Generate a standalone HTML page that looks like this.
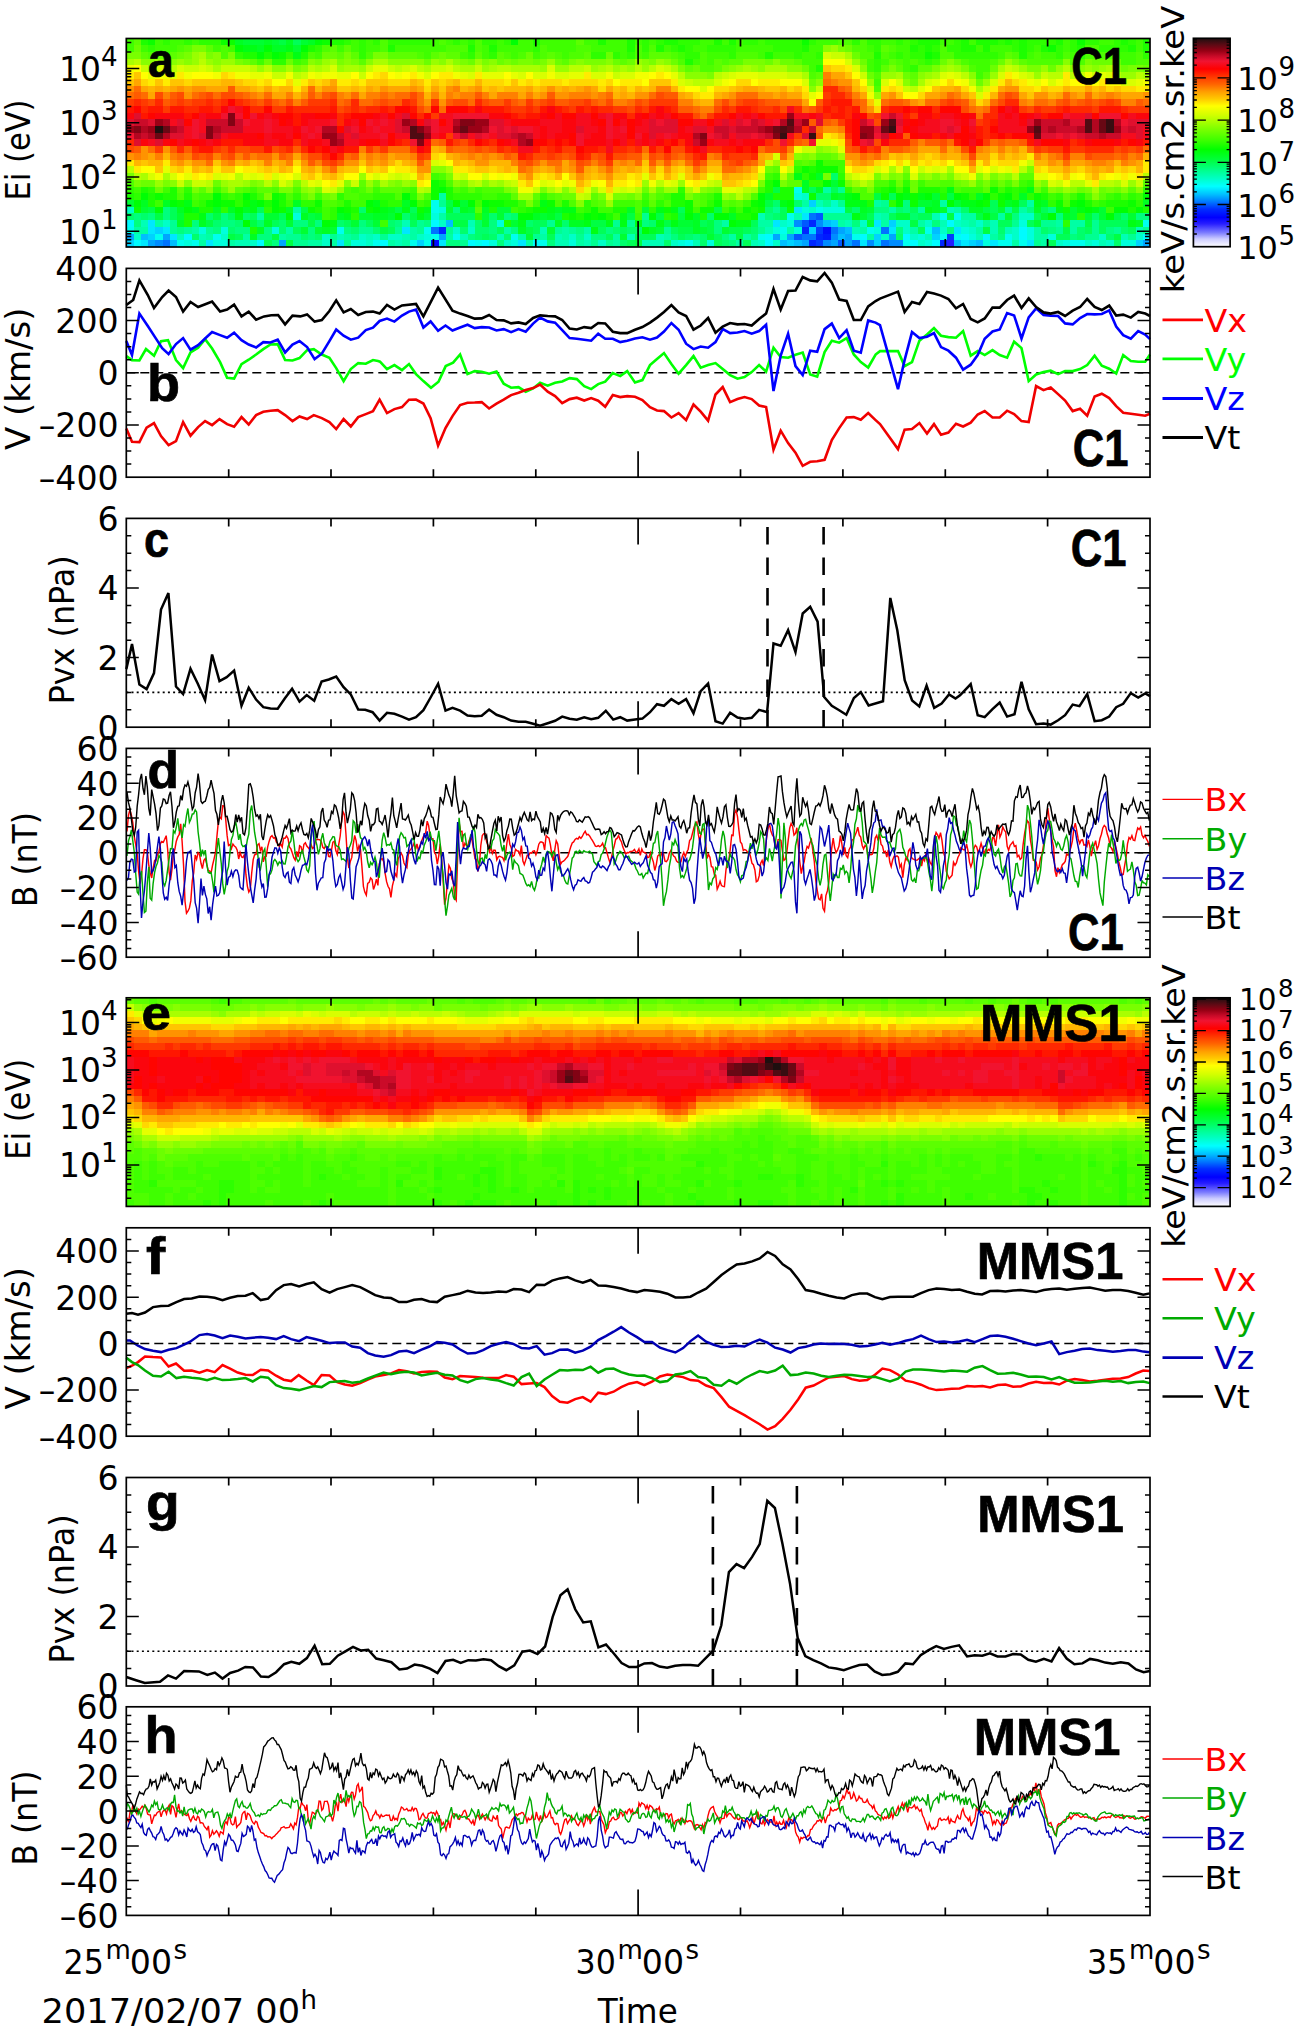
<!DOCTYPE html><html><head><meta charset="utf-8"><title>Figure</title><style>html,body{margin:0;padding:0;background:#fff}svg{display:block}</style></head><body>
<svg width="1299" height="2035" viewBox="0 0 1299 2035">
<rect width="1299" height="2035" fill="#fff"/>
<g shape-rendering="crispEdges">
<path fill="#251cff" d="M946.7 240.3H954.0V247.0H946.7z"/>
<path fill="#000bff" d="M823.3 226.8H830.5V233.5H823.3zM431.2 240.3H438.5V247.0H431.2z"/>
<path fill="#0019ff" d="M823.3 233.5H830.5V240.3H823.3z"/>
<path fill="#0027ff" d="M808.8 220.1H816.0V226.8H808.8zM438.5 226.8H445.8V233.5H438.5zM801.5 226.8H808.8V233.5H801.5zM816.0 233.5H823.3V240.3H816.0zM808.8 240.3H816.0V247.0H808.8zM939.5 240.3H946.7V247.0H939.5z"/>
<path fill="#003dff" d="M816.0 226.8H823.3V233.5H816.0zM946.7 233.5H954.0V240.3H946.7zM816.0 240.3H823.3V247.0H816.0z"/>
<path fill="#0058ff" d="M816.0 213.4H823.3V220.1H816.0zM801.5 220.1H808.8V226.8H801.5zM794.2 233.5H801.5V240.3H794.2zM837.8 240.3H845.1V247.0H837.8z"/>
<path fill="#0073ff" d="M808.8 213.4H816.0V220.1H808.8zM431.2 226.8H438.5V233.5H431.2zM830.5 226.8H837.8V233.5H830.5zM881.4 226.8H888.6V233.5H881.4zM801.5 233.5H816.0V240.3H801.5zM162.6 240.3H169.9V247.0H162.6zM852.3 240.3H859.6V247.0H852.3zM881.4 240.3H888.6V247.0H881.4z"/>
<path fill="#008cff" d="M794.2 220.1H801.5V226.8H794.2zM816.0 220.1H823.3V226.8H816.0zM830.5 233.5H837.8V240.3H830.5zM155.3 240.3H162.6V247.0H155.3zM823.3 240.3H830.5V247.0H823.3zM866.8 240.3H874.1V247.0H866.8zM888.6 240.3H903.2V247.0H888.6z"/>
<path fill="#00a5ff" d="M837.8 226.8H845.1V233.5H837.8zM126.3 233.5H133.6V240.3H126.3zM162.6 233.5H169.9V240.3H162.6zM438.5 233.5H445.8V240.3H438.5zM772.5 233.5H779.7V240.3H772.5zM787.0 233.5H794.2V240.3H787.0zM845.1 233.5H852.3V240.3H845.1zM888.6 233.5H895.9V240.3H888.6zM148.1 240.3H155.3V247.0H148.1zM278.8 240.3H286.0V247.0H278.8zM801.5 240.3H808.8V247.0H801.5zM830.5 240.3H837.8V247.0H830.5zM845.1 240.3H852.3V247.0H845.1zM1142.7 240.3H1150.0V247.0H1142.7z"/>
<path fill="#00beff" d="M445.8 220.1H453.0V226.8H445.8zM823.3 220.1H830.5V226.8H823.3zM845.1 226.8H852.3V233.5H845.1zM932.2 226.8H939.5V233.5H932.2zM140.8 233.5H148.1V240.3H140.8zM837.8 233.5H845.1V240.3H837.8zM169.9 240.3H177.1V247.0H169.9zM779.7 240.3H787.0V247.0H779.7zM794.2 240.3H801.5V247.0H794.2zM954.0 240.3H961.2V247.0H954.0zM975.8 240.3H983.0V247.0H975.8z"/>
<path fill="#00d2ff" d="M808.8 199.9H816.0V206.6H808.8zM830.5 220.1H837.8V226.8H830.5zM888.6 220.1H895.9V226.8H888.6zM155.3 226.8H162.6V233.5H155.3zM808.8 226.8H816.0V233.5H808.8zM148.1 233.5H155.3V240.3H148.1zM874.1 233.5H881.4V240.3H874.1zM932.2 233.5H939.5V240.3H932.2zM126.3 240.3H133.6V247.0H126.3zM416.7 240.3H424.0V247.0H416.7zM787.0 240.3H794.2V247.0H787.0zM874.1 240.3H881.4V247.0H874.1zM968.5 240.3H975.8V247.0H968.5zM1135.5 240.3H1142.7V247.0H1135.5z"/>
<path fill="#00e7ff" d="M794.2 206.6H801.5V213.4H794.2zM801.5 213.4H808.8V220.1H801.5zM148.1 220.1H155.3V226.8H148.1zM772.5 220.1H779.7V226.8H772.5zM874.1 220.1H881.4V226.8H874.1zM148.1 226.8H155.3V233.5H148.1zM162.6 226.8H169.9V233.5H162.6zM402.2 226.8H409.5V233.5H402.2zM888.6 226.8H895.9V233.5H888.6zM954.0 226.8H961.2V233.5H954.0zM169.9 233.5H177.1V240.3H169.9zM140.8 240.3H148.1V247.0H140.8zM206.2 240.3H213.4V247.0H206.2zM336.8 240.3H344.1V247.0H336.8zM438.5 240.3H445.8V247.0H438.5zM518.4 240.3H525.6V247.0H518.4zM859.6 240.3H866.8V247.0H859.6zM961.2 240.3H968.5V247.0H961.2zM990.3 240.3H997.5V247.0H990.3zM1026.6 240.3H1033.8V247.0H1026.6z"/>
<path fill="#00fbff" d="M126.3 220.1H133.6V226.8H126.3zM431.2 220.1H438.5V226.8H431.2zM946.7 220.1H954.0V226.8H946.7zM1019.3 226.8H1026.6V233.5H1019.3zM184.4 233.5H191.6V240.3H184.4zM765.2 233.5H772.5V240.3H765.2zM859.6 233.5H866.8V240.3H859.6zM903.2 233.5H910.4V240.3H903.2zM961.2 233.5H968.5V240.3H961.2zM983.0 233.5H990.3V240.3H983.0zM1019.3 233.5H1026.6V240.3H1019.3zM1142.7 233.5H1150.0V240.3H1142.7zM133.6 240.3H140.8V247.0H133.6zM257.0 240.3H264.2V247.0H257.0zM380.4 240.3H387.7V247.0H380.4zM467.5 240.3H474.8V247.0H467.5zM482.1 240.3H489.3V247.0H482.1zM532.9 240.3H540.1V247.0H532.9zM765.2 240.3H772.5V247.0H765.2zM910.4 240.3H917.7V247.0H910.4zM932.2 240.3H939.5V247.0H932.2z"/>
<path fill="#00ffef" d="M794.2 186.5H801.5V193.2H794.2zM431.2 199.9H438.5V206.6H431.2zM431.2 206.6H438.5V213.4H431.2zM816.0 206.6H823.3V213.4H816.0zM787.0 213.4H794.2V220.1H787.0zM939.5 213.4H946.7V220.1H939.5zM954.0 213.4H961.2V220.1H954.0zM1142.7 220.1H1150.0V226.8H1142.7zM126.3 226.8H133.6V233.5H126.3zM336.8 226.8H344.1V233.5H336.8zM424.0 226.8H431.2V233.5H424.0zM779.7 226.8H787.0V233.5H779.7zM866.8 226.8H874.1V233.5H866.8zM924.9 226.8H932.2V233.5H924.9zM155.3 233.5H162.6V240.3H155.3zM213.4 233.5H220.7V240.3H213.4zM431.2 233.5H438.5V240.3H431.2zM453.0 233.5H460.3V240.3H453.0zM511.1 233.5H518.4V240.3H511.1zM757.9 233.5H765.2V240.3H757.9zM852.3 233.5H859.6V240.3H852.3zM939.5 233.5H946.7V240.3H939.5zM954.0 233.5H961.2V240.3H954.0zM1004.8 233.5H1012.1V240.3H1004.8zM177.1 240.3H184.4V247.0H177.1zM191.6 240.3H198.9V247.0H191.6zM373.1 240.3H380.4V247.0H373.1zM409.5 240.3H416.7V247.0H409.5zM424.0 240.3H431.2V247.0H424.0zM474.8 240.3H482.1V247.0H474.8zM540.1 240.3H547.4V247.0H540.1zM685.3 240.3H692.6V247.0H685.3zM903.2 240.3H910.4V247.0H903.2zM997.5 240.3H1012.1V247.0H997.5zM1019.3 240.3H1026.6V247.0H1019.3zM1070.1 240.3H1084.7V247.0H1070.1z"/>
<path fill="#00ffdc" d="M794.2 193.2H801.5V199.9H794.2zM438.5 206.6H445.8V213.4H438.5zM801.5 206.6H808.8V213.4H801.5zM823.3 206.6H845.1V213.4H823.3zM293.3 213.4H300.5V220.1H293.3zM431.2 213.4H438.5V220.1H431.2zM496.6 220.1H503.8V226.8H496.6zM787.0 220.1H794.2V226.8H787.0zM1019.3 220.1H1026.6V226.8H1019.3zM198.9 226.8H206.2V233.5H198.9zM220.7 226.8H227.9V233.5H220.7zM271.5 226.8H278.8V233.5H271.5zM772.5 226.8H779.7V233.5H772.5zM794.2 226.8H801.5V233.5H794.2zM874.1 226.8H881.4V233.5H874.1zM961.2 226.8H968.5V233.5H961.2zM1026.6 226.8H1033.8V233.5H1026.6zM424.0 233.5H431.2V240.3H424.0zM779.7 233.5H787.0V240.3H779.7zM917.7 233.5H924.9V240.3H917.7zM968.5 233.5H975.8V240.3H968.5zM1026.6 233.5H1033.8V240.3H1026.6zM1048.4 233.5H1055.6V240.3H1048.4zM184.4 240.3H191.6V247.0H184.4zM213.4 240.3H227.9V247.0H213.4zM351.4 240.3H365.9V247.0H351.4zM489.3 240.3H496.6V247.0H489.3zM511.1 240.3H518.4V247.0H511.1zM569.2 240.3H576.4V247.0H569.2zM678.1 240.3H685.3V247.0H678.1zM707.1 240.3H714.4V247.0H707.1zM924.9 240.3H932.2V247.0H924.9zM983.0 240.3H990.3V247.0H983.0zM1062.9 240.3H1070.1V247.0H1062.9zM1091.9 240.3H1099.2V247.0H1091.9zM1121.0 240.3H1135.5V247.0H1121.0z"/>
<path fill="#00ffc8" d="M801.5 193.2H808.8V199.9H801.5zM830.5 199.9H837.8V206.6H830.5zM126.3 206.6H133.6V213.4H126.3zM808.8 206.6H816.0V213.4H808.8zM1019.3 213.4H1033.8V220.1H1019.3zM162.6 220.1H169.9V226.8H162.6zM438.5 220.1H445.8V226.8H438.5zM779.7 220.1H787.0V226.8H779.7zM859.6 220.1H866.8V226.8H859.6zM895.9 220.1H910.4V226.8H895.9zM924.9 220.1H932.2V226.8H924.9zM954.0 220.1H961.2V226.8H954.0zM975.8 220.1H983.0V226.8H975.8zM453.0 226.8H460.3V233.5H453.0zM467.5 226.8H474.8V233.5H467.5zM903.2 226.8H910.4V233.5H903.2zM939.5 226.8H946.7V233.5H939.5zM968.5 226.8H975.8V233.5H968.5zM1012.1 226.8H1019.3V233.5H1012.1zM133.6 233.5H140.8V240.3H133.6zM220.7 233.5H227.9V240.3H220.7zM322.3 233.5H329.6V240.3H322.3zM358.6 233.5H365.9V240.3H358.6zM373.1 233.5H380.4V240.3H373.1zM387.7 233.5H402.2V240.3H387.7zM416.7 233.5H424.0V240.3H416.7zM569.2 233.5H576.4V240.3H569.2zM583.7 233.5H591.0V240.3H583.7zM881.4 233.5H888.6V240.3H881.4zM910.4 233.5H917.7V240.3H910.4zM1012.1 233.5H1019.3V240.3H1012.1zM1099.2 233.5H1106.4V240.3H1099.2zM1135.5 233.5H1142.7V240.3H1135.5zM249.7 240.3H257.0V247.0H249.7zM322.3 240.3H329.6V247.0H322.3zM365.9 240.3H373.1V247.0H365.9zM503.8 240.3H511.1V247.0H503.8zM598.2 240.3H605.5V247.0H598.2zM670.8 240.3H678.1V247.0H670.8zM757.9 240.3H765.2V247.0H757.9zM772.5 240.3H779.7V247.0H772.5zM917.7 240.3H924.9V247.0H917.7zM1055.6 240.3H1062.9V247.0H1055.6zM1084.7 240.3H1091.9V247.0H1084.7zM1106.4 240.3H1113.7V247.0H1106.4z"/>
<path fill="#00ffb6" d="M816.0 199.9H823.3V206.6H816.0zM946.7 206.6H954.0V213.4H946.7zM757.9 213.4H765.2V220.1H757.9zM794.2 213.4H801.5V220.1H794.2zM874.1 213.4H881.4V220.1H874.1zM932.2 213.4H939.5V220.1H932.2zM140.8 220.1H148.1V226.8H140.8zM402.2 220.1H409.5V226.8H402.2zM467.5 220.1H474.8V226.8H467.5zM845.1 220.1H852.3V226.8H845.1zM939.5 220.1H946.7V226.8H939.5zM961.2 220.1H968.5V226.8H961.2zM990.3 220.1H997.5V226.8H990.3zM540.1 226.8H547.4V233.5H540.1zM765.2 226.8H772.5V233.5H765.2zM852.3 226.8H859.6V233.5H852.3zM990.3 226.8H997.5V233.5H990.3zM1004.8 226.8H1012.1V233.5H1004.8zM1135.5 226.8H1142.7V233.5H1135.5zM177.1 233.5H184.4V240.3H177.1zM198.9 233.5H206.2V240.3H198.9zM336.8 233.5H344.1V240.3H336.8zM365.9 233.5H373.1V240.3H365.9zM402.2 233.5H409.5V240.3H402.2zM460.3 233.5H467.5V240.3H460.3zM496.6 233.5H503.8V240.3H496.6zM554.7 233.5H561.9V240.3H554.7zM627.3 233.5H634.5V240.3H627.3zM656.3 233.5H663.6V240.3H656.3zM924.9 233.5H932.2V240.3H924.9zM975.8 233.5H983.0V240.3H975.8zM1121.0 233.5H1128.2V240.3H1121.0zM235.2 240.3H249.7V247.0H235.2zM394.9 240.3H402.2V247.0H394.9zM554.7 240.3H569.2V247.0H554.7zM583.7 240.3H591.0V247.0H583.7zM641.8 240.3H663.6V247.0H641.8zM692.6 240.3H699.9V247.0H692.6zM750.7 240.3H757.9V247.0H750.7zM1099.2 240.3H1106.4V247.0H1099.2z"/>
<path fill="#00ffa4" d="M823.3 186.5H830.5V193.2H823.3zM438.5 193.2H445.8V199.9H438.5zM801.5 199.9H808.8V206.6H801.5zM874.1 199.9H881.4V206.6H874.1zM939.5 199.9H946.7V206.6H939.5zM1026.6 199.9H1033.8V206.6H1026.6zM293.3 206.6H300.5V213.4H293.3zM888.6 206.6H895.9V213.4H888.6zM917.7 206.6H924.9V213.4H917.7zM954.0 206.6H961.2V213.4H954.0zM1019.3 206.6H1026.6V213.4H1019.3zM257.0 213.4H264.2V220.1H257.0zM438.5 213.4H445.8V220.1H438.5zM881.4 213.4H888.6V220.1H881.4zM961.2 213.4H975.8V220.1H961.2zM997.5 213.4H1004.8V220.1H997.5zM155.3 220.1H162.6V226.8H155.3zM721.6 220.1H728.9V226.8H721.6zM757.9 220.1H772.5V226.8H757.9zM837.8 220.1H845.1V226.8H837.8zM881.4 220.1H888.6V226.8H881.4zM917.7 220.1H924.9V226.8H917.7zM968.5 220.1H975.8V226.8H968.5zM1055.6 220.1H1062.9V226.8H1055.6zM1070.1 220.1H1084.7V226.8H1070.1zM133.6 226.8H148.1V233.5H133.6zM191.6 226.8H198.9V233.5H191.6zM286.0 226.8H293.3V233.5H286.0zM409.5 226.8H416.7V233.5H409.5zM503.8 226.8H511.1V233.5H503.8zM561.9 226.8H569.2V233.5H561.9zM583.7 226.8H591.0V233.5H583.7zM787.0 226.8H794.2V233.5H787.0zM859.6 226.8H866.8V233.5H859.6zM910.4 226.8H917.7V233.5H910.4zM975.8 226.8H983.0V233.5H975.8zM1033.8 226.8H1041.1V233.5H1033.8zM1070.1 226.8H1077.4V233.5H1070.1zM206.2 233.5H213.4V240.3H206.2zM242.5 233.5H249.7V240.3H242.5zM278.8 233.5H286.0V240.3H278.8zM344.1 233.5H351.4V240.3H344.1zM409.5 233.5H416.7V240.3H409.5zM445.8 233.5H453.0V240.3H445.8zM518.4 233.5H525.6V240.3H518.4zM540.1 233.5H547.4V240.3H540.1zM561.9 233.5H569.2V240.3H561.9zM612.7 233.5H620.0V240.3H612.7zM663.6 233.5H670.8V240.3H663.6zM728.9 233.5H736.2V240.3H728.9zM743.4 233.5H750.7V240.3H743.4zM866.8 233.5H874.1V240.3H866.8zM990.3 233.5H997.5V240.3H990.3zM1033.8 233.5H1048.4V240.3H1033.8zM198.9 240.3H206.2V247.0H198.9zM227.9 240.3H235.2V247.0H227.9zM307.8 240.3H322.3V247.0H307.8zM329.6 240.3H336.8V247.0H329.6zM387.7 240.3H394.9V247.0H387.7zM402.2 240.3H409.5V247.0H402.2zM525.6 240.3H532.9V247.0H525.6zM576.4 240.3H583.7V247.0H576.4zM612.7 240.3H620.0V247.0H612.7zM736.2 240.3H743.4V247.0H736.2zM1012.1 240.3H1019.3V247.0H1012.1zM1041.1 240.3H1048.4V247.0H1041.1z"/>
<path fill="#00ff92" d="M837.8 186.5H845.1V193.2H837.8zM438.5 199.9H445.8V206.6H438.5zM823.3 199.9H830.5V206.6H823.3zM837.8 199.9H845.1V206.6H837.8zM881.4 199.9H888.6V206.6H881.4zM772.5 206.6H779.7V213.4H772.5zM1004.8 206.6H1012.1V213.4H1004.8zM641.8 213.4H649.0V220.1H641.8zM823.3 213.4H852.3V220.1H823.3zM169.9 220.1H177.1V226.8H169.9zM416.7 220.1H424.0V226.8H416.7zM547.4 220.1H554.7V226.8H547.4zM612.7 220.1H620.0V226.8H612.7zM627.3 220.1H634.5V226.8H627.3zM983.0 220.1H990.3V226.8H983.0zM1012.1 220.1H1019.3V226.8H1012.1zM1041.1 220.1H1055.6V226.8H1041.1zM1091.9 220.1H1099.2V226.8H1091.9zM169.9 226.8H177.1V233.5H169.9zM184.4 226.8H191.6V233.5H184.4zM206.2 226.8H213.4V233.5H206.2zM358.6 226.8H373.1V233.5H358.6zM394.9 226.8H402.2V233.5H394.9zM416.7 226.8H424.0V233.5H416.7zM445.8 226.8H453.0V233.5H445.8zM554.7 226.8H561.9V233.5H554.7zM569.2 226.8H576.4V233.5H569.2zM663.6 226.8H670.8V233.5H663.6zM757.9 226.8H765.2V233.5H757.9zM1055.6 226.8H1062.9V233.5H1055.6zM1091.9 226.8H1099.2V233.5H1091.9zM1113.7 226.8H1121.0V233.5H1113.7zM1142.7 226.8H1150.0V233.5H1142.7zM286.0 233.5H300.5V240.3H286.0zM329.6 233.5H336.8V240.3H329.6zM351.4 233.5H358.6V240.3H351.4zM380.4 233.5H387.7V240.3H380.4zM532.9 233.5H540.1V240.3H532.9zM576.4 233.5H583.7V240.3H576.4zM1084.7 233.5H1099.2V240.3H1084.7zM1128.2 233.5H1135.5V240.3H1128.2zM293.3 240.3H307.8V247.0H293.3zM344.1 240.3H351.4V247.0H344.1zM460.3 240.3H467.5V247.0H460.3zM591.0 240.3H598.2V247.0H591.0zM605.5 240.3H612.7V247.0H605.5zM1033.8 240.3H1041.1V247.0H1033.8z"/>
<path fill="#00ff7e" d="M903.2 199.9H910.4V206.6H903.2zM162.6 206.6H169.9V213.4H162.6zM453.0 206.6H460.3V213.4H453.0zM874.1 206.6H888.6V213.4H874.1zM903.2 206.6H910.4V213.4H903.2zM1026.6 206.6H1033.8V213.4H1026.6zM1048.4 206.6H1055.6V213.4H1048.4zM133.6 213.4H140.8V220.1H133.6zM148.1 213.4H155.3V220.1H148.1zM162.6 213.4H169.9V220.1H162.6zM220.7 213.4H227.9V220.1H220.7zM503.8 213.4H511.1V220.1H503.8zM765.2 213.4H772.5V220.1H765.2zM1012.1 213.4H1019.3V220.1H1012.1zM1055.6 213.4H1062.9V220.1H1055.6zM1135.5 213.4H1150.0V220.1H1135.5zM133.6 220.1H140.8V226.8H133.6zM191.6 220.1H198.9V226.8H191.6zM220.7 220.1H235.2V226.8H220.7zM293.3 220.1H307.8V226.8H293.3zM315.1 220.1H322.3V226.8H315.1zM358.6 220.1H365.9V226.8H358.6zM394.9 220.1H402.2V226.8H394.9zM424.0 220.1H431.2V226.8H424.0zM489.3 220.1H496.6V226.8H489.3zM641.8 220.1H649.0V226.8H641.8zM714.4 220.1H721.6V226.8H714.4zM852.3 220.1H859.6V226.8H852.3zM932.2 220.1H939.5V226.8H932.2zM177.1 226.8H184.4V233.5H177.1zM213.4 226.8H220.7V233.5H213.4zM235.2 226.8H249.7V233.5H235.2zM264.2 226.8H271.5V233.5H264.2zM307.8 226.8H315.1V233.5H307.8zM344.1 226.8H351.4V233.5H344.1zM489.3 226.8H496.6V233.5H489.3zM511.1 226.8H518.4V233.5H511.1zM576.4 226.8H583.7V233.5H576.4zM605.5 226.8H612.7V233.5H605.5zM714.4 226.8H721.6V233.5H714.4zM895.9 226.8H903.2V233.5H895.9zM946.7 226.8H954.0V233.5H946.7zM1048.4 226.8H1055.6V233.5H1048.4zM1106.4 226.8H1113.7V233.5H1106.4zM257.0 233.5H271.5V240.3H257.0zM307.8 233.5H315.1V240.3H307.8zM467.5 233.5H474.8V240.3H467.5zM591.0 233.5H605.5V240.3H591.0zM670.8 233.5H678.1V240.3H670.8zM692.6 233.5H699.9V240.3H692.6zM721.6 233.5H728.9V240.3H721.6zM750.7 233.5H757.9V240.3H750.7zM997.5 233.5H1004.8V240.3H997.5zM1070.1 233.5H1077.4V240.3H1070.1zM271.5 240.3H278.8V247.0H271.5zM445.8 240.3H460.3V247.0H445.8zM496.6 240.3H503.8V247.0H496.6zM547.4 240.3H554.7V247.0H547.4zM728.9 240.3H736.2V247.0H728.9z"/>
<path fill="#00ff6b" d="M830.5 173.0H837.8V179.7H830.5zM816.0 193.2H830.5V199.9H816.0zM772.5 199.9H779.7V206.6H772.5zM794.2 199.9H801.5V206.6H794.2zM358.6 206.6H365.9V213.4H358.6zM765.2 206.6H772.5V213.4H765.2zM852.3 206.6H859.6V213.4H852.3zM895.9 206.6H903.2V213.4H895.9zM961.2 206.6H968.5V213.4H961.2zM126.3 213.4H133.6V220.1H126.3zM140.8 213.4H148.1V220.1H140.8zM206.2 213.4H213.4V220.1H206.2zM242.5 213.4H249.7V220.1H242.5zM402.2 213.4H409.5V220.1H402.2zM489.3 213.4H496.6V220.1H489.3zM511.1 213.4H518.4V220.1H511.1zM707.1 213.4H714.4V220.1H707.1zM772.5 213.4H779.7V220.1H772.5zM910.4 213.4H917.7V220.1H910.4zM1091.9 213.4H1099.2V220.1H1091.9zM1121.0 213.4H1128.2V220.1H1121.0zM213.4 220.1H220.7V226.8H213.4zM235.2 220.1H242.5V226.8H235.2zM257.0 220.1H264.2V226.8H257.0zM278.8 220.1H286.0V226.8H278.8zM336.8 220.1H344.1V226.8H336.8zM387.7 220.1H394.9V226.8H387.7zM474.8 220.1H482.1V226.8H474.8zM525.6 220.1H532.9V226.8H525.6zM561.9 220.1H569.2V226.8H561.9zM649.0 220.1H656.3V226.8H649.0zM227.9 226.8H235.2V233.5H227.9zM278.8 226.8H286.0V233.5H278.8zM351.4 226.8H358.6V233.5H351.4zM373.1 226.8H380.4V233.5H373.1zM460.3 226.8H467.5V233.5H460.3zM474.8 226.8H489.3V233.5H474.8zM612.7 226.8H620.0V233.5H612.7zM627.3 226.8H641.8V233.5H627.3zM750.7 226.8H757.9V233.5H750.7zM997.5 226.8H1004.8V233.5H997.5zM1041.1 226.8H1048.4V233.5H1041.1zM1077.4 226.8H1084.7V233.5H1077.4zM1121.0 226.8H1128.2V233.5H1121.0zM191.6 233.5H198.9V240.3H191.6zM300.5 233.5H307.8V240.3H300.5zM315.1 233.5H322.3V240.3H315.1zM474.8 233.5H482.1V240.3H474.8zM489.3 233.5H496.6V240.3H489.3zM503.8 233.5H511.1V240.3H503.8zM685.3 233.5H692.6V240.3H685.3zM699.9 233.5H707.1V240.3H699.9zM895.9 233.5H903.2V240.3H895.9zM1077.4 233.5H1084.7V240.3H1077.4zM1106.4 233.5H1113.7V240.3H1106.4zM620.0 240.3H627.3V247.0H620.0zM663.6 240.3H670.8V247.0H663.6zM699.9 240.3H707.1V247.0H699.9zM721.6 240.3H728.9V247.0H721.6zM1113.7 240.3H1121.0V247.0H1113.7z"/>
<path fill="#00ff57" d="M293.3 38.5H300.5V45.2H293.3zM808.8 186.5H816.0V193.2H808.8zM830.5 186.5H837.8V193.2H830.5zM888.6 193.2H895.9V199.9H888.6zM990.3 199.9H997.5V206.6H990.3zM1019.3 199.9H1026.6V206.6H1019.3zM169.9 206.6H177.1V213.4H169.9zM257.0 206.6H264.2V213.4H257.0zM409.5 206.6H416.7V213.4H409.5zM678.1 206.6H685.3V213.4H678.1zM779.7 206.6H787.0V213.4H779.7zM910.4 206.6H917.7V213.4H910.4zM990.3 206.6H997.5V213.4H990.3zM1041.1 206.6H1048.4V213.4H1041.1zM169.9 213.4H177.1V220.1H169.9zM227.9 213.4H235.2V220.1H227.9zM249.7 213.4H257.0V220.1H249.7zM278.8 213.4H286.0V220.1H278.8zM445.8 213.4H474.8V220.1H445.8zM779.7 213.4H787.0V220.1H779.7zM866.8 213.4H874.1V220.1H866.8zM888.6 213.4H895.9V220.1H888.6zM917.7 213.4H932.2V220.1H917.7zM1033.8 213.4H1041.1V220.1H1033.8zM271.5 220.1H278.8V226.8H271.5zM344.1 220.1H351.4V226.8H344.1zM365.9 220.1H373.1V226.8H365.9zM409.5 220.1H416.7V226.8H409.5zM532.9 220.1H547.4V226.8H532.9zM699.9 220.1H707.1V226.8H699.9zM750.7 220.1H757.9V226.8H750.7zM997.5 220.1H1012.1V226.8H997.5zM1026.6 220.1H1033.8V226.8H1026.6zM1099.2 220.1H1128.2V226.8H1099.2zM293.3 226.8H300.5V233.5H293.3zM387.7 226.8H394.9V233.5H387.7zM496.6 226.8H503.8V233.5H496.6zM532.9 226.8H540.1V233.5H532.9zM598.2 226.8H605.5V233.5H598.2zM620.0 226.8H627.3V233.5H620.0zM670.8 226.8H678.1V233.5H670.8zM743.4 226.8H750.7V233.5H743.4zM917.7 226.8H924.9V233.5H917.7zM1084.7 226.8H1091.9V233.5H1084.7zM1099.2 226.8H1106.4V233.5H1099.2zM1128.2 226.8H1135.5V233.5H1128.2zM235.2 233.5H242.5V240.3H235.2zM482.1 233.5H489.3V240.3H482.1zM547.4 233.5H554.7V240.3H547.4zM605.5 233.5H612.7V240.3H605.5zM634.5 233.5H656.3V240.3H634.5zM678.1 233.5H685.3V240.3H678.1zM714.4 233.5H721.6V240.3H714.4zM1055.6 233.5H1070.1V240.3H1055.6zM264.2 240.3H271.5V247.0H264.2zM627.3 240.3H634.5V247.0H627.3zM714.4 240.3H721.6V247.0H714.4zM743.4 240.3H750.7V247.0H743.4zM1048.4 240.3H1055.6V247.0H1048.4z"/>
<path fill="#00ff43" d="M278.8 38.5H286.0V45.2H278.8zM772.5 186.5H779.7V193.2H772.5zM874.1 193.2H881.4V199.9H874.1zM946.7 193.2H954.0V199.9H946.7zM445.8 199.9H453.0V206.6H445.8zM765.2 199.9H772.5V206.6H765.2zM148.1 206.6H155.3V213.4H148.1zM300.5 206.6H307.8V213.4H300.5zM394.9 206.6H402.2V213.4H394.9zM714.4 206.6H721.6V213.4H714.4zM845.1 206.6H852.3V213.4H845.1zM983.0 206.6H990.3V213.4H983.0zM1012.1 206.6H1019.3V213.4H1012.1zM155.3 213.4H162.6V220.1H155.3zM213.4 213.4H220.7V220.1H213.4zM307.8 213.4H315.1V220.1H307.8zM409.5 213.4H416.7V220.1H409.5zM554.7 213.4H561.9V220.1H554.7zM627.3 213.4H634.5V220.1H627.3zM656.3 213.4H663.6V220.1H656.3zM678.1 213.4H685.3V220.1H678.1zM946.7 213.4H954.0V220.1H946.7zM975.8 213.4H983.0V220.1H975.8zM990.3 213.4H997.5V220.1H990.3zM1113.7 213.4H1121.0V220.1H1113.7zM206.2 220.1H213.4V226.8H206.2zM249.7 220.1H257.0V226.8H249.7zM307.8 220.1H315.1V226.8H307.8zM453.0 220.1H467.5V226.8H453.0zM591.0 220.1H605.5V226.8H591.0zM663.6 220.1H670.8V226.8H663.6zM707.1 220.1H714.4V226.8H707.1zM910.4 220.1H917.7V226.8H910.4zM1084.7 220.1H1091.9V226.8H1084.7zM380.4 226.8H387.7V233.5H380.4zM525.6 226.8H532.9V233.5H525.6zM678.1 226.8H692.6V233.5H678.1zM707.1 226.8H714.4V233.5H707.1zM728.9 226.8H743.4V233.5H728.9zM983.0 226.8H990.3V233.5H983.0zM1062.9 226.8H1070.1V233.5H1062.9zM227.9 233.5H235.2V240.3H227.9zM271.5 233.5H278.8V240.3H271.5zM736.2 233.5H743.4V240.3H736.2zM1113.7 233.5H1121.0V240.3H1113.7zM286.0 240.3H293.3V247.0H286.0zM634.5 240.3H641.8V247.0H634.5z"/>
<path fill="#00ff32" d="M242.5 38.5H264.2V45.2H242.5zM271.5 38.5H278.8V45.2H271.5zM300.5 38.5H307.8V45.2H300.5zM293.3 45.2H300.5V52.0H293.3zM830.5 179.7H837.8V186.5H830.5zM837.8 193.2H845.1V199.9H837.8zM932.2 193.2H939.5V199.9H932.2zM126.3 199.9H133.6V206.6H126.3zM460.3 199.9H467.5V206.6H460.3zM917.7 199.9H932.2V206.6H917.7zM954.0 199.9H961.2V206.6H954.0zM140.8 206.6H148.1V213.4H140.8zM445.8 206.6H453.0V213.4H445.8zM467.5 206.6H474.8V213.4H467.5zM496.6 206.6H511.1V213.4H496.6zM641.8 206.6H649.0V213.4H641.8zM866.8 206.6H874.1V213.4H866.8zM939.5 206.6H946.7V213.4H939.5zM997.5 206.6H1004.8V213.4H997.5zM1070.1 206.6H1077.4V213.4H1070.1zM1099.2 206.6H1106.4V213.4H1099.2zM177.1 213.4H184.4V220.1H177.1zM264.2 213.4H278.8V220.1H264.2zM315.1 213.4H322.3V220.1H315.1zM358.6 213.4H373.1V220.1H358.6zM387.7 213.4H394.9V220.1H387.7zM424.0 213.4H431.2V220.1H424.0zM482.1 213.4H489.3V220.1H482.1zM496.6 213.4H503.8V220.1H496.6zM540.1 213.4H547.4V220.1H540.1zM859.6 213.4H866.8V220.1H859.6zM895.9 213.4H910.4V220.1H895.9zM1004.8 213.4H1012.1V220.1H1004.8zM1041.1 213.4H1048.4V220.1H1041.1zM1070.1 213.4H1077.4V220.1H1070.1zM1084.7 213.4H1091.9V220.1H1084.7zM1099.2 213.4H1106.4V220.1H1099.2zM1128.2 213.4H1135.5V220.1H1128.2zM286.0 220.1H293.3V226.8H286.0zM351.4 220.1H358.6V226.8H351.4zM373.1 220.1H380.4V226.8H373.1zM482.1 220.1H489.3V226.8H482.1zM511.1 220.1H518.4V226.8H511.1zM678.1 220.1H692.6V226.8H678.1zM866.8 220.1H874.1V226.8H866.8zM1033.8 220.1H1041.1V226.8H1033.8zM300.5 226.8H307.8V233.5H300.5zM315.1 226.8H322.3V233.5H315.1zM329.6 226.8H336.8V233.5H329.6zM547.4 226.8H554.7V233.5H547.4zM656.3 226.8H663.6V233.5H656.3zM699.9 226.8H707.1V233.5H699.9zM721.6 226.8H728.9V233.5H721.6zM525.6 233.5H532.9V240.3H525.6zM620.0 233.5H627.3V240.3H620.0zM707.1 233.5H714.4V240.3H707.1z"/>
<path fill="#00ff23" d="M235.2 38.5H242.5V45.2H235.2zM264.2 38.5H271.5V45.2H264.2zM286.0 38.5H293.3V45.2H286.0zM307.8 38.5H315.1V45.2H307.8zM257.0 45.2H264.2V52.0H257.0zM271.5 45.2H286.0V52.0H271.5zM816.0 173.0H823.3V179.7H816.0zM801.5 179.7H808.8V186.5H801.5zM801.5 186.5H808.8V193.2H801.5zM816.0 186.5H823.3V193.2H816.0zM765.2 193.2H772.5V199.9H765.2zM830.5 193.2H837.8V199.9H830.5zM975.8 193.2H983.0V199.9H975.8zM1019.3 193.2H1026.6V199.9H1019.3zM140.8 199.9H148.1V206.6H140.8zM162.6 199.9H169.9V206.6H162.6zM293.3 199.9H300.5V206.6H293.3zM402.2 199.9H409.5V206.6H402.2zM932.2 199.9H939.5V206.6H932.2zM1004.8 199.9H1012.1V206.6H1004.8zM1041.1 199.9H1048.4V206.6H1041.1zM1142.7 199.9H1150.0V206.6H1142.7zM177.1 206.6H184.4V213.4H177.1zM213.4 206.6H220.7V213.4H213.4zM227.9 206.6H235.2V213.4H227.9zM242.5 206.6H249.7V213.4H242.5zM286.0 206.6H293.3V213.4H286.0zM387.7 206.6H394.9V213.4H387.7zM460.3 206.6H467.5V213.4H460.3zM482.1 206.6H489.3V213.4H482.1zM554.7 206.6H561.9V213.4H554.7zM627.3 206.6H634.5V213.4H627.3zM859.6 206.6H866.8V213.4H859.6zM932.2 206.6H939.5V213.4H932.2zM968.5 206.6H983.0V213.4H968.5zM1033.8 206.6H1041.1V213.4H1033.8zM300.5 213.4H307.8V220.1H300.5zM336.8 213.4H344.1V220.1H336.8zM373.1 213.4H387.7V220.1H373.1zM532.9 213.4H540.1V220.1H532.9zM547.4 213.4H554.7V220.1H547.4zM692.6 213.4H699.9V220.1H692.6zM728.9 213.4H736.2V220.1H728.9zM1062.9 213.4H1070.1V220.1H1062.9zM177.1 220.1H184.4V226.8H177.1zM198.9 220.1H206.2V226.8H198.9zM264.2 220.1H271.5V226.8H264.2zM554.7 220.1H561.9V226.8H554.7zM569.2 220.1H583.7V226.8H569.2zM692.6 220.1H699.9V226.8H692.6zM1135.5 220.1H1142.7V226.8H1135.5zM257.0 226.8H264.2V233.5H257.0zM322.3 226.8H329.6V233.5H322.3zM518.4 226.8H525.6V233.5H518.4zM649.0 226.8H656.3V233.5H649.0zM692.6 226.8H699.9V233.5H692.6zM249.7 233.5H257.0V240.3H249.7z"/>
<path fill="#00ff14" d="M242.5 45.2H257.0V52.0H242.5zM286.0 45.2H293.3V52.0H286.0zM293.3 52.0H300.5V58.7H293.3zM794.2 173.0H801.5V179.7H794.2zM946.7 186.5H954.0V193.2H946.7zM1026.6 186.5H1033.8V193.2H1026.6zM845.1 193.2H852.3V199.9H845.1zM903.2 193.2H910.4V199.9H903.2zM917.7 193.2H924.9V199.9H917.7zM184.4 199.9H191.6V206.6H184.4zM249.7 199.9H257.0V206.6H249.7zM373.1 199.9H380.4V206.6H373.1zM540.1 199.9H547.4V206.6H540.1zM779.7 199.9H787.0V206.6H779.7zM845.1 199.9H866.8V206.6H845.1zM961.2 199.9H975.8V206.6H961.2zM1012.1 199.9H1019.3V206.6H1012.1zM1033.8 199.9H1041.1V206.6H1033.8zM191.6 206.6H198.9V213.4H191.6zM249.7 206.6H257.0V213.4H249.7zM380.4 206.6H387.7V213.4H380.4zM402.2 206.6H409.5V213.4H402.2zM424.0 206.6H431.2V213.4H424.0zM547.4 206.6H554.7V213.4H547.4zM561.9 206.6H576.4V213.4H561.9zM656.3 206.6H663.6V213.4H656.3zM670.8 206.6H678.1V213.4H670.8zM924.9 206.6H932.2V213.4H924.9zM1055.6 206.6H1062.9V213.4H1055.6zM1077.4 206.6H1084.7V213.4H1077.4zM1091.9 206.6H1099.2V213.4H1091.9zM198.9 213.4H206.2V220.1H198.9zM235.2 213.4H242.5V220.1H235.2zM344.1 213.4H351.4V220.1H344.1zM416.7 213.4H424.0V220.1H416.7zM620.0 213.4H627.3V220.1H620.0zM852.3 213.4H859.6V220.1H852.3zM983.0 213.4H990.3V220.1H983.0zM329.6 220.1H336.8V226.8H329.6zM518.4 220.1H525.6V226.8H518.4zM583.7 220.1H591.0V226.8H583.7zM605.5 220.1H612.7V226.8H605.5zM620.0 220.1H627.3V226.8H620.0zM634.5 220.1H641.8V226.8H634.5zM656.3 220.1H663.6V226.8H656.3zM670.8 220.1H678.1V226.8H670.8zM736.2 220.1H750.7V226.8H736.2zM1128.2 220.1H1135.5V226.8H1128.2zM591.0 226.8H598.2V233.5H591.0z"/>
<path fill="#00ff04" d="M315.1 38.5H322.3V45.2H315.1zM511.1 38.5H518.4V45.2H511.1zM235.2 45.2H242.5V52.0H235.2zM264.2 45.2H271.5V52.0H264.2zM300.5 45.2H307.8V52.0H300.5zM257.0 52.0H264.2V58.7H257.0zM271.5 52.0H278.8V58.7H271.5zM772.5 179.7H779.7V186.5H772.5zM823.3 179.7H830.5V186.5H823.3zM438.5 186.5H445.8V193.2H438.5zM140.8 193.2H148.1V199.9H140.8zM213.4 193.2H220.7V199.9H213.4zM242.5 193.2H249.7V199.9H242.5zM402.2 193.2H409.5V199.9H402.2zM757.9 193.2H765.2V199.9H757.9zM852.3 193.2H859.6V199.9H852.3zM895.9 193.2H903.2V199.9H895.9zM924.9 193.2H932.2V199.9H924.9zM954.0 193.2H961.2V199.9H954.0zM983.0 193.2H990.3V199.9H983.0zM1004.8 193.2H1012.1V199.9H1004.8zM1142.7 193.2H1150.0V199.9H1142.7zM133.6 199.9H140.8V206.6H133.6zM169.9 199.9H177.1V206.6H169.9zM213.4 199.9H220.7V206.6H213.4zM257.0 199.9H264.2V206.6H257.0zM271.5 199.9H278.8V206.6H271.5zM365.9 199.9H373.1V206.6H365.9zM409.5 199.9H416.7V206.6H409.5zM453.0 199.9H460.3V206.6H453.0zM467.5 199.9H474.8V206.6H467.5zM482.1 199.9H489.3V206.6H482.1zM757.9 199.9H765.2V206.6H757.9zM787.0 199.9H794.2V206.6H787.0zM895.9 199.9H903.2V206.6H895.9zM946.7 199.9H954.0V206.6H946.7zM975.8 199.9H983.0V206.6H975.8zM1077.4 199.9H1084.7V206.6H1077.4zM155.3 206.6H162.6V213.4H155.3zM184.4 206.6H191.6V213.4H184.4zM235.2 206.6H242.5V213.4H235.2zM271.5 206.6H278.8V213.4H271.5zM336.8 206.6H344.1V213.4H336.8zM373.1 206.6H380.4V213.4H373.1zM1084.7 206.6H1091.9V213.4H1084.7zM1113.7 206.6H1128.2V213.4H1113.7zM1135.5 206.6H1142.7V213.4H1135.5zM286.0 213.4H293.3V220.1H286.0zM394.9 213.4H402.2V220.1H394.9zM518.4 213.4H532.9V220.1H518.4zM583.7 213.4H591.0V220.1H583.7zM598.2 213.4H605.5V220.1H598.2zM649.0 213.4H656.3V220.1H649.0zM685.3 213.4H692.6V220.1H685.3zM714.4 213.4H728.9V220.1H714.4zM1048.4 213.4H1055.6V220.1H1048.4zM1106.4 213.4H1113.7V220.1H1106.4zM242.5 220.1H249.7V226.8H242.5zM322.3 220.1H329.6V226.8H322.3zM728.9 220.1H736.2V226.8H728.9zM641.8 226.8H649.0V233.5H641.8z"/>
<path fill="#0cff00" d="M148.1 38.5H155.3V45.2H148.1zM220.7 38.5H235.2V45.2H220.7zM322.3 38.5H329.6V45.2H322.3zM801.5 38.5H808.8V45.2H801.5zM1077.4 38.5H1084.7V45.2H1077.4zM1048.4 45.2H1055.6V52.0H1048.4zM278.8 52.0H286.0V58.7H278.8zM924.9 52.0H932.2V58.7H924.9zM816.0 159.6H823.3V166.3H816.0zM801.5 166.3H808.8V173.0H801.5zM816.0 166.3H837.8V173.0H816.0zM808.8 173.0H816.0V179.7H808.8zM431.2 179.7H438.5V186.5H431.2zM837.8 179.7H845.1V186.5H837.8zM431.2 186.5H438.5V193.2H431.2zM888.6 186.5H895.9V193.2H888.6zM903.2 186.5H910.4V193.2H903.2zM990.3 186.5H997.5V193.2H990.3zM155.3 193.2H162.6V199.9H155.3zM271.5 193.2H278.8V199.9H271.5zM431.2 193.2H438.5V199.9H431.2zM808.8 193.2H816.0V199.9H808.8zM881.4 193.2H888.6V199.9H881.4zM910.4 193.2H917.7V199.9H910.4zM961.2 193.2H968.5V199.9H961.2zM997.5 193.2H1004.8V199.9H997.5zM1033.8 193.2H1041.1V199.9H1033.8zM177.1 199.9H184.4V206.6H177.1zM206.2 199.9H213.4V206.6H206.2zM220.7 199.9H235.2V206.6H220.7zM242.5 199.9H249.7V206.6H242.5zM315.1 199.9H322.3V206.6H315.1zM489.3 199.9H503.8V206.6H489.3zM547.4 199.9H554.7V206.6H547.4zM685.3 199.9H692.6V206.6H685.3zM714.4 199.9H721.6V206.6H714.4zM750.7 199.9H757.9V206.6H750.7zM910.4 199.9H917.7V206.6H910.4zM983.0 199.9H990.3V206.6H983.0zM997.5 199.9H1004.8V206.6H997.5zM1055.6 199.9H1062.9V206.6H1055.6zM1070.1 199.9H1077.4V206.6H1070.1zM1128.2 199.9H1135.5V206.6H1128.2zM133.6 206.6H140.8V213.4H133.6zM278.8 206.6H286.0V213.4H278.8zM307.8 206.6H315.1V213.4H307.8zM344.1 206.6H351.4V213.4H344.1zM365.9 206.6H373.1V213.4H365.9zM416.7 206.6H424.0V213.4H416.7zM532.9 206.6H547.4V213.4H532.9zM591.0 206.6H598.2V213.4H591.0zM663.6 206.6H670.8V213.4H663.6zM685.3 206.6H692.6V213.4H685.3zM699.9 206.6H714.4V213.4H699.9zM743.4 206.6H750.7V213.4H743.4zM757.9 206.6H765.2V213.4H757.9zM787.0 206.6H794.2V213.4H787.0zM1062.9 206.6H1070.1V213.4H1062.9zM569.2 213.4H576.4V220.1H569.2zM591.0 213.4H598.2V220.1H591.0zM750.7 213.4H757.9V220.1H750.7z"/>
<path fill="#1dff00" d="M140.8 38.5H148.1V45.2H140.8zM329.6 38.5H344.1V45.2H329.6zM532.9 38.5H540.1V45.2H532.9zM598.2 38.5H605.5V45.2H598.2zM627.3 38.5H634.5V45.2H627.3zM663.6 38.5H678.1V45.2H663.6zM714.4 38.5H721.6V45.2H714.4zM728.9 38.5H736.2V45.2H728.9zM917.7 38.5H939.5V45.2H917.7zM961.2 38.5H968.5V45.2H961.2zM975.8 38.5H997.5V45.2H975.8zM1004.8 38.5H1012.1V45.2H1004.8zM1019.3 38.5H1026.6V45.2H1019.3zM1055.6 38.5H1062.9V45.2H1055.6zM1121.0 38.5H1128.2V45.2H1121.0zM1142.7 38.5H1150.0V45.2H1142.7zM307.8 45.2H315.1V52.0H307.8zM387.7 45.2H394.9V52.0H387.7zM467.5 45.2H474.8V52.0H467.5zM489.3 45.2H496.6V52.0H489.3zM627.3 45.2H634.5V52.0H627.3zM656.3 45.2H663.6V52.0H656.3zM678.1 45.2H685.3V52.0H678.1zM801.5 45.2H808.8V52.0H801.5zM910.4 45.2H917.7V52.0H910.4zM924.9 45.2H932.2V52.0H924.9zM961.2 45.2H975.8V52.0H961.2zM983.0 45.2H990.3V52.0H983.0zM1019.3 45.2H1026.6V52.0H1019.3zM1041.1 45.2H1048.4V52.0H1041.1zM1077.4 45.2H1084.7V52.0H1077.4zM1128.2 45.2H1135.5V52.0H1128.2zM1142.7 45.2H1150.0V52.0H1142.7zM242.5 52.0H257.0V58.7H242.5zM264.2 52.0H271.5V58.7H264.2zM300.5 52.0H307.8V58.7H300.5zM765.2 52.0H772.5V58.7H765.2zM874.1 52.0H881.4V58.7H874.1zM932.2 52.0H939.5V58.7H932.2zM1019.3 52.0H1026.6V58.7H1019.3zM685.3 58.7H692.6V65.4H685.3zM816.0 65.4H823.3V72.1H816.0zM808.8 166.3H816.0V173.0H808.8zM438.5 179.7H445.8V186.5H438.5zM765.2 179.7H772.5V186.5H765.2zM140.8 186.5H148.1V193.2H140.8zM169.9 186.5H177.1V193.2H169.9zM445.8 186.5H453.0V193.2H445.8zM765.2 186.5H772.5V193.2H765.2zM779.7 186.5H794.2V193.2H779.7zM881.4 186.5H888.6V193.2H881.4zM917.7 186.5H939.5V193.2H917.7zM1004.8 186.5H1012.1V193.2H1004.8zM1019.3 186.5H1026.6V193.2H1019.3zM126.3 193.2H133.6V199.9H126.3zM148.1 193.2H155.3V199.9H148.1zM162.6 193.2H177.1V199.9H162.6zM184.4 193.2H191.6V199.9H184.4zM249.7 193.2H257.0V199.9H249.7zM278.8 193.2H286.0V199.9H278.8zM445.8 193.2H453.0V199.9H445.8zM670.8 193.2H685.3V199.9H670.8zM714.4 193.2H721.6V199.9H714.4zM772.5 193.2H794.2V199.9H772.5zM939.5 193.2H946.7V199.9H939.5zM1041.1 193.2H1048.4V199.9H1041.1zM1077.4 193.2H1084.7V199.9H1077.4zM148.1 199.9H155.3V206.6H148.1zM264.2 199.9H271.5V206.6H264.2zM278.8 199.9H286.0V206.6H278.8zM344.1 199.9H351.4V206.6H344.1zM380.4 199.9H387.7V206.6H380.4zM503.8 199.9H518.4V206.6H503.8zM561.9 199.9H569.2V206.6H561.9zM670.8 199.9H685.3V206.6H670.8zM866.8 199.9H874.1V206.6H866.8zM1084.7 199.9H1091.9V206.6H1084.7zM1106.4 199.9H1128.2V206.6H1106.4zM198.9 206.6H213.4V213.4H198.9zM315.1 206.6H322.3V213.4H315.1zM351.4 206.6H358.6V213.4H351.4zM489.3 206.6H496.6V213.4H489.3zM525.6 206.6H532.9V213.4H525.6zM612.7 206.6H627.3V213.4H612.7zM728.9 206.6H736.2V213.4H728.9zM750.7 206.6H757.9V213.4H750.7zM1128.2 206.6H1135.5V213.4H1128.2zM1142.7 206.6H1150.0V213.4H1142.7zM184.4 213.4H198.9V220.1H184.4zM561.9 213.4H569.2V220.1H561.9zM576.4 213.4H583.7V220.1H576.4zM605.5 213.4H612.7V220.1H605.5zM670.8 213.4H678.1V220.1H670.8zM699.9 213.4H707.1V220.1H699.9zM736.2 213.4H750.7V220.1H736.2zM184.4 220.1H191.6V226.8H184.4zM503.8 220.1H511.1V226.8H503.8zM249.7 226.8H257.0V233.5H249.7z"/>
<path fill="#2eff00" d="M162.6 38.5H169.9V45.2H162.6zM184.4 38.5H191.6V45.2H184.4zM198.9 38.5H220.7V45.2H198.9zM344.1 38.5H351.4V45.2H344.1zM358.6 38.5H365.9V45.2H358.6zM373.1 38.5H380.4V45.2H373.1zM387.7 38.5H431.2V45.2H387.7zM453.0 38.5H460.3V45.2H453.0zM467.5 38.5H474.8V45.2H467.5zM482.1 38.5H496.6V45.2H482.1zM503.8 38.5H511.1V45.2H503.8zM641.8 38.5H649.0V45.2H641.8zM656.3 38.5H663.6V45.2H656.3zM678.1 38.5H699.9V45.2H678.1zM743.4 38.5H757.9V45.2H743.4zM765.2 38.5H801.5V45.2H765.2zM808.8 38.5H816.0V45.2H808.8zM852.3 38.5H859.6V45.2H852.3zM866.8 38.5H881.4V45.2H866.8zM895.9 38.5H903.2V45.2H895.9zM910.4 38.5H917.7V45.2H910.4zM954.0 38.5H961.2V45.2H954.0zM997.5 38.5H1004.8V45.2H997.5zM1012.1 38.5H1019.3V45.2H1012.1zM1026.6 38.5H1055.6V45.2H1026.6zM1070.1 38.5H1077.4V45.2H1070.1zM1084.7 38.5H1099.2V45.2H1084.7zM1113.7 38.5H1121.0V45.2H1113.7zM1128.2 38.5H1135.5V45.2H1128.2zM148.1 45.2H155.3V52.0H148.1zM315.1 45.2H322.3V52.0H315.1zM358.6 45.2H365.9V52.0H358.6zM532.9 45.2H540.1V52.0H532.9zM641.8 45.2H649.0V52.0H641.8zM670.8 45.2H678.1V52.0H670.8zM685.3 45.2H692.6V52.0H685.3zM707.1 45.2H736.2V52.0H707.1zM772.5 45.2H801.5V52.0H772.5zM874.1 45.2H881.4V52.0H874.1zM917.7 45.2H924.9V52.0H917.7zM932.2 45.2H939.5V52.0H932.2zM946.7 45.2H961.2V52.0H946.7zM1012.1 45.2H1019.3V52.0H1012.1zM1026.6 45.2H1033.8V52.0H1026.6zM1055.6 45.2H1062.9V52.0H1055.6zM1070.1 45.2H1077.4V52.0H1070.1zM1099.2 45.2H1128.2V52.0H1099.2zM235.2 52.0H242.5V58.7H235.2zM286.0 52.0H293.3V58.7H286.0zM358.6 52.0H365.9V58.7H358.6zM467.5 52.0H474.8V58.7H467.5zM489.3 52.0H496.6V58.7H489.3zM591.0 52.0H605.5V58.7H591.0zM612.7 52.0H620.0V58.7H612.7zM627.3 52.0H634.5V58.7H627.3zM685.3 52.0H699.9V58.7H685.3zM728.9 52.0H736.2V58.7H728.9zM794.2 52.0H801.5V58.7H794.2zM816.0 52.0H823.3V58.7H816.0zM895.9 52.0H903.2V58.7H895.9zM910.4 52.0H924.9V58.7H910.4zM954.0 52.0H997.5V58.7H954.0zM1055.6 52.0H1062.9V58.7H1055.6zM1077.4 52.0H1084.7V58.7H1077.4zM1142.7 52.0H1150.0V58.7H1142.7zM271.5 58.7H286.0V65.4H271.5zM874.1 58.7H881.4V65.4H874.1zM924.9 58.7H932.2V65.4H924.9zM874.1 65.4H881.4V72.1H874.1zM910.4 65.4H917.7V72.1H910.4zM794.2 166.3H801.5V173.0H794.2zM772.5 173.0H779.7V179.7H772.5zM801.5 173.0H808.8V179.7H801.5zM837.8 173.0H845.1V179.7H837.8zM808.8 179.7H823.3V186.5H808.8zM888.6 179.7H895.9V186.5H888.6zM903.2 179.7H910.4V186.5H903.2zM1026.6 179.7H1033.8V186.5H1026.6zM126.3 186.5H133.6V193.2H126.3zM148.1 186.5H155.3V193.2H148.1zM184.4 186.5H191.6V193.2H184.4zM678.1 186.5H685.3V193.2H678.1zM845.1 186.5H852.3V193.2H845.1zM874.1 186.5H881.4V193.2H874.1zM939.5 186.5H946.7V193.2H939.5zM1012.1 186.5H1019.3V193.2H1012.1zM1142.7 186.5H1150.0V193.2H1142.7zM133.6 193.2H140.8V199.9H133.6zM220.7 193.2H227.9V199.9H220.7zM235.2 193.2H242.5V199.9H235.2zM293.3 193.2H300.5V199.9H293.3zM336.8 193.2H344.1V199.9H336.8zM373.1 193.2H394.9V199.9H373.1zM409.5 193.2H416.7V199.9H409.5zM453.0 193.2H482.1V199.9H453.0zM496.6 193.2H511.1V199.9H496.6zM540.1 193.2H547.4V199.9H540.1zM968.5 193.2H975.8V199.9H968.5zM990.3 193.2H997.5V199.9H990.3zM1012.1 193.2H1019.3V199.9H1012.1zM1026.6 193.2H1033.8V199.9H1026.6zM1055.6 193.2H1062.9V199.9H1055.6zM1113.7 193.2H1121.0V199.9H1113.7zM1128.2 193.2H1135.5V199.9H1128.2zM198.9 199.9H206.2V206.6H198.9zM235.2 199.9H242.5V206.6H235.2zM300.5 199.9H315.1V206.6H300.5zM387.7 199.9H402.2V206.6H387.7zM424.0 199.9H431.2V206.6H424.0zM583.7 199.9H591.0V206.6H583.7zM641.8 199.9H649.0V206.6H641.8zM656.3 199.9H663.6V206.6H656.3zM707.1 199.9H714.4V206.6H707.1zM888.6 199.9H895.9V206.6H888.6zM1048.4 199.9H1055.6V206.6H1048.4zM1099.2 199.9H1106.4V206.6H1099.2zM1135.5 199.9H1142.7V206.6H1135.5zM220.7 206.6H227.9V213.4H220.7zM264.2 206.6H271.5V213.4H264.2zM329.6 206.6H336.8V213.4H329.6zM518.4 206.6H525.6V213.4H518.4zM583.7 206.6H591.0V213.4H583.7zM649.0 206.6H656.3V213.4H649.0zM329.6 213.4H336.8V220.1H329.6zM351.4 213.4H358.6V220.1H351.4zM474.8 213.4H482.1V220.1H474.8zM663.6 213.4H670.8V220.1H663.6zM1077.4 213.4H1084.7V220.1H1077.4zM1062.9 220.1H1070.1V226.8H1062.9z"/>
<path fill="#3fff00" d="M126.3 38.5H133.6V45.2H126.3zM155.3 38.5H162.6V45.2H155.3zM169.9 38.5H184.4V45.2H169.9zM191.6 38.5H198.9V45.2H191.6zM351.4 38.5H358.6V45.2H351.4zM365.9 38.5H373.1V45.2H365.9zM431.2 38.5H438.5V45.2H431.2zM445.8 38.5H453.0V45.2H445.8zM460.3 38.5H467.5V45.2H460.3zM496.6 38.5H503.8V45.2H496.6zM518.4 38.5H532.9V45.2H518.4zM540.1 38.5H576.4V45.2H540.1zM583.7 38.5H598.2V45.2H583.7zM605.5 38.5H627.3V45.2H605.5zM634.5 38.5H641.8V45.2H634.5zM649.0 38.5H656.3V45.2H649.0zM699.9 38.5H714.4V45.2H699.9zM721.6 38.5H728.9V45.2H721.6zM736.2 38.5H743.4V45.2H736.2zM757.9 38.5H765.2V45.2H757.9zM816.0 38.5H837.8V45.2H816.0zM881.4 38.5H895.9V45.2H881.4zM903.2 38.5H910.4V45.2H903.2zM939.5 38.5H954.0V45.2H939.5zM968.5 38.5H975.8V45.2H968.5zM1062.9 38.5H1070.1V45.2H1062.9zM1099.2 38.5H1113.7V45.2H1099.2zM1135.5 38.5H1142.7V45.2H1135.5zM126.3 45.2H133.6V52.0H126.3zM140.8 45.2H148.1V52.0H140.8zM155.3 45.2H177.1V52.0H155.3zM213.4 45.2H220.7V52.0H213.4zM227.9 45.2H235.2V52.0H227.9zM336.8 45.2H344.1V52.0H336.8zM351.4 45.2H358.6V52.0H351.4zM365.9 45.2H380.4V52.0H365.9zM394.9 45.2H445.8V52.0H394.9zM482.1 45.2H489.3V52.0H482.1zM496.6 45.2H532.9V52.0H496.6zM547.4 45.2H576.4V52.0H547.4zM591.0 45.2H627.3V52.0H591.0zM663.6 45.2H670.8V52.0H663.6zM692.6 45.2H707.1V52.0H692.6zM736.2 45.2H772.5V52.0H736.2zM808.8 45.2H823.3V52.0H808.8zM866.8 45.2H874.1V52.0H866.8zM895.9 45.2H910.4V52.0H895.9zM975.8 45.2H983.0V52.0H975.8zM990.3 45.2H1012.1V52.0H990.3zM1033.8 45.2H1041.1V52.0H1033.8zM1062.9 45.2H1070.1V52.0H1062.9zM1135.5 45.2H1142.7V52.0H1135.5zM162.6 52.0H169.9V58.7H162.6zM315.1 52.0H322.3V58.7H315.1zM424.0 52.0H431.2V58.7H424.0zM460.3 52.0H467.5V58.7H460.3zM482.1 52.0H489.3V58.7H482.1zM511.1 52.0H518.4V58.7H511.1zM532.9 52.0H540.1V58.7H532.9zM561.9 52.0H569.2V58.7H561.9zM620.0 52.0H627.3V58.7H620.0zM641.8 52.0H649.0V58.7H641.8zM678.1 52.0H685.3V58.7H678.1zM707.1 52.0H728.9V58.7H707.1zM757.9 52.0H765.2V58.7H757.9zM772.5 52.0H794.2V58.7H772.5zM801.5 52.0H816.0V58.7H801.5zM888.6 52.0H895.9V58.7H888.6zM903.2 52.0H910.4V58.7H903.2zM997.5 52.0H1004.8V58.7H997.5zM1026.6 52.0H1033.8V58.7H1026.6zM1041.1 52.0H1055.6V58.7H1041.1zM1070.1 52.0H1077.4V58.7H1070.1zM1113.7 52.0H1135.5V58.7H1113.7zM257.0 58.7H264.2V65.4H257.0zM293.3 58.7H300.5V65.4H293.3zM692.6 58.7H699.9V65.4H692.6zM707.1 58.7H714.4V65.4H707.1zM801.5 58.7H823.3V65.4H801.5zM866.8 58.7H874.1V65.4H866.8zM881.4 58.7H888.6V65.4H881.4zM903.2 58.7H910.4V65.4H903.2zM917.7 58.7H924.9V65.4H917.7zM932.2 58.7H939.5V65.4H932.2zM968.5 58.7H990.3V65.4H968.5zM1121.0 58.7H1135.5V65.4H1121.0zM808.8 65.4H816.0V72.1H808.8zM866.8 65.4H874.1V72.1H866.8zM903.2 65.4H910.4V72.1H903.2zM975.8 65.4H990.3V72.1H975.8zM975.8 72.1H983.0V78.9H975.8zM874.1 78.9H881.4V85.6H874.1zM823.3 159.6H845.1V166.3H823.3zM837.8 166.3H845.1V173.0H837.8zM431.2 173.0H438.5V179.7H431.2zM765.2 173.0H772.5V179.7H765.2zM917.7 179.7H924.9V186.5H917.7zM1019.3 179.7H1026.6V186.5H1019.3zM133.6 186.5H140.8V193.2H133.6zM162.6 186.5H169.9V193.2H162.6zM213.4 186.5H220.7V193.2H213.4zM249.7 186.5H257.0V193.2H249.7zM351.4 186.5H358.6V193.2H351.4zM373.1 186.5H380.4V193.2H373.1zM409.5 186.5H416.7V193.2H409.5zM460.3 186.5H467.5V193.2H460.3zM474.8 186.5H482.1V193.2H474.8zM757.9 186.5H765.2V193.2H757.9zM895.9 186.5H903.2V193.2H895.9zM961.2 186.5H983.0V193.2H961.2zM997.5 186.5H1004.8V193.2H997.5zM1041.1 186.5H1048.4V193.2H1041.1zM198.9 193.2H213.4V199.9H198.9zM227.9 193.2H235.2V199.9H227.9zM257.0 193.2H264.2V199.9H257.0zM315.1 193.2H322.3V199.9H315.1zM358.6 193.2H373.1V199.9H358.6zM482.1 193.2H496.6V199.9H482.1zM641.8 193.2H649.0V199.9H641.8zM663.6 193.2H670.8V199.9H663.6zM707.1 193.2H714.4V199.9H707.1zM1048.4 193.2H1055.6V199.9H1048.4zM1070.1 193.2H1077.4V199.9H1070.1zM1106.4 193.2H1113.7V199.9H1106.4zM1135.5 193.2H1142.7V199.9H1135.5zM155.3 199.9H162.6V206.6H155.3zM191.6 199.9H198.9V206.6H191.6zM286.0 199.9H293.3V206.6H286.0zM336.8 199.9H344.1V206.6H336.8zM351.4 199.9H365.9V206.6H351.4zM416.7 199.9H424.0V206.6H416.7zM474.8 199.9H482.1V206.6H474.8zM518.4 199.9H525.6V206.6H518.4zM532.9 199.9H540.1V206.6H532.9zM612.7 199.9H634.5V206.6H612.7zM743.4 199.9H750.7V206.6H743.4zM1091.9 199.9H1099.2V206.6H1091.9zM322.3 206.6H329.6V213.4H322.3zM511.1 206.6H518.4V213.4H511.1zM576.4 206.6H583.7V213.4H576.4zM598.2 206.6H612.7V213.4H598.2zM692.6 206.6H699.9V213.4H692.6zM721.6 206.6H728.9V213.4H721.6zM736.2 206.6H743.4V213.4H736.2zM1106.4 206.6H1113.7V213.4H1106.4zM322.3 213.4H329.6V220.1H322.3zM612.7 213.4H620.0V220.1H612.7zM634.5 213.4H641.8V220.1H634.5zM380.4 220.1H387.7V226.8H380.4z"/>
<path fill="#4eff00" d="M380.4 38.5H387.7V45.2H380.4zM438.5 38.5H445.8V45.2H438.5zM474.8 38.5H482.1V45.2H474.8zM837.8 38.5H852.3V45.2H837.8zM859.6 38.5H866.8V45.2H859.6zM177.1 45.2H184.4V52.0H177.1zM220.7 45.2H227.9V52.0H220.7zM322.3 45.2H329.6V52.0H322.3zM380.4 45.2H387.7V52.0H380.4zM445.8 45.2H467.5V52.0H445.8zM474.8 45.2H482.1V52.0H474.8zM540.1 45.2H547.4V52.0H540.1zM576.4 45.2H591.0V52.0H576.4zM634.5 45.2H641.8V52.0H634.5zM649.0 45.2H656.3V52.0H649.0zM852.3 45.2H866.8V52.0H852.3zM888.6 45.2H895.9V52.0H888.6zM939.5 45.2H946.7V52.0H939.5zM1084.7 45.2H1099.2V52.0H1084.7zM148.1 52.0H155.3V58.7H148.1zM220.7 52.0H227.9V58.7H220.7zM307.8 52.0H315.1V58.7H307.8zM365.9 52.0H373.1V58.7H365.9zM416.7 52.0H424.0V58.7H416.7zM503.8 52.0H511.1V58.7H503.8zM518.4 52.0H525.6V58.7H518.4zM540.1 52.0H547.4V58.7H540.1zM554.7 52.0H561.9V58.7H554.7zM569.2 52.0H583.7V58.7H569.2zM634.5 52.0H641.8V58.7H634.5zM670.8 52.0H678.1V58.7H670.8zM699.9 52.0H707.1V58.7H699.9zM736.2 52.0H757.9V58.7H736.2zM859.6 52.0H874.1V58.7H859.6zM881.4 52.0H888.6V58.7H881.4zM939.5 52.0H954.0V58.7H939.5zM1012.1 52.0H1019.3V58.7H1012.1zM1033.8 52.0H1041.1V58.7H1033.8zM1062.9 52.0H1070.1V58.7H1062.9zM1084.7 52.0H1113.7V58.7H1084.7zM1135.5 52.0H1142.7V58.7H1135.5zM300.5 58.7H307.8V65.4H300.5zM678.1 58.7H685.3V65.4H678.1zM699.9 58.7H707.1V65.4H699.9zM721.6 58.7H728.9V65.4H721.6zM895.9 58.7H903.2V65.4H895.9zM910.4 58.7H917.7V65.4H910.4zM961.2 58.7H968.5V65.4H961.2zM990.3 58.7H997.5V65.4H990.3zM1026.6 58.7H1062.9V65.4H1026.6zM1070.1 58.7H1084.7V65.4H1070.1zM1135.5 58.7H1150.0V65.4H1135.5zM699.9 65.4H714.4V72.1H699.9zM968.5 65.4H975.8V72.1H968.5zM808.8 72.1H816.0V78.9H808.8zM874.1 72.1H881.4V78.9H874.1zM874.1 85.6H881.4V92.3H874.1zM794.2 159.6H801.5V166.3H794.2zM808.8 159.6H816.0V166.3H808.8zM438.5 173.0H445.8V179.7H438.5zM126.3 179.7H133.6V186.5H126.3zM445.8 179.7H453.0V186.5H445.8zM874.1 179.7H888.6V186.5H874.1zM939.5 179.7H954.0V186.5H939.5zM990.3 179.7H997.5V186.5H990.3zM1004.8 179.7H1012.1V186.5H1004.8zM242.5 186.5H249.7V193.2H242.5zM271.5 186.5H278.8V193.2H271.5zM293.3 186.5H300.5V193.2H293.3zM344.1 186.5H351.4V193.2H344.1zM358.6 186.5H365.9V193.2H358.6zM402.2 186.5H409.5V193.2H402.2zM453.0 186.5H460.3V193.2H453.0zM482.1 186.5H503.8V193.2H482.1zM859.6 186.5H866.8V193.2H859.6zM954.0 186.5H961.2V193.2H954.0zM177.1 193.2H184.4V199.9H177.1zM191.6 193.2H198.9V199.9H191.6zM286.0 193.2H293.3V199.9H286.0zM344.1 193.2H358.6V199.9H344.1zM394.9 193.2H402.2V199.9H394.9zM424.0 193.2H431.2V199.9H424.0zM547.4 193.2H554.7V199.9H547.4zM656.3 193.2H663.6V199.9H656.3zM699.9 193.2H707.1V199.9H699.9zM750.7 193.2H757.9V199.9H750.7zM859.6 193.2H874.1V199.9H859.6zM1084.7 193.2H1091.9V199.9H1084.7zM1121.0 193.2H1128.2V199.9H1121.0zM322.3 199.9H336.8V206.6H322.3zM554.7 199.9H561.9V206.6H554.7zM569.2 199.9H576.4V206.6H569.2zM591.0 199.9H598.2V206.6H591.0zM634.5 199.9H641.8V206.6H634.5zM663.6 199.9H670.8V206.6H663.6zM699.9 199.9H707.1V206.6H699.9zM728.9 199.9H736.2V206.6H728.9zM1062.9 199.9H1070.1V206.6H1062.9zM634.5 206.6H641.8V213.4H634.5z"/>
<path fill="#5cff00" d="M133.6 38.5H140.8V45.2H133.6zM576.4 38.5H583.7V45.2H576.4zM184.4 45.2H191.6V52.0H184.4zM206.2 45.2H213.4V52.0H206.2zM329.6 45.2H336.8V52.0H329.6zM344.1 45.2H351.4V52.0H344.1zM881.4 45.2H888.6V52.0H881.4zM140.8 52.0H148.1V58.7H140.8zM169.9 52.0H177.1V58.7H169.9zM336.8 52.0H344.1V58.7H336.8zM351.4 52.0H358.6V58.7H351.4zM387.7 52.0H416.7V58.7H387.7zM431.2 52.0H438.5V58.7H431.2zM445.8 52.0H460.3V58.7H445.8zM474.8 52.0H482.1V58.7H474.8zM496.6 52.0H503.8V58.7H496.6zM547.4 52.0H554.7V58.7H547.4zM583.7 52.0H591.0V58.7H583.7zM649.0 52.0H670.8V58.7H649.0zM1004.8 52.0H1012.1V58.7H1004.8zM249.7 58.7H257.0V65.4H249.7zM358.6 58.7H365.9V65.4H358.6zM561.9 58.7H569.2V65.4H561.9zM620.0 58.7H627.3V65.4H620.0zM714.4 58.7H721.6V65.4H714.4zM728.9 58.7H743.4V65.4H728.9zM794.2 58.7H801.5V65.4H794.2zM888.6 58.7H895.9V65.4H888.6zM1019.3 58.7H1026.6V65.4H1019.3zM685.3 65.4H692.6V72.1H685.3zM714.4 65.4H721.6V72.1H714.4zM881.4 65.4H888.6V72.1H881.4zM895.9 65.4H903.2V72.1H895.9zM917.7 65.4H932.2V72.1H917.7zM816.0 72.1H823.3V78.9H816.0zM910.4 72.1H917.7V78.9H910.4zM983.0 72.1H990.3V78.9H983.0zM816.0 152.8H830.5V159.6H816.0zM801.5 159.6H808.8V166.3H801.5zM772.5 166.3H779.7V173.0H772.5zM903.2 173.0H910.4V179.7H903.2zM1019.3 173.0H1033.8V179.7H1019.3zM358.6 179.7H365.9V186.5H358.6zM787.0 179.7H801.5V186.5H787.0zM924.9 179.7H939.5V186.5H924.9zM975.8 179.7H983.0V186.5H975.8zM1142.7 179.7H1150.0V186.5H1142.7zM177.1 186.5H184.4V193.2H177.1zM198.9 186.5H206.2V193.2H198.9zM235.2 186.5H242.5V193.2H235.2zM257.0 186.5H271.5V193.2H257.0zM380.4 186.5H402.2V193.2H380.4zM467.5 186.5H474.8V193.2H467.5zM852.3 186.5H859.6V193.2H852.3zM983.0 186.5H990.3V193.2H983.0zM1128.2 186.5H1135.5V193.2H1128.2zM300.5 193.2H307.8V199.9H300.5zM511.1 193.2H518.4V199.9H511.1zM532.9 193.2H540.1V199.9H532.9zM554.7 193.2H561.9V199.9H554.7zM591.0 193.2H598.2V199.9H591.0zM692.6 193.2H699.9V199.9H692.6zM1062.9 193.2H1070.1V199.9H1062.9zM1099.2 193.2H1106.4V199.9H1099.2zM598.2 199.9H605.5V206.6H598.2zM649.0 199.9H656.3V206.6H649.0zM692.6 199.9H699.9V206.6H692.6zM721.6 199.9H728.9V206.6H721.6zM736.2 199.9H743.4V206.6H736.2zM474.8 206.6H482.1V213.4H474.8z"/>
<path fill="#6bff00" d="M133.6 45.2H140.8V52.0H133.6zM845.1 45.2H852.3V52.0H845.1zM155.3 52.0H162.6V58.7H155.3zM177.1 52.0H184.4V58.7H177.1zM322.3 52.0H336.8V58.7H322.3zM438.5 52.0H445.8V58.7H438.5zM525.6 52.0H532.9V58.7H525.6zM605.5 52.0H612.7V58.7H605.5zM852.3 52.0H859.6V58.7H852.3zM162.6 58.7H169.9V65.4H162.6zM242.5 58.7H249.7V65.4H242.5zM264.2 58.7H271.5V65.4H264.2zM286.0 58.7H293.3V65.4H286.0zM424.0 58.7H431.2V65.4H424.0zM467.5 58.7H474.8V65.4H467.5zM496.6 58.7H503.8V65.4H496.6zM511.1 58.7H518.4V65.4H511.1zM532.9 58.7H540.1V65.4H532.9zM554.7 58.7H561.9V65.4H554.7zM612.7 58.7H620.0V65.4H612.7zM627.3 58.7H634.5V65.4H627.3zM670.8 58.7H678.1V65.4H670.8zM765.2 58.7H772.5V65.4H765.2zM779.7 58.7H794.2V65.4H779.7zM859.6 58.7H866.8V65.4H859.6zM939.5 58.7H946.7V65.4H939.5zM954.0 58.7H961.2V65.4H954.0zM997.5 58.7H1004.8V65.4H997.5zM1091.9 58.7H1121.0V65.4H1091.9zM692.6 65.4H699.9V72.1H692.6zM801.5 65.4H808.8V72.1H801.5zM990.3 65.4H997.5V72.1H990.3zM1048.4 65.4H1055.6V72.1H1048.4zM1121.0 65.4H1128.2V72.1H1121.0zM1142.7 65.4H1150.0V72.1H1142.7zM866.8 72.1H874.1V78.9H866.8zM903.2 72.1H910.4V78.9H903.2zM808.8 78.9H816.0V85.6H808.8zM910.4 78.9H917.7V85.6H910.4zM975.8 78.9H983.0V85.6H975.8zM830.5 152.8H837.8V159.6H830.5zM765.2 166.3H772.5V173.0H765.2zM787.0 173.0H794.2V179.7H787.0zM140.8 179.7H155.3V186.5H140.8zM213.4 179.7H220.7V186.5H213.4zM373.1 179.7H380.4V186.5H373.1zM895.9 179.7H903.2V186.5H895.9zM910.4 179.7H917.7V186.5H910.4zM954.0 179.7H961.2V186.5H954.0zM997.5 179.7H1004.8V186.5H997.5zM155.3 186.5H162.6V193.2H155.3zM220.7 186.5H227.9V193.2H220.7zM365.9 186.5H373.1V193.2H365.9zM641.8 186.5H649.0V193.2H641.8zM656.3 186.5H663.6V193.2H656.3zM714.4 186.5H721.6V193.2H714.4zM910.4 186.5H917.7V193.2H910.4zM1033.8 186.5H1041.1V193.2H1033.8zM1077.4 186.5H1084.7V193.2H1077.4zM1099.2 186.5H1106.4V193.2H1099.2zM1113.7 186.5H1121.0V193.2H1113.7zM322.3 193.2H329.6V199.9H322.3zM561.9 193.2H576.4V199.9H561.9zM627.3 193.2H634.5V199.9H627.3zM649.0 193.2H656.3V199.9H649.0z"/>
<path fill="#79ff00" d="M191.6 45.2H206.2V52.0H191.6zM837.8 45.2H845.1V52.0H837.8zM126.3 52.0H140.8V58.7H126.3zM184.4 52.0H191.6V58.7H184.4zM206.2 52.0H213.4V58.7H206.2zM227.9 52.0H235.2V58.7H227.9zM344.1 52.0H351.4V58.7H344.1zM373.1 52.0H387.7V58.7H373.1zM235.2 58.7H242.5V65.4H235.2zM315.1 58.7H322.3V65.4H315.1zM336.8 58.7H344.1V65.4H336.8zM351.4 58.7H358.6V65.4H351.4zM460.3 58.7H467.5V65.4H460.3zM482.1 58.7H489.3V65.4H482.1zM503.8 58.7H511.1V65.4H503.8zM518.4 58.7H532.9V65.4H518.4zM540.1 58.7H547.4V65.4H540.1zM569.2 58.7H576.4V65.4H569.2zM583.7 58.7H605.5V65.4H583.7zM649.0 58.7H656.3V65.4H649.0zM743.4 58.7H765.2V65.4H743.4zM1012.1 58.7H1019.3V65.4H1012.1zM1084.7 58.7H1091.9V65.4H1084.7zM293.3 65.4H300.5V72.1H293.3zM678.1 65.4H685.3V72.1H678.1zM721.6 65.4H728.9V72.1H721.6zM888.6 65.4H895.9V72.1H888.6zM932.2 65.4H939.5V72.1H932.2zM961.2 65.4H968.5V72.1H961.2zM1026.6 65.4H1041.1V72.1H1026.6zM1128.2 65.4H1142.7V72.1H1128.2zM707.1 72.1H714.4V78.9H707.1zM801.5 152.8H808.8V159.6H801.5zM1026.6 166.3H1033.8V173.0H1026.6zM126.3 173.0H133.6V179.7H126.3zM445.8 173.0H453.0V179.7H445.8zM823.3 173.0H830.5V179.7H823.3zM874.1 173.0H881.4V179.7H874.1zM888.6 173.0H895.9V179.7H888.6zM932.2 173.0H939.5V179.7H932.2zM946.7 173.0H954.0V179.7H946.7zM990.3 173.0H997.5V179.7H990.3zM133.6 179.7H140.8V186.5H133.6zM162.6 179.7H169.9V186.5H162.6zM249.7 179.7H257.0V186.5H249.7zM293.3 179.7H300.5V186.5H293.3zM394.9 179.7H402.2V186.5H394.9zM460.3 179.7H467.5V186.5H460.3zM757.9 179.7H765.2V186.5H757.9zM779.7 179.7H787.0V186.5H779.7zM845.1 179.7H852.3V186.5H845.1zM961.2 179.7H968.5V186.5H961.2zM983.0 179.7H990.3V186.5H983.0zM1012.1 179.7H1019.3V186.5H1012.1zM1041.1 179.7H1048.4V186.5H1041.1zM191.6 186.5H198.9V193.2H191.6zM278.8 186.5H293.3V193.2H278.8zM315.1 186.5H322.3V193.2H315.1zM503.8 186.5H511.1V193.2H503.8zM540.1 186.5H547.4V193.2H540.1zM707.1 186.5H714.4V193.2H707.1zM866.8 186.5H874.1V193.2H866.8zM1055.6 186.5H1062.9V193.2H1055.6zM1084.7 186.5H1091.9V193.2H1084.7zM1106.4 186.5H1113.7V193.2H1106.4zM264.2 193.2H271.5V199.9H264.2zM307.8 193.2H315.1V199.9H307.8zM329.6 193.2H336.8V199.9H329.6zM416.7 193.2H424.0V199.9H416.7zM598.2 193.2H605.5V199.9H598.2zM612.7 193.2H627.3V199.9H612.7zM685.3 193.2H692.6V199.9H685.3zM525.6 199.9H532.9V206.6H525.6z"/>
<path fill="#88ff00" d="M823.3 45.2H830.5V52.0H823.3zM213.4 52.0H220.7V58.7H213.4zM140.8 58.7H155.3V65.4H140.8zM169.9 58.7H177.1V65.4H169.9zM184.4 58.7H191.6V65.4H184.4zM213.4 58.7H220.7V65.4H213.4zM307.8 58.7H315.1V65.4H307.8zM344.1 58.7H351.4V65.4H344.1zM365.9 58.7H373.1V65.4H365.9zM387.7 58.7H424.0V65.4H387.7zM438.5 58.7H445.8V65.4H438.5zM453.0 58.7H460.3V65.4H453.0zM489.3 58.7H496.6V65.4H489.3zM576.4 58.7H583.7V65.4H576.4zM605.5 58.7H612.7V65.4H605.5zM641.8 58.7H649.0V65.4H641.8zM663.6 58.7H670.8V65.4H663.6zM772.5 58.7H779.7V65.4H772.5zM946.7 58.7H954.0V65.4H946.7zM1062.9 58.7H1070.1V65.4H1062.9zM271.5 65.4H286.0V72.1H271.5zM300.5 65.4H307.8V72.1H300.5zM728.9 65.4H736.2V72.1H728.9zM757.9 65.4H765.2V72.1H757.9zM787.0 65.4H801.5V72.1H787.0zM859.6 65.4H866.8V72.1H859.6zM1070.1 65.4H1084.7V72.1H1070.1zM1091.9 65.4H1099.2V72.1H1091.9zM1113.7 65.4H1121.0V72.1H1113.7zM685.3 72.1H707.1V78.9H685.3zM917.7 72.1H924.9V78.9H917.7zM968.5 72.1H975.8V78.9H968.5zM816.0 78.9H823.3V85.6H816.0zM903.2 78.9H910.4V85.6H903.2zM808.8 85.6H816.0V92.3H808.8zM816.0 146.1H823.3V152.8H816.0zM794.2 152.8H801.5V159.6H794.2zM808.8 152.8H816.0V159.6H808.8zM431.2 166.3H445.8V173.0H431.2zM903.2 166.3H910.4V173.0H903.2zM895.9 173.0H903.2V179.7H895.9zM917.7 173.0H924.9V179.7H917.7zM975.8 173.0H983.0V179.7H975.8zM1004.8 173.0H1012.1V179.7H1004.8zM169.9 179.7H177.1V186.5H169.9zM184.4 179.7H191.6V186.5H184.4zM257.0 179.7H264.2V186.5H257.0zM271.5 179.7H278.8V186.5H271.5zM344.1 179.7H351.4V186.5H344.1zM387.7 179.7H394.9V186.5H387.7zM409.5 179.7H416.7V186.5H409.5zM453.0 179.7H460.3V186.5H453.0zM482.1 179.7H489.3V186.5H482.1zM206.2 186.5H213.4V193.2H206.2zM300.5 186.5H307.8V193.2H300.5zM511.1 186.5H518.4V193.2H511.1zM561.9 186.5H569.2V193.2H561.9zM699.9 186.5H707.1V193.2H699.9zM1048.4 186.5H1055.6V193.2H1048.4zM1070.1 186.5H1077.4V193.2H1070.1zM1121.0 186.5H1128.2V193.2H1121.0zM1135.5 186.5H1142.7V193.2H1135.5zM634.5 193.2H641.8V199.9H634.5zM728.9 193.2H736.2V199.9H728.9zM743.4 193.2H750.7V199.9H743.4zM1091.9 193.2H1099.2V199.9H1091.9zM576.4 199.9H583.7V206.6H576.4z"/>
<path fill="#99ff00" d="M830.5 45.2H837.8V52.0H830.5zM191.6 52.0H198.9V58.7H191.6zM155.3 58.7H162.6V65.4H155.3zM177.1 58.7H184.4V65.4H177.1zM191.6 58.7H198.9V65.4H191.6zM206.2 58.7H213.4V65.4H206.2zM220.7 58.7H235.2V65.4H220.7zM322.3 58.7H329.6V65.4H322.3zM431.2 58.7H438.5V65.4H431.2zM474.8 58.7H482.1V65.4H474.8zM547.4 58.7H554.7V65.4H547.4zM634.5 58.7H641.8V65.4H634.5zM656.3 58.7H663.6V65.4H656.3zM852.3 58.7H859.6V65.4H852.3zM1004.8 58.7H1012.1V65.4H1004.8zM148.1 65.4H155.3V72.1H148.1zM257.0 65.4H264.2V72.1H257.0zM336.8 65.4H344.1V72.1H336.8zM358.6 65.4H365.9V72.1H358.6zM482.1 65.4H489.3V72.1H482.1zM540.1 65.4H547.4V72.1H540.1zM554.7 65.4H569.2V72.1H554.7zM591.0 65.4H598.2V72.1H591.0zM612.7 65.4H620.0V72.1H612.7zM627.3 65.4H634.5V72.1H627.3zM641.8 65.4H649.0V72.1H641.8zM736.2 65.4H743.4V72.1H736.2zM750.7 65.4H757.9V72.1H750.7zM939.5 65.4H946.7V72.1H939.5zM954.0 65.4H961.2V72.1H954.0zM1019.3 65.4H1026.6V72.1H1019.3zM1041.1 65.4H1048.4V72.1H1041.1zM1055.6 65.4H1062.9V72.1H1055.6zM1084.7 65.4H1091.9V72.1H1084.7zM1099.2 65.4H1106.4V72.1H1099.2zM881.4 72.1H895.9V78.9H881.4zM924.9 72.1H932.2V78.9H924.9zM990.3 72.1H997.5V78.9H990.3zM1033.8 72.1H1041.1V78.9H1033.8zM1121.0 72.1H1135.5V78.9H1121.0zM866.8 78.9H874.1V85.6H866.8zM983.0 78.9H990.3V85.6H983.0zM874.1 92.3H881.4V99.0H874.1zM823.3 146.1H830.5V152.8H823.3zM837.8 152.8H845.1V159.6H837.8zM772.5 159.6H779.7V166.3H772.5zM358.6 173.0H365.9V179.7H358.6zM924.9 173.0H932.2V179.7H924.9zM939.5 173.0H946.7V179.7H939.5zM997.5 173.0H1004.8V179.7H997.5zM155.3 179.7H162.6V186.5H155.3zM220.7 179.7H227.9V186.5H220.7zM242.5 179.7H249.7V186.5H242.5zM365.9 179.7H373.1V186.5H365.9zM402.2 179.7H409.5V186.5H402.2zM496.6 179.7H503.8V186.5H496.6zM641.8 179.7H649.0V186.5H641.8zM678.1 179.7H685.3V186.5H678.1zM852.3 179.7H859.6V186.5H852.3zM866.8 179.7H874.1V186.5H866.8zM968.5 179.7H975.8V186.5H968.5zM1033.8 179.7H1041.1V186.5H1033.8zM1128.2 179.7H1135.5V186.5H1128.2zM227.9 186.5H235.2V193.2H227.9zM307.8 186.5H315.1V193.2H307.8zM336.8 186.5H344.1V193.2H336.8zM591.0 186.5H598.2V193.2H591.0zM663.6 186.5H678.1V193.2H663.6zM1062.9 186.5H1070.1V193.2H1062.9zM721.6 193.2H728.9V199.9H721.6zM605.5 199.9H612.7V206.6H605.5z"/>
<path fill="#a9ff00" d="M198.9 52.0H206.2V58.7H198.9zM845.1 52.0H852.3V58.7H845.1zM126.3 58.7H133.6V65.4H126.3zM329.6 58.7H336.8V65.4H329.6zM373.1 58.7H387.7V65.4H373.1zM445.8 58.7H453.0V65.4H445.8zM213.4 65.4H220.7V72.1H213.4zM286.0 65.4H293.3V72.1H286.0zM315.1 65.4H322.3V72.1H315.1zM344.1 65.4H358.6V72.1H344.1zM424.0 65.4H431.2V72.1H424.0zM460.3 65.4H474.8V72.1H460.3zM489.3 65.4H496.6V72.1H489.3zM511.1 65.4H540.1V72.1H511.1zM598.2 65.4H605.5V72.1H598.2zM620.0 65.4H627.3V72.1H620.0zM670.8 65.4H678.1V72.1H670.8zM743.4 65.4H750.7V72.1H743.4zM765.2 65.4H787.0V72.1H765.2zM946.7 65.4H954.0V72.1H946.7zM997.5 65.4H1004.8V72.1H997.5zM1106.4 65.4H1113.7V72.1H1106.4zM801.5 72.1H808.8V78.9H801.5zM895.9 72.1H903.2V78.9H895.9zM932.2 72.1H939.5V78.9H932.2zM1142.7 72.1H1150.0V78.9H1142.7zM917.7 78.9H924.9V85.6H917.7zM975.8 85.6H983.0V92.3H975.8zM830.5 146.1H837.8V152.8H830.5zM445.8 166.3H453.0V173.0H445.8zM888.6 166.3H895.9V173.0H888.6zM946.7 166.3H954.0V173.0H946.7zM140.8 173.0H148.1V179.7H140.8zM162.6 173.0H169.9V179.7H162.6zM881.4 173.0H888.6V179.7H881.4zM227.9 179.7H242.5V186.5H227.9zM380.4 179.7H387.7V186.5H380.4zM467.5 179.7H474.8V186.5H467.5zM489.3 179.7H496.6V186.5H489.3zM1113.7 179.7H1121.0V186.5H1113.7zM424.0 186.5H431.2V193.2H424.0zM547.4 186.5H554.7V193.2H547.4zM649.0 186.5H656.3V193.2H649.0zM685.3 186.5H692.6V193.2H685.3zM750.7 186.5H757.9V193.2H750.7zM1091.9 186.5H1099.2V193.2H1091.9zM518.4 193.2H532.9V199.9H518.4z"/>
<path fill="#b9ff00" d="M133.6 58.7H140.8V65.4H133.6zM198.9 58.7H206.2V65.4H198.9zM162.6 65.4H177.1V72.1H162.6zM249.7 65.4H257.0V72.1H249.7zM264.2 65.4H271.5V72.1H264.2zM307.8 65.4H315.1V72.1H307.8zM322.3 65.4H329.6V72.1H322.3zM394.9 65.4H402.2V72.1H394.9zM416.7 65.4H424.0V72.1H416.7zM453.0 65.4H460.3V72.1H453.0zM496.6 65.4H511.1V72.1H496.6zM569.2 65.4H583.7V72.1H569.2zM605.5 65.4H612.7V72.1H605.5zM634.5 65.4H641.8V72.1H634.5zM649.0 65.4H656.3V72.1H649.0zM1012.1 65.4H1019.3V72.1H1012.1zM1062.9 65.4H1070.1V72.1H1062.9zM293.3 72.1H300.5V78.9H293.3zM678.1 72.1H685.3V78.9H678.1zM714.4 72.1H721.6V78.9H714.4zM961.2 72.1H968.5V78.9H961.2zM1048.4 72.1H1062.9V78.9H1048.4zM1070.1 72.1H1077.4V78.9H1070.1zM1113.7 72.1H1121.0V78.9H1113.7zM1135.5 72.1H1142.7V78.9H1135.5zM692.6 78.9H714.4V85.6H692.6zM968.5 78.9H975.8V85.6H968.5zM910.4 85.6H917.7V92.3H910.4zM126.3 166.3H133.6V173.0H126.3zM1019.3 166.3H1026.6V173.0H1019.3zM133.6 173.0H140.8V179.7H133.6zM235.2 173.0H242.5V179.7H235.2zM779.7 173.0H787.0V179.7H779.7zM845.1 173.0H852.3V179.7H845.1zM954.0 173.0H961.2V179.7H954.0zM983.0 173.0H990.3V179.7H983.0zM1012.1 173.0H1019.3V179.7H1012.1zM1142.7 173.0H1150.0V179.7H1142.7zM206.2 179.7H213.4V186.5H206.2zM264.2 179.7H271.5V186.5H264.2zM286.0 179.7H293.3V186.5H286.0zM300.5 179.7H307.8V186.5H300.5zM474.8 179.7H482.1V186.5H474.8zM503.8 179.7H511.1V186.5H503.8zM656.3 179.7H663.6V186.5H656.3zM714.4 179.7H721.6V186.5H714.4zM859.6 179.7H866.8V186.5H859.6zM1070.1 179.7H1084.7V186.5H1070.1zM1099.2 179.7H1113.7V186.5H1099.2zM416.7 186.5H424.0V193.2H416.7zM569.2 186.5H576.4V193.2H569.2zM634.5 186.5H641.8V193.2H634.5zM743.4 186.5H750.7V193.2H743.4zM583.7 193.2H591.0V199.9H583.7zM736.2 193.2H743.4V199.9H736.2z"/>
<path fill="#c9ff00" d="M830.5 52.0H845.1V58.7H830.5zM140.8 65.4H148.1V72.1H140.8zM184.4 65.4H198.9V72.1H184.4zM206.2 65.4H213.4V72.1H206.2zM220.7 65.4H249.7V72.1H220.7zM365.9 65.4H373.1V72.1H365.9zM387.7 65.4H394.9V72.1H387.7zM402.2 65.4H409.5V72.1H402.2zM431.2 65.4H445.8V72.1H431.2zM474.8 65.4H482.1V72.1H474.8zM583.7 65.4H591.0V72.1H583.7zM663.6 65.4H670.8V72.1H663.6zM1004.8 65.4H1012.1V72.1H1004.8zM271.5 72.1H286.0V78.9H271.5zM300.5 72.1H307.8V78.9H300.5zM358.6 72.1H365.9V78.9H358.6zM612.7 72.1H620.0V78.9H612.7zM721.6 72.1H728.9V78.9H721.6zM787.0 72.1H801.5V78.9H787.0zM859.6 72.1H866.8V78.9H859.6zM1026.6 72.1H1033.8V78.9H1026.6zM1041.1 72.1H1048.4V78.9H1041.1zM1077.4 72.1H1084.7V78.9H1077.4zM1091.9 72.1H1099.2V78.9H1091.9zM685.3 78.9H692.6V85.6H685.3zM816.0 85.6H823.3V92.3H816.0zM903.2 85.6H910.4V92.3H903.2zM801.5 146.1H816.0V152.8H801.5zM765.2 159.6H772.5V166.3H765.2zM1026.6 159.6H1033.8V166.3H1026.6zM787.0 166.3H794.2V173.0H787.0zM917.7 166.3H924.9V173.0H917.7zM394.9 173.0H402.2V179.7H394.9zM460.3 173.0H467.5V179.7H460.3zM757.9 173.0H765.2V179.7H757.9zM961.2 173.0H968.5V179.7H961.2zM177.1 179.7H184.4V186.5H177.1zM191.6 179.7H206.2V186.5H191.6zM351.4 179.7H358.6V186.5H351.4zM511.1 179.7H518.4V186.5H511.1zM707.1 179.7H714.4V186.5H707.1zM1055.6 179.7H1062.9V186.5H1055.6zM1135.5 179.7H1142.7V186.5H1135.5zM329.6 186.5H336.8V193.2H329.6zM532.9 186.5H540.1V193.2H532.9zM554.7 186.5H561.9V193.2H554.7zM620.0 186.5H627.3V193.2H620.0zM576.4 193.2H583.7V199.9H576.4z"/>
<path fill="#d8ff00" d="M823.3 52.0H830.5V58.7H823.3zM845.1 58.7H852.3V65.4H845.1zM155.3 65.4H162.6V72.1H155.3zM177.1 65.4H184.4V72.1H177.1zM198.9 65.4H206.2V72.1H198.9zM329.6 65.4H336.8V72.1H329.6zM409.5 65.4H416.7V72.1H409.5zM445.8 65.4H453.0V72.1H445.8zM547.4 65.4H554.7V72.1H547.4zM656.3 65.4H663.6V72.1H656.3zM852.3 65.4H859.6V72.1H852.3zM424.0 72.1H431.2V78.9H424.0zM467.5 72.1H474.8V78.9H467.5zM518.4 72.1H525.6V78.9H518.4zM532.9 72.1H547.4V78.9H532.9zM554.7 72.1H569.2V78.9H554.7zM591.0 72.1H605.5V78.9H591.0zM620.0 72.1H634.5V78.9H620.0zM728.9 72.1H736.2V78.9H728.9zM757.9 72.1H787.0V78.9H757.9zM939.5 72.1H946.7V78.9H939.5zM954.0 72.1H961.2V78.9H954.0zM997.5 72.1H1004.8V78.9H997.5zM1019.3 72.1H1026.6V78.9H1019.3zM1106.4 72.1H1113.7V78.9H1106.4zM678.1 78.9H685.3V85.6H678.1zM714.4 78.9H721.6V85.6H714.4zM801.5 78.9H808.8V85.6H801.5zM881.4 78.9H888.6V85.6H881.4zM895.9 78.9H903.2V85.6H895.9zM924.9 78.9H932.2V85.6H924.9zM990.3 78.9H997.5V85.6H990.3zM1048.4 78.9H1055.6V85.6H1048.4zM1121.0 78.9H1135.5V85.6H1121.0zM699.9 85.6H707.1V92.3H699.9zM866.8 85.6H874.1V92.3H866.8zM983.0 85.6H990.3V92.3H983.0zM975.8 92.3H983.0V99.0H975.8zM772.5 152.8H779.7V159.6H772.5zM431.2 159.6H438.5V166.3H431.2zM874.1 166.3H881.4V173.0H874.1zM932.2 166.3H939.5V173.0H932.2zM990.3 166.3H997.5V173.0H990.3zM148.1 173.0H155.3V179.7H148.1zM169.9 173.0H177.1V179.7H169.9zM213.4 173.0H220.7V179.7H213.4zM249.7 173.0H257.0V179.7H249.7zM271.5 173.0H278.8V179.7H271.5zM293.3 173.0H300.5V179.7H293.3zM373.1 173.0H380.4V179.7H373.1zM387.7 173.0H394.9V179.7H387.7zM402.2 173.0H409.5V179.7H402.2zM453.0 173.0H460.3V179.7H453.0zM482.1 173.0H489.3V179.7H482.1zM852.3 173.0H859.6V179.7H852.3zM910.4 173.0H917.7V179.7H910.4zM278.8 179.7H286.0V186.5H278.8zM315.1 179.7H322.3V186.5H315.1zM540.1 179.7H547.4V186.5H540.1zM670.8 179.7H678.1V186.5H670.8zM1048.4 179.7H1055.6V186.5H1048.4zM1121.0 179.7H1128.2V186.5H1121.0zM322.3 186.5H329.6V193.2H322.3zM598.2 186.5H605.5V193.2H598.2zM612.7 186.5H620.0V193.2H612.7zM627.3 186.5H634.5V193.2H627.3zM692.6 186.5H699.9V193.2H692.6zM736.2 186.5H743.4V193.2H736.2zM605.5 193.2H612.7V199.9H605.5z"/>
<path fill="#e5ff00" d="M373.1 65.4H387.7V72.1H373.1zM148.1 72.1H155.3V78.9H148.1zM169.9 72.1H177.1V78.9H169.9zM249.7 72.1H264.2V78.9H249.7zM315.1 72.1H322.3V78.9H315.1zM336.8 72.1H351.4V78.9H336.8zM460.3 72.1H467.5V78.9H460.3zM482.1 72.1H503.8V78.9H482.1zM511.1 72.1H518.4V78.9H511.1zM569.2 72.1H583.7V78.9H569.2zM670.8 72.1H678.1V78.9H670.8zM736.2 72.1H757.9V78.9H736.2zM946.7 72.1H954.0V78.9H946.7zM1099.2 72.1H1106.4V78.9H1099.2zM293.3 78.9H300.5V85.6H293.3zM932.2 78.9H939.5V85.6H932.2zM1033.8 78.9H1041.1V85.6H1033.8zM1135.5 78.9H1142.7V85.6H1135.5zM917.7 85.6H924.9V92.3H917.7zM808.8 92.3H816.0V99.0H808.8zM874.1 99.0H881.4V105.8H874.1zM816.0 139.4H830.5V146.1H816.0zM837.8 146.1H845.1V152.8H837.8zM438.5 159.6H445.8V166.3H438.5zM162.6 166.3H169.9V173.0H162.6zM895.9 166.3H903.2V173.0H895.9zM924.9 166.3H932.2V173.0H924.9zM939.5 166.3H946.7V173.0H939.5zM975.8 166.3H983.0V173.0H975.8zM1004.8 166.3H1012.1V173.0H1004.8zM184.4 173.0H191.6V179.7H184.4zM220.7 173.0H227.9V179.7H220.7zM242.5 173.0H249.7V179.7H242.5zM257.0 173.0H264.2V179.7H257.0zM641.8 173.0H649.0V179.7H641.8zM678.1 173.0H685.3V179.7H678.1zM866.8 173.0H874.1V179.7H866.8zM1033.8 173.0H1048.4V179.7H1033.8zM307.8 179.7H315.1V186.5H307.8zM336.8 179.7H344.1V186.5H336.8zM547.4 179.7H554.7V186.5H547.4zM561.9 179.7H569.2V186.5H561.9zM663.6 179.7H670.8V186.5H663.6zM699.9 179.7H707.1V186.5H699.9zM1084.7 179.7H1091.9V186.5H1084.7zM583.7 186.5H591.0V193.2H583.7zM721.6 186.5H736.2V193.2H721.6z"/>
<path fill="#f2ff00" d="M126.3 65.4H133.6V72.1H126.3zM162.6 72.1H169.9V78.9H162.6zM184.4 72.1H191.6V78.9H184.4zM213.4 72.1H220.7V78.9H213.4zM235.2 72.1H249.7V78.9H235.2zM264.2 72.1H271.5V78.9H264.2zM286.0 72.1H293.3V78.9H286.0zM307.8 72.1H315.1V78.9H307.8zM322.3 72.1H336.8V78.9H322.3zM394.9 72.1H402.2V78.9H394.9zM416.7 72.1H424.0V78.9H416.7zM453.0 72.1H460.3V78.9H453.0zM547.4 72.1H554.7V78.9H547.4zM605.5 72.1H612.7V78.9H605.5zM634.5 72.1H649.0V78.9H634.5zM1012.1 72.1H1019.3V78.9H1012.1zM1084.7 72.1H1091.9V78.9H1084.7zM721.6 78.9H728.9V85.6H721.6zM961.2 78.9H968.5V85.6H961.2zM1026.6 78.9H1033.8V85.6H1026.6zM1055.6 78.9H1062.9V85.6H1055.6zM1142.7 78.9H1150.0V85.6H1142.7zM968.5 85.6H975.8V92.3H968.5zM866.8 92.3H874.1V99.0H866.8zM830.5 139.4H837.8V146.1H830.5zM794.2 146.1H801.5V152.8H794.2zM903.2 159.6H910.4V166.3H903.2zM1019.3 159.6H1026.6V166.3H1019.3zM881.4 166.3H888.6V173.0H881.4zM997.5 166.3H1004.8V173.0H997.5zM155.3 173.0H162.6V179.7H155.3zM227.9 173.0H235.2V179.7H227.9zM278.8 173.0H286.0V179.7H278.8zM365.9 173.0H373.1V179.7H365.9zM380.4 173.0H387.7V179.7H380.4zM409.5 173.0H416.7V179.7H409.5zM496.6 173.0H503.8V179.7H496.6zM511.1 173.0H518.4V179.7H511.1zM707.1 173.0H714.4V179.7H707.1zM859.6 173.0H866.8V179.7H859.6zM968.5 173.0H975.8V179.7H968.5zM1070.1 173.0H1077.4V179.7H1070.1zM1113.7 173.0H1121.0V179.7H1113.7zM1128.2 173.0H1135.5V179.7H1128.2zM569.2 179.7H576.4V186.5H569.2zM591.0 179.7H598.2V186.5H591.0zM649.0 179.7H656.3V186.5H649.0zM1062.9 179.7H1070.1V186.5H1062.9zM518.4 186.5H532.9V193.2H518.4z"/>
<path fill="#ffff00" d="M823.3 58.7H845.1V65.4H823.3zM133.6 65.4H140.8V72.1H133.6zM140.8 72.1H148.1V78.9H140.8zM155.3 72.1H162.6V78.9H155.3zM191.6 72.1H213.4V78.9H191.6zM351.4 72.1H358.6V78.9H351.4zM365.9 72.1H373.1V78.9H365.9zM387.7 72.1H394.9V78.9H387.7zM402.2 72.1H409.5V78.9H402.2zM431.2 72.1H438.5V78.9H431.2zM503.8 72.1H511.1V78.9H503.8zM525.6 72.1H532.9V78.9H525.6zM649.0 72.1H656.3V78.9H649.0zM663.6 72.1H670.8V78.9H663.6zM852.3 72.1H859.6V78.9H852.3zM271.5 78.9H286.0V85.6H271.5zM612.7 78.9H620.0V85.6H612.7zM641.8 78.9H649.0V85.6H641.8zM728.9 78.9H736.2V85.6H728.9zM750.7 78.9H757.9V85.6H750.7zM779.7 78.9H801.5V85.6H779.7zM859.6 78.9H866.8V85.6H859.6zM888.6 78.9H895.9V85.6H888.6zM939.5 78.9H946.7V85.6H939.5zM954.0 78.9H961.2V85.6H954.0zM1041.1 78.9H1048.4V85.6H1041.1zM1070.1 78.9H1084.7V85.6H1070.1zM1091.9 78.9H1099.2V85.6H1091.9zM1106.4 78.9H1121.0V85.6H1106.4zM685.3 85.6H699.9V92.3H685.3zM707.1 85.6H714.4V92.3H707.1zM924.9 85.6H932.2V92.3H924.9zM816.0 92.3H823.3V99.0H816.0zM903.2 92.3H917.7V99.0H903.2zM808.8 99.0H816.0V105.8H808.8zM445.8 159.6H453.0V166.3H445.8zM888.6 159.6H895.9V166.3H888.6zM946.7 159.6H954.0V166.3H946.7zM140.8 166.3H155.3V173.0H140.8zM235.2 166.3H242.5V173.0H235.2zM293.3 166.3H300.5V173.0H293.3zM358.6 166.3H365.9V173.0H358.6zM387.7 166.3H394.9V173.0H387.7zM757.9 166.3H765.2V173.0H757.9zM779.7 166.3H787.0V173.0H779.7zM845.1 166.3H852.3V173.0H845.1zM910.4 166.3H917.7V173.0H910.4zM954.0 166.3H968.5V173.0H954.0zM983.0 166.3H990.3V173.0H983.0zM177.1 173.0H184.4V179.7H177.1zM198.9 173.0H206.2V179.7H198.9zM286.0 173.0H293.3V179.7H286.0zM344.1 173.0H358.6V179.7H344.1zM467.5 173.0H482.1V179.7H467.5zM489.3 173.0H496.6V179.7H489.3zM503.8 173.0H511.1V179.7H503.8zM561.9 173.0H569.2V179.7H561.9zM1048.4 173.0H1055.6V179.7H1048.4zM1077.4 173.0H1084.7V179.7H1077.4zM1106.4 173.0H1113.7V179.7H1106.4zM322.3 179.7H329.6V186.5H322.3zM424.0 179.7H431.2V186.5H424.0zM532.9 179.7H540.1V186.5H532.9zM554.7 179.7H561.9V186.5H554.7zM598.2 179.7H605.5V186.5H598.2zM627.3 179.7H634.5V186.5H627.3zM685.3 179.7H692.6V186.5H685.3zM750.7 179.7H757.9V186.5H750.7z"/>
<path fill="#ffeb00" d="M845.1 65.4H852.3V72.1H845.1zM126.3 72.1H133.6V78.9H126.3zM177.1 72.1H184.4V78.9H177.1zM227.9 72.1H235.2V78.9H227.9zM373.1 72.1H380.4V78.9H373.1zM409.5 72.1H416.7V78.9H409.5zM438.5 72.1H453.0V78.9H438.5zM474.8 72.1H482.1V78.9H474.8zM583.7 72.1H591.0V78.9H583.7zM656.3 72.1H663.6V78.9H656.3zM1004.8 72.1H1012.1V78.9H1004.8zM1062.9 72.1H1070.1V78.9H1062.9zM148.1 78.9H155.3V85.6H148.1zM162.6 78.9H169.9V85.6H162.6zM257.0 78.9H264.2V85.6H257.0zM300.5 78.9H307.8V85.6H300.5zM336.8 78.9H351.4V85.6H336.8zM358.6 78.9H365.9V85.6H358.6zM424.0 78.9H431.2V85.6H424.0zM503.8 78.9H511.1V85.6H503.8zM518.4 78.9H525.6V85.6H518.4zM532.9 78.9H540.1V85.6H532.9zM561.9 78.9H569.2V85.6H561.9zM598.2 78.9H605.5V85.6H598.2zM620.0 78.9H641.8V85.6H620.0zM670.8 78.9H678.1V85.6H670.8zM757.9 78.9H779.7V85.6H757.9zM997.5 78.9H1004.8V85.6H997.5zM1019.3 78.9H1026.6V85.6H1019.3zM1062.9 78.9H1070.1V85.6H1062.9zM1099.2 78.9H1106.4V85.6H1099.2zM293.3 85.6H300.5V92.3H293.3zM678.1 85.6H685.3V92.3H678.1zM801.5 85.6H808.8V92.3H801.5zM881.4 85.6H888.6V92.3H881.4zM895.9 85.6H903.2V92.3H895.9zM990.3 85.6H997.5V92.3H990.3zM1033.8 85.6H1041.1V92.3H1033.8zM1135.5 85.6H1150.0V92.3H1135.5zM699.9 92.3H714.4V99.0H699.9zM983.0 92.3H990.3V99.0H983.0zM823.3 132.7H830.5V139.4H823.3zM837.8 139.4H845.1V146.1H837.8zM438.5 152.8H445.8V159.6H438.5zM1026.6 152.8H1033.8V159.6H1026.6zM126.3 159.6H133.6V166.3H126.3zM162.6 159.6H169.9V166.3H162.6zM881.4 159.6H888.6V166.3H881.4zM917.7 159.6H924.9V166.3H917.7zM932.2 159.6H939.5V166.3H932.2zM975.8 159.6H983.0V166.3H975.8zM990.3 159.6H997.5V166.3H990.3zM1142.7 159.6H1150.0V166.3H1142.7zM133.6 166.3H140.8V173.0H133.6zM184.4 166.3H191.6V173.0H184.4zM213.4 166.3H220.7V173.0H213.4zM242.5 166.3H257.0V173.0H242.5zM394.9 166.3H409.5V173.0H394.9zM453.0 166.3H467.5V173.0H453.0zM866.8 166.3H874.1V173.0H866.8zM1012.1 166.3H1019.3V173.0H1012.1zM1041.1 166.3H1048.4V173.0H1041.1zM1142.7 166.3H1150.0V173.0H1142.7zM191.6 173.0H198.9V179.7H191.6zM206.2 173.0H213.4V179.7H206.2zM264.2 173.0H271.5V179.7H264.2zM315.1 173.0H322.3V179.7H315.1zM540.1 173.0H547.4V179.7H540.1zM627.3 173.0H634.5V179.7H627.3zM656.3 173.0H663.6V179.7H656.3zM714.4 173.0H721.6V179.7H714.4zM1055.6 173.0H1062.9V179.7H1055.6zM1099.2 173.0H1106.4V179.7H1099.2zM1121.0 173.0H1128.2V179.7H1121.0zM1135.5 173.0H1142.7V179.7H1135.5zM329.6 179.7H336.8V186.5H329.6zM416.7 179.7H424.0V186.5H416.7zM518.4 179.7H525.6V186.5H518.4zM612.7 179.7H627.3V186.5H612.7zM634.5 179.7H641.8V186.5H634.5zM692.6 179.7H699.9V186.5H692.6zM743.4 179.7H750.7V186.5H743.4zM1091.9 179.7H1099.2V186.5H1091.9z"/>
<path fill="#ffd800" d="M830.5 65.4H845.1V72.1H830.5zM220.7 72.1H227.9V78.9H220.7zM380.4 72.1H387.7V78.9H380.4zM140.8 78.9H148.1V85.6H140.8zM184.4 78.9H191.6V85.6H184.4zM242.5 78.9H257.0V85.6H242.5zM264.2 78.9H271.5V85.6H264.2zM286.0 78.9H293.3V85.6H286.0zM315.1 78.9H322.3V85.6H315.1zM351.4 78.9H358.6V85.6H351.4zM387.7 78.9H409.5V85.6H387.7zM438.5 78.9H445.8V85.6H438.5zM460.3 78.9H474.8V85.6H460.3zM482.1 78.9H503.8V85.6H482.1zM525.6 78.9H532.9V85.6H525.6zM540.1 78.9H561.9V85.6H540.1zM569.2 78.9H598.2V85.6H569.2zM605.5 78.9H612.7V85.6H605.5zM736.2 78.9H750.7V85.6H736.2zM946.7 78.9H954.0V85.6H946.7zM1012.1 78.9H1019.3V85.6H1012.1zM1084.7 78.9H1091.9V85.6H1084.7zM424.0 85.6H431.2V92.3H424.0zM598.2 85.6H605.5V92.3H598.2zM627.3 85.6H634.5V92.3H627.3zM714.4 85.6H728.9V92.3H714.4zM787.0 85.6H794.2V92.3H787.0zM859.6 85.6H866.8V92.3H859.6zM888.6 85.6H895.9V92.3H888.6zM961.2 85.6H968.5V92.3H961.2zM1019.3 85.6H1033.8V92.3H1019.3zM1048.4 85.6H1062.9V92.3H1048.4zM1106.4 85.6H1113.7V92.3H1106.4zM1121.0 85.6H1135.5V92.3H1121.0zM692.6 92.3H699.9V99.0H692.6zM801.5 92.3H808.8V99.0H801.5zM917.7 92.3H924.9V99.0H917.7zM975.8 99.0H983.0V105.8H975.8zM874.1 105.8H881.4V112.5H874.1zM830.5 132.7H837.8V139.4H830.5zM431.2 152.8H438.5V159.6H431.2zM924.9 152.8H932.2V159.6H924.9zM990.3 152.8H997.5V159.6H990.3zM293.3 159.6H300.5V166.3H293.3zM394.9 159.6H402.2V166.3H394.9zM787.0 159.6H794.2V166.3H787.0zM874.1 159.6H881.4V166.3H874.1zM895.9 159.6H903.2V166.3H895.9zM924.9 159.6H932.2V166.3H924.9zM939.5 159.6H946.7V166.3H939.5zM954.0 159.6H961.2V166.3H954.0zM997.5 159.6H1019.3V166.3H997.5zM169.9 166.3H177.1V173.0H169.9zM257.0 166.3H264.2V173.0H257.0zM271.5 166.3H278.8V173.0H271.5zM373.1 166.3H380.4V173.0H373.1zM409.5 166.3H416.7V173.0H409.5zM467.5 166.3H474.8V173.0H467.5zM489.3 166.3H496.6V173.0H489.3zM641.8 166.3H649.0V173.0H641.8zM656.3 166.3H663.6V173.0H656.3zM678.1 166.3H685.3V173.0H678.1zM852.3 166.3H866.8V173.0H852.3zM1033.8 166.3H1041.1V173.0H1033.8zM1077.4 166.3H1084.7V173.0H1077.4zM1113.7 166.3H1121.0V173.0H1113.7zM1128.2 166.3H1135.5V173.0H1128.2zM300.5 173.0H307.8V179.7H300.5zM336.8 173.0H344.1V179.7H336.8zM424.0 173.0H431.2V179.7H424.0zM532.9 173.0H540.1V179.7H532.9zM547.4 173.0H554.7V179.7H547.4zM634.5 173.0H641.8V179.7H634.5zM670.8 173.0H678.1V179.7H670.8zM750.7 173.0H757.9V179.7H750.7zM1084.7 173.0H1091.9V179.7H1084.7zM583.7 179.7H591.0V186.5H583.7zM736.2 179.7H743.4V186.5H736.2zM576.4 186.5H583.7V193.2H576.4zM605.5 186.5H612.7V193.2H605.5z"/>
<path fill="#ffc500" d="M823.3 65.4H830.5V72.1H823.3zM133.6 72.1H140.8V78.9H133.6zM845.1 72.1H852.3V78.9H845.1zM126.3 78.9H133.6V85.6H126.3zM155.3 78.9H162.6V85.6H155.3zM169.9 78.9H184.4V85.6H169.9zM191.6 78.9H220.7V85.6H191.6zM235.2 78.9H242.5V85.6H235.2zM307.8 78.9H315.1V85.6H307.8zM322.3 78.9H329.6V85.6H322.3zM365.9 78.9H387.7V85.6H365.9zM416.7 78.9H424.0V85.6H416.7zM431.2 78.9H438.5V85.6H431.2zM445.8 78.9H453.0V85.6H445.8zM511.1 78.9H518.4V85.6H511.1zM649.0 78.9H670.8V85.6H649.0zM852.3 78.9H859.6V85.6H852.3zM257.0 85.6H264.2V92.3H257.0zM271.5 85.6H278.8V92.3H271.5zM336.8 85.6H351.4V92.3H336.8zM358.6 85.6H365.9V92.3H358.6zM438.5 85.6H445.8V92.3H438.5zM482.1 85.6H489.3V92.3H482.1zM496.6 85.6H503.8V92.3H496.6zM532.9 85.6H540.1V92.3H532.9zM612.7 85.6H620.0V92.3H612.7zM641.8 85.6H649.0V92.3H641.8zM728.9 85.6H736.2V92.3H728.9zM765.2 85.6H779.7V92.3H765.2zM794.2 85.6H801.5V92.3H794.2zM932.2 85.6H939.5V92.3H932.2zM1041.1 85.6H1048.4V92.3H1041.1zM1070.1 85.6H1084.7V92.3H1070.1zM1091.9 85.6H1099.2V92.3H1091.9zM1113.7 85.6H1121.0V92.3H1113.7zM895.9 92.3H903.2V99.0H895.9zM968.5 92.3H975.8V99.0H968.5zM1026.6 92.3H1033.8V99.0H1026.6zM866.8 99.0H874.1V105.8H866.8zM888.6 152.8H895.9V159.6H888.6zM903.2 152.8H910.4V159.6H903.2zM917.7 152.8H924.9V159.6H917.7zM932.2 152.8H939.5V159.6H932.2zM1004.8 152.8H1012.1V159.6H1004.8zM1019.3 152.8H1026.6V159.6H1019.3zM140.8 159.6H148.1V166.3H140.8zM213.4 159.6H220.7V166.3H213.4zM249.7 159.6H257.0V166.3H249.7zM358.6 159.6H365.9V166.3H358.6zM460.3 159.6H467.5V166.3H460.3zM641.8 159.6H649.0V166.3H641.8zM779.7 159.6H787.0V166.3H779.7zM845.1 159.6H852.3V166.3H845.1zM910.4 159.6H917.7V166.3H910.4zM961.2 159.6H968.5V166.3H961.2zM155.3 166.3H162.6V173.0H155.3zM177.1 166.3H184.4V173.0H177.1zM198.9 166.3H206.2V173.0H198.9zM220.7 166.3H235.2V173.0H220.7zM264.2 166.3H271.5V173.0H264.2zM286.0 166.3H293.3V173.0H286.0zM315.1 166.3H322.3V173.0H315.1zM344.1 166.3H358.6V173.0H344.1zM365.9 166.3H373.1V173.0H365.9zM380.4 166.3H387.7V173.0H380.4zM474.8 166.3H489.3V173.0H474.8zM496.6 166.3H503.8V173.0H496.6zM511.1 166.3H518.4V173.0H511.1zM670.8 166.3H678.1V173.0H670.8zM707.1 166.3H721.6V173.0H707.1zM1048.4 166.3H1062.9V173.0H1048.4zM1070.1 166.3H1077.4V173.0H1070.1zM1121.0 166.3H1128.2V173.0H1121.0zM307.8 173.0H315.1V179.7H307.8zM322.3 173.0H329.6V179.7H322.3zM569.2 173.0H576.4V179.7H569.2zM591.0 173.0H598.2V179.7H591.0zM612.7 173.0H627.3V179.7H612.7zM649.0 173.0H656.3V179.7H649.0zM685.3 173.0H692.6V179.7H685.3zM699.9 173.0H707.1V179.7H699.9zM743.4 173.0H750.7V179.7H743.4zM1062.9 173.0H1070.1V179.7H1062.9zM525.6 179.7H532.9V186.5H525.6zM721.6 179.7H736.2V186.5H721.6z"/>
<path fill="#ffb500" d="M220.7 78.9H235.2V85.6H220.7zM409.5 78.9H416.7V85.6H409.5zM453.0 78.9H460.3V85.6H453.0zM474.8 78.9H482.1V85.6H474.8zM1004.8 78.9H1012.1V85.6H1004.8zM148.1 85.6H155.3V92.3H148.1zM162.6 85.6H169.9V92.3H162.6zM249.7 85.6H257.0V92.3H249.7zM278.8 85.6H293.3V92.3H278.8zM300.5 85.6H307.8V92.3H300.5zM315.1 85.6H322.3V92.3H315.1zM351.4 85.6H358.6V92.3H351.4zM373.1 85.6H380.4V92.3H373.1zM460.3 85.6H467.5V92.3H460.3zM489.3 85.6H496.6V92.3H489.3zM503.8 85.6H525.6V92.3H503.8zM540.1 85.6H547.4V92.3H540.1zM554.7 85.6H561.9V92.3H554.7zM569.2 85.6H576.4V92.3H569.2zM620.0 85.6H627.3V92.3H620.0zM634.5 85.6H641.8V92.3H634.5zM649.0 85.6H656.3V92.3H649.0zM670.8 85.6H678.1V92.3H670.8zM736.2 85.6H743.4V92.3H736.2zM757.9 85.6H765.2V92.3H757.9zM779.7 85.6H787.0V92.3H779.7zM852.3 85.6H859.6V92.3H852.3zM939.5 85.6H954.0V92.3H939.5zM1062.9 85.6H1070.1V92.3H1062.9zM1099.2 85.6H1106.4V92.3H1099.2zM293.3 92.3H300.5V99.0H293.3zM424.0 92.3H431.2V99.0H424.0zM438.5 92.3H445.8V99.0H438.5zM612.7 92.3H620.0V99.0H612.7zM627.3 92.3H634.5V99.0H627.3zM685.3 92.3H692.6V99.0H685.3zM714.4 92.3H721.6V99.0H714.4zM990.3 92.3H997.5V99.0H990.3zM1048.4 92.3H1055.6V99.0H1048.4zM699.9 99.0H714.4V105.8H699.9zM983.0 99.0H990.3V105.8H983.0zM837.8 132.7H845.1V139.4H837.8zM431.2 146.1H438.5V152.8H431.2zM1019.3 146.1H1026.6V152.8H1019.3zM162.6 152.8H169.9V159.6H162.6zM445.8 152.8H453.0V159.6H445.8zM765.2 152.8H772.5V159.6H765.2zM787.0 152.8H794.2V159.6H787.0zM895.9 152.8H903.2V159.6H895.9zM946.7 152.8H961.2V159.6H946.7zM1012.1 152.8H1019.3V159.6H1012.1zM1142.7 152.8H1150.0V159.6H1142.7zM133.6 159.6H140.8V166.3H133.6zM148.1 159.6H162.6V166.3H148.1zM184.4 159.6H191.6V166.3H184.4zM235.2 159.6H242.5V166.3H235.2zM257.0 159.6H264.2V166.3H257.0zM271.5 159.6H278.8V166.3H271.5zM387.7 159.6H394.9V166.3H387.7zM402.2 159.6H409.5V166.3H402.2zM453.0 159.6H460.3V166.3H453.0zM467.5 159.6H474.8V166.3H467.5zM489.3 159.6H511.1V166.3H489.3zM983.0 159.6H990.3V166.3H983.0zM1033.8 159.6H1048.4V166.3H1033.8zM1113.7 159.6H1121.0V166.3H1113.7zM191.6 166.3H198.9V173.0H191.6zM206.2 166.3H213.4V173.0H206.2zM278.8 166.3H286.0V173.0H278.8zM300.5 166.3H307.8V173.0H300.5zM336.8 166.3H344.1V173.0H336.8zM503.8 166.3H511.1V173.0H503.8zM540.1 166.3H547.4V173.0H540.1zM591.0 166.3H598.2V173.0H591.0zM620.0 166.3H627.3V173.0H620.0zM634.5 166.3H641.8V173.0H634.5zM685.3 166.3H692.6V173.0H685.3zM750.7 166.3H757.9V173.0H750.7zM968.5 166.3H975.8V173.0H968.5zM1084.7 166.3H1091.9V173.0H1084.7zM1099.2 166.3H1106.4V173.0H1099.2zM1135.5 166.3H1142.7V173.0H1135.5zM329.6 173.0H336.8V179.7H329.6zM416.7 173.0H424.0V179.7H416.7zM518.4 173.0H525.6V179.7H518.4zM554.7 173.0H561.9V179.7H554.7zM583.7 173.0H591.0V179.7H583.7zM598.2 173.0H605.5V179.7H598.2zM663.6 173.0H670.8V179.7H663.6zM728.9 173.0H743.4V179.7H728.9zM1091.9 173.0H1099.2V179.7H1091.9zM576.4 179.7H583.7V186.5H576.4zM605.5 179.7H612.7V186.5H605.5z"/>
<path fill="#ffa600" d="M830.5 72.1H845.1V78.9H830.5zM133.6 78.9H140.8V85.6H133.6zM329.6 78.9H336.8V85.6H329.6zM140.8 85.6H148.1V92.3H140.8zM155.3 85.6H162.6V92.3H155.3zM169.9 85.6H177.1V92.3H169.9zM184.4 85.6H191.6V92.3H184.4zM206.2 85.6H227.9V92.3H206.2zM235.2 85.6H249.7V92.3H235.2zM264.2 85.6H271.5V92.3H264.2zM365.9 85.6H373.1V92.3H365.9zM387.7 85.6H409.5V92.3H387.7zM416.7 85.6H424.0V92.3H416.7zM431.2 85.6H438.5V92.3H431.2zM467.5 85.6H474.8V92.3H467.5zM525.6 85.6H532.9V92.3H525.6zM561.9 85.6H569.2V92.3H561.9zM576.4 85.6H583.7V92.3H576.4zM591.0 85.6H598.2V92.3H591.0zM605.5 85.6H612.7V92.3H605.5zM743.4 85.6H757.9V92.3H743.4zM954.0 85.6H961.2V92.3H954.0zM997.5 85.6H1004.8V92.3H997.5zM1084.7 85.6H1091.9V92.3H1084.7zM148.1 92.3H155.3V99.0H148.1zM271.5 92.3H286.0V99.0H271.5zM358.6 92.3H365.9V99.0H358.6zM489.3 92.3H496.6V99.0H489.3zM518.4 92.3H525.6V99.0H518.4zM532.9 92.3H540.1V99.0H532.9zM620.0 92.3H627.3V99.0H620.0zM678.1 92.3H685.3V99.0H678.1zM721.6 92.3H728.9V99.0H721.6zM772.5 92.3H779.7V99.0H772.5zM787.0 92.3H801.5V99.0H787.0zM859.6 92.3H866.8V99.0H859.6zM881.4 92.3H888.6V99.0H881.4zM924.9 92.3H939.5V99.0H924.9zM961.2 92.3H968.5V99.0H961.2zM1019.3 92.3H1026.6V99.0H1019.3zM1055.6 92.3H1062.9V99.0H1055.6zM1077.4 92.3H1084.7V99.0H1077.4zM1091.9 92.3H1099.2V99.0H1091.9zM1121.0 92.3H1142.7V99.0H1121.0zM692.6 99.0H699.9V105.8H692.6zM801.5 99.0H808.8V105.8H801.5zM917.7 99.0H924.9V105.8H917.7zM438.5 146.1H445.8V152.8H438.5zM917.7 146.1H939.5V152.8H917.7zM946.7 146.1H954.0V152.8H946.7zM990.3 146.1H997.5V152.8H990.3zM1004.8 146.1H1012.1V152.8H1004.8zM148.1 152.8H155.3V159.6H148.1zM293.3 152.8H300.5V159.6H293.3zM358.6 152.8H365.9V159.6H358.6zM387.7 152.8H394.9V159.6H387.7zM453.0 152.8H460.3V159.6H453.0zM757.9 152.8H765.2V159.6H757.9zM910.4 152.8H917.7V159.6H910.4zM939.5 152.8H946.7V159.6H939.5zM975.8 152.8H990.3V159.6H975.8zM997.5 152.8H1004.8V159.6H997.5zM1041.1 152.8H1048.4V159.6H1041.1zM169.9 159.6H177.1V166.3H169.9zM242.5 159.6H249.7V166.3H242.5zM278.8 159.6H286.0V166.3H278.8zM373.1 159.6H380.4V166.3H373.1zM409.5 159.6H416.7V166.3H409.5zM561.9 159.6H569.2V166.3H561.9zM678.1 159.6H685.3V166.3H678.1zM707.1 159.6H721.6V166.3H707.1zM757.9 159.6H765.2V166.3H757.9zM852.3 159.6H859.6V166.3H852.3zM866.8 159.6H874.1V166.3H866.8zM1055.6 159.6H1062.9V166.3H1055.6zM1070.1 159.6H1084.7V166.3H1070.1zM1135.5 159.6H1142.7V166.3H1135.5zM307.8 166.3H315.1V173.0H307.8zM532.9 166.3H540.1V173.0H532.9zM547.4 166.3H554.7V173.0H547.4zM561.9 166.3H569.2V173.0H561.9zM583.7 166.3H591.0V173.0H583.7zM612.7 166.3H620.0V173.0H612.7zM627.3 166.3H634.5V173.0H627.3zM1062.9 166.3H1070.1V173.0H1062.9zM1091.9 166.3H1099.2V173.0H1091.9zM1106.4 166.3H1113.7V173.0H1106.4zM692.6 173.0H699.9V179.7H692.6zM721.6 173.0H728.9V179.7H721.6z"/>
<path fill="#ff9300" d="M837.8 78.9H852.3V85.6H837.8zM126.3 85.6H133.6V92.3H126.3zM177.1 85.6H184.4V92.3H177.1zM191.6 85.6H206.2V92.3H191.6zM322.3 85.6H336.8V92.3H322.3zM380.4 85.6H387.7V92.3H380.4zM409.5 85.6H416.7V92.3H409.5zM445.8 85.6H453.0V92.3H445.8zM474.8 85.6H482.1V92.3H474.8zM547.4 85.6H554.7V92.3H547.4zM583.7 85.6H591.0V92.3H583.7zM1004.8 85.6H1019.3V92.3H1004.8zM184.4 92.3H191.6V99.0H184.4zM257.0 92.3H264.2V99.0H257.0zM300.5 92.3H307.8V99.0H300.5zM344.1 92.3H351.4V99.0H344.1zM453.0 92.3H460.3V99.0H453.0zM540.1 92.3H547.4V99.0H540.1zM554.7 92.3H569.2V99.0H554.7zM591.0 92.3H598.2V99.0H591.0zM634.5 92.3H649.0V99.0H634.5zM728.9 92.3H736.2V99.0H728.9zM757.9 92.3H772.5V99.0H757.9zM779.7 92.3H787.0V99.0H779.7zM888.6 92.3H895.9V99.0H888.6zM939.5 92.3H946.7V99.0H939.5zM1033.8 92.3H1048.4V99.0H1033.8zM1070.1 92.3H1077.4V99.0H1070.1zM1099.2 92.3H1106.4V99.0H1099.2zM1113.7 92.3H1121.0V99.0H1113.7zM1142.7 92.3H1150.0V99.0H1142.7zM424.0 99.0H431.2V105.8H424.0zM438.5 99.0H445.8V105.8H438.5zM910.4 99.0H917.7V105.8H910.4zM968.5 99.0H975.8V105.8H968.5zM1026.6 99.0H1033.8V105.8H1026.6zM866.8 105.8H874.1V112.5H866.8zM823.3 125.9H837.8V132.7H823.3zM140.8 146.1H148.1V152.8H140.8zM162.6 146.1H169.9V152.8H162.6zM954.0 146.1H961.2V152.8H954.0zM983.0 146.1H990.3V152.8H983.0zM1012.1 146.1H1019.3V152.8H1012.1zM126.3 152.8H133.6V159.6H126.3zM140.8 152.8H148.1V159.6H140.8zM271.5 152.8H278.8V159.6H271.5zM373.1 152.8H380.4V159.6H373.1zM394.9 152.8H409.5V159.6H394.9zM460.3 152.8H467.5V159.6H460.3zM474.8 152.8H482.1V159.6H474.8zM489.3 152.8H496.6V159.6H489.3zM641.8 152.8H649.0V159.6H641.8zM845.1 152.8H859.6V159.6H845.1zM881.4 152.8H888.6V159.6H881.4zM961.2 152.8H968.5V159.6H961.2zM177.1 159.6H184.4V166.3H177.1zM191.6 159.6H206.2V166.3H191.6zM220.7 159.6H227.9V166.3H220.7zM300.5 159.6H307.8V166.3H300.5zM344.1 159.6H358.6V166.3H344.1zM365.9 159.6H373.1V166.3H365.9zM380.4 159.6H387.7V166.3H380.4zM424.0 159.6H431.2V166.3H424.0zM474.8 159.6H489.3V166.3H474.8zM540.1 159.6H547.4V166.3H540.1zM612.7 159.6H620.0V166.3H612.7zM627.3 159.6H634.5V166.3H627.3zM656.3 159.6H663.6V166.3H656.3zM670.8 159.6H678.1V166.3H670.8zM859.6 159.6H866.8V166.3H859.6zM1048.4 159.6H1055.6V166.3H1048.4zM1084.7 159.6H1091.9V166.3H1084.7zM1106.4 159.6H1113.7V166.3H1106.4zM1128.2 159.6H1135.5V166.3H1128.2zM322.3 166.3H329.6V173.0H322.3zM416.7 166.3H431.2V173.0H416.7zM569.2 166.3H576.4V173.0H569.2zM598.2 166.3H605.5V173.0H598.2zM649.0 166.3H656.3V173.0H649.0zM663.6 166.3H670.8V173.0H663.6zM699.9 166.3H707.1V173.0H699.9zM743.4 166.3H750.7V173.0H743.4zM525.6 173.0H532.9V179.7H525.6zM576.4 173.0H583.7V179.7H576.4zM605.5 173.0H612.7V179.7H605.5z"/>
<path fill="#ff8000" d="M823.3 72.1H830.5V78.9H823.3zM830.5 78.9H837.8V85.6H830.5zM453.0 85.6H460.3V92.3H453.0zM656.3 85.6H670.8V92.3H656.3zM162.6 92.3H169.9V99.0H162.6zM249.7 92.3H257.0V99.0H249.7zM286.0 92.3H293.3V99.0H286.0zM315.1 92.3H322.3V99.0H315.1zM336.8 92.3H344.1V99.0H336.8zM365.9 92.3H380.4V99.0H365.9zM387.7 92.3H394.9V99.0H387.7zM431.2 92.3H438.5V99.0H431.2zM445.8 92.3H453.0V99.0H445.8zM460.3 92.3H474.8V99.0H460.3zM482.1 92.3H489.3V99.0H482.1zM496.6 92.3H518.4V99.0H496.6zM525.6 92.3H532.9V99.0H525.6zM569.2 92.3H591.0V99.0H569.2zM598.2 92.3H605.5V99.0H598.2zM852.3 92.3H859.6V99.0H852.3zM954.0 92.3H961.2V99.0H954.0zM1106.4 92.3H1113.7V99.0H1106.4zM293.3 99.0H300.5V105.8H293.3zM612.7 99.0H627.3V105.8H612.7zM678.1 99.0H692.6V105.8H678.1zM1019.3 99.0H1026.6V105.8H1019.3zM1048.4 99.0H1055.6V105.8H1048.4zM1121.0 99.0H1135.5V105.8H1121.0zM699.9 105.8H714.4V112.5H699.9zM975.8 105.8H983.0V112.5H975.8zM837.8 125.9H845.1V132.7H837.8zM917.7 139.4H924.9V146.1H917.7zM358.6 146.1H365.9V152.8H358.6zM787.0 146.1H794.2V152.8H787.0zM881.4 146.1H888.6V152.8H881.4zM910.4 146.1H917.7V152.8H910.4zM975.8 146.1H983.0V152.8H975.8zM997.5 146.1H1004.8V152.8H997.5zM133.6 152.8H140.8V159.6H133.6zM155.3 152.8H162.6V159.6H155.3zM169.9 152.8H177.1V159.6H169.9zM184.4 152.8H191.6V159.6H184.4zM213.4 152.8H220.7V159.6H213.4zM235.2 152.8H242.5V159.6H235.2zM249.7 152.8H257.0V159.6H249.7zM365.9 152.8H373.1V159.6H365.9zM380.4 152.8H387.7V159.6H380.4zM409.5 152.8H416.7V159.6H409.5zM467.5 152.8H474.8V159.6H467.5zM482.1 152.8H489.3V159.6H482.1zM496.6 152.8H503.8V159.6H496.6zM707.1 152.8H714.4V159.6H707.1zM866.8 152.8H874.1V159.6H866.8zM1033.8 152.8H1041.1V159.6H1033.8zM1048.4 152.8H1055.6V159.6H1048.4zM1070.1 152.8H1084.7V159.6H1070.1zM1128.2 152.8H1135.5V159.6H1128.2zM227.9 159.6H235.2V166.3H227.9zM264.2 159.6H271.5V166.3H264.2zM286.0 159.6H293.3V166.3H286.0zM315.1 159.6H322.3V166.3H315.1zM511.1 159.6H518.4V166.3H511.1zM569.2 159.6H576.4V166.3H569.2zM591.0 159.6H598.2V166.3H591.0zM620.0 159.6H627.3V166.3H620.0zM968.5 159.6H975.8V166.3H968.5zM1091.9 159.6H1106.4V166.3H1091.9zM1121.0 159.6H1128.2V166.3H1121.0zM525.6 166.3H532.9V173.0H525.6zM554.7 166.3H561.9V173.0H554.7zM736.2 166.3H743.4V173.0H736.2z"/>
<path fill="#ff6c00" d="M823.3 78.9H830.5V85.6H823.3zM133.6 85.6H140.8V92.3H133.6zM307.8 85.6H315.1V92.3H307.8zM845.1 85.6H852.3V92.3H845.1zM126.3 92.3H133.6V99.0H126.3zM140.8 92.3H148.1V99.0H140.8zM191.6 92.3H198.9V99.0H191.6zM213.4 92.3H220.7V99.0H213.4zM242.5 92.3H249.7V99.0H242.5zM264.2 92.3H271.5V99.0H264.2zM351.4 92.3H358.6V99.0H351.4zM380.4 92.3H387.7V99.0H380.4zM394.9 92.3H409.5V99.0H394.9zM416.7 92.3H424.0V99.0H416.7zM605.5 92.3H612.7V99.0H605.5zM649.0 92.3H656.3V99.0H649.0zM736.2 92.3H757.9V99.0H736.2zM946.7 92.3H954.0V99.0H946.7zM997.5 92.3H1004.8V99.0H997.5zM1062.9 92.3H1070.1V99.0H1062.9zM1084.7 92.3H1091.9V99.0H1084.7zM278.8 99.0H286.0V105.8H278.8zM336.8 99.0H344.1V105.8H336.8zM358.6 99.0H373.1V105.8H358.6zM416.7 99.0H424.0V105.8H416.7zM467.5 99.0H474.8V105.8H467.5zM518.4 99.0H525.6V105.8H518.4zM598.2 99.0H605.5V105.8H598.2zM627.3 99.0H634.5V105.8H627.3zM714.4 99.0H721.6V105.8H714.4zM728.9 99.0H736.2V105.8H728.9zM779.7 99.0H801.5V105.8H779.7zM859.6 99.0H866.8V105.8H859.6zM881.4 99.0H888.6V105.8H881.4zM903.2 99.0H910.4V105.8H903.2zM924.9 99.0H939.5V105.8H924.9zM990.3 99.0H997.5V105.8H990.3zM1033.8 99.0H1048.4V105.8H1033.8zM1070.1 99.0H1077.4V105.8H1070.1zM1142.7 99.0H1150.0V105.8H1142.7zM424.0 105.8H431.2V112.5H424.0zM438.5 105.8H445.8V112.5H438.5zM692.6 105.8H699.9V112.5H692.6zM801.5 105.8H808.8V112.5H801.5zM859.6 105.8H866.8V112.5H859.6zM968.5 105.8H975.8V112.5H968.5zM983.0 105.8H990.3V112.5H983.0zM699.9 112.5H707.1V119.2H699.9zM975.8 112.5H983.0V119.2H975.8zM830.5 119.2H837.8V125.9H830.5zM816.0 125.9H823.3V132.7H816.0zM431.2 139.4H438.5V146.1H431.2zM801.5 139.4H808.8V146.1H801.5zM946.7 139.4H954.0V146.1H946.7zM990.3 139.4H997.5V146.1H990.3zM1004.8 139.4H1019.3V146.1H1004.8zM148.1 146.1H155.3V152.8H148.1zM387.7 146.1H409.5V152.8H387.7zM453.0 146.1H467.5V152.8H453.0zM641.8 146.1H649.0V152.8H641.8zM757.9 146.1H765.2V152.8H757.9zM903.2 146.1H910.4V152.8H903.2zM939.5 146.1H946.7V152.8H939.5zM1026.6 146.1H1033.8V152.8H1026.6zM1142.7 146.1H1150.0V152.8H1142.7zM177.1 152.8H184.4V159.6H177.1zM257.0 152.8H271.5V159.6H257.0zM286.0 152.8H293.3V159.6H286.0zM300.5 152.8H307.8V159.6H300.5zM344.1 152.8H351.4V159.6H344.1zM511.1 152.8H518.4V159.6H511.1zM678.1 152.8H685.3V159.6H678.1zM714.4 152.8H721.6V159.6H714.4zM779.7 152.8H787.0V159.6H779.7zM859.6 152.8H866.8V159.6H859.6zM874.1 152.8H881.4V159.6H874.1zM1055.6 152.8H1062.9V159.6H1055.6zM1113.7 152.8H1121.0V159.6H1113.7zM1135.5 152.8H1142.7V159.6H1135.5zM206.2 159.6H213.4V166.3H206.2zM532.9 159.6H540.1V166.3H532.9zM547.4 159.6H561.9V166.3H547.4zM634.5 159.6H641.8V166.3H634.5zM685.3 159.6H692.6V166.3H685.3zM750.7 159.6H757.9V166.3H750.7zM1062.9 159.6H1070.1V166.3H1062.9zM329.6 166.3H336.8V173.0H329.6zM518.4 166.3H525.6V173.0H518.4zM605.5 166.3H612.7V173.0H605.5zM692.6 166.3H699.9V173.0H692.6zM721.6 166.3H736.2V173.0H721.6z"/>
<path fill="#ff5b00" d="M227.9 85.6H235.2V92.3H227.9zM837.8 85.6H845.1V92.3H837.8zM133.6 92.3H140.8V99.0H133.6zM169.9 92.3H177.1V99.0H169.9zM198.9 92.3H206.2V99.0H198.9zM235.2 92.3H242.5V99.0H235.2zM307.8 92.3H315.1V99.0H307.8zM322.3 92.3H329.6V99.0H322.3zM474.8 92.3H482.1V99.0H474.8zM547.4 92.3H554.7V99.0H547.4zM663.6 92.3H678.1V99.0H663.6zM1012.1 92.3H1019.3V99.0H1012.1zM162.6 99.0H169.9V105.8H162.6zM257.0 99.0H264.2V105.8H257.0zM271.5 99.0H278.8V105.8H271.5zM300.5 99.0H307.8V105.8H300.5zM344.1 99.0H351.4V105.8H344.1zM373.1 99.0H380.4V105.8H373.1zM387.7 99.0H402.2V105.8H387.7zM445.8 99.0H453.0V105.8H445.8zM489.3 99.0H503.8V105.8H489.3zM511.1 99.0H518.4V105.8H511.1zM532.9 99.0H540.1V105.8H532.9zM554.7 99.0H569.2V105.8H554.7zM591.0 99.0H598.2V105.8H591.0zM641.8 99.0H649.0V105.8H641.8zM765.2 99.0H779.7V105.8H765.2zM816.0 99.0H823.3V105.8H816.0zM852.3 99.0H859.6V105.8H852.3zM888.6 99.0H903.2V105.8H888.6zM961.2 99.0H968.5V105.8H961.2zM1055.6 99.0H1062.9V105.8H1055.6zM1077.4 99.0H1084.7V105.8H1077.4zM1091.9 99.0H1099.2V105.8H1091.9zM1135.5 99.0H1142.7V105.8H1135.5zM678.1 105.8H692.6V112.5H678.1zM808.8 105.8H816.0V112.5H808.8zM808.8 119.2H816.0V125.9H808.8zM823.3 119.2H830.5V125.9H823.3zM816.0 132.7H823.3V139.4H816.0zM903.2 132.7H910.4V139.4H903.2zM438.5 139.4H445.8V146.1H438.5zM794.2 139.4H801.5V146.1H794.2zM910.4 139.4H917.7V146.1H910.4zM924.9 139.4H939.5V146.1H924.9zM997.5 139.4H1004.8V146.1H997.5zM1019.3 139.4H1026.6V146.1H1019.3zM133.6 146.1H140.8V152.8H133.6zM169.9 146.1H177.1V152.8H169.9zM184.4 146.1H191.6V152.8H184.4zM293.3 146.1H300.5V152.8H293.3zM373.1 146.1H380.4V152.8H373.1zM445.8 146.1H453.0V152.8H445.8zM467.5 146.1H474.8V152.8H467.5zM482.1 146.1H489.3V152.8H482.1zM845.1 146.1H852.3V152.8H845.1zM888.6 146.1H903.2V152.8H888.6zM198.9 152.8H206.2V159.6H198.9zM220.7 152.8H227.9V159.6H220.7zM242.5 152.8H249.7V159.6H242.5zM278.8 152.8H286.0V159.6H278.8zM351.4 152.8H358.6V159.6H351.4zM503.8 152.8H511.1V159.6H503.8zM561.9 152.8H569.2V159.6H561.9zM591.0 152.8H598.2V159.6H591.0zM627.3 152.8H641.8V159.6H627.3zM656.3 152.8H663.6V159.6H656.3zM670.8 152.8H678.1V159.6H670.8zM1091.9 152.8H1113.7V159.6H1091.9zM1121.0 152.8H1128.2V159.6H1121.0zM307.8 159.6H315.1V166.3H307.8zM336.8 159.6H344.1V166.3H336.8zM416.7 159.6H424.0V166.3H416.7zM518.4 159.6H525.6V166.3H518.4zM583.7 159.6H591.0V166.3H583.7zM598.2 159.6H605.5V166.3H598.2zM649.0 159.6H656.3V166.3H649.0zM663.6 159.6H670.8V166.3H663.6zM699.9 159.6H707.1V166.3H699.9zM721.6 159.6H728.9V166.3H721.6zM743.4 159.6H750.7V166.3H743.4zM576.4 166.3H583.7V173.0H576.4z"/>
<path fill="#ff4b00" d="M155.3 92.3H162.6V99.0H155.3zM177.1 92.3H184.4V99.0H177.1zM206.2 92.3H213.4V99.0H206.2zM220.7 92.3H235.2V99.0H220.7zM329.6 92.3H336.8V99.0H329.6zM409.5 92.3H416.7V99.0H409.5zM656.3 92.3H663.6V99.0H656.3zM845.1 92.3H852.3V99.0H845.1zM1004.8 92.3H1012.1V99.0H1004.8zM148.1 99.0H155.3V105.8H148.1zM169.9 99.0H177.1V105.8H169.9zM184.4 99.0H191.6V105.8H184.4zM249.7 99.0H257.0V105.8H249.7zM286.0 99.0H293.3V105.8H286.0zM380.4 99.0H387.7V105.8H380.4zM453.0 99.0H467.5V105.8H453.0zM482.1 99.0H489.3V105.8H482.1zM540.1 99.0H547.4V105.8H540.1zM569.2 99.0H583.7V105.8H569.2zM605.5 99.0H612.7V105.8H605.5zM634.5 99.0H641.8V105.8H634.5zM721.6 99.0H728.9V105.8H721.6zM736.2 99.0H743.4V105.8H736.2zM757.9 99.0H765.2V105.8H757.9zM939.5 99.0H946.7V105.8H939.5zM954.0 99.0H961.2V105.8H954.0zM997.5 99.0H1004.8V105.8H997.5zM1062.9 99.0H1070.1V105.8H1062.9zM1084.7 99.0H1091.9V105.8H1084.7zM1099.2 99.0H1106.4V105.8H1099.2zM1113.7 99.0H1121.0V105.8H1113.7zM336.8 105.8H344.1V112.5H336.8zM416.7 105.8H424.0V112.5H416.7zM627.3 105.8H634.5V112.5H627.3zM714.4 105.8H721.6V112.5H714.4zM779.7 105.8H787.0V112.5H779.7zM961.2 105.8H968.5V112.5H961.2zM1026.6 105.8H1033.8V112.5H1026.6zM692.6 112.5H699.9V119.2H692.6zM866.8 112.5H874.1V119.2H866.8zM874.1 119.2H881.4V125.9H874.1zM460.3 139.4H467.5V146.1H460.3zM772.5 139.4H779.7V146.1H772.5zM845.1 139.4H852.3V146.1H845.1zM874.1 139.4H881.4V146.1H874.1zM939.5 139.4H946.7V146.1H939.5zM126.3 146.1H133.6V152.8H126.3zM220.7 146.1H227.9V152.8H220.7zM235.2 146.1H249.7V152.8H235.2zM271.5 146.1H278.8V152.8H271.5zM474.8 146.1H482.1V152.8H474.8zM489.3 146.1H496.6V152.8H489.3zM670.8 146.1H685.3V152.8H670.8zM765.2 146.1H779.7V152.8H765.2zM852.3 146.1H859.6V152.8H852.3zM961.2 146.1H968.5V152.8H961.2zM1041.1 146.1H1048.4V152.8H1041.1zM1113.7 146.1H1121.0V152.8H1113.7zM1128.2 146.1H1135.5V152.8H1128.2zM191.6 152.8H198.9V159.6H191.6zM206.2 152.8H213.4V159.6H206.2zM227.9 152.8H235.2V159.6H227.9zM307.8 152.8H322.3V159.6H307.8zM424.0 152.8H431.2V159.6H424.0zM532.9 152.8H547.4V159.6H532.9zM554.7 152.8H561.9V159.6H554.7zM569.2 152.8H576.4V159.6H569.2zM598.2 152.8H605.5V159.6H598.2zM612.7 152.8H627.3V159.6H612.7zM649.0 152.8H656.3V159.6H649.0zM685.3 152.8H692.6V159.6H685.3zM968.5 152.8H975.8V159.6H968.5zM1084.7 152.8H1091.9V159.6H1084.7zM322.3 159.6H329.6V166.3H322.3zM525.6 159.6H532.9V166.3H525.6zM576.4 159.6H583.7V166.3H576.4zM728.9 159.6H736.2V166.3H728.9z"/>
<path fill="#ff3a00" d="M823.3 92.3H830.5V99.0H823.3zM126.3 99.0H133.6V105.8H126.3zM140.8 99.0H148.1V105.8H140.8zM177.1 99.0H184.4V105.8H177.1zM191.6 99.0H206.2V105.8H191.6zM213.4 99.0H220.7V105.8H213.4zM242.5 99.0H249.7V105.8H242.5zM264.2 99.0H271.5V105.8H264.2zM307.8 99.0H329.6V105.8H307.8zM409.5 99.0H416.7V105.8H409.5zM431.2 99.0H438.5V105.8H431.2zM503.8 99.0H511.1V105.8H503.8zM525.6 99.0H532.9V105.8H525.6zM547.4 99.0H554.7V105.8H547.4zM583.7 99.0H591.0V105.8H583.7zM649.0 99.0H678.1V105.8H649.0zM743.4 99.0H757.9V105.8H743.4zM946.7 99.0H954.0V105.8H946.7zM1106.4 99.0H1113.7V105.8H1106.4zM162.6 105.8H169.9V112.5H162.6zM271.5 105.8H286.0V112.5H271.5zM344.1 105.8H351.4V112.5H344.1zM358.6 105.8H365.9V112.5H358.6zM511.1 105.8H525.6V112.5H511.1zM532.9 105.8H540.1V112.5H532.9zM569.2 105.8H576.4V112.5H569.2zM612.7 105.8H627.3V112.5H612.7zM641.8 105.8H649.0V112.5H641.8zM728.9 105.8H736.2V112.5H728.9zM757.9 105.8H772.5V112.5H757.9zM816.0 105.8H823.3V112.5H816.0zM1019.3 105.8H1026.6V112.5H1019.3zM1041.1 105.8H1055.6V112.5H1041.1zM1091.9 105.8H1099.2V112.5H1091.9zM1128.2 105.8H1150.0V112.5H1128.2zM431.2 112.5H438.5V119.2H431.2zM707.1 112.5H714.4V119.2H707.1zM874.1 112.5H881.4V119.2H874.1zM910.4 112.5H917.7V119.2H910.4zM837.8 119.2H845.1V125.9H837.8zM975.8 119.2H983.0V125.9H975.8zM445.8 132.7H453.0V139.4H445.8zM794.2 132.7H801.5V139.4H794.2zM453.0 139.4H460.3V146.1H453.0zM983.0 139.4H990.3V146.1H983.0zM155.3 146.1H162.6V152.8H155.3zM213.4 146.1H220.7V152.8H213.4zM249.7 146.1H264.2V152.8H249.7zM278.8 146.1H286.0V152.8H278.8zM365.9 146.1H373.1V152.8H365.9zM380.4 146.1H387.7V152.8H380.4zM409.5 146.1H416.7V152.8H409.5zM503.8 146.1H511.1V152.8H503.8zM540.1 146.1H547.4V152.8H540.1zM561.9 146.1H576.4V152.8H561.9zM627.3 146.1H634.5V152.8H627.3zM656.3 146.1H663.6V152.8H656.3zM779.7 146.1H787.0V152.8H779.7zM866.8 146.1H874.1V152.8H866.8zM1033.8 146.1H1041.1V152.8H1033.8zM1048.4 146.1H1062.9V152.8H1048.4zM1070.1 146.1H1084.7V152.8H1070.1zM1121.0 146.1H1128.2V152.8H1121.0zM1135.5 146.1H1142.7V152.8H1135.5zM416.7 152.8H424.0V159.6H416.7zM547.4 152.8H554.7V159.6H547.4zM663.6 152.8H670.8V159.6H663.6zM728.9 152.8H750.7V159.6H728.9zM1062.9 152.8H1070.1V159.6H1062.9zM329.6 159.6H336.8V166.3H329.6zM605.5 159.6H612.7V166.3H605.5zM692.6 159.6H699.9V166.3H692.6zM736.2 159.6H743.4V166.3H736.2z"/>
<path fill="#ff2800" d="M823.3 85.6H837.8V92.3H823.3zM830.5 92.3H845.1V99.0H830.5zM133.6 99.0H140.8V105.8H133.6zM155.3 99.0H162.6V105.8H155.3zM206.2 99.0H213.4V105.8H206.2zM220.7 99.0H227.9V105.8H220.7zM235.2 99.0H242.5V105.8H235.2zM329.6 99.0H336.8V105.8H329.6zM351.4 99.0H358.6V105.8H351.4zM402.2 99.0H409.5V105.8H402.2zM474.8 99.0H482.1V105.8H474.8zM823.3 99.0H830.5V105.8H823.3zM1004.8 99.0H1019.3V105.8H1004.8zM140.8 105.8H148.1V112.5H140.8zM184.4 105.8H198.9V112.5H184.4zM213.4 105.8H220.7V112.5H213.4zM249.7 105.8H264.2V112.5H249.7zM293.3 105.8H329.6V112.5H293.3zM351.4 105.8H358.6V112.5H351.4zM365.9 105.8H380.4V112.5H365.9zM387.7 105.8H394.9V112.5H387.7zM503.8 105.8H511.1V112.5H503.8zM525.6 105.8H532.9V112.5H525.6zM561.9 105.8H569.2V112.5H561.9zM583.7 105.8H591.0V112.5H583.7zM598.2 105.8H612.7V112.5H598.2zM634.5 105.8H641.8V112.5H634.5zM670.8 105.8H678.1V112.5H670.8zM721.6 105.8H728.9V112.5H721.6zM750.7 105.8H757.9V112.5H750.7zM772.5 105.8H779.7V112.5H772.5zM794.2 105.8H801.5V112.5H794.2zM830.5 105.8H837.8V112.5H830.5zM845.1 105.8H852.3V112.5H845.1zM881.4 105.8H888.6V112.5H881.4zM932.2 105.8H939.5V112.5H932.2zM990.3 105.8H997.5V112.5H990.3zM1033.8 105.8H1041.1V112.5H1033.8zM1055.6 105.8H1062.9V112.5H1055.6zM1070.1 105.8H1091.9V112.5H1070.1zM1121.0 105.8H1128.2V112.5H1121.0zM336.8 112.5H344.1V119.2H336.8zM416.7 112.5H424.0V119.2H416.7zM518.4 112.5H525.6V119.2H518.4zM627.3 112.5H634.5V119.2H627.3zM823.3 112.5H830.5V119.2H823.3zM845.1 112.5H852.3V119.2H845.1zM983.0 112.5H997.5V119.2H983.0zM336.8 119.2H344.1V125.9H336.8zM983.0 119.2H990.3V125.9H983.0zM801.5 125.9H808.8V132.7H801.5zM983.0 125.9H990.3V132.7H983.0zM845.1 132.7H852.3V139.4H845.1zM983.0 132.7H990.3V139.4H983.0zM126.3 139.4H133.6V146.1H126.3zM293.3 139.4H300.5V146.1H293.3zM402.2 139.4H409.5V146.1H402.2zM467.5 139.4H474.8V146.1H467.5zM489.3 139.4H496.6V146.1H489.3zM678.1 139.4H685.3V146.1H678.1zM765.2 139.4H772.5V146.1H765.2zM787.0 139.4H794.2V146.1H787.0zM888.6 139.4H910.4V146.1H888.6zM1070.1 139.4H1077.4V146.1H1070.1zM177.1 146.1H184.4V152.8H177.1zM191.6 146.1H198.9V152.8H191.6zM227.9 146.1H235.2V152.8H227.9zM286.0 146.1H293.3V152.8H286.0zM300.5 146.1H307.8V152.8H300.5zM496.6 146.1H503.8V152.8H496.6zM511.1 146.1H518.4V152.8H511.1zM547.4 146.1H554.7V152.8H547.4zM598.2 146.1H605.5V152.8H598.2zM612.7 146.1H627.3V152.8H612.7zM634.5 146.1H641.8V152.8H634.5zM707.1 146.1H721.6V152.8H707.1zM874.1 146.1H881.4V152.8H874.1zM1084.7 146.1H1113.7V152.8H1084.7zM322.3 152.8H329.6V159.6H322.3zM336.8 152.8H344.1V159.6H336.8zM525.6 152.8H532.9V159.6H525.6zM583.7 152.8H591.0V159.6H583.7zM692.6 152.8H699.9V159.6H692.6zM721.6 152.8H728.9V159.6H721.6zM750.7 152.8H757.9V159.6H750.7z"/>
<path fill="#ff1600" d="M830.5 99.0H852.3V105.8H830.5zM126.3 105.8H133.6V112.5H126.3zM148.1 105.8H162.6V112.5H148.1zM169.9 105.8H184.4V112.5H169.9zM198.9 105.8H213.4V112.5H198.9zM286.0 105.8H293.3V112.5H286.0zM329.6 105.8H336.8V112.5H329.6zM380.4 105.8H387.7V112.5H380.4zM409.5 105.8H416.7V112.5H409.5zM467.5 105.8H474.8V112.5H467.5zM482.1 105.8H503.8V112.5H482.1zM540.1 105.8H547.4V112.5H540.1zM554.7 105.8H561.9V112.5H554.7zM576.4 105.8H583.7V112.5H576.4zM591.0 105.8H598.2V112.5H591.0zM649.0 105.8H656.3V112.5H649.0zM663.6 105.8H670.8V112.5H663.6zM736.2 105.8H750.7V112.5H736.2zM823.3 105.8H830.5V112.5H823.3zM837.8 105.8H845.1V112.5H837.8zM852.3 105.8H859.6V112.5H852.3zM888.6 105.8H903.2V112.5H888.6zM910.4 105.8H917.7V112.5H910.4zM1062.9 105.8H1070.1V112.5H1062.9zM1099.2 105.8H1121.0V112.5H1099.2zM140.8 112.5H148.1V119.2H140.8zM184.4 112.5H191.6V119.2H184.4zM293.3 112.5H300.5V119.2H293.3zM344.1 112.5H351.4V119.2H344.1zM511.1 112.5H518.4V119.2H511.1zM525.6 112.5H540.1V119.2H525.6zM678.1 112.5H692.6V119.2H678.1zM714.4 112.5H728.9V119.2H714.4zM765.2 112.5H787.0V119.2H765.2zM830.5 112.5H845.1V119.2H830.5zM903.2 112.5H910.4V119.2H903.2zM932.2 112.5H939.5V119.2H932.2zM1041.1 112.5H1048.4V119.2H1041.1zM293.3 119.2H300.5V125.9H293.3zM845.1 119.2H852.3V125.9H845.1zM990.3 119.2H997.5V125.9H990.3zM845.1 125.9H852.3V132.7H845.1zM975.8 125.9H983.0V132.7H975.8zM932.2 132.7H939.5V139.4H932.2zM975.8 132.7H983.0V139.4H975.8zM990.3 132.7H997.5V139.4H990.3zM1004.8 132.7H1012.1V139.4H1004.8zM220.7 139.4H242.5V146.1H220.7zM394.9 139.4H402.2V146.1H394.9zM445.8 139.4H453.0V146.1H445.8zM482.1 139.4H489.3V146.1H482.1zM547.4 139.4H554.7V146.1H547.4zM561.9 139.4H569.2V146.1H561.9zM627.3 139.4H634.5V146.1H627.3zM663.6 139.4H670.8V146.1H663.6zM954.0 139.4H961.2V146.1H954.0zM1026.6 139.4H1033.8V146.1H1026.6zM1077.4 139.4H1084.7V146.1H1077.4zM1121.0 139.4H1128.2V146.1H1121.0zM1142.7 139.4H1150.0V146.1H1142.7zM198.9 146.1H213.4V152.8H198.9zM264.2 146.1H271.5V152.8H264.2zM315.1 146.1H322.3V152.8H315.1zM344.1 146.1H358.6V152.8H344.1zM424.0 146.1H431.2V152.8H424.0zM532.9 146.1H540.1V152.8H532.9zM554.7 146.1H561.9V152.8H554.7zM583.7 146.1H598.2V152.8H583.7zM649.0 146.1H656.3V152.8H649.0zM685.3 146.1H692.6V152.8H685.3zM721.6 146.1H736.2V152.8H721.6zM743.4 146.1H750.7V152.8H743.4zM859.6 146.1H866.8V152.8H859.6zM968.5 146.1H975.8V152.8H968.5zM1062.9 146.1H1070.1V152.8H1062.9zM518.4 152.8H525.6V159.6H518.4zM576.4 152.8H583.7V159.6H576.4zM605.5 152.8H612.7V159.6H605.5zM699.9 152.8H707.1V159.6H699.9z"/>
<path fill="#ff0400" d="M227.9 99.0H235.2V105.8H227.9zM133.6 105.8H140.8V112.5H133.6zM242.5 105.8H249.7V112.5H242.5zM264.2 105.8H271.5V112.5H264.2zM394.9 105.8H409.5V112.5H394.9zM431.2 105.8H438.5V112.5H431.2zM445.8 105.8H467.5V112.5H445.8zM903.2 105.8H910.4V112.5H903.2zM917.7 105.8H932.2V112.5H917.7zM939.5 105.8H961.2V112.5H939.5zM997.5 105.8H1004.8V112.5H997.5zM148.1 112.5H155.3V119.2H148.1zM191.6 112.5H198.9V119.2H191.6zM242.5 112.5H249.7V119.2H242.5zM278.8 112.5H293.3V119.2H278.8zM315.1 112.5H329.6V119.2H315.1zM351.4 112.5H373.1V119.2H351.4zM387.7 112.5H394.9V119.2H387.7zM409.5 112.5H416.7V119.2H409.5zM424.0 112.5H431.2V119.2H424.0zM503.8 112.5H511.1V119.2H503.8zM547.4 112.5H554.7V119.2H547.4zM561.9 112.5H576.4V119.2H561.9zM591.0 112.5H598.2V119.2H591.0zM641.8 112.5H649.0V119.2H641.8zM670.8 112.5H678.1V119.2H670.8zM728.9 112.5H736.2V119.2H728.9zM757.9 112.5H765.2V119.2H757.9zM859.6 112.5H866.8V119.2H859.6zM961.2 112.5H968.5V119.2H961.2zM1019.3 112.5H1026.6V119.2H1019.3zM1048.4 112.5H1062.9V119.2H1048.4zM1091.9 112.5H1099.2V119.2H1091.9zM1121.0 112.5H1128.2V119.2H1121.0zM184.4 119.2H191.6V125.9H184.4zM278.8 119.2H286.0V125.9H278.8zM358.6 119.2H365.9V125.9H358.6zM438.5 119.2H445.8V125.9H438.5zM598.2 119.2H605.5V125.9H598.2zM612.7 119.2H620.0V125.9H612.7zM627.3 119.2H634.5V125.9H627.3zM678.1 119.2H692.6V125.9H678.1zM707.1 119.2H714.4V125.9H707.1zM852.3 119.2H859.6V125.9H852.3zM910.4 119.2H917.7V125.9H910.4zM336.8 125.9H344.1V132.7H336.8zM627.3 125.9H634.5V132.7H627.3zM852.3 125.9H859.6V132.7H852.3zM903.2 125.9H910.4V132.7H903.2zM961.2 125.9H968.5V132.7H961.2zM990.3 125.9H997.5V132.7H990.3zM257.0 132.7H264.2V139.4H257.0zM293.3 132.7H300.5V139.4H293.3zM387.7 132.7H394.9V139.4H387.7zM569.2 132.7H576.4V139.4H569.2zM627.3 132.7H634.5V139.4H627.3zM852.3 132.7H859.6V139.4H852.3zM888.6 132.7H895.9V139.4H888.6zM910.4 132.7H917.7V139.4H910.4zM954.0 132.7H968.5V139.4H954.0zM997.5 132.7H1004.8V139.4H997.5zM1012.1 132.7H1026.6V139.4H1012.1zM169.9 139.4H177.1V146.1H169.9zM191.6 139.4H198.9V146.1H191.6zM365.9 139.4H380.4V146.1H365.9zM387.7 139.4H394.9V146.1H387.7zM474.8 139.4H482.1V146.1H474.8zM496.6 139.4H503.8V146.1H496.6zM532.9 139.4H547.4V146.1H532.9zM554.7 139.4H561.9V146.1H554.7zM569.2 139.4H576.4V146.1H569.2zM612.7 139.4H620.0V146.1H612.7zM670.8 139.4H678.1V146.1H670.8zM852.3 139.4H859.6V146.1H852.3zM961.2 139.4H968.5V146.1H961.2zM975.8 139.4H983.0V146.1H975.8zM1041.1 139.4H1062.9V146.1H1041.1zM1091.9 139.4H1113.7V146.1H1091.9zM1128.2 139.4H1135.5V146.1H1128.2zM307.8 146.1H315.1V152.8H307.8zM322.3 146.1H329.6V152.8H322.3zM576.4 146.1H583.7V152.8H576.4zM663.6 146.1H670.8V152.8H663.6zM692.6 146.1H699.9V152.8H692.6zM736.2 146.1H743.4V152.8H736.2zM750.7 146.1H757.9V152.8H750.7zM329.6 152.8H336.8V159.6H329.6z"/>
<path fill="#fb050d" d="M220.7 105.8H227.9V112.5H220.7zM474.8 105.8H482.1V112.5H474.8zM547.4 105.8H554.7V112.5H547.4zM656.3 105.8H663.6V112.5H656.3zM1012.1 105.8H1019.3V112.5H1012.1zM126.3 112.5H133.6V119.2H126.3zM155.3 112.5H184.4V119.2H155.3zM206.2 112.5H220.7V119.2H206.2zM257.0 112.5H264.2V119.2H257.0zM271.5 112.5H278.8V119.2H271.5zM300.5 112.5H315.1V119.2H300.5zM329.6 112.5H336.8V119.2H329.6zM373.1 112.5H380.4V119.2H373.1zM489.3 112.5H503.8V119.2H489.3zM540.1 112.5H547.4V119.2H540.1zM612.7 112.5H627.3V119.2H612.7zM634.5 112.5H641.8V119.2H634.5zM656.3 112.5H663.6V119.2H656.3zM743.4 112.5H750.7V119.2H743.4zM808.8 112.5H816.0V119.2H808.8zM852.3 112.5H859.6V119.2H852.3zM917.7 112.5H932.2V119.2H917.7zM954.0 112.5H961.2V119.2H954.0zM968.5 112.5H975.8V119.2H968.5zM1004.8 112.5H1012.1V119.2H1004.8zM1026.6 112.5H1033.8V119.2H1026.6zM1135.5 112.5H1150.0V119.2H1135.5zM286.0 119.2H293.3V125.9H286.0zM300.5 119.2H307.8V125.9H300.5zM344.1 119.2H351.4V125.9H344.1zM416.7 119.2H424.0V125.9H416.7zM511.1 119.2H540.1V125.9H511.1zM561.9 119.2H576.4V125.9H561.9zM591.0 119.2H598.2V125.9H591.0zM634.5 119.2H641.8V125.9H634.5zM903.2 119.2H910.4V125.9H903.2zM917.7 119.2H924.9V125.9H917.7zM961.2 119.2H968.5V125.9H961.2zM1019.3 119.2H1026.6V125.9H1019.3zM293.3 125.9H300.5V132.7H293.3zM358.6 125.9H365.9V132.7H358.6zM540.1 125.9H547.4V132.7H540.1zM561.9 125.9H576.4V132.7H561.9zM598.2 125.9H605.5V132.7H598.2zM678.1 125.9H685.3V132.7H678.1zM910.4 125.9H917.7V132.7H910.4zM227.9 132.7H257.0V139.4H227.9zM271.5 132.7H286.0V139.4H271.5zM438.5 132.7H445.8V139.4H438.5zM540.1 132.7H547.4V139.4H540.1zM554.7 132.7H569.2V139.4H554.7zM591.0 132.7H605.5V139.4H591.0zM641.8 132.7H649.0V139.4H641.8zM678.1 132.7H692.6V139.4H678.1zM895.9 132.7H903.2V139.4H895.9zM917.7 132.7H932.2V139.4H917.7zM939.5 132.7H946.7V139.4H939.5zM968.5 132.7H975.8V139.4H968.5zM1026.6 132.7H1033.8V139.4H1026.6zM140.8 139.4H148.1V146.1H140.8zM162.6 139.4H169.9V146.1H162.6zM184.4 139.4H191.6V146.1H184.4zM198.9 139.4H206.2V146.1H198.9zM213.4 139.4H220.7V146.1H213.4zM242.5 139.4H264.2V146.1H242.5zM278.8 139.4H293.3V146.1H278.8zM307.8 139.4H322.3V146.1H307.8zM358.6 139.4H365.9V146.1H358.6zM424.0 139.4H431.2V146.1H424.0zM503.8 139.4H511.1V146.1H503.8zM583.7 139.4H605.5V146.1H583.7zM641.8 139.4H649.0V146.1H641.8zM656.3 139.4H663.6V146.1H656.3zM685.3 139.4H692.6V146.1H685.3zM707.1 139.4H714.4V146.1H707.1zM728.9 139.4H736.2V146.1H728.9zM743.4 139.4H765.2V146.1H743.4zM881.4 139.4H888.6V146.1H881.4zM1062.9 139.4H1070.1V146.1H1062.9zM1084.7 139.4H1091.9V146.1H1084.7zM1113.7 139.4H1121.0V146.1H1113.7zM1135.5 139.4H1142.7V146.1H1135.5zM336.8 146.1H344.1V152.8H336.8zM416.7 146.1H424.0V152.8H416.7z"/>
<path fill="#f60c1e" d="M235.2 105.8H242.5V112.5H235.2zM787.0 105.8H794.2V112.5H787.0zM1004.8 105.8H1012.1V112.5H1004.8zM198.9 112.5H206.2V119.2H198.9zM264.2 112.5H271.5V119.2H264.2zM380.4 112.5H387.7V119.2H380.4zM394.9 112.5H402.2V119.2H394.9zM438.5 112.5H453.0V119.2H438.5zM554.7 112.5H561.9V119.2H554.7zM576.4 112.5H591.0V119.2H576.4zM598.2 112.5H605.5V119.2H598.2zM649.0 112.5H656.3V119.2H649.0zM663.6 112.5H670.8V119.2H663.6zM736.2 112.5H743.4V119.2H736.2zM750.7 112.5H757.9V119.2H750.7zM794.2 112.5H808.8V119.2H794.2zM816.0 112.5H823.3V119.2H816.0zM939.5 112.5H954.0V119.2H939.5zM997.5 112.5H1004.8V119.2H997.5zM1012.1 112.5H1019.3V119.2H1012.1zM1033.8 112.5H1041.1V119.2H1033.8zM1070.1 112.5H1084.7V119.2H1070.1zM1128.2 112.5H1135.5V119.2H1128.2zM169.9 119.2H177.1V125.9H169.9zM198.9 119.2H206.2V125.9H198.9zM249.7 119.2H264.2V125.9H249.7zM271.5 119.2H278.8V125.9H271.5zM307.8 119.2H329.6V125.9H307.8zM351.4 119.2H358.6V125.9H351.4zM373.1 119.2H380.4V125.9H373.1zM387.7 119.2H394.9V125.9H387.7zM445.8 119.2H453.0V125.9H445.8zM503.8 119.2H511.1V125.9H503.8zM540.1 119.2H561.9V125.9H540.1zM576.4 119.2H591.0V125.9H576.4zM620.0 119.2H627.3V125.9H620.0zM641.8 119.2H649.0V125.9H641.8zM692.6 119.2H707.1V125.9H692.6zM714.4 119.2H721.6V125.9H714.4zM728.9 119.2H736.2V125.9H728.9zM765.2 119.2H772.5V125.9H765.2zM924.9 119.2H939.5V125.9H924.9zM954.0 119.2H961.2V125.9H954.0zM997.5 119.2H1019.3V125.9H997.5zM184.4 125.9H191.6V132.7H184.4zM198.9 125.9H206.2V132.7H198.9zM242.5 125.9H264.2V132.7H242.5zM271.5 125.9H293.3V132.7H271.5zM307.8 125.9H315.1V132.7H307.8zM365.9 125.9H373.1V132.7H365.9zM380.4 125.9H394.9V132.7H380.4zM438.5 125.9H453.0V132.7H438.5zM532.9 125.9H540.1V132.7H532.9zM547.4 125.9H561.9V132.7H547.4zM583.7 125.9H598.2V132.7H583.7zM612.7 125.9H620.0V132.7H612.7zM634.5 125.9H649.0V132.7H634.5zM685.3 125.9H692.6V132.7H685.3zM707.1 125.9H714.4V132.7H707.1zM917.7 125.9H939.5V132.7H917.7zM968.5 125.9H975.8V132.7H968.5zM997.5 125.9H1026.6V132.7H997.5zM1142.7 125.9H1150.0V132.7H1142.7zM184.4 132.7H191.6V139.4H184.4zM220.7 132.7H227.9V139.4H220.7zM264.2 132.7H271.5V139.4H264.2zM286.0 132.7H293.3V139.4H286.0zM300.5 132.7H307.8V139.4H300.5zM315.1 132.7H322.3V139.4H315.1zM344.1 132.7H351.4V139.4H344.1zM358.6 132.7H380.4V139.4H358.6zM394.9 132.7H409.5V139.4H394.9zM431.2 132.7H438.5V139.4H431.2zM467.5 132.7H474.8V139.4H467.5zM489.3 132.7H496.6V139.4H489.3zM532.9 132.7H540.1V139.4H532.9zM547.4 132.7H554.7V139.4H547.4zM583.7 132.7H591.0V139.4H583.7zM612.7 132.7H627.3V139.4H612.7zM656.3 132.7H663.6V139.4H656.3zM670.8 132.7H678.1V139.4H670.8zM728.9 132.7H736.2V139.4H728.9zM787.0 132.7H794.2V139.4H787.0zM946.7 132.7H954.0V139.4H946.7zM1121.0 132.7H1135.5V139.4H1121.0zM1142.7 132.7H1150.0V139.4H1142.7zM148.1 139.4H155.3V146.1H148.1zM177.1 139.4H184.4V146.1H177.1zM206.2 139.4H213.4V146.1H206.2zM264.2 139.4H278.8V146.1H264.2zM300.5 139.4H307.8V146.1H300.5zM322.3 139.4H329.6V146.1H322.3zM344.1 139.4H358.6V146.1H344.1zM380.4 139.4H387.7V146.1H380.4zM511.1 139.4H518.4V146.1H511.1zM605.5 139.4H612.7V146.1H605.5zM620.0 139.4H627.3V146.1H620.0zM634.5 139.4H641.8V146.1H634.5zM649.0 139.4H656.3V146.1H649.0zM714.4 139.4H728.9V146.1H714.4zM736.2 139.4H743.4V146.1H736.2zM968.5 139.4H975.8V146.1H968.5zM1033.8 139.4H1041.1V146.1H1033.8zM329.6 146.1H336.8V152.8H329.6zM518.4 146.1H532.9V152.8H518.4zM605.5 146.1H612.7V152.8H605.5zM699.9 146.1H707.1V152.8H699.9z"/>
<path fill="#f1132f" d="M227.9 105.8H235.2V112.5H227.9zM220.7 112.5H227.9V119.2H220.7zM235.2 112.5H242.5V119.2H235.2zM249.7 112.5H257.0V119.2H249.7zM453.0 112.5H489.3V119.2H453.0zM605.5 112.5H612.7V119.2H605.5zM881.4 112.5H888.6V119.2H881.4zM895.9 112.5H903.2V119.2H895.9zM1062.9 112.5H1070.1V119.2H1062.9zM1099.2 112.5H1121.0V119.2H1099.2zM191.6 119.2H198.9V125.9H191.6zM242.5 119.2H249.7V125.9H242.5zM264.2 119.2H271.5V125.9H264.2zM329.6 119.2H336.8V125.9H329.6zM365.9 119.2H373.1V125.9H365.9zM380.4 119.2H387.7V125.9H380.4zM431.2 119.2H438.5V125.9H431.2zM605.5 119.2H612.7V125.9H605.5zM656.3 119.2H663.6V125.9H656.3zM743.4 119.2H750.7V125.9H743.4zM772.5 119.2H779.7V125.9H772.5zM866.8 119.2H874.1V125.9H866.8zM939.5 119.2H954.0V125.9H939.5zM968.5 119.2H975.8V125.9H968.5zM1121.0 119.2H1128.2V125.9H1121.0zM191.6 125.9H198.9V132.7H191.6zM264.2 125.9H271.5V132.7H264.2zM300.5 125.9H307.8V132.7H300.5zM315.1 125.9H322.3V132.7H315.1zM351.4 125.9H358.6V132.7H351.4zM373.1 125.9H380.4V132.7H373.1zM431.2 125.9H438.5V132.7H431.2zM489.3 125.9H496.6V132.7H489.3zM503.8 125.9H511.1V132.7H503.8zM518.4 125.9H532.9V132.7H518.4zM605.5 125.9H612.7V132.7H605.5zM620.0 125.9H627.3V132.7H620.0zM895.9 125.9H903.2V132.7H895.9zM939.5 125.9H946.7V132.7H939.5zM954.0 125.9H961.2V132.7H954.0zM126.3 132.7H133.6V139.4H126.3zM191.6 132.7H198.9V139.4H191.6zM307.8 132.7H315.1V139.4H307.8zM380.4 132.7H387.7V139.4H380.4zM453.0 132.7H460.3V139.4H453.0zM482.1 132.7H489.3V139.4H482.1zM576.4 132.7H583.7V139.4H576.4zM605.5 132.7H612.7V139.4H605.5zM634.5 132.7H641.8V139.4H634.5zM663.6 132.7H670.8V139.4H663.6zM707.1 132.7H714.4V139.4H707.1zM750.7 132.7H757.9V139.4H750.7zM874.1 132.7H881.4V139.4H874.1zM1055.6 132.7H1062.9V139.4H1055.6zM1070.1 132.7H1077.4V139.4H1070.1zM409.5 139.4H416.7V146.1H409.5zM576.4 139.4H583.7V146.1H576.4zM779.7 139.4H787.0V146.1H779.7zM808.8 139.4H816.0V146.1H808.8zM859.6 139.4H866.8V146.1H859.6z"/>
<path fill="#df102e" d="M133.6 112.5H140.8V119.2H133.6zM402.2 112.5H409.5V119.2H402.2zM1084.7 112.5H1091.9V119.2H1084.7zM126.3 119.2H133.6V125.9H126.3zM148.1 119.2H155.3V125.9H148.1zM177.1 119.2H184.4V125.9H177.1zM394.9 119.2H402.2V125.9H394.9zM424.0 119.2H431.2V125.9H424.0zM489.3 119.2H503.8V125.9H489.3zM649.0 119.2H656.3V125.9H649.0zM663.6 119.2H678.1V125.9H663.6zM721.6 119.2H728.9V125.9H721.6zM736.2 119.2H743.4V125.9H736.2zM757.9 119.2H765.2V125.9H757.9zM816.0 119.2H823.3V125.9H816.0zM895.9 119.2H903.2V125.9H895.9zM1026.6 119.2H1033.8V125.9H1026.6zM1070.1 119.2H1084.7V125.9H1070.1zM1128.2 119.2H1150.0V125.9H1128.2zM344.1 125.9H351.4V132.7H344.1zM394.9 125.9H402.2V132.7H394.9zM496.6 125.9H503.8V132.7H496.6zM511.1 125.9H518.4V132.7H511.1zM576.4 125.9H583.7V132.7H576.4zM649.0 125.9H678.1V132.7H649.0zM692.6 125.9H707.1V132.7H692.6zM728.9 125.9H736.2V132.7H728.9zM874.1 125.9H881.4V132.7H874.1zM946.7 125.9H954.0V132.7H946.7zM1121.0 125.9H1128.2V132.7H1121.0zM1135.5 125.9H1142.7V132.7H1135.5zM169.9 132.7H184.4V139.4H169.9zM198.9 132.7H206.2V139.4H198.9zM351.4 132.7H358.6V139.4H351.4zM474.8 132.7H482.1V139.4H474.8zM496.6 132.7H511.1V139.4H496.6zM649.0 132.7H656.3V139.4H649.0zM714.4 132.7H721.6V139.4H714.4zM736.2 132.7H750.7V139.4H736.2zM757.9 132.7H765.2V139.4H757.9zM801.5 132.7H808.8V139.4H801.5zM1041.1 132.7H1055.6V139.4H1041.1zM1062.9 132.7H1070.1V139.4H1062.9zM1077.4 132.7H1084.7V139.4H1077.4zM1135.5 132.7H1142.7V139.4H1135.5zM133.6 139.4H140.8V146.1H133.6zM155.3 139.4H162.6V146.1H155.3zM866.8 139.4H874.1V146.1H866.8z"/>
<path fill="#cb0b29" d="M888.6 112.5H895.9V119.2H888.6zM133.6 119.2H148.1V125.9H133.6zM206.2 119.2H227.9V125.9H206.2zM235.2 119.2H242.5V125.9H235.2zM750.7 119.2H757.9V125.9H750.7zM794.2 119.2H801.5V125.9H794.2zM859.6 119.2H866.8V125.9H859.6zM1041.1 119.2H1062.9V125.9H1041.1zM177.1 125.9H184.4V132.7H177.1zM220.7 125.9H242.5V132.7H220.7zM402.2 125.9H409.5V132.7H402.2zM714.4 125.9H728.9V132.7H714.4zM736.2 125.9H757.9V132.7H736.2zM808.8 125.9H816.0V132.7H808.8zM1041.1 125.9H1048.4V132.7H1041.1zM1055.6 125.9H1077.4V132.7H1055.6zM1128.2 125.9H1135.5V132.7H1128.2zM140.8 132.7H148.1V139.4H140.8zM213.4 132.7H220.7V139.4H213.4zM336.8 132.7H344.1V139.4H336.8zM460.3 132.7H467.5V139.4H460.3zM511.1 132.7H518.4V139.4H511.1zM525.6 132.7H532.9V139.4H525.6zM721.6 132.7H728.9V139.4H721.6zM765.2 132.7H772.5V139.4H765.2zM881.4 132.7H888.6V139.4H881.4zM1084.7 132.7H1099.2V139.4H1084.7zM1106.4 132.7H1121.0V139.4H1106.4zM692.6 139.4H699.9V146.1H692.6z"/>
<path fill="#b30620" d="M162.6 119.2H169.9V125.9H162.6zM409.5 119.2H416.7V125.9H409.5zM453.0 119.2H460.3V125.9H453.0zM779.7 119.2H787.0V125.9H779.7zM1062.9 119.2H1070.1V125.9H1062.9zM1091.9 119.2H1099.2V125.9H1091.9zM1113.7 119.2H1121.0V125.9H1113.7zM140.8 125.9H148.1V132.7H140.8zM169.9 125.9H177.1V132.7H169.9zM213.4 125.9H220.7V132.7H213.4zM322.3 125.9H336.8V132.7H322.3zM424.0 125.9H431.2V132.7H424.0zM482.1 125.9H489.3V132.7H482.1zM757.9 125.9H765.2V132.7H757.9zM794.2 125.9H801.5V132.7H794.2zM1048.4 125.9H1055.6V132.7H1048.4zM1077.4 125.9H1084.7V132.7H1077.4zM1091.9 125.9H1099.2V132.7H1091.9zM133.6 132.7H140.8V139.4H133.6zM148.1 132.7H155.3V139.4H148.1zM162.6 132.7H169.9V139.4H162.6zM518.4 132.7H525.6V139.4H518.4zM692.6 132.7H699.9V139.4H692.6zM1099.2 132.7H1106.4V139.4H1099.2zM336.8 139.4H344.1V146.1H336.8zM518.4 139.4H525.6V146.1H518.4z"/>
<path fill="#9b0116" d="M787.0 112.5H794.2V119.2H787.0zM155.3 119.2H162.6V125.9H155.3zM402.2 119.2H409.5V125.9H402.2zM474.8 119.2H489.3V125.9H474.8zM801.5 119.2H808.8V125.9H801.5zM881.4 119.2H888.6V125.9H881.4zM1033.8 119.2H1041.1V125.9H1033.8zM126.3 125.9H133.6V132.7H126.3zM148.1 125.9H155.3V132.7H148.1zM453.0 125.9H460.3V132.7H453.0zM467.5 125.9H482.1V132.7H467.5zM765.2 125.9H772.5V132.7H765.2zM859.6 125.9H874.1V132.7H859.6zM1026.6 125.9H1033.8V132.7H1026.6zM1113.7 125.9H1121.0V132.7H1113.7zM322.3 132.7H336.8V139.4H322.3zM424.0 132.7H431.2V139.4H424.0zM866.8 132.7H874.1V139.4H866.8zM329.6 139.4H336.8V146.1H329.6zM525.6 139.4H532.9V146.1H525.6zM699.9 139.4H707.1V146.1H699.9z"/>
<path fill="#820314" d="M227.9 112.5H235.2V119.2H227.9zM227.9 119.2H235.2V125.9H227.9zM460.3 119.2H474.8V125.9H460.3zM133.6 125.9H140.8V132.7H133.6zM206.2 125.9H213.4V132.7H206.2zM416.7 125.9H424.0V132.7H416.7zM206.2 132.7H213.4V139.4H206.2zM699.9 132.7H707.1V139.4H699.9zM772.5 132.7H779.7V139.4H772.5zM859.6 132.7H866.8V139.4H859.6zM416.7 139.4H424.0V146.1H416.7z"/>
<path fill="#690814" d="M1099.2 119.2H1106.4V125.9H1099.2zM162.6 125.9H169.9V132.7H162.6zM460.3 125.9H467.5V132.7H460.3zM772.5 125.9H779.7V132.7H772.5zM787.0 125.9H794.2V132.7H787.0zM881.4 125.9H888.6V132.7H881.4zM1099.2 125.9H1106.4V132.7H1099.2zM155.3 132.7H162.6V139.4H155.3zM1033.8 132.7H1041.1V139.4H1033.8z"/>
<path fill="#500b13" d="M787.0 119.2H794.2V125.9H787.0zM888.6 119.2H895.9V125.9H888.6zM1084.7 119.2H1091.9V125.9H1084.7zM409.5 125.9H416.7V132.7H409.5zM779.7 125.9H787.0V132.7H779.7zM1033.8 125.9H1041.1V132.7H1033.8zM1084.7 125.9H1091.9V132.7H1084.7zM409.5 132.7H424.0V139.4H409.5z"/>
<path fill="#370d11" d="M1106.4 119.2H1113.7V125.9H1106.4zM888.6 125.9H895.9V132.7H888.6zM1106.4 125.9H1113.7V132.7H1106.4zM779.7 132.7H787.0V139.4H779.7zM808.8 132.7H816.0V139.4H808.8z"/>
<path fill="#1e0f0f" d="M155.3 125.9H162.6V132.7H155.3z"/>
</g>
<path d="M126.3 231.3h13.0M1150.0 231.3h-13.0M126.3 177.0h13.0M1150.0 177.0h-13.0M126.3 122.7h13.0M1150.0 122.7h-13.0M126.3 68.4h13.0M1150.0 68.4h-13.0M126.3 243.3h5.0M1150.0 243.3h-5.0M126.3 239.7h5.0M1150.0 239.7h-5.0M126.3 236.6h5.0M1150.0 236.6h-5.0M126.3 233.8h5.0M1150.0 233.8h-5.0M126.3 215.0h5.0M1150.0 215.0h-5.0M126.3 205.4h5.0M1150.0 205.4h-5.0M126.3 198.6h5.0M1150.0 198.6h-5.0M126.3 193.3h5.0M1150.0 193.3h-5.0M126.3 189.0h5.0M1150.0 189.0h-5.0M126.3 185.4h5.0M1150.0 185.4h-5.0M126.3 182.3h5.0M1150.0 182.3h-5.0M126.3 179.5h5.0M1150.0 179.5h-5.0M126.3 160.7h5.0M1150.0 160.7h-5.0M126.3 151.1h5.0M1150.0 151.1h-5.0M126.3 144.3h5.0M1150.0 144.3h-5.0M126.3 139.0h5.0M1150.0 139.0h-5.0M126.3 134.7h5.0M1150.0 134.7h-5.0M126.3 131.1h5.0M1150.0 131.1h-5.0M126.3 128.0h5.0M1150.0 128.0h-5.0M126.3 125.2h5.0M1150.0 125.2h-5.0M126.3 106.4h5.0M1150.0 106.4h-5.0M126.3 96.8h5.0M1150.0 96.8h-5.0M126.3 90.0h5.0M1150.0 90.0h-5.0M126.3 84.7h5.0M1150.0 84.7h-5.0M126.3 80.4h5.0M1150.0 80.4h-5.0M126.3 76.8h5.0M1150.0 76.8h-5.0M126.3 73.7h5.0M1150.0 73.7h-5.0M126.3 70.9h5.0M1150.0 70.9h-5.0M126.3 52.1h5.0M1150.0 52.1h-5.0M126.3 42.5h5.0M1150.0 42.5h-5.0" stroke="#000" stroke-width="1.5" fill="none"/>
<path d="M228.7 38.5v8.0M228.7 247.0v-8.0M331.0 38.5v8.0M331.0 247.0v-8.0M433.4 38.5v8.0M433.4 247.0v-8.0M535.8 38.5v8.0M535.8 247.0v-8.0M638.1 38.5v26.0M638.1 247.0v-26.0M740.5 38.5v8.0M740.5 247.0v-8.0M842.9 38.5v8.0M842.9 247.0v-8.0M945.3 38.5v8.0M945.3 247.0v-8.0M1047.6 38.5v8.0M1047.6 247.0v-8.0" stroke="#000" stroke-width="1.7" fill="none"/>
<rect x="126.3" y="38.5" width="1023.7" height="208.5" fill="none" stroke="#000" stroke-width="1.7"/>
<text transform="translate(117.6,80.7) scale(0.97,1)" font-family='"DejaVu Sans","Liberation Sans",sans-serif' font-size="34" text-anchor="end">10<tspan dy="-14.9" font-size="27">4</tspan></text>
<text transform="translate(117.6,134.9) scale(0.97,1)" font-family='"DejaVu Sans","Liberation Sans",sans-serif' font-size="34" text-anchor="end">10<tspan dy="-14.9" font-size="27">3</tspan></text>
<text transform="translate(117.6,189.3) scale(0.97,1)" font-family='"DejaVu Sans","Liberation Sans",sans-serif' font-size="34" text-anchor="end">10<tspan dy="-14.9" font-size="27">2</tspan></text>
<text transform="translate(117.6,243.6) scale(0.97,1)" font-family='"DejaVu Sans","Liberation Sans",sans-serif' font-size="34" text-anchor="end">10<tspan dy="-14.9" font-size="27">1</tspan></text>
<g shape-rendering="crispEdges">
<path fill="#2eff00" d="M1034.5 1154.2H1042.2V1160.8H1034.5zM695.9 1160.8H703.6V1167.3H695.9zM880.6 1160.8H888.3V1167.3H880.6zM1088.4 1160.8H1096.1V1167.3H1088.4zM1119.2 1160.8H1126.9V1167.3H1119.2zM434.2 1167.3H441.9V1173.8H434.2zM480.4 1167.3H495.8V1173.8H480.4zM1111.5 1167.3H1126.9V1173.8H1111.5zM318.7 1173.8H326.4V1180.3H318.7zM434.2 1173.8H441.9V1180.3H434.2zM472.7 1173.8H480.4V1180.3H472.7zM488.1 1173.8H495.8V1180.3H488.1zM757.5 1173.8H772.8V1180.3H757.5zM795.9 1173.8H803.6V1180.3H795.9zM1119.2 1173.8H1126.9V1180.3H1119.2zM149.4 1180.3H157.1V1186.8H149.4zM218.7 1180.3H234.1V1186.8H218.7zM395.7 1180.3H403.4V1186.8H395.7zM472.7 1180.3H480.4V1186.8H472.7zM488.1 1180.3H495.8V1186.8H488.1zM557.3 1180.3H565.0V1186.8H557.3zM572.7 1180.3H580.4V1186.8H572.7zM695.9 1180.3H703.6V1186.8H695.9zM734.4 1180.3H742.1V1186.8H734.4zM795.9 1180.3H803.6V1186.8H795.9zM880.6 1180.3H888.3V1186.8H880.6zM896.0 1180.3H903.7V1186.8H896.0zM1042.2 1180.3H1049.9V1186.8H1042.2zM1119.2 1180.3H1126.9V1186.8H1119.2zM218.7 1186.8H234.1V1193.4H218.7zM434.2 1186.8H441.9V1193.4H434.2zM488.1 1186.8H495.8V1193.4H488.1zM511.1 1186.8H518.8V1193.4H511.1zM572.7 1186.8H580.4V1193.4H572.7zM588.1 1186.8H595.8V1193.4H588.1zM603.5 1186.8H611.2V1193.4H603.5zM849.8 1186.8H857.5V1193.4H849.8zM1019.2 1186.8H1034.5V1193.4H1019.2zM1049.9 1186.8H1057.6V1193.4H1049.9zM1119.2 1186.8H1126.9V1193.4H1119.2zM218.7 1193.4H226.4V1199.9H218.7zM472.7 1193.4H480.4V1199.9H472.7zM572.7 1193.4H580.4V1199.9H572.7zM603.5 1193.4H611.2V1199.9H603.5zM688.2 1193.4H695.9V1199.9H688.2zM896.0 1193.4H903.7V1199.9H896.0zM965.3 1193.4H973.0V1199.9H965.3zM1026.8 1193.4H1042.2V1199.9H1026.8zM1119.2 1193.4H1126.9V1199.9H1119.2zM203.3 1199.9H211.0V1206.4H203.3zM218.7 1199.9H226.4V1206.4H218.7zM318.7 1199.9H326.4V1206.4H318.7zM434.2 1199.9H441.9V1206.4H434.2zM465.0 1199.9H472.7V1206.4H465.0zM480.4 1199.9H495.8V1206.4H480.4zM549.6 1199.9H557.3V1206.4H549.6zM572.7 1199.9H580.4V1206.4H572.7zM588.1 1199.9H595.8V1206.4H588.1zM695.9 1199.9H703.6V1206.4H695.9zM734.4 1199.9H742.1V1206.4H734.4zM757.5 1199.9H772.8V1206.4H757.5zM880.6 1199.9H888.3V1206.4H880.6zM896.0 1199.9H903.7V1206.4H896.0zM1026.8 1199.9H1034.5V1206.4H1026.8zM1049.9 1199.9H1057.6V1206.4H1049.9zM1119.2 1199.9H1126.9V1206.4H1119.2z"/>
<path fill="#3fff00" d="M218.7 997.8H226.4V1004.3H218.7zM757.5 1134.7H765.2V1141.2H757.5zM742.1 1141.2H749.8V1147.7H742.1zM757.5 1141.2H772.8V1147.7H757.5zM603.5 1147.7H611.2V1154.2H603.5zM634.3 1147.7H642.0V1154.2H634.3zM711.3 1147.7H719.0V1154.2H711.3zM734.4 1147.7H772.8V1154.2H734.4zM788.2 1147.7H803.6V1154.2H788.2zM1019.2 1147.7H1034.5V1154.2H1019.2zM1111.5 1147.7H1126.9V1154.2H1111.5zM280.2 1154.2H287.9V1160.8H280.2zM295.6 1154.2H303.3V1160.8H295.6zM349.5 1154.2H357.2V1160.8H349.5zM434.2 1154.2H441.9V1160.8H434.2zM457.3 1154.2H465.0V1160.8H457.3zM472.7 1154.2H495.8V1160.8H472.7zM511.1 1154.2H526.5V1160.8H511.1zM541.9 1154.2H565.0V1160.8H541.9zM572.7 1154.2H588.1V1160.8H572.7zM603.5 1154.2H611.2V1160.8H603.5zM618.9 1154.2H626.6V1160.8H618.9zM634.3 1154.2H649.7V1160.8H634.3zM657.4 1154.2H665.1V1160.8H657.4zM680.5 1154.2H726.7V1160.8H680.5zM742.1 1154.2H749.8V1160.8H742.1zM757.5 1154.2H772.8V1160.8H757.5zM795.9 1154.2H819.0V1160.8H795.9zM849.8 1154.2H857.5V1160.8H849.8zM880.6 1154.2H888.3V1160.8H880.6zM919.1 1154.2H926.8V1160.8H919.1zM934.5 1154.2H942.2V1160.8H934.5zM949.9 1154.2H973.0V1160.8H949.9zM996.1 1154.2H1011.5V1160.8H996.1zM1019.2 1154.2H1034.5V1160.8H1019.2zM1042.2 1154.2H1065.3V1160.8H1042.2zM1073.0 1154.2H1080.7V1160.8H1073.0zM1088.4 1154.2H1096.1V1160.8H1088.4zM1119.2 1154.2H1126.9V1160.8H1119.2zM1134.6 1154.2H1142.3V1160.8H1134.6zM134.0 1160.8H141.7V1167.3H134.0zM149.4 1160.8H157.1V1167.3H149.4zM195.6 1160.8H203.3V1167.3H195.6zM218.7 1160.8H249.5V1167.3H218.7zM257.1 1160.8H264.8V1167.3H257.1zM272.5 1160.8H303.3V1167.3H272.5zM311.0 1160.8H326.4V1167.3H311.0zM341.8 1160.8H349.5V1167.3H341.8zM395.7 1160.8H411.1V1167.3H395.7zM418.8 1160.8H426.5V1167.3H418.8zM434.2 1160.8H480.4V1167.3H434.2zM488.1 1160.8H503.5V1167.3H488.1zM511.1 1160.8H518.8V1167.3H511.1zM541.9 1160.8H565.0V1167.3H541.9zM572.7 1160.8H595.8V1167.3H572.7zM603.5 1160.8H626.6V1167.3H603.5zM703.6 1160.8H726.7V1167.3H703.6zM734.4 1160.8H757.5V1167.3H734.4zM765.2 1160.8H772.8V1167.3H765.2zM795.9 1160.8H811.3V1167.3H795.9zM826.7 1160.8H834.4V1167.3H826.7zM849.8 1160.8H865.2V1167.3H849.8zM896.0 1160.8H911.4V1167.3H896.0zM919.1 1160.8H926.8V1167.3H919.1zM934.5 1160.8H942.2V1167.3H934.5zM949.9 1160.8H957.6V1167.3H949.9zM965.3 1160.8H980.7V1167.3H965.3zM996.1 1160.8H1003.8V1167.3H996.1zM1019.2 1160.8H1080.7V1167.3H1019.2zM1096.1 1160.8H1103.8V1167.3H1096.1zM1111.5 1160.8H1119.2V1167.3H1111.5zM134.0 1167.3H141.7V1173.8H134.0zM149.4 1167.3H157.1V1173.8H149.4zM172.5 1167.3H187.9V1173.8H172.5zM195.6 1167.3H249.5V1173.8H195.6zM264.8 1167.3H272.5V1173.8H264.8zM280.2 1167.3H303.3V1173.8H280.2zM311.0 1167.3H334.1V1173.8H311.0zM341.8 1167.3H357.2V1173.8H341.8zM380.3 1167.3H388.0V1173.8H380.3zM411.1 1167.3H426.5V1173.8H411.1zM441.9 1167.3H480.4V1173.8H441.9zM495.8 1167.3H503.5V1173.8H495.8zM511.1 1167.3H518.8V1173.8H511.1zM557.3 1167.3H565.0V1173.8H557.3zM572.7 1167.3H618.9V1173.8H572.7zM634.3 1167.3H649.7V1173.8H634.3zM680.5 1167.3H703.6V1173.8H680.5zM711.3 1167.3H719.0V1173.8H711.3zM734.4 1167.3H780.5V1173.8H734.4zM795.9 1167.3H811.3V1173.8H795.9zM826.7 1167.3H834.4V1173.8H826.7zM849.8 1167.3H857.5V1173.8H849.8zM865.2 1167.3H888.3V1173.8H865.2zM896.0 1167.3H926.8V1173.8H896.0zM942.2 1167.3H980.7V1173.8H942.2zM996.1 1167.3H1011.5V1173.8H996.1zM1019.2 1167.3H1080.7V1173.8H1019.2zM1088.4 1167.3H1103.8V1173.8H1088.4zM1126.9 1167.3H1142.3V1173.8H1126.9zM134.0 1173.8H141.7V1180.3H134.0zM149.4 1173.8H164.8V1180.3H149.4zM172.5 1173.8H203.3V1180.3H172.5zM211.0 1173.8H249.5V1180.3H211.0zM257.1 1173.8H303.3V1180.3H257.1zM311.0 1173.8H318.7V1180.3H311.0zM326.4 1173.8H341.8V1180.3H326.4zM349.5 1173.8H364.9V1180.3H349.5zM380.3 1173.8H388.0V1180.3H380.3zM395.7 1173.8H411.1V1180.3H395.7zM441.9 1173.8H457.3V1180.3H441.9zM465.0 1173.8H472.7V1180.3H465.0zM480.4 1173.8H488.1V1180.3H480.4zM495.8 1173.8H503.5V1180.3H495.8zM511.1 1173.8H526.5V1180.3H511.1zM549.6 1173.8H557.3V1180.3H549.6zM572.7 1173.8H595.8V1180.3H572.7zM603.5 1173.8H626.6V1180.3H603.5zM634.3 1173.8H642.0V1180.3H634.3zM657.4 1173.8H665.1V1180.3H657.4zM672.8 1173.8H726.7V1180.3H672.8zM734.4 1173.8H757.5V1180.3H734.4zM772.8 1173.8H795.9V1180.3H772.8zM803.6 1173.8H811.3V1180.3H803.6zM826.7 1173.8H842.1V1180.3H826.7zM849.8 1173.8H857.5V1180.3H849.8zM865.2 1173.8H872.9V1180.3H865.2zM880.6 1173.8H888.3V1180.3H880.6zM896.0 1173.8H911.4V1180.3H896.0zM949.9 1173.8H973.0V1180.3H949.9zM980.7 1173.8H1011.5V1180.3H980.7zM1019.2 1173.8H1057.6V1180.3H1019.2zM1065.3 1173.8H1080.7V1180.3H1065.3zM1088.4 1173.8H1119.2V1180.3H1088.4zM1134.6 1173.8H1150.0V1180.3H1134.6zM134.0 1180.3H149.4V1186.8H134.0zM195.6 1180.3H218.7V1186.8H195.6zM234.1 1180.3H249.5V1186.8H234.1zM264.8 1180.3H272.5V1186.8H264.8zM280.2 1180.3H303.3V1186.8H280.2zM311.0 1180.3H357.2V1186.8H311.0zM380.3 1180.3H388.0V1186.8H380.3zM418.8 1180.3H426.5V1186.8H418.8zM434.2 1180.3H472.7V1186.8H434.2zM480.4 1180.3H488.1V1186.8H480.4zM495.8 1180.3H503.5V1186.8H495.8zM511.1 1180.3H526.5V1186.8H511.1zM541.9 1180.3H549.6V1186.8H541.9zM580.4 1180.3H611.2V1186.8H580.4zM618.9 1180.3H626.6V1186.8H618.9zM634.3 1180.3H642.0V1186.8H634.3zM657.4 1180.3H665.1V1186.8H657.4zM680.5 1180.3H695.9V1186.8H680.5zM711.3 1180.3H734.4V1186.8H711.3zM742.1 1180.3H788.2V1186.8H742.1zM803.6 1180.3H819.0V1186.8H803.6zM826.7 1180.3H857.5V1186.8H826.7zM865.2 1180.3H880.6V1186.8H865.2zM888.3 1180.3H896.0V1186.8H888.3zM903.7 1180.3H926.8V1186.8H903.7zM934.5 1180.3H1011.5V1186.8H934.5zM1019.2 1180.3H1042.2V1186.8H1019.2zM1049.9 1180.3H1080.7V1186.8H1049.9zM1088.4 1180.3H1096.1V1186.8H1088.4zM1103.8 1180.3H1119.2V1186.8H1103.8zM1134.6 1180.3H1142.3V1186.8H1134.6zM134.0 1186.8H172.5V1193.4H134.0zM180.2 1186.8H195.6V1193.4H180.2zM203.3 1186.8H218.7V1193.4H203.3zM234.1 1186.8H249.5V1193.4H234.1zM257.1 1186.8H264.8V1193.4H257.1zM280.2 1186.8H388.0V1193.4H280.2zM395.7 1186.8H418.8V1193.4H395.7zM426.5 1186.8H434.2V1193.4H426.5zM441.9 1186.8H488.1V1193.4H441.9zM495.8 1186.8H511.1V1193.4H495.8zM518.8 1186.8H526.5V1193.4H518.8zM534.2 1186.8H565.0V1193.4H534.2zM580.4 1186.8H588.1V1193.4H580.4zM595.8 1186.8H603.5V1193.4H595.8zM611.2 1186.8H657.4V1193.4H611.2zM665.1 1186.8H688.2V1193.4H665.1zM695.9 1186.8H726.7V1193.4H695.9zM734.4 1186.8H780.5V1193.4H734.4zM795.9 1186.8H811.3V1193.4H795.9zM826.7 1186.8H834.4V1193.4H826.7zM842.1 1186.8H849.8V1193.4H842.1zM865.2 1186.8H888.3V1193.4H865.2zM896.0 1186.8H911.4V1193.4H896.0zM919.1 1186.8H926.8V1193.4H919.1zM934.5 1186.8H942.2V1193.4H934.5zM949.9 1186.8H1011.5V1193.4H949.9zM1034.5 1186.8H1049.9V1193.4H1034.5zM1057.6 1186.8H1080.7V1193.4H1057.6zM1088.4 1186.8H1103.8V1193.4H1088.4zM1111.5 1186.8H1119.2V1193.4H1111.5zM1126.9 1186.8H1150.0V1193.4H1126.9zM149.4 1193.4H164.8V1199.9H149.4zM172.5 1193.4H187.9V1199.9H172.5zM195.6 1193.4H218.7V1199.9H195.6zM226.4 1193.4H326.4V1199.9H226.4zM334.1 1193.4H388.0V1199.9H334.1zM395.7 1193.4H426.5V1199.9H395.7zM434.2 1193.4H472.7V1199.9H434.2zM480.4 1193.4H572.7V1199.9H480.4zM580.4 1193.4H603.5V1199.9H580.4zM611.2 1193.4H665.1V1199.9H611.2zM672.8 1193.4H688.2V1199.9H672.8zM695.9 1193.4H726.7V1199.9H695.9zM734.4 1193.4H788.2V1199.9H734.4zM795.9 1193.4H819.0V1199.9H795.9zM826.7 1193.4H834.4V1199.9H826.7zM842.1 1193.4H857.5V1199.9H842.1zM865.2 1193.4H888.3V1199.9H865.2zM903.7 1193.4H942.2V1199.9H903.7zM949.9 1193.4H965.3V1199.9H949.9zM973.0 1193.4H988.4V1199.9H973.0zM996.1 1193.4H1026.8V1199.9H996.1zM1042.2 1193.4H1080.7V1199.9H1042.2zM1088.4 1193.4H1119.2V1199.9H1088.4zM1134.6 1193.4H1142.3V1199.9H1134.6zM126.3 1199.9H134.0V1206.4H126.3zM149.4 1199.9H164.8V1206.4H149.4zM172.5 1199.9H203.3V1206.4H172.5zM211.0 1199.9H218.7V1206.4H211.0zM226.4 1199.9H264.8V1206.4H226.4zM272.5 1199.9H303.3V1206.4H272.5zM311.0 1199.9H318.7V1206.4H311.0zM326.4 1199.9H334.1V1206.4H326.4zM349.5 1199.9H388.0V1206.4H349.5zM395.7 1199.9H434.2V1206.4H395.7zM441.9 1199.9H449.6V1206.4H441.9zM457.3 1199.9H465.0V1206.4H457.3zM472.7 1199.9H480.4V1206.4H472.7zM495.8 1199.9H503.5V1206.4H495.8zM511.1 1199.9H534.2V1206.4H511.1zM557.3 1199.9H572.7V1206.4H557.3zM580.4 1199.9H588.1V1206.4H580.4zM595.8 1199.9H626.6V1206.4H595.8zM634.3 1199.9H642.0V1206.4H634.3zM649.7 1199.9H665.1V1206.4H649.7zM672.8 1199.9H695.9V1206.4H672.8zM703.6 1199.9H734.4V1206.4H703.6zM742.1 1199.9H757.5V1206.4H742.1zM772.8 1199.9H788.2V1206.4H772.8zM795.9 1199.9H811.3V1206.4H795.9zM819.0 1199.9H834.4V1206.4H819.0zM842.1 1199.9H857.5V1206.4H842.1zM865.2 1199.9H880.6V1206.4H865.2zM888.3 1199.9H896.0V1206.4H888.3zM903.7 1199.9H942.2V1206.4H903.7zM949.9 1199.9H1011.5V1206.4H949.9zM1019.2 1199.9H1026.8V1206.4H1019.2zM1034.5 1199.9H1049.9V1206.4H1034.5zM1057.6 1199.9H1080.7V1206.4H1057.6zM1088.4 1199.9H1119.2V1206.4H1088.4zM1126.9 1199.9H1142.3V1206.4H1126.9z"/>
<path fill="#4eff00" d="M149.4 997.8H157.1V1004.3H149.4zM211.0 997.8H218.7V1004.3H211.0zM226.4 997.8H241.8V1004.3H226.4zM457.3 997.8H465.0V1004.3H457.3zM472.7 997.8H495.8V1004.3H472.7zM588.1 997.8H595.8V1004.3H588.1zM603.5 997.8H611.2V1004.3H603.5zM695.9 997.8H703.6V1004.3H695.9zM734.4 997.8H757.5V1004.3H734.4zM780.5 997.8H788.2V1004.3H780.5zM803.6 997.8H811.3V1004.3H803.6zM880.6 997.8H888.3V1004.3H880.6zM919.1 997.8H926.8V1004.3H919.1zM965.3 997.8H973.0V1004.3H965.3zM988.4 997.8H996.1V1004.3H988.4zM1026.8 997.8H1042.2V1004.3H1026.8zM1049.9 997.8H1057.6V1004.3H1049.9zM1119.2 997.8H1126.9V1004.3H1119.2zM1134.6 997.8H1142.3V1004.3H1134.6zM734.4 1128.2H742.1V1134.7H734.4zM749.8 1128.2H772.8V1134.7H749.8zM734.4 1134.7H757.5V1141.2H734.4zM765.2 1134.7H780.5V1141.2H765.2zM795.9 1134.7H811.3V1141.2H795.9zM295.6 1141.2H303.3V1147.7H295.6zM472.7 1141.2H480.4V1147.7H472.7zM572.7 1141.2H588.1V1147.7H572.7zM603.5 1141.2H626.6V1147.7H603.5zM695.9 1141.2H742.1V1147.7H695.9zM749.8 1141.2H757.5V1147.7H749.8zM772.8 1141.2H788.2V1147.7H772.8zM795.9 1141.2H819.0V1147.7H795.9zM880.6 1141.2H888.3V1147.7H880.6zM996.1 1141.2H1011.5V1147.7H996.1zM1019.2 1141.2H1026.8V1147.7H1019.2zM1049.9 1141.2H1057.6V1147.7H1049.9zM1111.5 1141.2H1126.9V1147.7H1111.5zM134.0 1147.7H141.7V1154.2H134.0zM280.2 1147.7H287.9V1154.2H280.2zM295.6 1147.7H311.0V1154.2H295.6zM318.7 1147.7H326.4V1154.2H318.7zM349.5 1147.7H357.2V1154.2H349.5zM457.3 1147.7H503.5V1154.2H457.3zM511.1 1147.7H518.8V1154.2H511.1zM541.9 1147.7H603.5V1154.2H541.9zM611.2 1147.7H634.3V1154.2H611.2zM642.0 1147.7H665.1V1154.2H642.0zM688.2 1147.7H711.3V1154.2H688.2zM719.0 1147.7H734.4V1154.2H719.0zM772.8 1147.7H788.2V1154.2H772.8zM803.6 1147.7H811.3V1154.2H803.6zM826.7 1147.7H834.4V1154.2H826.7zM849.8 1147.7H857.5V1154.2H849.8zM865.2 1147.7H872.9V1154.2H865.2zM880.6 1147.7H888.3V1154.2H880.6zM896.0 1147.7H903.7V1154.2H896.0zM911.4 1147.7H926.8V1154.2H911.4zM934.5 1147.7H942.2V1154.2H934.5zM949.9 1147.7H1011.5V1154.2H949.9zM1034.5 1147.7H1080.7V1154.2H1034.5zM1088.4 1147.7H1103.8V1154.2H1088.4zM1134.6 1147.7H1142.3V1154.2H1134.6zM126.3 1154.2H141.7V1160.8H126.3zM149.4 1154.2H157.1V1160.8H149.4zM187.9 1154.2H241.8V1160.8H187.9zM249.5 1154.2H272.5V1160.8H249.5zM287.9 1154.2H295.6V1160.8H287.9zM303.3 1154.2H326.4V1160.8H303.3zM334.1 1154.2H349.5V1160.8H334.1zM357.2 1154.2H364.9V1160.8H357.2zM380.3 1154.2H388.0V1160.8H380.3zM395.7 1154.2H434.2V1160.8H395.7zM441.9 1154.2H457.3V1160.8H441.9zM465.0 1154.2H472.7V1160.8H465.0zM495.8 1154.2H511.1V1160.8H495.8zM534.2 1154.2H541.9V1160.8H534.2zM565.0 1154.2H572.7V1160.8H565.0zM588.1 1154.2H603.5V1160.8H588.1zM611.2 1154.2H618.9V1160.8H611.2zM626.6 1154.2H634.3V1160.8H626.6zM649.7 1154.2H657.4V1160.8H649.7zM672.8 1154.2H680.5V1160.8H672.8zM726.7 1154.2H742.1V1160.8H726.7zM749.8 1154.2H757.5V1160.8H749.8zM780.5 1154.2H795.9V1160.8H780.5zM819.0 1154.2H849.8V1160.8H819.0zM857.5 1154.2H880.6V1160.8H857.5zM888.3 1154.2H919.1V1160.8H888.3zM926.8 1154.2H934.5V1160.8H926.8zM942.2 1154.2H949.9V1160.8H942.2zM973.0 1154.2H996.1V1160.8H973.0zM1011.5 1154.2H1019.2V1160.8H1011.5zM1065.3 1154.2H1073.0V1160.8H1065.3zM1080.7 1154.2H1088.4V1160.8H1080.7zM1096.1 1154.2H1119.2V1160.8H1096.1zM1126.9 1154.2H1134.6V1160.8H1126.9zM1142.3 1154.2H1150.0V1160.8H1142.3zM126.3 1160.8H134.0V1167.3H126.3zM141.7 1160.8H149.4V1167.3H141.7zM157.1 1160.8H164.8V1167.3H157.1zM172.5 1160.8H195.6V1167.3H172.5zM203.3 1160.8H218.7V1167.3H203.3zM249.5 1160.8H257.1V1167.3H249.5zM264.8 1160.8H272.5V1167.3H264.8zM303.3 1160.8H311.0V1167.3H303.3zM326.4 1160.8H341.8V1167.3H326.4zM349.5 1160.8H395.7V1167.3H349.5zM411.1 1160.8H418.8V1167.3H411.1zM426.5 1160.8H434.2V1167.3H426.5zM480.4 1160.8H488.1V1167.3H480.4zM503.5 1160.8H511.1V1167.3H503.5zM518.8 1160.8H541.9V1167.3H518.8zM565.0 1160.8H572.7V1167.3H565.0zM595.8 1160.8H603.5V1167.3H595.8zM626.6 1160.8H695.9V1167.3H626.6zM726.7 1160.8H734.4V1167.3H726.7zM757.5 1160.8H765.2V1167.3H757.5zM772.8 1160.8H795.9V1167.3H772.8zM811.3 1160.8H826.7V1167.3H811.3zM834.4 1160.8H849.8V1167.3H834.4zM865.2 1160.8H880.6V1167.3H865.2zM888.3 1160.8H896.0V1167.3H888.3zM911.4 1160.8H919.1V1167.3H911.4zM926.8 1160.8H934.5V1167.3H926.8zM942.2 1160.8H949.9V1167.3H942.2zM957.6 1160.8H965.3V1167.3H957.6zM980.7 1160.8H996.1V1167.3H980.7zM1003.8 1160.8H1019.2V1167.3H1003.8zM1080.7 1160.8H1088.4V1167.3H1080.7zM1103.8 1160.8H1111.5V1167.3H1103.8zM1126.9 1160.8H1150.0V1167.3H1126.9zM126.3 1167.3H134.0V1173.8H126.3zM141.7 1167.3H149.4V1173.8H141.7zM157.1 1167.3H172.5V1173.8H157.1zM187.9 1167.3H195.6V1173.8H187.9zM249.5 1167.3H264.8V1173.8H249.5zM272.5 1167.3H280.2V1173.8H272.5zM303.3 1167.3H311.0V1173.8H303.3zM334.1 1167.3H341.8V1173.8H334.1zM357.2 1167.3H380.3V1173.8H357.2zM388.0 1167.3H411.1V1173.8H388.0zM426.5 1167.3H434.2V1173.8H426.5zM503.5 1167.3H511.1V1173.8H503.5zM518.8 1167.3H557.3V1173.8H518.8zM565.0 1167.3H572.7V1173.8H565.0zM618.9 1167.3H626.6V1173.8H618.9zM649.7 1167.3H680.5V1173.8H649.7zM703.6 1167.3H711.3V1173.8H703.6zM719.0 1167.3H734.4V1173.8H719.0zM780.5 1167.3H795.9V1173.8H780.5zM811.3 1167.3H826.7V1173.8H811.3zM834.4 1167.3H849.8V1173.8H834.4zM857.5 1167.3H865.2V1173.8H857.5zM888.3 1167.3H896.0V1173.8H888.3zM926.8 1167.3H942.2V1173.8H926.8zM980.7 1167.3H996.1V1173.8H980.7zM1011.5 1167.3H1019.2V1173.8H1011.5zM1080.7 1167.3H1088.4V1173.8H1080.7zM1103.8 1167.3H1111.5V1173.8H1103.8zM1142.3 1167.3H1150.0V1173.8H1142.3zM126.3 1173.8H134.0V1180.3H126.3zM141.7 1173.8H149.4V1180.3H141.7zM164.8 1173.8H172.5V1180.3H164.8zM203.3 1173.8H211.0V1180.3H203.3zM249.5 1173.8H257.1V1180.3H249.5zM303.3 1173.8H311.0V1180.3H303.3zM341.8 1173.8H349.5V1180.3H341.8zM364.9 1173.8H380.3V1180.3H364.9zM388.0 1173.8H395.7V1180.3H388.0zM411.1 1173.8H434.2V1180.3H411.1zM457.3 1173.8H465.0V1180.3H457.3zM503.5 1173.8H511.1V1180.3H503.5zM526.5 1173.8H549.6V1180.3H526.5zM557.3 1173.8H572.7V1180.3H557.3zM595.8 1173.8H603.5V1180.3H595.8zM626.6 1173.8H634.3V1180.3H626.6zM642.0 1173.8H657.4V1180.3H642.0zM665.1 1173.8H672.8V1180.3H665.1zM726.7 1173.8H734.4V1180.3H726.7zM811.3 1173.8H826.7V1180.3H811.3zM842.1 1173.8H849.8V1180.3H842.1zM857.5 1173.8H865.2V1180.3H857.5zM872.9 1173.8H880.6V1180.3H872.9zM888.3 1173.8H896.0V1180.3H888.3zM911.4 1173.8H949.9V1180.3H911.4zM973.0 1173.8H980.7V1180.3H973.0zM1011.5 1173.8H1019.2V1180.3H1011.5zM1057.6 1173.8H1065.3V1180.3H1057.6zM1080.7 1173.8H1088.4V1180.3H1080.7zM1126.9 1173.8H1134.6V1180.3H1126.9zM126.3 1180.3H134.0V1186.8H126.3zM157.1 1180.3H195.6V1186.8H157.1zM249.5 1180.3H264.8V1186.8H249.5zM272.5 1180.3H280.2V1186.8H272.5zM303.3 1180.3H311.0V1186.8H303.3zM357.2 1180.3H380.3V1186.8H357.2zM388.0 1180.3H395.7V1186.8H388.0zM403.4 1180.3H418.8V1186.8H403.4zM426.5 1180.3H434.2V1186.8H426.5zM503.5 1180.3H511.1V1186.8H503.5zM526.5 1180.3H541.9V1186.8H526.5zM549.6 1180.3H557.3V1186.8H549.6zM565.0 1180.3H572.7V1186.8H565.0zM611.2 1180.3H618.9V1186.8H611.2zM626.6 1180.3H634.3V1186.8H626.6zM642.0 1180.3H657.4V1186.8H642.0zM665.1 1180.3H680.5V1186.8H665.1zM703.6 1180.3H711.3V1186.8H703.6zM788.2 1180.3H795.9V1186.8H788.2zM819.0 1180.3H826.7V1186.8H819.0zM926.8 1180.3H934.5V1186.8H926.8zM1011.5 1180.3H1019.2V1186.8H1011.5zM1080.7 1180.3H1088.4V1186.8H1080.7zM1096.1 1180.3H1103.8V1186.8H1096.1zM1126.9 1180.3H1134.6V1186.8H1126.9zM1142.3 1180.3H1150.0V1186.8H1142.3zM126.3 1186.8H134.0V1193.4H126.3zM172.5 1186.8H180.2V1193.4H172.5zM195.6 1186.8H203.3V1193.4H195.6zM249.5 1186.8H257.1V1193.4H249.5zM264.8 1186.8H280.2V1193.4H264.8zM388.0 1186.8H395.7V1193.4H388.0zM418.8 1186.8H426.5V1193.4H418.8zM526.5 1186.8H534.2V1193.4H526.5zM565.0 1186.8H572.7V1193.4H565.0zM657.4 1186.8H665.1V1193.4H657.4zM688.2 1186.8H695.9V1193.4H688.2zM726.7 1186.8H734.4V1193.4H726.7zM780.5 1186.8H795.9V1193.4H780.5zM811.3 1186.8H826.7V1193.4H811.3zM834.4 1186.8H842.1V1193.4H834.4zM857.5 1186.8H865.2V1193.4H857.5zM888.3 1186.8H896.0V1193.4H888.3zM911.4 1186.8H919.1V1193.4H911.4zM926.8 1186.8H934.5V1193.4H926.8zM942.2 1186.8H949.9V1193.4H942.2zM1011.5 1186.8H1019.2V1193.4H1011.5zM1080.7 1186.8H1088.4V1193.4H1080.7zM1103.8 1186.8H1111.5V1193.4H1103.8zM126.3 1193.4H149.4V1199.9H126.3zM164.8 1193.4H172.5V1199.9H164.8zM187.9 1193.4H195.6V1199.9H187.9zM326.4 1193.4H334.1V1199.9H326.4zM388.0 1193.4H395.7V1199.9H388.0zM426.5 1193.4H434.2V1199.9H426.5zM665.1 1193.4H672.8V1199.9H665.1zM726.7 1193.4H734.4V1199.9H726.7zM788.2 1193.4H795.9V1199.9H788.2zM819.0 1193.4H826.7V1199.9H819.0zM834.4 1193.4H842.1V1199.9H834.4zM857.5 1193.4H865.2V1199.9H857.5zM888.3 1193.4H896.0V1199.9H888.3zM942.2 1193.4H949.9V1199.9H942.2zM988.4 1193.4H996.1V1199.9H988.4zM1080.7 1193.4H1088.4V1199.9H1080.7zM1126.9 1193.4H1134.6V1199.9H1126.9zM1142.3 1193.4H1150.0V1199.9H1142.3zM134.0 1199.9H149.4V1206.4H134.0zM164.8 1199.9H172.5V1206.4H164.8zM264.8 1199.9H272.5V1206.4H264.8zM303.3 1199.9H311.0V1206.4H303.3zM334.1 1199.9H349.5V1206.4H334.1zM388.0 1199.9H395.7V1206.4H388.0zM449.6 1199.9H457.3V1206.4H449.6zM503.5 1199.9H511.1V1206.4H503.5zM534.2 1199.9H549.6V1206.4H534.2zM626.6 1199.9H634.3V1206.4H626.6zM642.0 1199.9H649.7V1206.4H642.0zM665.1 1199.9H672.8V1206.4H665.1zM788.2 1199.9H795.9V1206.4H788.2zM811.3 1199.9H819.0V1206.4H811.3zM834.4 1199.9H842.1V1206.4H834.4zM857.5 1199.9H865.2V1206.4H857.5zM942.2 1199.9H949.9V1206.4H942.2zM1011.5 1199.9H1019.2V1206.4H1011.5zM1080.7 1199.9H1088.4V1206.4H1080.7zM1142.3 1199.9H1150.0V1206.4H1142.3z"/>
<path fill="#5cff00" d="M134.0 997.8H149.4V1004.3H134.0zM157.1 997.8H211.0V1004.3H157.1zM241.8 997.8H287.9V1004.3H241.8zM295.6 997.8H372.6V1004.3H295.6zM380.3 997.8H388.0V1004.3H380.3zM395.7 997.8H426.5V1004.3H395.7zM434.2 997.8H457.3V1004.3H434.2zM465.0 997.8H472.7V1004.3H465.0zM495.8 997.8H503.5V1004.3H495.8zM511.1 997.8H526.5V1004.3H511.1zM534.2 997.8H588.1V1004.3H534.2zM611.2 997.8H626.6V1004.3H611.2zM634.3 997.8H657.4V1004.3H634.3zM665.1 997.8H680.5V1004.3H665.1zM688.2 997.8H695.9V1004.3H688.2zM703.6 997.8H734.4V1004.3H703.6zM757.5 997.8H780.5V1004.3H757.5zM788.2 997.8H803.6V1004.3H788.2zM811.3 997.8H819.0V1004.3H811.3zM826.7 997.8H880.6V1004.3H826.7zM896.0 997.8H919.1V1004.3H896.0zM926.8 997.8H965.3V1004.3H926.8zM973.0 997.8H988.4V1004.3H973.0zM996.1 997.8H1011.5V1004.3H996.1zM1019.2 997.8H1026.8V1004.3H1019.2zM1042.2 997.8H1049.9V1004.3H1042.2zM1057.6 997.8H1119.2V1004.3H1057.6zM1126.9 997.8H1134.6V1004.3H1126.9zM1142.3 997.8H1150.0V1004.3H1142.3zM757.5 1121.7H772.8V1128.2H757.5zM742.1 1128.2H749.8V1134.7H742.1zM772.8 1128.2H788.2V1134.7H772.8zM618.9 1134.7H626.6V1141.2H618.9zM634.3 1134.7H642.0V1141.2H634.3zM695.9 1134.7H703.6V1141.2H695.9zM711.3 1134.7H719.0V1141.2H711.3zM726.7 1134.7H734.4V1141.2H726.7zM780.5 1134.7H795.9V1141.2H780.5zM811.3 1134.7H819.0V1141.2H811.3zM1019.2 1134.7H1026.8V1141.2H1019.2zM126.3 1141.2H134.0V1147.7H126.3zM280.2 1141.2H287.9V1147.7H280.2zM357.2 1141.2H364.9V1147.7H357.2zM441.9 1141.2H472.7V1147.7H441.9zM480.4 1141.2H526.5V1147.7H480.4zM541.9 1141.2H565.0V1147.7H541.9zM588.1 1141.2H603.5V1147.7H588.1zM626.6 1141.2H665.1V1147.7H626.6zM672.8 1141.2H695.9V1147.7H672.8zM788.2 1141.2H795.9V1147.7H788.2zM826.7 1141.2H834.4V1147.7H826.7zM842.1 1141.2H857.5V1147.7H842.1zM865.2 1141.2H880.6V1147.7H865.2zM896.0 1141.2H996.1V1147.7H896.0zM1011.5 1141.2H1019.2V1147.7H1011.5zM1026.8 1141.2H1049.9V1147.7H1026.8zM1057.6 1141.2H1080.7V1147.7H1057.6zM1088.4 1141.2H1111.5V1147.7H1088.4zM1126.9 1141.2H1150.0V1147.7H1126.9zM126.3 1147.7H134.0V1154.2H126.3zM141.7 1147.7H157.1V1154.2H141.7zM203.3 1147.7H280.2V1154.2H203.3zM287.9 1147.7H295.6V1154.2H287.9zM311.0 1147.7H318.7V1154.2H311.0zM334.1 1147.7H349.5V1154.2H334.1zM357.2 1147.7H457.3V1154.2H357.2zM503.5 1147.7H511.1V1154.2H503.5zM518.8 1147.7H526.5V1154.2H518.8zM665.1 1147.7H688.2V1154.2H665.1zM811.3 1147.7H826.7V1154.2H811.3zM834.4 1147.7H849.8V1154.2H834.4zM857.5 1147.7H865.2V1154.2H857.5zM872.9 1147.7H880.6V1154.2H872.9zM888.3 1147.7H896.0V1154.2H888.3zM903.7 1147.7H911.4V1154.2H903.7zM926.8 1147.7H934.5V1154.2H926.8zM942.2 1147.7H949.9V1154.2H942.2zM1011.5 1147.7H1019.2V1154.2H1011.5zM1080.7 1147.7H1088.4V1154.2H1080.7zM1103.8 1147.7H1111.5V1154.2H1103.8zM1126.9 1147.7H1134.6V1154.2H1126.9zM1142.3 1147.7H1150.0V1154.2H1142.3zM141.7 1154.2H149.4V1160.8H141.7zM164.8 1154.2H187.9V1160.8H164.8zM241.8 1154.2H249.5V1160.8H241.8zM272.5 1154.2H280.2V1160.8H272.5zM326.4 1154.2H334.1V1160.8H326.4zM364.9 1154.2H380.3V1160.8H364.9zM388.0 1154.2H395.7V1160.8H388.0zM526.5 1154.2H534.2V1160.8H526.5zM665.1 1154.2H672.8V1160.8H665.1zM772.8 1154.2H780.5V1160.8H772.8zM164.8 1160.8H172.5V1167.3H164.8zM626.6 1167.3H634.3V1173.8H626.6zM857.5 1180.3H865.2V1186.8H857.5z"/>
<path fill="#6bff00" d="M126.3 997.8H134.0V1004.3H126.3zM287.9 997.8H295.6V1004.3H287.9zM372.6 997.8H380.3V1004.3H372.6zM388.0 997.8H395.7V1004.3H388.0zM426.5 997.8H434.2V1004.3H426.5zM503.5 997.8H511.1V1004.3H503.5zM526.5 997.8H534.2V1004.3H526.5zM595.8 997.8H603.5V1004.3H595.8zM626.6 997.8H634.3V1004.3H626.6zM657.4 997.8H665.1V1004.3H657.4zM680.5 997.8H688.2V1004.3H680.5zM819.0 997.8H826.7V1004.3H819.0zM888.3 997.8H896.0V1004.3H888.3zM1011.5 997.8H1019.2V1004.3H1011.5zM149.4 1004.3H157.1V1010.8H149.4zM211.0 1004.3H234.1V1010.8H211.0zM434.2 1004.3H441.9V1010.8H434.2zM480.4 1004.3H488.1V1010.8H480.4zM734.4 1004.3H742.1V1010.8H734.4zM757.5 1004.3H765.2V1010.8H757.5zM880.6 1004.3H888.3V1010.8H880.6zM772.8 1121.7H780.5V1128.2H772.8zM711.3 1128.2H734.4V1134.7H711.3zM788.2 1128.2H811.3V1134.7H788.2zM472.7 1134.7H480.4V1141.2H472.7zM549.6 1134.7H557.3V1141.2H549.6zM580.4 1134.7H618.9V1141.2H580.4zM626.6 1134.7H634.3V1141.2H626.6zM642.0 1134.7H657.4V1141.2H642.0zM688.2 1134.7H695.9V1141.2H688.2zM703.6 1134.7H711.3V1141.2H703.6zM719.0 1134.7H726.7V1141.2H719.0zM826.7 1134.7H834.4V1141.2H826.7zM949.9 1134.7H957.6V1141.2H949.9zM973.0 1134.7H980.7V1141.2H973.0zM988.4 1134.7H1011.5V1141.2H988.4zM1026.8 1134.7H1057.6V1141.2H1026.8zM1065.3 1134.7H1073.0V1141.2H1065.3zM1111.5 1134.7H1126.9V1141.2H1111.5zM1134.6 1134.7H1142.3V1141.2H1134.6zM134.0 1141.2H141.7V1147.7H134.0zM241.8 1141.2H249.5V1147.7H241.8zM257.1 1141.2H264.8V1147.7H257.1zM272.5 1141.2H280.2V1147.7H272.5zM287.9 1141.2H295.6V1147.7H287.9zM318.7 1141.2H326.4V1147.7H318.7zM341.8 1141.2H357.2V1147.7H341.8zM395.7 1141.2H403.4V1147.7H395.7zM426.5 1141.2H441.9V1147.7H426.5zM534.2 1141.2H541.9V1147.7H534.2zM565.0 1141.2H572.7V1147.7H565.0zM665.1 1141.2H672.8V1147.7H665.1zM819.0 1141.2H826.7V1147.7H819.0zM834.4 1141.2H842.1V1147.7H834.4zM857.5 1141.2H865.2V1147.7H857.5zM888.3 1141.2H896.0V1147.7H888.3zM1080.7 1141.2H1088.4V1147.7H1080.7zM157.1 1147.7H164.8V1154.2H157.1zM172.5 1147.7H203.3V1154.2H172.5zM326.4 1147.7H334.1V1154.2H326.4zM526.5 1147.7H541.9V1154.2H526.5zM157.1 1154.2H164.8V1160.8H157.1z"/>
<path fill="#79ff00" d="M157.1 1004.3H172.5V1010.8H157.1zM180.2 1004.3H211.0V1010.8H180.2zM234.1 1004.3H249.5V1010.8H234.1zM257.1 1004.3H264.8V1010.8H257.1zM295.6 1004.3H303.3V1010.8H295.6zM357.2 1004.3H364.9V1010.8H357.2zM411.1 1004.3H418.8V1010.8H411.1zM441.9 1004.3H480.4V1010.8H441.9zM488.1 1004.3H503.5V1010.8H488.1zM511.1 1004.3H518.8V1010.8H511.1zM603.5 1004.3H618.9V1010.8H603.5zM642.0 1004.3H657.4V1010.8H642.0zM672.8 1004.3H734.4V1010.8H672.8zM742.1 1004.3H757.5V1010.8H742.1zM765.2 1004.3H772.8V1010.8H765.2zM795.9 1004.3H803.6V1010.8H795.9zM842.1 1004.3H857.5V1010.8H842.1zM865.2 1004.3H880.6V1010.8H865.2zM896.0 1004.3H926.8V1010.8H896.0zM934.5 1004.3H980.7V1010.8H934.5zM1003.8 1004.3H1011.5V1010.8H1003.8zM1019.2 1004.3H1057.6V1010.8H1019.2zM1073.0 1004.3H1080.7V1010.8H1073.0zM1088.4 1004.3H1103.8V1010.8H1088.4zM1111.5 1004.3H1142.3V1010.8H1111.5zM765.2 1115.1H772.8V1121.7H765.2zM734.4 1121.7H742.1V1128.2H734.4zM749.8 1121.7H757.5V1128.2H749.8zM780.5 1121.7H788.2V1128.2H780.5zM642.0 1128.2H649.7V1134.7H642.0zM695.9 1128.2H711.3V1134.7H695.9zM126.3 1134.7H134.0V1141.2H126.3zM295.6 1134.7H303.3V1141.2H295.6zM434.2 1134.7H441.9V1141.2H434.2zM457.3 1134.7H472.7V1141.2H457.3zM480.4 1134.7H526.5V1141.2H480.4zM557.3 1134.7H580.4V1141.2H557.3zM657.4 1134.7H672.8V1141.2H657.4zM819.0 1134.7H826.7V1141.2H819.0zM842.1 1134.7H849.8V1141.2H842.1zM880.6 1134.7H888.3V1141.2H880.6zM896.0 1134.7H911.4V1141.2H896.0zM919.1 1134.7H942.2V1141.2H919.1zM957.6 1134.7H973.0V1141.2H957.6zM980.7 1134.7H988.4V1141.2H980.7zM1011.5 1134.7H1019.2V1141.2H1011.5zM1057.6 1134.7H1065.3V1141.2H1057.6zM1073.0 1134.7H1111.5V1141.2H1073.0zM1126.9 1134.7H1134.6V1141.2H1126.9zM1142.3 1134.7H1150.0V1141.2H1142.3zM149.4 1141.2H157.1V1147.7H149.4zM211.0 1141.2H241.8V1147.7H211.0zM249.5 1141.2H257.1V1147.7H249.5zM264.8 1141.2H272.5V1147.7H264.8zM303.3 1141.2H318.7V1147.7H303.3zM326.4 1141.2H341.8V1147.7H326.4zM364.9 1141.2H395.7V1147.7H364.9zM403.4 1141.2H426.5V1147.7H403.4zM526.5 1141.2H534.2V1147.7H526.5zM164.8 1147.7H172.5V1154.2H164.8z"/>
<path fill="#88ff00" d="M141.7 1004.3H149.4V1010.8H141.7zM172.5 1004.3H180.2V1010.8H172.5zM249.5 1004.3H257.1V1010.8H249.5zM264.8 1004.3H295.6V1010.8H264.8zM303.3 1004.3H326.4V1010.8H303.3zM334.1 1004.3H357.2V1010.8H334.1zM364.9 1004.3H388.0V1010.8H364.9zM395.7 1004.3H411.1V1010.8H395.7zM418.8 1004.3H434.2V1010.8H418.8zM503.5 1004.3H511.1V1010.8H503.5zM518.8 1004.3H526.5V1010.8H518.8zM541.9 1004.3H565.0V1010.8H541.9zM572.7 1004.3H603.5V1010.8H572.7zM618.9 1004.3H642.0V1010.8H618.9zM657.4 1004.3H672.8V1010.8H657.4zM772.8 1004.3H795.9V1010.8H772.8zM803.6 1004.3H819.0V1010.8H803.6zM826.7 1004.3H842.1V1010.8H826.7zM857.5 1004.3H865.2V1010.8H857.5zM888.3 1004.3H896.0V1010.8H888.3zM926.8 1004.3H934.5V1010.8H926.8zM980.7 1004.3H1003.8V1010.8H980.7zM1011.5 1004.3H1019.2V1010.8H1011.5zM1057.6 1004.3H1073.0V1010.8H1057.6zM1080.7 1004.3H1088.4V1010.8H1080.7zM1103.8 1004.3H1111.5V1010.8H1103.8zM1142.3 1004.3H1150.0V1010.8H1142.3zM218.7 1010.8H226.4V1017.4H218.7zM757.5 1115.1H765.2V1121.7H757.5zM772.8 1115.1H780.5V1121.7H772.8zM726.7 1121.7H734.4V1128.2H726.7zM742.1 1121.7H749.8V1128.2H742.1zM788.2 1121.7H803.6V1128.2H788.2zM572.7 1128.2H580.4V1134.7H572.7zM588.1 1128.2H595.8V1134.7H588.1zM603.5 1128.2H626.6V1134.7H603.5zM634.3 1128.2H642.0V1134.7H634.3zM649.7 1128.2H657.4V1134.7H649.7zM688.2 1128.2H695.9V1134.7H688.2zM996.1 1128.2H1003.8V1134.7H996.1zM1019.2 1128.2H1026.8V1134.7H1019.2zM1119.2 1128.2H1126.9V1134.7H1119.2zM134.0 1134.7H141.7V1141.2H134.0zM287.9 1134.7H295.6V1141.2H287.9zM349.5 1134.7H364.9V1141.2H349.5zM418.8 1134.7H426.5V1141.2H418.8zM441.9 1134.7H457.3V1141.2H441.9zM541.9 1134.7H549.6V1141.2H541.9zM672.8 1134.7H688.2V1141.2H672.8zM834.4 1134.7H842.1V1141.2H834.4zM849.8 1134.7H880.6V1141.2H849.8zM888.3 1134.7H896.0V1141.2H888.3zM911.4 1134.7H919.1V1141.2H911.4zM942.2 1134.7H949.9V1141.2H942.2zM141.7 1141.2H149.4V1147.7H141.7zM172.5 1141.2H180.2V1147.7H172.5zM195.6 1141.2H211.0V1147.7H195.6z"/>
<path fill="#99ff00" d="M134.0 1004.3H141.7V1010.8H134.0zM326.4 1004.3H334.1V1010.8H326.4zM388.0 1004.3H395.7V1010.8H388.0zM526.5 1004.3H541.9V1010.8H526.5zM565.0 1004.3H572.7V1010.8H565.0zM819.0 1004.3H826.7V1010.8H819.0zM211.0 1010.8H218.7V1017.4H211.0zM465.0 1010.8H488.1V1017.4H465.0zM749.8 1010.8H757.5V1017.4H749.8zM765.2 1010.8H780.5V1017.4H765.2zM896.0 1010.8H903.7V1017.4H896.0zM911.4 1010.8H926.8V1017.4H911.4zM1134.6 1010.8H1142.3V1017.4H1134.6zM695.9 1121.7H703.6V1128.2H695.9zM711.3 1121.7H726.7V1128.2H711.3zM803.6 1121.7H811.3V1128.2H803.6zM126.3 1128.2H134.0V1134.7H126.3zM472.7 1128.2H480.4V1134.7H472.7zM488.1 1128.2H495.8V1134.7H488.1zM511.1 1128.2H518.8V1134.7H511.1zM549.6 1128.2H572.7V1134.7H549.6zM580.4 1128.2H588.1V1134.7H580.4zM595.8 1128.2H603.5V1134.7H595.8zM626.6 1128.2H634.3V1134.7H626.6zM657.4 1128.2H665.1V1134.7H657.4zM680.5 1128.2H688.2V1134.7H680.5zM811.3 1128.2H819.0V1134.7H811.3zM826.7 1128.2H834.4V1134.7H826.7zM849.8 1128.2H857.5V1134.7H849.8zM919.1 1128.2H926.8V1134.7H919.1zM942.2 1128.2H996.1V1134.7H942.2zM1003.8 1128.2H1019.2V1134.7H1003.8zM1026.8 1128.2H1080.7V1134.7H1026.8zM1088.4 1128.2H1096.1V1134.7H1088.4zM1103.8 1128.2H1119.2V1134.7H1103.8zM1126.9 1128.2H1150.0V1134.7H1126.9zM218.7 1134.7H287.9V1141.2H218.7zM303.3 1134.7H334.1V1141.2H303.3zM341.8 1134.7H349.5V1141.2H341.8zM364.9 1134.7H388.0V1141.2H364.9zM395.7 1134.7H418.8V1141.2H395.7zM426.5 1134.7H434.2V1141.2H426.5zM534.2 1134.7H541.9V1141.2H534.2zM157.1 1141.2H172.5V1147.7H157.1zM180.2 1141.2H195.6V1147.7H180.2z"/>
<path fill="#a9ff00" d="M149.4 1010.8H211.0V1017.4H149.4zM226.4 1010.8H249.5V1017.4H226.4zM457.3 1010.8H465.0V1017.4H457.3zM488.1 1010.8H495.8V1017.4H488.1zM680.5 1010.8H688.2V1017.4H680.5zM695.9 1010.8H749.8V1017.4H695.9zM757.5 1010.8H765.2V1017.4H757.5zM780.5 1010.8H788.2V1017.4H780.5zM880.6 1010.8H896.0V1017.4H880.6zM903.7 1010.8H911.4V1017.4H903.7zM926.8 1010.8H965.3V1017.4H926.8zM1019.2 1010.8H1026.8V1017.4H1019.2zM1111.5 1010.8H1134.6V1017.4H1111.5zM765.2 1108.6H772.8V1115.1H765.2zM734.4 1115.1H757.5V1121.7H734.4zM780.5 1115.1H788.2V1121.7H780.5zM634.3 1121.7H649.7V1128.2H634.3zM703.6 1121.7H711.3V1128.2H703.6zM134.0 1128.2H141.7V1134.7H134.0zM434.2 1128.2H449.6V1134.7H434.2zM457.3 1128.2H472.7V1134.7H457.3zM480.4 1128.2H488.1V1134.7H480.4zM495.8 1128.2H511.1V1134.7H495.8zM541.9 1128.2H549.6V1134.7H541.9zM665.1 1128.2H672.8V1134.7H665.1zM819.0 1128.2H826.7V1134.7H819.0zM834.4 1128.2H849.8V1134.7H834.4zM857.5 1128.2H888.3V1134.7H857.5zM896.0 1128.2H919.1V1134.7H896.0zM926.8 1128.2H942.2V1134.7H926.8zM1080.7 1128.2H1088.4V1134.7H1080.7zM1096.1 1128.2H1103.8V1134.7H1096.1zM141.7 1134.7H157.1V1141.2H141.7zM211.0 1134.7H218.7V1141.2H211.0zM334.1 1134.7H341.8V1141.2H334.1zM388.0 1134.7H395.7V1141.2H388.0zM526.5 1134.7H534.2V1141.2H526.5z"/>
<path fill="#b9ff00" d="M257.1 1010.8H264.8V1017.4H257.1zM349.5 1010.8H357.2V1017.4H349.5zM380.3 1010.8H388.0V1017.4H380.3zM395.7 1010.8H411.1V1017.4H395.7zM418.8 1010.8H441.9V1017.4H418.8zM449.6 1010.8H457.3V1017.4H449.6zM495.8 1010.8H503.5V1017.4H495.8zM511.1 1010.8H518.8V1017.4H511.1zM634.3 1010.8H657.4V1017.4H634.3zM672.8 1010.8H680.5V1017.4H672.8zM688.2 1010.8H695.9V1017.4H688.2zM788.2 1010.8H811.3V1017.4H788.2zM849.8 1010.8H857.5V1017.4H849.8zM865.2 1010.8H880.6V1017.4H865.2zM965.3 1010.8H1011.5V1017.4H965.3zM1026.8 1010.8H1073.0V1017.4H1026.8zM1088.4 1010.8H1111.5V1017.4H1088.4zM1142.3 1010.8H1150.0V1017.4H1142.3zM772.8 1108.6H780.5V1115.1H772.8zM726.7 1115.1H734.4V1121.7H726.7zM788.2 1115.1H803.6V1121.7H788.2zM588.1 1121.7H595.8V1128.2H588.1zM603.5 1121.7H634.3V1128.2H603.5zM649.7 1121.7H657.4V1128.2H649.7zM1003.8 1121.7H1011.5V1128.2H1003.8zM287.9 1128.2H311.0V1134.7H287.9zM349.5 1128.2H357.2V1134.7H349.5zM449.6 1128.2H457.3V1134.7H449.6zM518.8 1128.2H526.5V1134.7H518.8zM672.8 1128.2H680.5V1134.7H672.8zM888.3 1128.2H896.0V1134.7H888.3zM180.2 1134.7H211.0V1141.2H180.2z"/>
<path fill="#c9ff00" d="M126.3 1004.3H134.0V1010.8H126.3zM141.7 1010.8H149.4V1017.4H141.7zM249.5 1010.8H257.1V1017.4H249.5zM264.8 1010.8H280.2V1017.4H264.8zM295.6 1010.8H303.3V1017.4H295.6zM318.7 1010.8H326.4V1017.4H318.7zM357.2 1010.8H380.3V1017.4H357.2zM388.0 1010.8H395.7V1017.4H388.0zM411.1 1010.8H418.8V1017.4H411.1zM441.9 1010.8H449.6V1017.4H441.9zM503.5 1010.8H511.1V1017.4H503.5zM572.7 1010.8H580.4V1017.4H572.7zM603.5 1010.8H634.3V1017.4H603.5zM657.4 1010.8H672.8V1017.4H657.4zM826.7 1010.8H834.4V1017.4H826.7zM842.1 1010.8H849.8V1017.4H842.1zM1011.5 1010.8H1019.2V1017.4H1011.5zM1073.0 1010.8H1088.4V1017.4H1073.0zM757.5 1108.6H765.2V1115.1H757.5zM711.3 1115.1H726.7V1121.7H711.3zM803.6 1115.1H811.3V1121.7H803.6zM549.6 1121.7H557.3V1128.2H549.6zM572.7 1121.7H580.4V1128.2H572.7zM595.8 1121.7H603.5V1128.2H595.8zM688.2 1121.7H695.9V1128.2H688.2zM811.3 1121.7H819.0V1128.2H811.3zM949.9 1121.7H957.6V1128.2H949.9zM965.3 1121.7H1003.8V1128.2H965.3zM1019.2 1121.7H1057.6V1128.2H1019.2zM1111.5 1121.7H1126.9V1128.2H1111.5zM1134.6 1121.7H1142.3V1128.2H1134.6zM272.5 1128.2H287.9V1134.7H272.5zM318.7 1128.2H326.4V1134.7H318.7zM341.8 1128.2H349.5V1134.7H341.8zM357.2 1128.2H372.6V1134.7H357.2zM380.3 1128.2H388.0V1134.7H380.3zM403.4 1128.2H418.8V1134.7H403.4zM426.5 1128.2H434.2V1134.7H426.5zM157.1 1134.7H180.2V1141.2H157.1z"/>
<path fill="#d8ff00" d="M280.2 1010.8H295.6V1017.4H280.2zM311.0 1010.8H318.7V1017.4H311.0zM326.4 1010.8H349.5V1017.4H326.4zM518.8 1010.8H572.7V1017.4H518.8zM580.4 1010.8H603.5V1017.4H580.4zM811.3 1010.8H826.7V1017.4H811.3zM834.4 1010.8H842.1V1017.4H834.4zM857.5 1010.8H865.2V1017.4H857.5zM742.1 1108.6H757.5V1115.1H742.1zM780.5 1108.6H788.2V1115.1H780.5zM703.6 1115.1H711.3V1121.7H703.6zM126.3 1121.7H134.0V1128.2H126.3zM472.7 1121.7H518.8V1128.2H472.7zM557.3 1121.7H572.7V1128.2H557.3zM580.4 1121.7H588.1V1128.2H580.4zM657.4 1121.7H665.1V1128.2H657.4zM826.7 1121.7H834.4V1128.2H826.7zM880.6 1121.7H888.3V1128.2H880.6zM896.0 1121.7H903.7V1128.2H896.0zM919.1 1121.7H942.2V1128.2H919.1zM957.6 1121.7H965.3V1128.2H957.6zM1011.5 1121.7H1019.2V1128.2H1011.5zM1057.6 1121.7H1111.5V1128.2H1057.6zM1126.9 1121.7H1134.6V1128.2H1126.9zM1142.3 1121.7H1150.0V1128.2H1142.3zM211.0 1128.2H218.7V1134.7H211.0zM234.1 1128.2H249.5V1134.7H234.1zM257.1 1128.2H272.5V1134.7H257.1zM311.0 1128.2H318.7V1134.7H311.0zM334.1 1128.2H341.8V1134.7H334.1zM372.6 1128.2H380.3V1134.7H372.6zM388.0 1128.2H403.4V1134.7H388.0zM418.8 1128.2H426.5V1134.7H418.8zM526.5 1128.2H541.9V1134.7H526.5z"/>
<path fill="#e5ff00" d="M134.0 1010.8H141.7V1017.4H134.0zM303.3 1010.8H311.0V1017.4H303.3zM149.4 1017.4H157.1V1023.9H149.4zM211.0 1017.4H234.1V1023.9H211.0zM465.0 1017.4H488.1V1023.9H465.0zM734.4 1017.4H742.1V1023.9H734.4zM765.2 1017.4H772.8V1023.9H765.2zM896.0 1017.4H903.7V1023.9H896.0zM695.9 1115.1H703.6V1121.7H695.9zM134.0 1121.7H141.7V1128.2H134.0zM295.6 1121.7H303.3V1128.2H295.6zM434.2 1121.7H449.6V1128.2H434.2zM457.3 1121.7H472.7V1128.2H457.3zM541.9 1121.7H549.6V1128.2H541.9zM680.5 1121.7H688.2V1128.2H680.5zM819.0 1121.7H826.7V1128.2H819.0zM834.4 1121.7H857.5V1128.2H834.4zM865.2 1121.7H880.6V1128.2H865.2zM903.7 1121.7H919.1V1128.2H903.7zM942.2 1121.7H949.9V1128.2H942.2zM141.7 1128.2H157.1V1134.7H141.7zM218.7 1128.2H234.1V1134.7H218.7zM249.5 1128.2H257.1V1134.7H249.5zM326.4 1128.2H334.1V1134.7H326.4z"/>
<path fill="#f2ff00" d="M157.1 1017.4H164.8V1023.9H157.1zM172.5 1017.4H211.0V1023.9H172.5zM234.1 1017.4H241.8V1023.9H234.1zM457.3 1017.4H465.0V1023.9H457.3zM488.1 1017.4H503.5V1023.9H488.1zM695.9 1017.4H703.6V1023.9H695.9zM711.3 1017.4H734.4V1023.9H711.3zM742.1 1017.4H765.2V1023.9H742.1zM880.6 1017.4H888.3V1023.9H880.6zM903.7 1017.4H911.4V1023.9H903.7zM926.8 1017.4H934.5V1023.9H926.8zM949.9 1017.4H957.6V1023.9H949.9zM1111.5 1017.4H1126.9V1023.9H1111.5zM1134.6 1017.4H1150.0V1023.9H1134.6zM765.2 1102.1H780.5V1108.6H765.2zM726.7 1108.6H742.1V1115.1H726.7zM788.2 1108.6H803.6V1115.1H788.2zM611.2 1115.1H626.6V1121.7H611.2zM634.3 1115.1H649.7V1121.7H634.3zM280.2 1121.7H287.9V1128.2H280.2zM357.2 1121.7H364.9V1128.2H357.2zM449.6 1121.7H457.3V1128.2H449.6zM518.8 1121.7H526.5V1128.2H518.8zM665.1 1121.7H680.5V1128.2H665.1zM857.5 1121.7H865.2V1128.2H857.5zM888.3 1121.7H896.0V1128.2H888.3zM203.3 1128.2H211.0V1134.7H203.3z"/>
<path fill="#ffff00" d="M141.7 1017.4H149.4V1023.9H141.7zM164.8 1017.4H172.5V1023.9H164.8zM241.8 1017.4H257.1V1023.9H241.8zM280.2 1017.4H287.9V1023.9H280.2zM349.5 1017.4H364.9V1023.9H349.5zM380.3 1017.4H388.0V1023.9H380.3zM395.7 1017.4H426.5V1023.9H395.7zM434.2 1017.4H457.3V1023.9H434.2zM503.5 1017.4H518.8V1023.9H503.5zM572.7 1017.4H588.1V1023.9H572.7zM603.5 1017.4H634.3V1023.9H603.5zM672.8 1017.4H695.9V1023.9H672.8zM703.6 1017.4H711.3V1023.9H703.6zM772.8 1017.4H788.2V1023.9H772.8zM795.9 1017.4H811.3V1023.9H795.9zM826.7 1017.4H834.4V1023.9H826.7zM849.8 1017.4H857.5V1023.9H849.8zM865.2 1017.4H880.6V1023.9H865.2zM888.3 1017.4H896.0V1023.9H888.3zM911.4 1017.4H926.8V1023.9H911.4zM934.5 1017.4H949.9V1023.9H934.5zM957.6 1017.4H973.0V1023.9H957.6zM980.7 1017.4H988.4V1023.9H980.7zM996.1 1017.4H1011.5V1023.9H996.1zM1019.2 1017.4H1065.3V1023.9H1019.2zM1073.0 1017.4H1080.7V1023.9H1073.0zM1088.4 1017.4H1111.5V1023.9H1088.4zM1126.9 1017.4H1134.6V1023.9H1126.9zM757.5 1102.1H765.2V1108.6H757.5zM719.0 1108.6H726.7V1115.1H719.0zM588.1 1115.1H611.2V1121.7H588.1zM626.6 1115.1H634.3V1121.7H626.6zM649.7 1115.1H657.4V1121.7H649.7zM688.2 1115.1H695.9V1121.7H688.2zM811.3 1115.1H819.0V1121.7H811.3zM988.4 1115.1H1026.8V1121.7H988.4zM1034.5 1115.1H1042.2V1121.7H1034.5zM1049.9 1115.1H1057.6V1121.7H1049.9zM1088.4 1115.1H1096.1V1121.7H1088.4zM1119.2 1115.1H1126.9V1121.7H1119.2zM218.7 1121.7H226.4V1128.2H218.7zM241.8 1121.7H249.5V1128.2H241.8zM257.1 1121.7H280.2V1128.2H257.1zM287.9 1121.7H295.6V1128.2H287.9zM349.5 1121.7H357.2V1128.2H349.5zM395.7 1121.7H403.4V1128.2H395.7zM418.8 1121.7H434.2V1128.2H418.8zM534.2 1121.7H541.9V1128.2H534.2zM157.1 1128.2H164.8V1134.7H157.1zM172.5 1128.2H203.3V1134.7H172.5z"/>
<path fill="#ffeb00" d="M126.3 1010.8H134.0V1017.4H126.3zM257.1 1017.4H280.2V1023.9H257.1zM287.9 1017.4H334.1V1023.9H287.9zM341.8 1017.4H349.5V1023.9H341.8zM364.9 1017.4H380.3V1023.9H364.9zM388.0 1017.4H395.7V1023.9H388.0zM426.5 1017.4H434.2V1023.9H426.5zM518.8 1017.4H526.5V1023.9H518.8zM534.2 1017.4H572.7V1023.9H534.2zM588.1 1017.4H603.5V1023.9H588.1zM634.3 1017.4H672.8V1023.9H634.3zM788.2 1017.4H795.9V1023.9H788.2zM811.3 1017.4H819.0V1023.9H811.3zM834.4 1017.4H849.8V1023.9H834.4zM857.5 1017.4H865.2V1023.9H857.5zM973.0 1017.4H980.7V1023.9H973.0zM988.4 1017.4H996.1V1023.9H988.4zM1011.5 1017.4H1019.2V1023.9H1011.5zM1065.3 1017.4H1073.0V1023.9H1065.3zM1080.7 1017.4H1088.4V1023.9H1080.7zM880.6 1023.9H888.3V1030.4H880.6zM749.8 1102.1H757.5V1108.6H749.8zM780.5 1102.1H788.2V1108.6H780.5zM703.6 1108.6H719.0V1115.1H703.6zM803.6 1108.6H811.3V1115.1H803.6zM126.3 1115.1H134.0V1121.7H126.3zM472.7 1115.1H480.4V1121.7H472.7zM488.1 1115.1H518.8V1121.7H488.1zM549.6 1115.1H588.1V1121.7H549.6zM657.4 1115.1H665.1V1121.7H657.4zM819.0 1115.1H826.7V1121.7H819.0zM880.6 1115.1H888.3V1121.7H880.6zM896.0 1115.1H903.7V1121.7H896.0zM919.1 1115.1H934.5V1121.7H919.1zM942.2 1115.1H988.4V1121.7H942.2zM1026.8 1115.1H1034.5V1121.7H1026.8zM1042.2 1115.1H1049.9V1121.7H1042.2zM1096.1 1115.1H1119.2V1121.7H1096.1zM1126.9 1115.1H1150.0V1121.7H1126.9zM149.4 1121.7H157.1V1128.2H149.4zM195.6 1121.7H218.7V1128.2H195.6zM226.4 1121.7H241.8V1128.2H226.4zM249.5 1121.7H257.1V1128.2H249.5zM303.3 1121.7H318.7V1128.2H303.3zM341.8 1121.7H349.5V1128.2H341.8zM364.9 1121.7H388.0V1128.2H364.9zM411.1 1121.7H418.8V1128.2H411.1zM526.5 1121.7H534.2V1128.2H526.5zM164.8 1128.2H172.5V1134.7H164.8z"/>
<path fill="#ffd800" d="M134.0 1017.4H141.7V1023.9H134.0zM334.1 1017.4H341.8V1023.9H334.1zM526.5 1017.4H534.2V1023.9H526.5zM819.0 1017.4H826.7V1023.9H819.0zM149.4 1023.9H157.1V1030.4H149.4zM211.0 1023.9H234.1V1030.4H211.0zM457.3 1023.9H495.8V1030.4H457.3zM688.2 1023.9H703.6V1030.4H688.2zM734.4 1023.9H749.8V1030.4H734.4zM757.5 1023.9H765.2V1030.4H757.5zM896.0 1023.9H911.4V1030.4H896.0zM1119.2 1023.9H1126.9V1030.4H1119.2zM1134.6 1023.9H1142.3V1030.4H1134.6zM742.1 1102.1H749.8V1108.6H742.1zM634.3 1108.6H649.7V1115.1H634.3zM695.9 1108.6H703.6V1115.1H695.9zM134.0 1115.1H141.7V1121.7H134.0zM434.2 1115.1H441.9V1121.7H434.2zM457.3 1115.1H472.7V1121.7H457.3zM480.4 1115.1H488.1V1121.7H480.4zM541.9 1115.1H549.6V1121.7H541.9zM826.7 1115.1H857.5V1121.7H826.7zM865.2 1115.1H880.6V1121.7H865.2zM903.7 1115.1H919.1V1121.7H903.7zM934.5 1115.1H942.2V1121.7H934.5zM1065.3 1115.1H1088.4V1121.7H1065.3zM141.7 1121.7H149.4V1128.2H141.7zM172.5 1121.7H195.6V1128.2H172.5zM318.7 1121.7H326.4V1128.2H318.7zM334.1 1121.7H341.8V1128.2H334.1zM388.0 1121.7H395.7V1128.2H388.0zM403.4 1121.7H411.1V1128.2H403.4z"/>
<path fill="#ffc500" d="M126.3 1017.4H134.0V1023.9H126.3zM141.7 1023.9H149.4V1030.4H141.7zM157.1 1023.9H211.0V1030.4H157.1zM234.1 1023.9H257.1V1030.4H234.1zM349.5 1023.9H364.9V1030.4H349.5zM380.3 1023.9H388.0V1030.4H380.3zM395.7 1023.9H403.4V1030.4H395.7zM411.1 1023.9H457.3V1030.4H411.1zM495.8 1023.9H526.5V1030.4H495.8zM541.9 1023.9H549.6V1030.4H541.9zM572.7 1023.9H595.8V1030.4H572.7zM603.5 1023.9H611.2V1030.4H603.5zM634.3 1023.9H665.1V1030.4H634.3zM672.8 1023.9H688.2V1030.4H672.8zM703.6 1023.9H734.4V1030.4H703.6zM749.8 1023.9H757.5V1030.4H749.8zM765.2 1023.9H788.2V1030.4H765.2zM849.8 1023.9H857.5V1030.4H849.8zM865.2 1023.9H872.9V1030.4H865.2zM911.4 1023.9H965.3V1030.4H911.4zM973.0 1023.9H1065.3V1030.4H973.0zM1088.4 1023.9H1103.8V1030.4H1088.4zM1111.5 1023.9H1119.2V1030.4H1111.5zM1126.9 1023.9H1134.6V1030.4H1126.9zM1142.3 1023.9H1150.0V1030.4H1142.3zM757.5 1095.6H780.5V1102.1H757.5zM734.4 1102.1H742.1V1108.6H734.4zM788.2 1102.1H803.6V1108.6H788.2zM126.3 1108.6H134.0V1115.1H126.3zM611.2 1108.6H634.3V1115.1H611.2zM649.7 1108.6H657.4V1115.1H649.7zM949.9 1108.6H957.6V1115.1H949.9zM996.1 1108.6H1011.5V1115.1H996.1zM1019.2 1108.6H1026.8V1115.1H1019.2zM1119.2 1108.6H1126.9V1115.1H1119.2zM249.5 1115.1H303.3V1121.7H249.5zM441.9 1115.1H457.3V1121.7H441.9zM518.8 1115.1H526.5V1121.7H518.8zM665.1 1115.1H672.8V1121.7H665.1zM680.5 1115.1H688.2V1121.7H680.5zM857.5 1115.1H865.2V1121.7H857.5zM888.3 1115.1H896.0V1121.7H888.3zM1057.6 1115.1H1065.3V1121.7H1057.6zM157.1 1121.7H172.5V1128.2H157.1zM326.4 1121.7H334.1V1128.2H326.4z"/>
<path fill="#ffb500" d="M134.0 1023.9H141.7V1030.4H134.0zM257.1 1023.9H287.9V1030.4H257.1zM295.6 1023.9H303.3V1030.4H295.6zM311.0 1023.9H318.7V1030.4H311.0zM341.8 1023.9H349.5V1030.4H341.8zM364.9 1023.9H380.3V1030.4H364.9zM388.0 1023.9H395.7V1030.4H388.0zM403.4 1023.9H411.1V1030.4H403.4zM526.5 1023.9H534.2V1030.4H526.5zM549.6 1023.9H572.7V1030.4H549.6zM595.8 1023.9H603.5V1030.4H595.8zM611.2 1023.9H634.3V1030.4H611.2zM665.1 1023.9H672.8V1030.4H665.1zM788.2 1023.9H849.8V1030.4H788.2zM857.5 1023.9H865.2V1030.4H857.5zM872.9 1023.9H880.6V1030.4H872.9zM888.3 1023.9H896.0V1030.4H888.3zM965.3 1023.9H973.0V1030.4H965.3zM1065.3 1023.9H1088.4V1030.4H1065.3zM1103.8 1023.9H1111.5V1030.4H1103.8zM695.9 1030.4H703.6V1036.9H695.9zM719.0 1102.1H734.4V1108.6H719.0zM803.6 1102.1H811.3V1108.6H803.6zM134.0 1108.6H141.7V1115.1H134.0zM588.1 1108.6H595.8V1115.1H588.1zM603.5 1108.6H611.2V1115.1H603.5zM811.3 1108.6H819.0V1115.1H811.3zM896.0 1108.6H903.7V1115.1H896.0zM919.1 1108.6H942.2V1115.1H919.1zM957.6 1108.6H996.1V1115.1H957.6zM1011.5 1108.6H1019.2V1115.1H1011.5zM1026.8 1108.6H1057.6V1115.1H1026.8zM1088.4 1108.6H1119.2V1115.1H1088.4zM1134.6 1108.6H1142.3V1115.1H1134.6zM141.7 1115.1H157.1V1121.7H141.7zM180.2 1115.1H249.5V1121.7H180.2zM357.2 1115.1H364.9V1121.7H357.2zM426.5 1115.1H434.2V1121.7H426.5zM672.8 1115.1H680.5V1121.7H672.8z"/>
<path fill="#ffa600" d="M126.3 1023.9H134.0V1030.4H126.3zM287.9 1023.9H295.6V1030.4H287.9zM303.3 1023.9H311.0V1030.4H303.3zM318.7 1023.9H341.8V1030.4H318.7zM534.2 1023.9H541.9V1030.4H534.2zM149.4 1030.4H157.1V1036.9H149.4zM218.7 1030.4H234.1V1036.9H218.7zM395.7 1030.4H403.4V1036.9H395.7zM434.2 1030.4H503.5V1036.9H434.2zM511.1 1030.4H518.8V1036.9H511.1zM711.3 1030.4H719.0V1036.9H711.3zM757.5 1030.4H765.2V1036.9H757.5zM880.6 1030.4H888.3V1036.9H880.6zM896.0 1030.4H911.4V1036.9H896.0zM919.1 1030.4H926.8V1036.9H919.1zM934.5 1030.4H942.2V1036.9H934.5zM1134.6 1030.4H1142.3V1036.9H1134.6zM749.8 1095.6H757.5V1102.1H749.8zM126.3 1102.1H134.0V1108.6H126.3zM695.9 1102.1H719.0V1108.6H695.9zM257.1 1108.6H264.8V1115.1H257.1zM480.4 1108.6H488.1V1115.1H480.4zM495.8 1108.6H511.1V1115.1H495.8zM549.6 1108.6H557.3V1115.1H549.6zM572.7 1108.6H588.1V1115.1H572.7zM595.8 1108.6H603.5V1115.1H595.8zM688.2 1108.6H695.9V1115.1H688.2zM826.7 1108.6H834.4V1115.1H826.7zM880.6 1108.6H888.3V1115.1H880.6zM903.7 1108.6H919.1V1115.1H903.7zM942.2 1108.6H949.9V1115.1H942.2zM1073.0 1108.6H1088.4V1115.1H1073.0zM1126.9 1108.6H1134.6V1115.1H1126.9zM1142.3 1108.6H1150.0V1115.1H1142.3zM157.1 1115.1H180.2V1121.7H157.1zM303.3 1115.1H311.0V1121.7H303.3zM349.5 1115.1H357.2V1121.7H349.5zM364.9 1115.1H388.0V1121.7H364.9zM534.2 1115.1H541.9V1121.7H534.2z"/>
<path fill="#ff9300" d="M157.1 1030.4H187.9V1036.9H157.1zM195.6 1030.4H218.7V1036.9H195.6zM234.1 1030.4H249.5V1036.9H234.1zM357.2 1030.4H364.9V1036.9H357.2zM380.3 1030.4H388.0V1036.9H380.3zM411.1 1030.4H434.2V1036.9H411.1zM503.5 1030.4H511.1V1036.9H503.5zM518.8 1030.4H541.9V1036.9H518.8zM549.6 1030.4H565.0V1036.9H549.6zM572.7 1030.4H595.8V1036.9H572.7zM603.5 1030.4H611.2V1036.9H603.5zM618.9 1030.4H626.6V1036.9H618.9zM634.3 1030.4H665.1V1036.9H634.3zM672.8 1030.4H695.9V1036.9H672.8zM703.6 1030.4H711.3V1036.9H703.6zM719.0 1030.4H726.7V1036.9H719.0zM734.4 1030.4H757.5V1036.9H734.4zM765.2 1030.4H772.8V1036.9H765.2zM795.9 1030.4H803.6V1036.9H795.9zM849.8 1030.4H857.5V1036.9H849.8zM865.2 1030.4H880.6V1036.9H865.2zM888.3 1030.4H896.0V1036.9H888.3zM911.4 1030.4H919.1V1036.9H911.4zM926.8 1030.4H934.5V1036.9H926.8zM949.9 1030.4H957.6V1036.9H949.9zM965.3 1030.4H980.7V1036.9H965.3zM988.4 1030.4H1011.5V1036.9H988.4zM1019.2 1030.4H1026.8V1036.9H1019.2zM1042.2 1030.4H1065.3V1036.9H1042.2zM1088.4 1030.4H1096.1V1036.9H1088.4zM1103.8 1030.4H1126.9V1036.9H1103.8zM734.4 1095.6H749.8V1102.1H734.4zM780.5 1095.6H788.2V1102.1H780.5zM795.9 1095.6H803.6V1102.1H795.9zM134.0 1102.1H141.7V1108.6H134.0zM634.3 1102.1H642.0V1108.6H634.3zM996.1 1102.1H1003.8V1108.6H996.1zM1119.2 1102.1H1126.9V1108.6H1119.2zM195.6 1108.6H211.0V1115.1H195.6zM218.7 1108.6H226.4V1115.1H218.7zM241.8 1108.6H249.5V1115.1H241.8zM272.5 1108.6H280.2V1115.1H272.5zM434.2 1108.6H480.4V1115.1H434.2zM488.1 1108.6H495.8V1115.1H488.1zM511.1 1108.6H518.8V1115.1H511.1zM557.3 1108.6H572.7V1115.1H557.3zM657.4 1108.6H665.1V1115.1H657.4zM819.0 1108.6H826.7V1115.1H819.0zM834.4 1108.6H849.8V1115.1H834.4zM857.5 1108.6H880.6V1115.1H857.5zM888.3 1108.6H896.0V1115.1H888.3zM1065.3 1108.6H1073.0V1115.1H1065.3zM311.0 1115.1H318.7V1121.7H311.0zM341.8 1115.1H349.5V1121.7H341.8zM418.8 1115.1H426.5V1121.7H418.8z"/>
<path fill="#ff8000" d="M126.3 1030.4H149.4V1036.9H126.3zM187.9 1030.4H195.6V1036.9H187.9zM249.5 1030.4H264.8V1036.9H249.5zM280.2 1030.4H287.9V1036.9H280.2zM303.3 1030.4H318.7V1036.9H303.3zM334.1 1030.4H357.2V1036.9H334.1zM364.9 1030.4H380.3V1036.9H364.9zM388.0 1030.4H395.7V1036.9H388.0zM403.4 1030.4H411.1V1036.9H403.4zM541.9 1030.4H549.6V1036.9H541.9zM565.0 1030.4H572.7V1036.9H565.0zM595.8 1030.4H603.5V1036.9H595.8zM611.2 1030.4H618.9V1036.9H611.2zM626.6 1030.4H634.3V1036.9H626.6zM665.1 1030.4H672.8V1036.9H665.1zM726.7 1030.4H734.4V1036.9H726.7zM772.8 1030.4H788.2V1036.9H772.8zM803.6 1030.4H849.8V1036.9H803.6zM857.5 1030.4H865.2V1036.9H857.5zM942.2 1030.4H949.9V1036.9H942.2zM957.6 1030.4H965.3V1036.9H957.6zM980.7 1030.4H988.4V1036.9H980.7zM1026.8 1030.4H1042.2V1036.9H1026.8zM1065.3 1030.4H1088.4V1036.9H1065.3zM1096.1 1030.4H1103.8V1036.9H1096.1zM1126.9 1030.4H1134.6V1036.9H1126.9zM1142.3 1030.4H1150.0V1036.9H1142.3zM480.4 1036.9H495.8V1043.4H480.4zM765.2 1089.1H772.8V1095.6H765.2zM126.3 1095.6H134.0V1102.1H126.3zM788.2 1095.6H795.9V1102.1H788.2zM603.5 1102.1H634.3V1108.6H603.5zM642.0 1102.1H649.7V1108.6H642.0zM896.0 1102.1H926.8V1108.6H896.0zM942.2 1102.1H996.1V1108.6H942.2zM1003.8 1102.1H1034.5V1108.6H1003.8zM1111.5 1102.1H1119.2V1108.6H1111.5zM141.7 1108.6H157.1V1115.1H141.7zM172.5 1108.6H195.6V1115.1H172.5zM211.0 1108.6H218.7V1115.1H211.0zM226.4 1108.6H241.8V1115.1H226.4zM249.5 1108.6H257.1V1115.1H249.5zM264.8 1108.6H272.5V1115.1H264.8zM280.2 1108.6H287.9V1115.1H280.2zM518.8 1108.6H526.5V1115.1H518.8zM541.9 1108.6H549.6V1115.1H541.9zM849.8 1108.6H857.5V1115.1H849.8zM388.0 1115.1H403.4V1121.7H388.0zM411.1 1115.1H418.8V1121.7H411.1zM526.5 1115.1H534.2V1121.7H526.5z"/>
<path fill="#ff6c00" d="M264.8 1030.4H280.2V1036.9H264.8zM287.9 1030.4H303.3V1036.9H287.9zM318.7 1030.4H334.1V1036.9H318.7zM788.2 1030.4H795.9V1036.9H788.2zM1011.5 1030.4H1019.2V1036.9H1011.5zM149.4 1036.9H157.1V1043.4H149.4zM211.0 1036.9H234.1V1043.4H211.0zM434.2 1036.9H480.4V1043.4H434.2zM495.8 1036.9H503.5V1043.4H495.8zM511.1 1036.9H518.8V1043.4H511.1zM572.7 1036.9H580.4V1043.4H572.7zM672.8 1036.9H680.5V1043.4H672.8zM695.9 1036.9H703.6V1043.4H695.9zM711.3 1036.9H719.0V1043.4H711.3zM734.4 1036.9H742.1V1043.4H734.4zM757.5 1036.9H765.2V1043.4H757.5zM849.8 1036.9H857.5V1043.4H849.8zM872.9 1036.9H888.3V1043.4H872.9zM896.0 1036.9H903.7V1043.4H896.0zM911.4 1036.9H926.8V1043.4H911.4zM1119.2 1036.9H1126.9V1043.4H1119.2zM757.5 1089.1H765.2V1095.6H757.5zM772.8 1089.1H780.5V1095.6H772.8zM711.3 1095.6H734.4V1102.1H711.3zM195.6 1102.1H203.3V1108.6H195.6zM257.1 1102.1H264.8V1108.6H257.1zM488.1 1102.1H495.8V1108.6H488.1zM649.7 1102.1H657.4V1108.6H649.7zM811.3 1102.1H819.0V1108.6H811.3zM880.6 1102.1H888.3V1108.6H880.6zM926.8 1102.1H942.2V1108.6H926.8zM1034.5 1102.1H1057.6V1108.6H1034.5zM1088.4 1102.1H1111.5V1108.6H1088.4zM1134.6 1102.1H1150.0V1108.6H1134.6zM164.8 1108.6H172.5V1115.1H164.8zM287.9 1108.6H303.3V1115.1H287.9zM665.1 1108.6H672.8V1115.1H665.1zM680.5 1108.6H688.2V1115.1H680.5zM1057.6 1108.6H1065.3V1115.1H1057.6zM318.7 1115.1H326.4V1121.7H318.7zM334.1 1115.1H341.8V1121.7H334.1zM403.4 1115.1H411.1V1121.7H403.4z"/>
<path fill="#ff5b00" d="M134.0 1036.9H149.4V1043.4H134.0zM157.1 1036.9H211.0V1043.4H157.1zM234.1 1036.9H249.5V1043.4H234.1zM357.2 1036.9H364.9V1043.4H357.2zM372.6 1036.9H388.0V1043.4H372.6zM395.7 1036.9H434.2V1043.4H395.7zM518.8 1036.9H534.2V1043.4H518.8zM541.9 1036.9H572.7V1043.4H541.9zM580.4 1036.9H595.8V1043.4H580.4zM603.5 1036.9H611.2V1043.4H603.5zM626.6 1036.9H672.8V1043.4H626.6zM680.5 1036.9H695.9V1043.4H680.5zM703.6 1036.9H711.3V1043.4H703.6zM726.7 1036.9H734.4V1043.4H726.7zM742.1 1036.9H757.5V1043.4H742.1zM765.2 1036.9H780.5V1043.4H765.2zM803.6 1036.9H811.3V1043.4H803.6zM842.1 1036.9H849.8V1043.4H842.1zM865.2 1036.9H872.9V1043.4H865.2zM888.3 1036.9H896.0V1043.4H888.3zM903.7 1036.9H911.4V1043.4H903.7zM926.8 1036.9H934.5V1043.4H926.8zM949.9 1036.9H965.3V1043.4H949.9zM973.0 1036.9H988.4V1043.4H973.0zM996.1 1036.9H1011.5V1043.4H996.1zM1019.2 1036.9H1026.8V1043.4H1019.2zM1034.5 1036.9H1080.7V1043.4H1034.5zM1088.4 1036.9H1119.2V1043.4H1088.4zM1134.6 1036.9H1150.0V1043.4H1134.6zM742.1 1089.1H757.5V1095.6H742.1zM780.5 1089.1H788.2V1095.6H780.5zM134.0 1095.6H141.7V1102.1H134.0zM695.9 1095.6H711.3V1102.1H695.9zM803.6 1095.6H811.3V1102.1H803.6zM949.9 1095.6H957.6V1102.1H949.9zM141.7 1102.1H149.4V1108.6H141.7zM180.2 1102.1H195.6V1108.6H180.2zM203.3 1102.1H211.0V1108.6H203.3zM249.5 1102.1H257.1V1108.6H249.5zM264.8 1102.1H272.5V1108.6H264.8zM457.3 1102.1H488.1V1108.6H457.3zM495.8 1102.1H503.5V1108.6H495.8zM572.7 1102.1H603.5V1108.6H572.7zM688.2 1102.1H695.9V1108.6H688.2zM865.2 1102.1H872.9V1108.6H865.2zM888.3 1102.1H896.0V1108.6H888.3zM1080.7 1102.1H1088.4V1108.6H1080.7zM1126.9 1102.1H1134.6V1108.6H1126.9zM157.1 1108.6H164.8V1115.1H157.1zM303.3 1108.6H311.0V1115.1H303.3zM349.5 1108.6H364.9V1115.1H349.5zM426.5 1108.6H434.2V1115.1H426.5zM672.8 1108.6H680.5V1115.1H672.8zM326.4 1115.1H334.1V1121.7H326.4z"/>
<path fill="#ff4b00" d="M126.3 1036.9H134.0V1043.4H126.3zM249.5 1036.9H287.9V1043.4H249.5zM295.6 1036.9H303.3V1043.4H295.6zM318.7 1036.9H326.4V1043.4H318.7zM341.8 1036.9H357.2V1043.4H341.8zM364.9 1036.9H372.6V1043.4H364.9zM388.0 1036.9H395.7V1043.4H388.0zM503.5 1036.9H511.1V1043.4H503.5zM534.2 1036.9H541.9V1043.4H534.2zM595.8 1036.9H603.5V1043.4H595.8zM611.2 1036.9H626.6V1043.4H611.2zM719.0 1036.9H726.7V1043.4H719.0zM780.5 1036.9H803.6V1043.4H780.5zM811.3 1036.9H842.1V1043.4H811.3zM857.5 1036.9H865.2V1043.4H857.5zM934.5 1036.9H949.9V1043.4H934.5zM965.3 1036.9H973.0V1043.4H965.3zM988.4 1036.9H996.1V1043.4H988.4zM1011.5 1036.9H1019.2V1043.4H1011.5zM1026.8 1036.9H1034.5V1043.4H1026.8zM1080.7 1036.9H1088.4V1043.4H1080.7zM1126.9 1036.9H1134.6V1043.4H1126.9zM465.0 1043.4H480.4V1050.0H465.0zM572.7 1043.4H580.4V1050.0H572.7zM680.5 1043.4H688.2V1050.0H680.5zM711.3 1043.4H719.0V1050.0H711.3zM880.6 1043.4H888.3V1050.0H880.6zM126.3 1089.1H134.0V1095.6H126.3zM734.4 1089.1H742.1V1095.6H734.4zM795.9 1089.1H803.6V1095.6H795.9zM642.0 1095.6H649.7V1102.1H642.0zM957.6 1095.6H980.7V1102.1H957.6zM988.4 1095.6H1011.5V1102.1H988.4zM1019.2 1095.6H1026.8V1102.1H1019.2zM149.4 1102.1H157.1V1108.6H149.4zM172.5 1102.1H180.2V1108.6H172.5zM211.0 1102.1H226.4V1108.6H211.0zM241.8 1102.1H249.5V1108.6H241.8zM272.5 1102.1H287.9V1108.6H272.5zM434.2 1102.1H457.3V1108.6H434.2zM503.5 1102.1H518.8V1108.6H503.5zM541.9 1102.1H565.0V1108.6H541.9zM657.4 1102.1H665.1V1108.6H657.4zM819.0 1102.1H865.2V1108.6H819.0zM872.9 1102.1H880.6V1108.6H872.9zM1073.0 1102.1H1080.7V1108.6H1073.0zM311.0 1108.6H318.7V1115.1H311.0zM364.9 1108.6H388.0V1115.1H364.9zM418.8 1108.6H426.5V1115.1H418.8zM534.2 1108.6H541.9V1115.1H534.2z"/>
<path fill="#ff3a00" d="M287.9 1036.9H295.6V1043.4H287.9zM303.3 1036.9H318.7V1043.4H303.3zM326.4 1036.9H341.8V1043.4H326.4zM134.0 1043.4H164.8V1050.0H134.0zM172.5 1043.4H180.2V1050.0H172.5zM195.6 1043.4H203.3V1050.0H195.6zM211.0 1043.4H249.5V1050.0H211.0zM380.3 1043.4H388.0V1050.0H380.3zM395.7 1043.4H403.4V1050.0H395.7zM418.8 1043.4H426.5V1050.0H418.8zM434.2 1043.4H465.0V1050.0H434.2zM480.4 1043.4H534.2V1050.0H480.4zM549.6 1043.4H565.0V1050.0H549.6zM580.4 1043.4H595.8V1050.0H580.4zM642.0 1043.4H649.7V1050.0H642.0zM657.4 1043.4H680.5V1050.0H657.4zM688.2 1043.4H711.3V1050.0H688.2zM719.0 1043.4H726.7V1050.0H719.0zM742.1 1043.4H749.8V1050.0H742.1zM842.1 1043.4H857.5V1050.0H842.1zM865.2 1043.4H872.9V1050.0H865.2zM896.0 1043.4H942.2V1050.0H896.0zM949.9 1043.4H957.6V1050.0H949.9zM965.3 1043.4H973.0V1050.0H965.3zM988.4 1043.4H996.1V1050.0H988.4zM1019.2 1043.4H1026.8V1050.0H1019.2zM1111.5 1043.4H1126.9V1050.0H1111.5zM1134.6 1043.4H1142.3V1050.0H1134.6zM757.5 1082.5H772.8V1089.1H757.5zM719.0 1089.1H734.4V1095.6H719.0zM788.2 1089.1H795.9V1095.6H788.2zM603.5 1095.6H642.0V1102.1H603.5zM649.7 1095.6H657.4V1102.1H649.7zM903.7 1095.6H919.1V1102.1H903.7zM926.8 1095.6H949.9V1102.1H926.8zM980.7 1095.6H988.4V1102.1H980.7zM1011.5 1095.6H1019.2V1102.1H1011.5zM1026.8 1095.6H1049.9V1102.1H1026.8zM1096.1 1095.6H1103.8V1102.1H1096.1zM1111.5 1095.6H1126.9V1102.1H1111.5zM1134.6 1095.6H1142.3V1102.1H1134.6zM226.4 1102.1H241.8V1108.6H226.4zM287.9 1102.1H303.3V1108.6H287.9zM518.8 1102.1H526.5V1108.6H518.8zM565.0 1102.1H572.7V1108.6H565.0zM680.5 1102.1H688.2V1108.6H680.5zM1057.6 1102.1H1073.0V1108.6H1057.6zM334.1 1108.6H349.5V1115.1H334.1zM388.0 1108.6H403.4V1115.1H388.0zM411.1 1108.6H418.8V1115.1H411.1zM526.5 1108.6H534.2V1115.1H526.5z"/>
<path fill="#ff2800" d="M126.3 1043.4H134.0V1050.0H126.3zM164.8 1043.4H172.5V1050.0H164.8zM180.2 1043.4H195.6V1050.0H180.2zM203.3 1043.4H211.0V1050.0H203.3zM249.5 1043.4H272.5V1050.0H249.5zM280.2 1043.4H287.9V1050.0H280.2zM295.6 1043.4H303.3V1050.0H295.6zM318.7 1043.4H326.4V1050.0H318.7zM341.8 1043.4H380.3V1050.0H341.8zM388.0 1043.4H395.7V1050.0H388.0zM403.4 1043.4H418.8V1050.0H403.4zM426.5 1043.4H434.2V1050.0H426.5zM534.2 1043.4H549.6V1050.0H534.2zM565.0 1043.4H572.7V1050.0H565.0zM595.8 1043.4H642.0V1050.0H595.8zM649.7 1043.4H657.4V1050.0H649.7zM726.7 1043.4H742.1V1050.0H726.7zM749.8 1043.4H788.2V1050.0H749.8zM795.9 1043.4H819.0V1050.0H795.9zM826.7 1043.4H842.1V1050.0H826.7zM857.5 1043.4H865.2V1050.0H857.5zM872.9 1043.4H880.6V1050.0H872.9zM888.3 1043.4H896.0V1050.0H888.3zM942.2 1043.4H949.9V1050.0H942.2zM957.6 1043.4H965.3V1050.0H957.6zM973.0 1043.4H988.4V1050.0H973.0zM996.1 1043.4H1019.2V1050.0H996.1zM1026.8 1043.4H1065.3V1050.0H1026.8zM1073.0 1043.4H1103.8V1050.0H1073.0zM1126.9 1043.4H1134.6V1050.0H1126.9zM1142.3 1043.4H1150.0V1050.0H1142.3zM226.4 1050.0H234.1V1056.5H226.4zM434.2 1050.0H488.1V1056.5H434.2zM511.1 1050.0H518.8V1056.5H511.1zM695.9 1050.0H703.6V1056.5H695.9zM880.6 1050.0H888.3V1056.5H880.6zM896.0 1050.0H911.4V1056.5H896.0zM749.8 1082.5H757.5V1089.1H749.8zM772.8 1082.5H780.5V1089.1H772.8zM134.0 1089.1H141.7V1095.6H134.0zM711.3 1089.1H719.0V1095.6H711.3zM803.6 1089.1H811.3V1095.6H803.6zM187.9 1095.6H226.4V1102.1H187.9zM241.8 1095.6H249.5V1102.1H241.8zM257.1 1095.6H264.8V1102.1H257.1zM280.2 1095.6H287.9V1102.1H280.2zM488.1 1095.6H495.8V1102.1H488.1zM511.1 1095.6H518.8V1102.1H511.1zM557.3 1095.6H565.0V1102.1H557.3zM588.1 1095.6H603.5V1102.1H588.1zM811.3 1095.6H819.0V1102.1H811.3zM880.6 1095.6H888.3V1102.1H880.6zM896.0 1095.6H903.7V1102.1H896.0zM919.1 1095.6H926.8V1102.1H919.1zM1049.9 1095.6H1057.6V1102.1H1049.9zM1088.4 1095.6H1096.1V1102.1H1088.4zM1103.8 1095.6H1111.5V1102.1H1103.8zM1126.9 1095.6H1134.6V1102.1H1126.9zM1142.3 1095.6H1150.0V1102.1H1142.3zM157.1 1102.1H172.5V1108.6H157.1zM311.0 1102.1H326.4V1108.6H311.0zM341.8 1102.1H349.5V1108.6H341.8zM357.2 1102.1H364.9V1108.6H357.2zM426.5 1102.1H434.2V1108.6H426.5zM665.1 1102.1H680.5V1108.6H665.1zM318.7 1108.6H326.4V1115.1H318.7zM403.4 1108.6H411.1V1115.1H403.4z"/>
<path fill="#ff1600" d="M272.5 1043.4H280.2V1050.0H272.5zM287.9 1043.4H295.6V1050.0H287.9zM303.3 1043.4H318.7V1050.0H303.3zM326.4 1043.4H341.8V1050.0H326.4zM788.2 1043.4H795.9V1050.0H788.2zM819.0 1043.4H826.7V1050.0H819.0zM1065.3 1043.4H1073.0V1050.0H1065.3zM1103.8 1043.4H1111.5V1050.0H1103.8zM149.4 1050.0H180.2V1056.5H149.4zM187.9 1050.0H226.4V1056.5H187.9zM234.1 1050.0H241.8V1056.5H234.1zM349.5 1050.0H357.2V1056.5H349.5zM380.3 1050.0H388.0V1056.5H380.3zM395.7 1050.0H403.4V1056.5H395.7zM418.8 1050.0H426.5V1056.5H418.8zM488.1 1050.0H511.1V1056.5H488.1zM518.8 1050.0H526.5V1056.5H518.8zM549.6 1050.0H557.3V1056.5H549.6zM572.7 1050.0H595.8V1056.5H572.7zM611.2 1050.0H618.9V1056.5H611.2zM634.3 1050.0H642.0V1056.5H634.3zM672.8 1050.0H695.9V1056.5H672.8zM703.6 1050.0H719.0V1056.5H703.6zM734.4 1050.0H749.8V1056.5H734.4zM842.1 1050.0H857.5V1056.5H842.1zM865.2 1050.0H872.9V1056.5H865.2zM911.4 1050.0H926.8V1056.5H911.4zM934.5 1050.0H942.2V1056.5H934.5zM965.3 1050.0H973.0V1056.5H965.3zM1019.2 1050.0H1034.5V1056.5H1019.2zM1042.2 1050.0H1057.6V1056.5H1042.2zM1073.0 1050.0H1080.7V1056.5H1073.0zM1111.5 1050.0H1126.9V1056.5H1111.5zM1134.6 1050.0H1142.3V1056.5H1134.6zM472.7 1056.5H480.4V1063.0H472.7zM742.1 1082.5H749.8V1089.1H742.1zM149.4 1089.1H157.1V1095.6H149.4zM187.9 1089.1H195.6V1095.6H187.9zM218.7 1089.1H234.1V1095.6H218.7zM295.6 1089.1H303.3V1095.6H295.6zM611.2 1089.1H626.6V1095.6H611.2zM695.9 1089.1H711.3V1095.6H695.9zM849.8 1089.1H857.5V1095.6H849.8zM880.6 1089.1H888.3V1095.6H880.6zM911.4 1089.1H926.8V1095.6H911.4zM934.5 1089.1H942.2V1095.6H934.5zM949.9 1089.1H973.0V1095.6H949.9zM1019.2 1089.1H1042.2V1095.6H1019.2zM1103.8 1089.1H1126.9V1095.6H1103.8zM1134.6 1089.1H1142.3V1095.6H1134.6zM141.7 1095.6H157.1V1102.1H141.7zM164.8 1095.6H187.9V1102.1H164.8zM226.4 1095.6H241.8V1102.1H226.4zM249.5 1095.6H257.1V1102.1H249.5zM264.8 1095.6H280.2V1102.1H264.8zM287.9 1095.6H311.0V1102.1H287.9zM434.2 1095.6H441.9V1102.1H434.2zM449.6 1095.6H457.3V1102.1H449.6zM465.0 1095.6H488.1V1102.1H465.0zM495.8 1095.6H511.1V1102.1H495.8zM518.8 1095.6H526.5V1102.1H518.8zM541.9 1095.6H557.3V1102.1H541.9zM572.7 1095.6H588.1V1102.1H572.7zM657.4 1095.6H665.1V1102.1H657.4zM680.5 1095.6H695.9V1102.1H680.5zM819.0 1095.6H880.6V1102.1H819.0zM888.3 1095.6H896.0V1102.1H888.3zM1057.6 1095.6H1088.4V1102.1H1057.6zM303.3 1102.1H311.0V1108.6H303.3zM326.4 1102.1H341.8V1108.6H326.4zM349.5 1102.1H357.2V1108.6H349.5zM364.9 1102.1H372.6V1108.6H364.9zM380.3 1102.1H388.0V1108.6H380.3zM395.7 1102.1H411.1V1108.6H395.7zM418.8 1102.1H426.5V1108.6H418.8zM534.2 1102.1H541.9V1108.6H534.2zM326.4 1108.6H334.1V1115.1H326.4z"/>
<path fill="#ff0400" d="M126.3 1050.0H149.4V1056.5H126.3zM180.2 1050.0H187.9V1056.5H180.2zM241.8 1050.0H272.5V1056.5H241.8zM280.2 1050.0H287.9V1056.5H280.2zM295.6 1050.0H303.3V1056.5H295.6zM311.0 1050.0H326.4V1056.5H311.0zM341.8 1050.0H349.5V1056.5H341.8zM357.2 1050.0H380.3V1056.5H357.2zM388.0 1050.0H395.7V1056.5H388.0zM403.4 1050.0H418.8V1056.5H403.4zM426.5 1050.0H434.2V1056.5H426.5zM526.5 1050.0H549.6V1056.5H526.5zM557.3 1050.0H572.7V1056.5H557.3zM595.8 1050.0H611.2V1056.5H595.8zM618.9 1050.0H634.3V1056.5H618.9zM642.0 1050.0H672.8V1056.5H642.0zM719.0 1050.0H734.4V1056.5H719.0zM780.5 1050.0H819.0V1056.5H780.5zM826.7 1050.0H842.1V1056.5H826.7zM857.5 1050.0H865.2V1056.5H857.5zM872.9 1050.0H880.6V1056.5H872.9zM888.3 1050.0H896.0V1056.5H888.3zM926.8 1050.0H934.5V1056.5H926.8zM942.2 1050.0H965.3V1056.5H942.2zM973.0 1050.0H1011.5V1056.5H973.0zM1034.5 1050.0H1042.2V1056.5H1034.5zM1057.6 1050.0H1073.0V1056.5H1057.6zM1080.7 1050.0H1111.5V1056.5H1080.7zM1126.9 1050.0H1134.6V1056.5H1126.9zM1142.3 1050.0H1150.0V1056.5H1142.3zM149.4 1056.5H157.1V1063.0H149.4zM195.6 1056.5H203.3V1063.0H195.6zM211.0 1056.5H234.1V1063.0H211.0zM434.2 1056.5H441.9V1063.0H434.2zM465.0 1056.5H472.7V1063.0H465.0zM480.4 1056.5H495.8V1063.0H480.4zM511.1 1056.5H518.8V1063.0H511.1zM1119.2 1056.5H1126.9V1063.0H1119.2zM149.4 1063.0H157.1V1069.5H149.4zM211.0 1063.0H241.8V1069.5H211.0zM1119.2 1063.0H1126.9V1069.5H1119.2zM149.4 1069.5H157.1V1076.0H149.4zM218.7 1069.5H241.8V1076.0H218.7zM1119.2 1069.5H1126.9V1076.0H1119.2zM134.0 1076.0H141.7V1082.5H134.0zM203.3 1076.0H211.0V1082.5H203.3zM218.7 1076.0H241.8V1082.5H218.7zM765.2 1076.0H772.8V1082.5H765.2zM1134.6 1076.0H1142.3V1082.5H1134.6zM134.0 1082.5H141.7V1089.1H134.0zM149.4 1082.5H157.1V1089.1H149.4zM195.6 1082.5H203.3V1089.1H195.6zM211.0 1082.5H234.1V1089.1H211.0zM734.4 1082.5H742.1V1089.1H734.4zM780.5 1082.5H788.2V1089.1H780.5zM803.6 1082.5H811.3V1089.1H803.6zM1049.9 1082.5H1057.6V1089.1H1049.9zM1119.2 1082.5H1126.9V1089.1H1119.2zM1134.6 1082.5H1142.3V1089.1H1134.6zM141.7 1089.1H149.4V1095.6H141.7zM157.1 1089.1H164.8V1095.6H157.1zM172.5 1089.1H187.9V1095.6H172.5zM195.6 1089.1H218.7V1095.6H195.6zM234.1 1089.1H287.9V1095.6H234.1zM318.7 1089.1H326.4V1095.6H318.7zM434.2 1089.1H449.6V1095.6H434.2zM511.1 1089.1H518.8V1095.6H511.1zM572.7 1089.1H595.8V1095.6H572.7zM603.5 1089.1H611.2V1095.6H603.5zM626.6 1089.1H657.4V1095.6H626.6zM680.5 1089.1H695.9V1095.6H680.5zM819.0 1089.1H849.8V1095.6H819.0zM865.2 1089.1H880.6V1095.6H865.2zM896.0 1089.1H911.4V1095.6H896.0zM926.8 1089.1H934.5V1095.6H926.8zM942.2 1089.1H949.9V1095.6H942.2zM973.0 1089.1H1019.2V1095.6H973.0zM1042.2 1089.1H1057.6V1095.6H1042.2zM1073.0 1089.1H1080.7V1095.6H1073.0zM1088.4 1089.1H1103.8V1095.6H1088.4zM1126.9 1089.1H1134.6V1095.6H1126.9zM1142.3 1089.1H1150.0V1095.6H1142.3zM157.1 1095.6H164.8V1102.1H157.1zM311.0 1095.6H372.6V1102.1H311.0zM411.1 1095.6H418.8V1102.1H411.1zM426.5 1095.6H434.2V1102.1H426.5zM441.9 1095.6H449.6V1102.1H441.9zM457.3 1095.6H465.0V1102.1H457.3zM534.2 1095.6H541.9V1102.1H534.2zM565.0 1095.6H572.7V1102.1H565.0zM665.1 1095.6H680.5V1102.1H665.1zM372.6 1102.1H380.3V1108.6H372.6zM411.1 1102.1H418.8V1108.6H411.1zM526.5 1102.1H534.2V1108.6H526.5z"/>
<path fill="#fb050d" d="M272.5 1050.0H280.2V1056.5H272.5zM287.9 1050.0H295.6V1056.5H287.9zM303.3 1050.0H311.0V1056.5H303.3zM326.4 1050.0H341.8V1056.5H326.4zM749.8 1050.0H757.5V1056.5H749.8zM765.2 1050.0H772.8V1056.5H765.2zM819.0 1050.0H826.7V1056.5H819.0zM1011.5 1050.0H1019.2V1056.5H1011.5zM134.0 1056.5H149.4V1063.0H134.0zM157.1 1056.5H195.6V1063.0H157.1zM203.3 1056.5H211.0V1063.0H203.3zM241.8 1056.5H264.8V1063.0H241.8zM357.2 1056.5H388.0V1063.0H357.2zM395.7 1056.5H434.2V1063.0H395.7zM441.9 1056.5H465.0V1063.0H441.9zM495.8 1056.5H511.1V1063.0H495.8zM518.8 1056.5H534.2V1063.0H518.8zM541.9 1056.5H565.0V1063.0H541.9zM572.7 1056.5H580.4V1063.0H572.7zM588.1 1056.5H595.8V1063.0H588.1zM603.5 1056.5H611.2V1063.0H603.5zM634.3 1056.5H642.0V1063.0H634.3zM826.7 1056.5H834.4V1063.0H826.7zM865.2 1056.5H872.9V1063.0H865.2zM880.6 1056.5H888.3V1063.0H880.6zM896.0 1056.5H911.4V1063.0H896.0zM1057.6 1056.5H1065.3V1063.0H1057.6zM1088.4 1056.5H1096.1V1063.0H1088.4zM1111.5 1056.5H1119.2V1063.0H1111.5zM1134.6 1056.5H1150.0V1063.0H1134.6zM134.0 1063.0H149.4V1069.5H134.0zM157.1 1063.0H211.0V1069.5H157.1zM241.8 1063.0H257.1V1069.5H241.8zM280.2 1063.0H287.9V1069.5H280.2zM380.3 1063.0H388.0V1069.5H380.3zM395.7 1063.0H403.4V1069.5H395.7zM434.2 1063.0H449.6V1069.5H434.2zM457.3 1063.0H465.0V1069.5H457.3zM488.1 1063.0H495.8V1069.5H488.1zM603.5 1063.0H611.2V1069.5H603.5zM872.9 1063.0H888.3V1069.5H872.9zM896.0 1063.0H911.4V1069.5H896.0zM1019.2 1063.0H1026.8V1069.5H1019.2zM1088.4 1063.0H1096.1V1069.5H1088.4zM1103.8 1063.0H1119.2V1069.5H1103.8zM1126.9 1063.0H1150.0V1069.5H1126.9zM134.0 1069.5H149.4V1076.0H134.0zM157.1 1069.5H218.7V1076.0H157.1zM241.8 1069.5H249.5V1076.0H241.8zM257.1 1069.5H264.8V1076.0H257.1zM434.2 1069.5H441.9V1076.0H434.2zM449.6 1069.5H457.3V1076.0H449.6zM603.5 1069.5H611.2V1076.0H603.5zM618.9 1069.5H626.6V1076.0H618.9zM849.8 1069.5H857.5V1076.0H849.8zM880.6 1069.5H888.3V1076.0H880.6zM896.0 1069.5H911.4V1076.0H896.0zM1088.4 1069.5H1119.2V1076.0H1088.4zM1134.6 1069.5H1142.3V1076.0H1134.6zM141.7 1076.0H157.1V1082.5H141.7zM164.8 1076.0H195.6V1082.5H164.8zM211.0 1076.0H218.7V1082.5H211.0zM241.8 1076.0H249.5V1082.5H241.8zM434.2 1076.0H441.9V1082.5H434.2zM603.5 1076.0H611.2V1082.5H603.5zM880.6 1076.0H888.3V1082.5H880.6zM903.7 1076.0H911.4V1082.5H903.7zM1034.5 1076.0H1042.2V1082.5H1034.5zM1096.1 1076.0H1126.9V1082.5H1096.1zM1142.3 1076.0H1150.0V1082.5H1142.3zM126.3 1082.5H134.0V1089.1H126.3zM141.7 1082.5H149.4V1089.1H141.7zM157.1 1082.5H195.6V1089.1H157.1zM203.3 1082.5H211.0V1089.1H203.3zM234.1 1082.5H249.5V1089.1H234.1zM257.1 1082.5H264.8V1089.1H257.1zM280.2 1082.5H287.9V1089.1H280.2zM295.6 1082.5H303.3V1089.1H295.6zM349.5 1082.5H357.2V1089.1H349.5zM449.6 1082.5H457.3V1089.1H449.6zM603.5 1082.5H626.6V1089.1H603.5zM634.3 1082.5H642.0V1089.1H634.3zM657.4 1082.5H665.1V1089.1H657.4zM688.2 1082.5H703.6V1089.1H688.2zM711.3 1082.5H726.7V1089.1H711.3zM795.9 1082.5H803.6V1089.1H795.9zM849.8 1082.5H857.5V1089.1H849.8zM865.2 1082.5H872.9V1089.1H865.2zM880.6 1082.5H888.3V1089.1H880.6zM896.0 1082.5H919.1V1089.1H896.0zM965.3 1082.5H973.0V1089.1H965.3zM1034.5 1082.5H1042.2V1089.1H1034.5zM1096.1 1082.5H1103.8V1089.1H1096.1zM1111.5 1082.5H1119.2V1089.1H1111.5zM1142.3 1082.5H1150.0V1089.1H1142.3zM164.8 1089.1H172.5V1095.6H164.8zM287.9 1089.1H295.6V1095.6H287.9zM303.3 1089.1H318.7V1095.6H303.3zM326.4 1089.1H357.2V1095.6H326.4zM411.1 1089.1H418.8V1095.6H411.1zM426.5 1089.1H434.2V1095.6H426.5zM449.6 1089.1H511.1V1095.6H449.6zM518.8 1089.1H526.5V1095.6H518.8zM541.9 1089.1H572.7V1095.6H541.9zM595.8 1089.1H603.5V1095.6H595.8zM657.4 1089.1H680.5V1095.6H657.4zM811.3 1089.1H819.0V1095.6H811.3zM857.5 1089.1H865.2V1095.6H857.5zM888.3 1089.1H896.0V1095.6H888.3zM1057.6 1089.1H1073.0V1095.6H1057.6zM1080.7 1089.1H1088.4V1095.6H1080.7zM380.3 1095.6H388.0V1102.1H380.3zM395.7 1095.6H411.1V1102.1H395.7zM418.8 1095.6H426.5V1102.1H418.8zM526.5 1095.6H534.2V1102.1H526.5zM388.0 1102.1H395.7V1108.6H388.0z"/>
<path fill="#f60c1e" d="M757.5 1050.0H765.2V1056.5H757.5zM772.8 1050.0H780.5V1056.5H772.8zM126.3 1056.5H134.0V1063.0H126.3zM234.1 1056.5H241.8V1063.0H234.1zM264.8 1056.5H272.5V1063.0H264.8zM280.2 1056.5H287.9V1063.0H280.2zM295.6 1056.5H303.3V1063.0H295.6zM311.0 1056.5H318.7V1063.0H311.0zM349.5 1056.5H357.2V1063.0H349.5zM388.0 1056.5H395.7V1063.0H388.0zM534.2 1056.5H541.9V1063.0H534.2zM565.0 1056.5H572.7V1063.0H565.0zM580.4 1056.5H588.1V1063.0H580.4zM595.8 1056.5H603.5V1063.0H595.8zM611.2 1056.5H634.3V1063.0H611.2zM642.0 1056.5H657.4V1063.0H642.0zM672.8 1056.5H726.7V1063.0H672.8zM803.6 1056.5H826.7V1063.0H803.6zM834.4 1056.5H865.2V1063.0H834.4zM872.9 1056.5H880.6V1063.0H872.9zM911.4 1056.5H934.5V1063.0H911.4zM942.2 1056.5H957.6V1063.0H942.2zM965.3 1056.5H1011.5V1063.0H965.3zM1019.2 1056.5H1057.6V1063.0H1019.2zM1065.3 1056.5H1088.4V1063.0H1065.3zM1096.1 1056.5H1111.5V1063.0H1096.1zM1126.9 1056.5H1134.6V1063.0H1126.9zM126.3 1063.0H134.0V1069.5H126.3zM257.1 1063.0H280.2V1069.5H257.1zM372.6 1063.0H380.3V1069.5H372.6zM388.0 1063.0H395.7V1069.5H388.0zM411.1 1063.0H426.5V1069.5H411.1zM449.6 1063.0H457.3V1069.5H449.6zM465.0 1063.0H488.1V1069.5H465.0zM495.8 1063.0H526.5V1069.5H495.8zM534.2 1063.0H541.9V1069.5H534.2zM611.2 1063.0H626.6V1069.5H611.2zM634.3 1063.0H688.2V1069.5H634.3zM695.9 1063.0H703.6V1069.5H695.9zM803.6 1063.0H857.5V1069.5H803.6zM865.2 1063.0H872.9V1069.5H865.2zM911.4 1063.0H980.7V1069.5H911.4zM1003.8 1063.0H1011.5V1069.5H1003.8zM1026.8 1063.0H1042.2V1069.5H1026.8zM1049.9 1063.0H1057.6V1069.5H1049.9zM1073.0 1063.0H1080.7V1069.5H1073.0zM1096.1 1063.0H1103.8V1069.5H1096.1zM126.3 1069.5H134.0V1076.0H126.3zM249.5 1069.5H257.1V1076.0H249.5zM264.8 1069.5H287.9V1076.0H264.8zM295.6 1069.5H303.3V1076.0H295.6zM380.3 1069.5H388.0V1076.0H380.3zM411.1 1069.5H434.2V1076.0H411.1zM441.9 1069.5H449.6V1076.0H441.9zM457.3 1069.5H465.0V1076.0H457.3zM480.4 1069.5H534.2V1076.0H480.4zM611.2 1069.5H618.9V1076.0H611.2zM626.6 1069.5H657.4V1076.0H626.6zM695.9 1069.5H703.6V1076.0H695.9zM819.0 1069.5H849.8V1076.0H819.0zM857.5 1069.5H880.6V1076.0H857.5zM888.3 1069.5H896.0V1076.0H888.3zM911.4 1069.5H942.2V1076.0H911.4zM949.9 1069.5H957.6V1076.0H949.9zM965.3 1069.5H973.0V1076.0H965.3zM988.4 1069.5H1003.8V1076.0H988.4zM1019.2 1069.5H1057.6V1076.0H1019.2zM1065.3 1069.5H1073.0V1076.0H1065.3zM1126.9 1069.5H1134.6V1076.0H1126.9zM1142.3 1069.5H1150.0V1076.0H1142.3zM126.3 1076.0H134.0V1082.5H126.3zM157.1 1076.0H164.8V1082.5H157.1zM195.6 1076.0H203.3V1082.5H195.6zM249.5 1076.0H295.6V1082.5H249.5zM411.1 1076.0H426.5V1082.5H411.1zM441.9 1076.0H465.0V1082.5H441.9zM472.7 1076.0H503.5V1082.5H472.7zM511.1 1076.0H518.8V1082.5H511.1zM526.5 1076.0H534.2V1082.5H526.5zM611.2 1076.0H703.6V1082.5H611.2zM711.3 1076.0H719.0V1082.5H711.3zM757.5 1076.0H765.2V1082.5H757.5zM803.6 1076.0H880.6V1082.5H803.6zM896.0 1076.0H903.7V1082.5H896.0zM911.4 1076.0H973.0V1082.5H911.4zM988.4 1076.0H1011.5V1082.5H988.4zM1019.2 1076.0H1034.5V1082.5H1019.2zM1042.2 1076.0H1057.6V1082.5H1042.2zM1073.0 1076.0H1096.1V1082.5H1073.0zM1126.9 1076.0H1134.6V1082.5H1126.9zM249.5 1082.5H257.1V1089.1H249.5zM264.8 1082.5H280.2V1089.1H264.8zM287.9 1082.5H295.6V1089.1H287.9zM303.3 1082.5H349.5V1089.1H303.3zM411.1 1082.5H449.6V1089.1H411.1zM457.3 1082.5H503.5V1089.1H457.3zM511.1 1082.5H518.8V1089.1H511.1zM526.5 1082.5H534.2V1089.1H526.5zM541.9 1082.5H549.6V1089.1H541.9zM588.1 1082.5H603.5V1089.1H588.1zM626.6 1082.5H634.3V1089.1H626.6zM642.0 1082.5H657.4V1089.1H642.0zM665.1 1082.5H688.2V1089.1H665.1zM703.6 1082.5H711.3V1089.1H703.6zM726.7 1082.5H734.4V1089.1H726.7zM788.2 1082.5H795.9V1089.1H788.2zM811.3 1082.5H849.8V1089.1H811.3zM857.5 1082.5H865.2V1089.1H857.5zM872.9 1082.5H880.6V1089.1H872.9zM888.3 1082.5H896.0V1089.1H888.3zM919.1 1082.5H965.3V1089.1H919.1zM973.0 1082.5H1011.5V1089.1H973.0zM1019.2 1082.5H1034.5V1089.1H1019.2zM1042.2 1082.5H1049.9V1089.1H1042.2zM1065.3 1082.5H1096.1V1089.1H1065.3zM1103.8 1082.5H1111.5V1089.1H1103.8zM1126.9 1082.5H1134.6V1089.1H1126.9zM357.2 1089.1H372.6V1095.6H357.2zM395.7 1089.1H411.1V1095.6H395.7zM418.8 1089.1H426.5V1095.6H418.8zM534.2 1089.1H541.9V1095.6H534.2zM372.6 1095.6H380.3V1102.1H372.6zM388.0 1095.6H395.7V1102.1H388.0z"/>
<path fill="#f1132f" d="M272.5 1056.5H280.2V1063.0H272.5zM287.9 1056.5H295.6V1063.0H287.9zM303.3 1056.5H311.0V1063.0H303.3zM318.7 1056.5H349.5V1063.0H318.7zM657.4 1056.5H672.8V1063.0H657.4zM788.2 1056.5H803.6V1063.0H788.2zM888.3 1056.5H896.0V1063.0H888.3zM934.5 1056.5H942.2V1063.0H934.5zM957.6 1056.5H965.3V1063.0H957.6zM1011.5 1056.5H1019.2V1063.0H1011.5zM287.9 1063.0H303.3V1069.5H287.9zM311.0 1063.0H326.4V1069.5H311.0zM364.9 1063.0H372.6V1069.5H364.9zM403.4 1063.0H411.1V1069.5H403.4zM426.5 1063.0H434.2V1069.5H426.5zM526.5 1063.0H534.2V1069.5H526.5zM541.9 1063.0H557.3V1069.5H541.9zM588.1 1063.0H603.5V1069.5H588.1zM626.6 1063.0H634.3V1069.5H626.6zM688.2 1063.0H695.9V1069.5H688.2zM703.6 1063.0H719.0V1069.5H703.6zM857.5 1063.0H865.2V1069.5H857.5zM888.3 1063.0H896.0V1069.5H888.3zM980.7 1063.0H1003.8V1069.5H980.7zM1011.5 1063.0H1019.2V1069.5H1011.5zM1042.2 1063.0H1049.9V1069.5H1042.2zM1057.6 1063.0H1073.0V1069.5H1057.6zM1080.7 1063.0H1088.4V1069.5H1080.7zM287.9 1069.5H295.6V1076.0H287.9zM311.0 1069.5H326.4V1076.0H311.0zM395.7 1069.5H411.1V1076.0H395.7zM465.0 1069.5H480.4V1076.0H465.0zM534.2 1069.5H541.9V1076.0H534.2zM657.4 1069.5H695.9V1076.0H657.4zM711.3 1069.5H719.0V1076.0H711.3zM803.6 1069.5H819.0V1076.0H803.6zM942.2 1069.5H949.9V1076.0H942.2zM957.6 1069.5H965.3V1076.0H957.6zM973.0 1069.5H988.4V1076.0H973.0zM1003.8 1069.5H1019.2V1076.0H1003.8zM1073.0 1069.5H1088.4V1076.0H1073.0zM295.6 1076.0H341.8V1082.5H295.6zM395.7 1076.0H411.1V1082.5H395.7zM426.5 1076.0H434.2V1082.5H426.5zM465.0 1076.0H472.7V1082.5H465.0zM503.5 1076.0H511.1V1082.5H503.5zM518.8 1076.0H526.5V1082.5H518.8zM534.2 1076.0H541.9V1082.5H534.2zM595.8 1076.0H603.5V1082.5H595.8zM703.6 1076.0H711.3V1082.5H703.6zM719.0 1076.0H726.7V1082.5H719.0zM749.8 1076.0H757.5V1082.5H749.8zM772.8 1076.0H780.5V1082.5H772.8zM888.3 1076.0H896.0V1082.5H888.3zM973.0 1076.0H988.4V1082.5H973.0zM1011.5 1076.0H1019.2V1082.5H1011.5zM1065.3 1076.0H1073.0V1082.5H1065.3zM357.2 1082.5H364.9V1089.1H357.2zM395.7 1082.5H411.1V1089.1H395.7zM503.5 1082.5H511.1V1089.1H503.5zM518.8 1082.5H526.5V1089.1H518.8zM534.2 1082.5H541.9V1089.1H534.2zM549.6 1082.5H557.3V1089.1H549.6zM572.7 1082.5H588.1V1089.1H572.7zM1011.5 1082.5H1019.2V1089.1H1011.5zM1057.6 1082.5H1065.3V1089.1H1057.6zM372.6 1089.1H380.3V1095.6H372.6zM526.5 1089.1H534.2V1095.6H526.5z"/>
<path fill="#df102e" d="M734.4 1056.5H742.1V1063.0H734.4zM303.3 1063.0H311.0V1069.5H303.3zM326.4 1063.0H364.9V1069.5H326.4zM572.7 1063.0H588.1V1069.5H572.7zM303.3 1069.5H311.0V1076.0H303.3zM326.4 1069.5H341.8V1076.0H326.4zM349.5 1069.5H357.2V1076.0H349.5zM372.6 1069.5H380.3V1076.0H372.6zM388.0 1069.5H395.7V1076.0H388.0zM541.9 1069.5H549.6V1076.0H541.9zM588.1 1069.5H603.5V1076.0H588.1zM703.6 1069.5H711.3V1076.0H703.6zM719.0 1069.5H726.7V1076.0H719.0zM341.8 1076.0H357.2V1082.5H341.8zM541.9 1076.0H549.6V1082.5H541.9zM588.1 1076.0H595.8V1082.5H588.1zM742.1 1076.0H749.8V1082.5H742.1zM364.9 1082.5H372.6V1089.1H364.9zM557.3 1082.5H572.7V1089.1H557.3zM380.3 1089.1H388.0V1095.6H380.3z"/>
<path fill="#cb0b29" d="M726.7 1056.5H734.4V1063.0H726.7zM557.3 1063.0H565.0V1069.5H557.3zM719.0 1063.0H726.7V1069.5H719.0zM795.9 1063.0H803.6V1069.5H795.9zM341.8 1069.5H349.5V1076.0H341.8zM549.6 1069.5H557.3V1076.0H549.6zM1057.6 1069.5H1065.3V1076.0H1057.6zM357.2 1076.0H364.9V1082.5H357.2zM380.3 1076.0H395.7V1082.5H380.3zM549.6 1076.0H557.3V1082.5H549.6zM726.7 1076.0H734.4V1082.5H726.7zM795.9 1076.0H803.6V1082.5H795.9zM1057.6 1076.0H1065.3V1082.5H1057.6zM380.3 1082.5H388.0V1089.1H380.3zM388.0 1089.1H395.7V1095.6H388.0z"/>
<path fill="#b30620" d="M742.1 1056.5H757.5V1063.0H742.1zM780.5 1056.5H788.2V1063.0H780.5zM565.0 1063.0H572.7V1069.5H565.0zM357.2 1069.5H372.6V1076.0H357.2zM580.4 1069.5H588.1V1076.0H580.4zM795.9 1069.5H803.6V1076.0H795.9zM364.9 1076.0H380.3V1082.5H364.9zM734.4 1076.0H742.1V1082.5H734.4zM780.5 1076.0H788.2V1082.5H780.5zM372.6 1082.5H380.3V1089.1H372.6zM388.0 1082.5H395.7V1089.1H388.0z"/>
<path fill="#9b0116" d="M757.5 1056.5H765.2V1063.0H757.5zM557.3 1069.5H565.0V1076.0H557.3zM765.2 1069.5H772.8V1076.0H765.2zM557.3 1076.0H565.0V1082.5H557.3zM580.4 1076.0H588.1V1082.5H580.4z"/>
<path fill="#820314" d="M726.7 1063.0H734.4V1069.5H726.7zM572.7 1069.5H580.4V1076.0H572.7zM757.5 1069.5H765.2V1076.0H757.5zM572.7 1076.0H580.4V1082.5H572.7zM788.2 1076.0H795.9V1082.5H788.2z"/>
<path fill="#690814" d="M772.8 1056.5H780.5V1063.0H772.8zM734.4 1063.0H742.1V1069.5H734.4zM757.5 1063.0H765.2V1069.5H757.5zM788.2 1063.0H795.9V1069.5H788.2zM565.0 1069.5H572.7V1076.0H565.0zM726.7 1069.5H742.1V1076.0H726.7zM788.2 1069.5H795.9V1076.0H788.2z"/>
<path fill="#500b13" d="M742.1 1063.0H757.5V1069.5H742.1zM742.1 1069.5H757.5V1076.0H742.1zM772.8 1069.5H780.5V1076.0H772.8zM565.0 1076.0H572.7V1082.5H565.0z"/>
<path fill="#370d11" d="M765.2 1063.0H772.8V1069.5H765.2zM780.5 1063.0H788.2V1069.5H780.5zM780.5 1069.5H788.2V1076.0H780.5z"/>
<path fill="#1e0f0f" d="M765.2 1056.5H772.8V1063.0H765.2zM772.8 1063.0H780.5V1069.5H772.8z"/>
</g>
<path d="M126.3 1165.0h13.0M1150.0 1165.0h-13.0M126.3 1117.5h13.0M1150.0 1117.5h-13.0M126.3 1070.0h13.0M1150.0 1070.0h-13.0M126.3 1022.5h13.0M1150.0 1022.5h-13.0M126.3 1198.2h5.0M1150.0 1198.2h-5.0M126.3 1189.8h5.0M1150.0 1189.8h-5.0M126.3 1183.9h5.0M1150.0 1183.9h-5.0M126.3 1179.3h5.0M1150.0 1179.3h-5.0M126.3 1175.5h5.0M1150.0 1175.5h-5.0M126.3 1172.4h5.0M1150.0 1172.4h-5.0M126.3 1169.6h5.0M1150.0 1169.6h-5.0M126.3 1167.2h5.0M1150.0 1167.2h-5.0M126.3 1150.7h5.0M1150.0 1150.7h-5.0M126.3 1142.3h5.0M1150.0 1142.3h-5.0M126.3 1136.4h5.0M1150.0 1136.4h-5.0M126.3 1131.8h5.0M1150.0 1131.8h-5.0M126.3 1128.0h5.0M1150.0 1128.0h-5.0M126.3 1124.9h5.0M1150.0 1124.9h-5.0M126.3 1122.1h5.0M1150.0 1122.1h-5.0M126.3 1119.7h5.0M1150.0 1119.7h-5.0M126.3 1103.2h5.0M1150.0 1103.2h-5.0M126.3 1094.8h5.0M1150.0 1094.8h-5.0M126.3 1088.9h5.0M1150.0 1088.9h-5.0M126.3 1084.3h5.0M1150.0 1084.3h-5.0M126.3 1080.5h5.0M1150.0 1080.5h-5.0M126.3 1077.4h5.0M1150.0 1077.4h-5.0M126.3 1074.6h5.0M1150.0 1074.6h-5.0M126.3 1072.2h5.0M1150.0 1072.2h-5.0M126.3 1055.7h5.0M1150.0 1055.7h-5.0M126.3 1047.3h5.0M1150.0 1047.3h-5.0M126.3 1041.4h5.0M1150.0 1041.4h-5.0M126.3 1036.8h5.0M1150.0 1036.8h-5.0M126.3 1033.0h5.0M1150.0 1033.0h-5.0M126.3 1029.9h5.0M1150.0 1029.9h-5.0M126.3 1027.1h5.0M1150.0 1027.1h-5.0M126.3 1024.7h5.0M1150.0 1024.7h-5.0M126.3 1008.2h5.0M1150.0 1008.2h-5.0M126.3 999.8h5.0M1150.0 999.8h-5.0" stroke="#000" stroke-width="1.5" fill="none"/>
<path d="M228.7 997.8v8.0M228.7 1206.4v-8.0M331.0 997.8v8.0M331.0 1206.4v-8.0M433.4 997.8v8.0M433.4 1206.4v-8.0M535.8 997.8v8.0M535.8 1206.4v-8.0M638.1 997.8v26.0M638.1 1206.4v-26.0M740.5 997.8v8.0M740.5 1206.4v-8.0M842.9 997.8v8.0M842.9 1206.4v-8.0M945.3 997.8v8.0M945.3 1206.4v-8.0M1047.6 997.8v8.0M1047.6 1206.4v-8.0" stroke="#000" stroke-width="1.7" fill="none"/>
<rect x="126.3" y="997.8" width="1023.7" height="208.6" fill="none" stroke="#000" stroke-width="1.7"/>
<text transform="translate(117.6,1034.8) scale(0.97,1)" font-family='"DejaVu Sans","Liberation Sans",sans-serif' font-size="34" text-anchor="end">10<tspan dy="-14.9" font-size="27">4</tspan></text>
<text transform="translate(117.6,1082.3) scale(0.97,1)" font-family='"DejaVu Sans","Liberation Sans",sans-serif' font-size="34" text-anchor="end">10<tspan dy="-14.9" font-size="27">3</tspan></text>
<text transform="translate(117.6,1129.3) scale(0.97,1)" font-family='"DejaVu Sans","Liberation Sans",sans-serif' font-size="34" text-anchor="end">10<tspan dy="-14.9" font-size="27">2</tspan></text>
<text transform="translate(117.6,1177.3) scale(0.97,1)" font-family='"DejaVu Sans","Liberation Sans",sans-serif' font-size="34" text-anchor="end">10<tspan dy="-14.9" font-size="27">1</tspan></text>
<line x1="126.3" y1="372.8" x2="1150.0" y2="372.8" stroke="#000" stroke-width="1.5" stroke-dasharray="9 5"/>
<polyline fill="none" stroke="#00ff00" stroke-width="2.6" stroke-linejoin="miter" stroke-miterlimit="4" points="126.3,356.1 132.0,360.1 139.4,360.5 146.0,349.1 154.0,355.7 161.0,341.1 168.0,340.1 176.0,360.1 183.1,368.1 190.5,352.5 198.1,347.7 205.1,339.1 212.1,348.5 220.1,362.1 227.1,377.7 234.1,378.5 241.5,364.1 248.7,359.7 256.1,354.5 263.3,349.1 270.5,344.5 277.7,344.1 285.1,360.1 292.5,360.5 299.5,358.1 307.1,350.1 313.8,349.1 321.8,354.5 329.4,357.7 336.2,368.1 343.6,381.1 350.8,369.1 358.2,363.1 365.8,363.7 373.0,360.1 378.0,361.1 380.0,361.7 387.0,369.1 394.4,365.1 402.0,370.1 409.0,364.1 416.0,374.1 423.4,381.1 431.0,387.7 438.5,381.7 445.7,366.1 453.1,362.7 460.1,354.5 467.5,374.1 474.7,371.1 481.7,371.7 489.1,373.7 496.5,371.5 503.7,383.7 511.1,387.7 518.5,387.1 525.7,391.7 533.1,388.5 540.1,382.7 547.7,385.7 555.1,382.7 562.2,381.5 569.6,378.1 576.8,379.1 584.2,386.1 591.2,389.1 598.2,384.1 605.2,381.7 612.8,373.1 620.2,376.1 627.2,371.1 635.0,382.5 642.4,380.1 650.0,365.1 657.0,359.1 664.0,353.1 671.4,364.1 678.6,373.7 686.1,365.1 693.5,356.1 700.7,367.7 708.1,365.1 715.5,363.1 722.7,369.1 730.1,375.1 737.5,378.7 744.5,377.1 751.7,372.1 759.1,365.1 766.1,371.7 773.5,347.7 780.7,357.1 788.1,357.7 795.5,354.7 802.7,352.5 810.2,374.5 817.2,376.7 824.6,352.1 831.8,340.7 839.2,342.7 846.6,338.1 853.8,354.5 860.8,362.1 868.2,367.5 875.6,354.5 880.0,351.1 898.0,351.1 904.6,366.1 912.0,362.1 919.4,340.7 927.0,334.5 934.0,328.1 941.0,335.7 948.4,337.1 956.0,337.7 963.1,331.1 970.7,355.7 977.7,351.1 984.7,355.1 992.5,350.1 999.7,355.1 1007.1,357.7 1014.1,341.7 1021.5,348.1 1028.7,381.1 1036.1,374.5 1043.5,372.1 1050.7,370.7 1058.1,374.1 1065.1,371.1 1072.7,371.1 1080.1,369.1 1087.2,365.1 1094.6,355.7 1101.8,365.7 1109.2,368.7 1116.2,373.5 1123.2,355.1 1130.8,361.1 1138.2,361.7 1145.2,361.7 1150.0,354.5"/>
<polyline fill="none" stroke="#0000ff" stroke-width="2.6" stroke-linejoin="miter" stroke-miterlimit="4" points="126.3,341.1 132.0,355.1 139.4,313.6 147.8,326.1 155.0,337.1 162.2,348.1 168.6,354.1 176.0,344.1 183.1,338.1 190.5,349.7 198.1,345.1 205.9,337.7 212.1,332.1 220.1,335.1 227.1,337.7 234.1,332.7 241.5,340.1 248.7,344.5 256.1,347.5 263.3,342.1 270.5,342.5 277.7,339.7 285.1,352.5 292.5,344.5 299.5,341.1 307.1,347.1 314.6,359.1 321.8,353.7 329.4,341.1 336.2,329.5 343.6,335.7 350.8,339.7 358.2,337.7 365.8,330.1 373.0,327.7 379.6,321.0 387.0,318.6 394.4,321.6 402.0,315.6 409.0,311.6 416.0,309.6 423.4,327.5 430.6,321.4 438.1,330.7 445.5,325.5 452.5,330.5 460.1,327.5 467.5,324.7 474.7,328.1 481.7,327.1 489.1,327.5 496.5,330.5 503.7,329.1 511.1,332.1 518.5,329.1 525.7,331.7 533.1,323.6 540.1,317.6 547.7,321.4 555.1,322.6 562.2,330.1 569.6,338.1 576.8,338.7 584.2,339.7 591.2,340.7 598.2,333.7 605.2,338.7 612.8,338.7 620.2,342.1 627.2,340.7 635.0,338.5 642.4,337.3 650.0,339.7 657.0,337.5 664.0,331.5 671.4,323.0 678.6,329.7 686.1,343.7 693.5,349.1 700.7,346.5 708.1,347.7 715.5,342.1 722.7,329.1 730.1,333.1 737.5,332.5 744.5,331.1 751.7,333.7 759.1,331.1 766.1,324.7 773.5,391.1 780.7,355.7 788.1,333.7 795.5,366.1 802.7,375.1 810.2,350.7 817.2,351.7 824.6,329.1 831.8,323.6 839.2,338.1 846.6,330.1 853.8,350.7 860.8,352.7 868.2,320.4 875.6,322.6 880.0,325.1 898.0,389.1 904.6,360.1 912.0,332.1 919.4,338.1 927.0,336.7 934.0,333.1 941.0,347.1 948.4,350.7 956.0,357.7 963.1,369.7 970.7,364.7 977.7,355.1 984.7,338.7 992.5,331.5 999.7,329.5 1007.1,313.0 1014.1,315.4 1021.5,338.5 1028.7,317.4 1036.1,308.4 1043.5,315.0 1050.7,315.6 1058.1,316.0 1065.1,323.4 1072.7,324.4 1080.1,318.0 1087.2,314.0 1094.6,314.4 1101.8,314.0 1109.2,310.4 1116.2,326.5 1123.2,335.1 1130.8,338.7 1138.2,331.1 1145.2,334.5 1150.0,339.1"/>
<polyline fill="none" stroke="#f00000" stroke-width="2.6" stroke-linejoin="miter" stroke-miterlimit="4" points="126.3,428.5 132.0,441.7 139.4,442.1 146.6,427.7 154.0,423.1 161.0,436.1 168.6,445.1 176.0,441.1 183.1,422.1 190.5,435.7 198.1,427.1 205.1,421.1 212.1,425.1 219.5,419.1 227.1,424.1 234.1,426.7 241.5,417.1 248.7,424.5 256.1,415.1 263.3,411.7 270.5,410.7 277.7,410.1 285.1,415.1 292.5,421.1 299.5,416.5 307.1,419.1 313.8,415.1 321.8,418.1 329.4,422.1 336.2,429.1 343.6,419.1 350.8,426.5 358.2,417.1 365.8,414.1 373.0,411.1 379.6,399.7 387.0,413.1 394.4,409.1 402.0,407.1 409.0,399.7 416.0,399.5 423.4,403.5 430.6,418.1 438.1,445.5 445.5,428.1 452.5,416.1 460.1,405.1 467.5,402.7 474.7,402.5 481.7,402.1 489.1,408.5 496.5,403.7 503.7,399.7 511.1,395.1 518.5,392.7 525.7,390.1 533.1,388.1 540.1,384.5 547.7,391.7 555.1,396.1 562.2,403.1 569.6,399.1 576.8,397.7 584.2,400.5 591.2,398.1 598.2,400.7 605.2,406.7 612.8,395.1 620.2,397.1 627.2,396.1 635.0,396.7 642.4,400.1 650.0,407.1 657.0,410.5 664.0,411.1 671.4,417.5 678.6,413.1 686.1,420.1 693.5,404.5 700.7,411.7 708.1,420.7 715.5,394.5 722.7,387.1 730.1,402.1 737.5,399.1 744.5,397.1 751.7,399.1 759.1,405.5 766.1,407.1 773.5,449.6 780.7,430.7 788.1,443.1 795.5,452.6 802.7,465.8 810.2,461.8 817.2,461.2 824.6,459.8 831.8,440.1 839.2,428.1 846.6,417.5 853.8,417.1 860.8,419.7 868.2,413.1 875.6,420.1 880.0,424.1 898.0,449.1 904.6,429.7 912.0,429.1 919.4,423.1 927.0,433.5 934.0,424.1 941.0,434.7 948.4,432.5 956.0,423.7 963.1,426.5 970.7,422.7 977.7,414.5 984.7,411.1 992.5,417.5 999.7,417.5 1007.1,410.7 1014.1,414.1 1021.5,421.1 1028.7,422.1 1036.1,386.1 1043.5,390.1 1050.7,387.5 1058.1,394.1 1065.1,400.5 1072.7,411.1 1080.1,408.7 1087.2,415.7 1094.6,396.5 1101.8,393.7 1109.2,398.1 1116.2,406.1 1123.2,412.7 1130.8,413.7 1138.2,414.7 1145.2,415.7 1150.0,413.7"/>
<polyline fill="none" stroke="#000" stroke-width="2.6" stroke-linejoin="miter" stroke-miterlimit="4" points="126.3,305.0 133.2,300.0 139.4,280.4 147.8,295.0 154.0,308.0 162.2,297.0 168.6,290.6 176.0,297.0 183.1,311.6 190.5,302.0 198.1,307.0 205.9,304.0 212.1,301.6 220.1,311.6 227.1,309.6 234.1,304.6 241.5,316.4 248.7,311.6 256.1,319.6 264.1,316.4 271.3,315.2 278.1,315.0 285.1,324.4 292.5,315.6 300.3,316.4 307.1,314.4 314.6,321.6 321.8,320.0 329.4,311.0 336.2,300.4 343.6,312.4 350.8,309.0 358.2,315.0 365.8,312.0 373.0,311.6 379.6,313.6 387.0,305.0 394.4,309.6 402.0,305.4 416.0,304.0 423.4,316.4 438.1,287.6 452.5,310.6 460.1,313.6 467.5,316.0 474.7,318.6 481.7,318.4 489.1,315.0 496.5,320.0 503.7,320.4 511.1,323.4 518.5,322.4 525.7,324.0 533.1,318.0 540.1,315.4 547.7,316.0 555.1,316.4 562.2,320.0 569.6,328.5 576.8,329.5 584.2,327.1 591.2,328.1 598.2,323.0 605.2,323.4 612.8,331.7 620.2,333.1 627.2,333.1 635.0,329.7 642.4,327.1 650.0,322.6 657.0,317.6 664.0,312.0 671.4,305.0 678.6,312.4 686.1,316.0 693.5,329.7 700.7,325.5 708.1,318.0 715.5,332.7 722.7,326.5 730.1,323.0 737.5,324.4 744.5,324.0 751.7,325.5 759.1,319.0 766.1,313.6 773.5,289.0 780.7,309.6 788.1,291.0 795.5,290.6 802.7,277.0 810.2,280.4 817.2,281.4 824.6,273.0 831.8,282.6 839.2,299.6 846.6,301.0 853.8,320.0 860.8,320.0 868.2,306.4 875.6,301.0 880.0,298.6 898.0,291.6 904.6,312.0 912.0,302.0 919.4,304.0 927.0,292.0 934.0,293.6 941.0,295.6 948.4,299.0 956.0,308.4 963.1,304.0 970.7,319.0 977.7,322.4 984.7,318.4 992.5,307.6 999.7,307.6 1007.1,300.0 1014.1,295.6 1021.5,308.0 1028.7,298.4 1036.1,307.0 1043.5,312.4 1050.7,313.6 1058.1,312.0 1065.1,316.0 1072.7,310.6 1080.1,307.0 1087.2,299.0 1094.6,307.0 1101.8,310.0 1109.2,305.6 1116.2,315.6 1123.2,314.6 1130.8,317.6 1138.2,312.0 1145.2,313.6 1150.0,316.0"/>
<path d="M126.3 425.0h12.5M1150.0 425.0h-12.5M126.3 372.8h12.5M1150.0 372.8h-12.5M126.3 320.6h12.5M1150.0 320.6h-12.5M126.3 464.1h5.0M1150.0 464.1h-5.0M126.3 451.1h5.0M1150.0 451.1h-5.0M126.3 438.1h5.0M1150.0 438.1h-5.0M126.3 411.9h5.0M1150.0 411.9h-5.0M126.3 398.9h5.0M1150.0 398.9h-5.0M126.3 385.8h5.0M1150.0 385.8h-5.0M126.3 359.8h5.0M1150.0 359.8h-5.0M126.3 346.7h5.0M1150.0 346.7h-5.0M126.3 333.6h5.0M1150.0 333.6h-5.0M126.3 307.5h5.0M1150.0 307.5h-5.0M126.3 294.5h5.0M1150.0 294.5h-5.0M126.3 281.4h5.0M1150.0 281.4h-5.0" stroke="#000" stroke-width="1.5" fill="none"/>
<path d="M228.7 268.4v8.0M228.7 477.2v-8.0M331.0 268.4v8.0M331.0 477.2v-8.0M433.4 268.4v8.0M433.4 477.2v-8.0M535.8 268.4v8.0M535.8 477.2v-8.0M638.1 268.4v26.0M638.1 477.2v-26.0M740.5 268.4v8.0M740.5 477.2v-8.0M842.9 268.4v8.0M842.9 477.2v-8.0M945.3 268.4v8.0M945.3 477.2v-8.0M1047.6 268.4v8.0M1047.6 477.2v-8.0" stroke="#000" stroke-width="1.7" fill="none"/>
<rect x="126.3" y="268.4" width="1023.7" height="208.8" fill="none" stroke="#000" stroke-width="1.7"/>
<text transform="translate(118.6,280.8) scale(0.975,1)" font-family='"DejaVu Sans","Liberation Sans",sans-serif' font-size="34" text-anchor="end" fill="#000" font-weight="normal">400</text>
<text transform="translate(118.6,333.0) scale(0.975,1)" font-family='"DejaVu Sans","Liberation Sans",sans-serif' font-size="34" text-anchor="end" fill="#000" font-weight="normal">200</text>
<text transform="translate(118.6,385.2) scale(0.975,1)" font-family='"DejaVu Sans","Liberation Sans",sans-serif' font-size="34" text-anchor="end" fill="#000" font-weight="normal">0</text>
<text transform="translate(118.6,437.4) scale(0.975,1)" font-family='"DejaVu Sans","Liberation Sans",sans-serif' font-size="34" text-anchor="end" fill="#000" font-weight="normal">–200</text>
<text transform="translate(118.6,489.6) scale(0.975,1)" font-family='"DejaVu Sans","Liberation Sans",sans-serif' font-size="34" text-anchor="end" fill="#000" font-weight="normal">–400</text>
<line x1="126.3" y1="692.4" x2="1150.0" y2="692.4" stroke="#000" stroke-width="1.6" stroke-dasharray="2 3.2"/>
<polyline fill="none" stroke="#000" stroke-width="2.5" stroke-linejoin="miter" stroke-miterlimit="4" points="126.3,669.1 132.0,644.1 139.4,684.5 146.6,689.1 154.0,673.1 161.0,609.5 168.4,593.1 176.0,686.5 183.1,694.1 190.5,668.7 197.7,683.5 205.1,700.2 212.1,654.5 219.5,681.1 226.7,677.1 234.1,670.5 241.5,705.6 248.7,687.7 256.1,699.6 263.3,707.2 270.5,708.6 277.7,708.8 285.1,698.1 292.1,688.7 299.5,701.6 306.7,695.1 314.2,700.8 321.6,681.5 328.8,679.5 336.2,676.5 343.6,687.1 350.8,694.5 358.2,709.6 365.2,709.8 372.6,712.2 379.6,720.6 387.0,712.8 394.4,713.8 402.0,716.6 409.0,719.6 416.0,717.2 423.4,710.2 430.6,697.5 438.1,683.7 445.5,710.6 452.5,707.8 460.1,710.6 467.5,715.6 474.7,716.2 481.7,715.8 489.1,709.6 496.5,714.8 503.7,717.2 511.1,720.6 518.5,721.8 525.7,721.8 533.1,723.8 540.1,725.8 547.7,723.2 555.1,720.8 562.2,716.6 569.6,718.8 576.8,719.8 584.2,717.2 591.2,719.2 598.2,717.8 605.8,710.8 613.2,719.6 620.2,717.2 627.2,720.6 635.0,719.6 642.4,718.6 650.0,712.2 657.0,704.2 664.0,705.8 671.4,699.1 678.6,703.8 686.1,699.1 693.5,713.2 700.7,691.1 708.1,683.5 715.5,721.2 722.7,723.6 730.1,712.8 737.5,717.6 744.5,718.8 751.7,717.8 759.1,709.8 767.1,712.2 773.5,643.5 780.7,645.7 788.1,630.1 795.5,652.1 802.7,613.5 810.2,606.7 817.6,621.7 824.2,697.1 831.8,705.8 839.2,710.2 846.3,714.7 853.9,698.1 860.8,692.1 868.6,705.5 883.0,701.3 890.3,597.9 897.3,630.2 904.7,680.1 912.1,700.4 919.3,706.4 926.6,685.6 934.2,707.8 941.6,703.6 949.0,694.4 955.5,698.6 960.0,695.3 963.1,692.1 970.7,684.1 977.7,715.2 984.7,717.2 992.5,709.2 999.7,702.6 1007.1,716.6 1014.5,714.2 1021.5,681.7 1028.7,709.2 1036.1,724.2 1043.5,723.6 1050.7,724.6 1058.1,720.2 1065.1,715.2 1072.7,704.6 1079.5,706.2 1087.2,694.1 1094.6,721.2 1101.8,720.2 1109.2,716.6 1116.2,707.2 1123.2,703.8 1130.8,693.1 1138.2,697.5 1145.2,693.5 1150.0,696.1"/>
<line x1="767.5" y1="527.0" x2="767.5" y2="727.2" stroke="#000" stroke-width="2.6" stroke-dasharray="17.5 13"/>
<line x1="823.6" y1="527.0" x2="823.6" y2="727.2" stroke="#000" stroke-width="2.6" stroke-dasharray="17.5 13"/>
<path d="M126.3 657.6h12.5M1150.0 657.6h-12.5M126.3 588.0h12.5M1150.0 588.0h-12.5M126.3 709.8h5.0M1150.0 709.8h-5.0M126.3 692.4h5.0M1150.0 692.4h-5.0M126.3 675.0h5.0M1150.0 675.0h-5.0M126.3 640.2h5.0M1150.0 640.2h-5.0M126.3 622.8h5.0M1150.0 622.8h-5.0M126.3 605.4h5.0M1150.0 605.4h-5.0M126.3 570.6h5.0M1150.0 570.6h-5.0M126.3 553.2h5.0M1150.0 553.2h-5.0M126.3 535.8h5.0M1150.0 535.8h-5.0" stroke="#000" stroke-width="1.5" fill="none"/>
<path d="M228.7 518.4v8.0M228.7 727.2v-8.0M331.0 518.4v8.0M331.0 727.2v-8.0M433.4 518.4v8.0M433.4 727.2v-8.0M535.8 518.4v8.0M535.8 727.2v-8.0M638.1 518.4v26.0M638.1 727.2v-26.0M740.5 518.4v8.0M740.5 727.2v-8.0M842.9 518.4v8.0M842.9 727.2v-8.0M945.3 518.4v8.0M945.3 727.2v-8.0M1047.6 518.4v8.0M1047.6 727.2v-8.0" stroke="#000" stroke-width="1.7" fill="none"/>
<rect x="126.3" y="518.4" width="1023.7" height="208.8" fill="none" stroke="#000" stroke-width="1.7"/>
<text transform="translate(118.6,530.8) scale(0.975,1)" font-family='"DejaVu Sans","Liberation Sans",sans-serif' font-size="34" text-anchor="end" fill="#000" font-weight="normal">6</text>
<text transform="translate(118.6,600.4) scale(0.975,1)" font-family='"DejaVu Sans","Liberation Sans",sans-serif' font-size="34" text-anchor="end" fill="#000" font-weight="normal">4</text>
<text transform="translate(118.6,670.0) scale(0.975,1)" font-family='"DejaVu Sans","Liberation Sans",sans-serif' font-size="34" text-anchor="end" fill="#000" font-weight="normal">2</text>
<text transform="translate(118.6,739.6) scale(0.975,1)" font-family='"DejaVu Sans","Liberation Sans",sans-serif' font-size="34" text-anchor="end" fill="#000" font-weight="normal">0</text>
<line x1="126.3" y1="852.8" x2="1150.0" y2="852.8" stroke="#000" stroke-width="1.4" stroke-dasharray="9 5"/>
<polyline fill="none" stroke="#ff0000" stroke-width="1.45" stroke-linejoin="miter" stroke-miterlimit="4" points="127.0,831.5 128.5,815.2 129.9,809.7 131.4,815.1 132.8,822.6 134.3,836.8 135.7,844.7 137.2,853.5 138.6,870.9 140.1,883.7 141.5,875.0 143.0,858.7 144.4,849.7 145.9,849.8 147.3,851.4 148.8,865.5 150.2,872.9 151.7,878.0 153.1,868.0 154.6,860.4 156.0,860.9 157.5,854.0 158.9,852.0 160.4,843.6 161.8,841.5 163.3,842.3 164.7,839.3 166.2,835.7 167.6,848.7 169.1,871.8 170.5,880.2 172.0,869.1 173.4,854.2 174.9,849.0 176.3,841.2 177.8,836.9 179.2,834.6 180.7,823.8 182.1,841.3 183.6,866.1 185.0,901.3 186.5,913.3 187.9,911.2 189.4,908.0 190.8,900.9 192.3,880.5 193.7,872.8 195.2,855.0 196.6,859.3 198.1,852.7 199.5,854.4 201.0,863.3 202.4,868.6 203.9,860.3 205.3,858.5 206.8,864.3 208.2,870.4 209.7,871.1 211.1,872.9 212.6,865.0 214.0,859.2 215.5,852.4 216.9,836.6 218.4,821.1 219.8,817.0 221.3,818.8 222.7,805.8 224.2,806.0 225.6,818.1 227.1,835.4 228.5,845.5 230.0,844.4 231.4,848.6 232.9,844.0 234.3,846.0 235.8,847.1 237.2,850.2 238.7,859.0 240.1,852.5 241.6,857.0 243.0,857.5 244.5,854.2 245.9,874.2 247.4,886.3 248.8,892.0 250.3,889.2 251.7,873.0 253.2,859.6 254.6,854.8 256.1,854.4 257.5,845.0 259.0,843.7 260.4,850.3 261.9,846.8 263.3,861.9 264.8,856.6 266.2,856.4 267.7,846.9 269.1,841.4 270.6,836.9 272.0,835.7 273.5,838.2 274.9,837.6 276.4,842.1 277.8,843.6 279.3,846.6 280.7,843.7 282.2,847.0 283.6,838.2 285.1,838.2 286.5,836.0 288.0,838.5 289.4,846.9 290.9,848.9 292.3,853.1 293.8,857.7 295.2,860.1 296.7,851.3 298.1,857.1 299.6,845.8 301.0,846.7 302.5,853.1 303.9,844.3 305.4,842.7 306.8,846.0 308.3,847.8 309.7,849.7 311.2,844.9 312.6,848.6 314.1,847.2 315.5,840.5 317.0,839.5 318.4,839.5 319.9,839.9 321.3,841.6 322.8,847.3 324.2,848.5 325.7,845.5 327.1,848.0 328.6,856.4 330.0,856.9 331.5,850.1 332.9,842.1 334.4,841.2 335.8,850.6 337.3,854.5 338.7,844.9 340.2,836.0 341.6,821.3 343.1,811.9 344.5,814.6 346.0,834.7 347.4,857.9 348.9,868.1 350.3,861.4 351.8,857.4 353.2,844.3 354.7,835.4 356.1,840.6 357.6,851.5 359.0,845.6 360.5,849.4 361.9,866.3 363.4,886.3 364.8,892.1 366.3,895.2 367.7,883.4 369.2,882.3 370.6,878.0 372.1,879.6 373.5,889.5 375.0,885.1 376.4,879.2 377.9,885.4 379.3,863.9 380.8,859.4 382.2,858.6 383.7,861.7 385.1,873.1 386.6,881.7 388.0,886.3 389.5,888.8 390.9,897.5 392.4,885.9 393.8,880.2 395.3,873.8 396.7,876.3 398.2,858.6 399.6,856.0 401.1,853.1 402.5,855.7 404.0,863.0 405.4,865.5 406.9,867.5 408.3,854.8 409.8,850.3 411.2,848.7 412.7,846.5 414.1,843.1 415.6,849.2 417.0,843.9 418.5,851.2 419.9,845.7 421.4,841.5 422.8,838.0 424.3,834.4 425.7,832.7 427.2,821.1 428.6,825.5 430.1,835.9 431.5,838.4 433.0,838.8 434.4,852.3 435.9,854.9 437.3,864.1 438.8,855.6 440.2,843.8 441.7,859.8 443.1,880.1 444.6,904.6 446.0,898.2 447.5,880.6 448.9,865.3 450.4,868.4 451.8,878.6 453.3,882.2 454.7,897.5 456.2,900.3 457.6,859.0 459.1,822.4 460.5,831.4 462.0,831.2 463.4,848.3 464.9,843.4 466.3,845.4 467.8,845.6 469.2,840.6 470.7,836.6 472.1,840.4 473.6,849.9 475.0,858.7 476.5,859.4 477.9,871.4 479.4,865.0 480.8,845.5 482.3,835.5 483.7,833.6 485.2,833.6 486.6,841.7 488.1,845.5 489.5,851.7 491.0,847.0 492.4,853.4 493.9,850.0 495.3,850.4 496.8,859.8 498.2,856.9 499.7,856.3 501.1,856.9 502.6,857.5 504.0,860.6 505.5,853.8 506.9,843.0 508.4,834.1 509.8,844.2 511.3,848.0 512.7,856.4 514.2,855.3 515.6,849.4 517.1,850.8 518.5,851.2 520.0,854.9 521.4,845.5 522.9,861.0 524.3,864.6 525.8,859.9 527.2,855.3 528.7,855.5 530.1,852.7 531.6,853.2 533.0,851.1 534.5,850.8 535.9,854.8 537.4,850.5 538.8,844.2 540.3,842.0 541.7,842.0 543.2,842.8 544.6,849.8 546.1,835.6 547.5,837.1 549.0,838.2 550.4,844.9 551.9,855.3 553.3,860.8 554.8,849.6 556.2,840.7 557.7,844.0 559.1,855.8 560.6,864.3 562.0,861.9 563.5,861.2 564.9,859.8 566.4,857.9 567.8,856.3 569.3,851.7 570.7,847.1 572.2,842.9 573.6,841.9 575.1,839.4 576.5,838.4 578.0,839.0 579.4,836.8 580.9,838.4 582.3,836.5 583.8,833.3 585.2,831.3 586.7,834.8 588.1,834.3 589.6,835.9 591.0,838.3 592.5,840.7 593.9,843.1 595.4,846.1 596.8,846.4 598.3,845.6 599.7,846.6 601.2,845.6 602.6,843.3 604.1,847.6 605.5,847.6 607.0,852.8 608.4,857.9 609.9,862.6 611.3,858.1 612.8,851.1 614.2,846.0 615.7,839.3 617.1,838.4 618.6,835.5 620.0,839.4 621.5,842.0 622.9,847.1 624.4,850.7 625.8,854.0 627.3,852.6 628.7,852.7 630.2,851.4 631.6,851.4 633.1,850.8 634.5,849.5 636.0,852.5 637.4,851.8 638.9,848.9 640.3,855.4 641.8,849.0 643.2,852.2 644.7,852.5 646.1,853.4 647.6,857.6 649.0,857.1 650.5,852.7 651.9,857.7 653.4,862.1 654.8,870.5 656.3,864.6 657.7,856.1 659.2,854.6 660.6,856.5 662.1,852.6 663.5,853.9 665.0,861.2 666.4,861.6 667.9,859.5 669.3,853.3 670.8,850.5 672.2,853.4 673.7,856.0 675.1,857.2 676.6,861.1 678.0,862.3 679.5,862.5 680.9,862.0 682.4,855.9 683.8,852.5 685.3,856.7 686.7,852.4 688.2,849.2 689.6,840.5 691.1,838.6 692.5,833.2 694.0,827.5 695.4,823.7 696.9,822.0 698.3,834.2 699.8,842.1 701.2,832.1 702.7,829.1 704.1,829.2 705.6,843.2 707.0,858.4 708.5,854.4 709.9,857.3 711.4,866.7 712.8,867.1 714.3,874.3 715.7,875.2 717.2,889.2 718.6,886.1 720.1,881.2 721.5,885.6 723.0,886.4 724.4,886.7 725.9,870.6 727.3,861.3 728.8,860.5 730.2,849.6 731.7,835.1 733.1,835.5 734.6,813.6 736.0,810.1 737.5,816.7 738.9,829.9 740.4,841.9 741.8,843.7 743.3,850.5 744.7,849.5 746.2,850.4 747.6,852.1 749.1,852.0 750.5,856.5 752.0,863.4 753.4,864.7 754.9,870.0 756.3,881.8 757.8,880.8 759.2,875.9 760.7,863.1 762.1,860.5 763.6,865.5 765.0,852.4 766.5,838.6 767.9,829.2 769.4,823.6 770.8,830.7 772.3,835.0 773.7,836.8 775.2,846.3 776.6,846.9 778.1,839.6 779.5,839.4 781.0,840.5 782.4,851.1 783.9,860.3 785.3,859.1 786.8,852.4 788.2,840.3 789.7,828.1 791.1,823.5 792.6,826.5 794.0,835.1 795.5,833.4 796.9,827.8 798.4,847.4 799.8,862.0 801.3,873.6 802.7,866.3 804.2,861.5 805.6,852.1 807.1,846.5 808.5,848.1 810.0,842.6 811.4,839.8 812.9,851.2 814.3,861.5 815.8,880.4 817.2,890.2 818.7,898.9 820.1,899.9 821.6,893.8 823.0,908.4 824.5,911.2 825.9,895.6 827.4,890.9 828.8,882.5 830.3,862.9 831.7,848.3 833.2,838.0 834.6,847.6 836.1,852.7 837.5,850.1 839.0,846.0 840.4,835.6 841.9,844.1 843.3,855.0 844.8,847.4 846.2,855.8 847.7,857.7 849.1,849.8 850.6,846.7 852.0,840.1 853.5,839.0 854.9,835.8 856.4,832.1 857.8,827.1 859.3,835.1 860.7,837.1 862.2,845.5 863.6,848.8 865.1,845.3 866.5,847.1 868.0,856.9 869.4,854.4 870.9,854.8 872.3,854.2 873.8,848.5 875.2,838.1 876.7,835.4 878.1,840.5 879.6,834.2 881.0,844.2 882.5,846.1 883.9,852.2 885.4,851.3 886.8,857.1 888.3,849.9 889.7,861.8 891.2,866.6 892.6,860.0 894.1,856.3 895.5,856.7 897.0,855.8 898.4,857.2 899.9,867.2 901.3,864.1 902.8,877.7 904.2,865.3 905.7,858.2 907.1,860.2 908.6,850.5 910.0,848.8 911.5,857.6 912.9,858.8 914.4,859.6 915.8,860.3 917.3,860.1 918.7,858.7 920.2,857.5 921.6,866.1 923.1,858.0 924.5,860.6 926.0,853.3 927.4,861.5 928.9,858.7 930.3,862.9 931.8,865.1 933.2,853.3 934.7,837.5 936.1,832.6 937.6,834.9 939.0,838.4 940.5,832.6 941.9,839.9 943.4,852.4 944.8,856.5 946.3,871.4 947.7,875.1 949.2,878.7 950.6,876.9 952.1,875.2 953.5,862.3 955.0,865.2 956.4,862.9 957.9,857.5 959.3,854.7 960.8,847.8 962.2,848.9 963.7,849.8 965.1,849.7 966.6,844.2 968.0,850.8 969.5,862.1 970.9,866.8 972.4,862.1 973.8,848.6 975.3,845.3 976.7,846.8 978.2,852.9 979.6,849.1 981.1,843.3 982.5,848.2 984.0,854.1 985.4,849.8 986.9,851.8 988.3,849.4 989.8,850.5 991.2,845.7 992.7,837.5 994.1,838.1 995.6,845.9 997.0,835.0 998.5,824.8 999.9,837.1 1001.4,833.5 1002.8,827.0 1004.3,830.2 1005.7,832.0 1007.2,846.3 1008.6,850.2 1010.1,845.4 1011.5,843.6 1013.0,841.8 1014.4,846.4 1015.9,845.6 1017.3,856.8 1018.8,855.3 1020.2,859.4 1021.7,858.0 1023.1,844.7 1024.6,833.5 1026.0,825.7 1027.5,820.9 1028.9,822.7 1030.4,840.0 1031.8,847.9 1033.3,860.2 1034.7,860.8 1036.2,862.2 1037.6,869.9 1039.1,866.7 1040.5,858.2 1042.0,854.4 1043.4,845.8 1044.9,836.9 1046.3,818.8 1047.8,808.2 1049.2,818.5 1050.7,831.6 1052.1,839.8 1053.6,846.8 1055.0,870.7 1056.5,876.7 1057.9,867.7 1059.4,872.5 1060.8,869.1 1062.3,864.7 1063.7,863.4 1065.2,861.5 1066.6,854.1 1068.1,855.3 1069.5,851.5 1071.0,847.1 1072.4,840.9 1073.9,828.4 1075.3,823.2 1076.8,831.1 1078.2,839.0 1079.7,843.4 1081.1,840.1 1082.6,839.7 1084.0,845.2 1085.5,844.9 1086.9,846.5 1088.4,839.8 1089.8,846.2 1091.3,856.2 1092.7,847.7 1094.2,845.5 1095.6,840.7 1097.1,849.4 1098.5,845.9 1100.0,838.5 1101.4,834.2 1102.9,827.7 1104.3,825.5 1105.8,827.0 1107.2,833.8 1108.7,838.3 1110.1,846.2 1111.6,848.4 1113.0,851.5 1114.5,841.0 1115.9,847.4 1117.4,854.1 1118.8,861.9 1120.3,867.7 1121.7,875.1 1123.2,874.5 1124.6,865.9 1126.1,857.2 1127.5,843.8 1129.0,837.6 1130.4,839.2 1131.9,835.7 1133.3,840.1 1134.8,840.5 1136.2,833.9 1137.7,827.9 1139.1,829.5 1140.6,827.0 1142.0,835.1 1143.5,837.7 1144.9,835.3 1146.4,839.0 1147.8,841.3 1149.3,846.4"/>
<polyline fill="none" stroke="#00aa00" stroke-width="1.45" stroke-linejoin="miter" stroke-miterlimit="4" points="127.0,855.9 128.5,840.9 129.9,836.4 131.4,829.9 132.8,840.9 134.3,852.2 135.7,873.2 137.2,892.1 138.6,894.2 140.1,875.2 141.5,871.0 143.0,893.5 144.4,912.5 145.9,911.2 147.3,882.7 148.8,866.7 150.2,898.3 151.7,900.2 153.1,883.6 154.6,872.6 156.0,866.6 157.5,862.8 158.9,855.4 160.4,858.0 161.8,862.3 163.3,883.0 164.7,885.7 166.2,880.4 167.6,869.8 169.1,859.0 170.5,848.6 172.0,848.9 173.4,830.4 174.9,833.1 176.3,827.1 177.8,818.3 179.2,830.5 180.7,830.1 182.1,837.9 183.6,824.8 185.0,826.4 186.5,815.5 187.9,808.5 189.4,822.3 190.8,819.2 192.3,814.0 193.7,813.8 195.2,809.8 196.6,811.9 198.1,832.0 199.5,842.6 201.0,856.6 202.4,849.6 203.9,854.4 205.3,850.2 206.8,864.2 208.2,872.2 209.7,873.2 211.1,872.4 212.6,881.5 214.0,892.5 215.5,868.1 216.9,849.4 218.4,838.2 219.8,850.8 221.3,863.7 222.7,883.4 224.2,894.4 225.6,886.6 227.1,871.4 228.5,866.7 230.0,852.1 231.4,839.5 232.9,835.4 234.3,826.1 235.8,822.4 237.2,830.1 238.7,839.8 240.1,834.0 241.6,844.3 243.0,846.6 244.5,845.7 245.9,848.4 247.4,839.5 248.8,834.2 250.3,811.1 251.7,805.5 253.2,818.9 254.6,832.5 256.1,841.0 257.5,851.6 259.0,867.0 260.4,869.6 261.9,861.0 263.3,852.0 264.8,849.0 266.2,865.7 267.7,886.7 269.1,875.1 270.6,873.7 272.0,869.9 273.5,861.4 274.9,859.4 276.4,861.5 277.8,865.1 279.3,861.9 280.7,863.2 282.2,860.7 283.6,863.8 285.1,864.0 286.5,857.1 288.0,846.7 289.4,843.3 290.9,840.9 292.3,830.7 293.8,841.5 295.2,853.9 296.7,858.8 298.1,861.6 299.6,859.5 301.0,852.5 302.5,850.4 303.9,856.9 305.4,862.7 306.8,870.0 308.3,872.0 309.7,866.0 311.2,837.8 312.6,827.3 314.1,821.1 315.5,840.0 317.0,845.6 318.4,854.3 319.9,848.9 321.3,838.9 322.8,833.3 324.2,842.4 325.7,846.6 327.1,848.7 328.6,846.8 330.0,841.2 331.5,839.1 332.9,836.6 334.4,837.1 335.8,845.1 337.3,846.4 338.7,846.7 340.2,850.1 341.6,859.5 343.1,858.9 344.5,860.0 346.0,861.5 347.4,857.0 348.9,848.3 350.3,845.2 351.8,840.6 353.2,820.8 354.7,822.5 356.1,833.2 357.6,824.1 359.0,829.5 360.5,837.9 361.9,838.8 363.4,849.9 364.8,847.5 366.3,851.4 367.7,861.8 369.2,867.7 370.6,862.3 372.1,864.8 373.5,861.8 375.0,857.2 376.4,862.7 377.9,874.8 379.3,877.8 380.8,855.3 382.2,840.0 383.7,832.6 385.1,837.4 386.6,845.5 388.0,844.5 389.5,845.1 390.9,842.9 392.4,849.2 393.8,850.2 395.3,861.0 396.7,865.3 398.2,851.3 399.6,836.7 401.1,832.8 402.5,834.6 404.0,837.9 405.4,837.5 406.9,846.5 408.3,845.1 409.8,843.8 411.2,841.4 412.7,838.5 414.1,839.2 415.6,853.0 417.0,861.6 418.5,857.2 419.9,858.5 421.4,851.1 422.8,852.5 424.3,844.9 425.7,841.8 427.2,837.6 428.6,839.3 430.1,831.6 431.5,839.1 433.0,840.8 434.4,840.8 435.9,850.7 437.3,840.3 438.8,830.9 440.2,843.9 441.7,863.1 443.1,874.9 444.6,899.1 446.0,915.6 447.5,905.8 448.9,895.1 450.4,891.6 451.8,888.3 453.3,896.8 454.7,899.9 456.2,873.4 457.6,847.0 459.1,817.9 460.5,833.3 462.0,841.9 463.4,835.2 464.9,833.7 466.3,843.6 467.8,849.0 469.2,843.2 470.7,834.9 472.1,833.8 473.6,825.9 475.0,832.0 476.5,849.9 477.9,860.8 479.4,864.9 480.8,858.5 482.3,858.1 483.7,863.8 485.2,854.3 486.6,858.7 488.1,848.7 489.5,846.4 491.0,848.1 492.4,840.9 493.9,838.8 495.3,829.6 496.8,832.4 498.2,833.7 499.7,835.8 501.1,845.3 502.6,851.4 504.0,845.0 505.5,860.3 506.9,855.2 508.4,852.7 509.8,852.1 511.3,855.7 512.7,869.6 514.2,860.2 515.6,862.6 517.1,863.7 518.5,865.8 520.0,873.4 521.4,874.1 522.9,875.2 524.3,878.9 525.8,883.4 527.2,885.8 528.7,884.8 530.1,886.5 531.6,881.4 533.0,887.7 534.5,890.3 535.9,885.5 537.4,877.1 538.8,878.0 540.3,868.8 541.7,864.2 543.2,856.8 544.6,862.6 546.1,854.1 547.5,851.3 549.0,851.9 550.4,852.9 551.9,856.4 553.3,851.4 554.8,853.2 556.2,862.3 557.7,869.7 559.1,866.1 560.6,871.4 562.0,874.7 563.5,875.7 564.9,880.6 566.4,883.4 567.8,884.0 569.3,875.7 570.7,867.9 572.2,858.2 573.6,856.7 575.1,851.7 576.5,851.4 578.0,853.2 579.4,850.4 580.9,851.8 582.3,852.7 583.8,850.8 585.2,851.7 586.7,852.0 588.1,852.2 589.6,851.2 591.0,852.8 592.5,854.0 593.9,861.6 595.4,863.5 596.8,865.5 598.3,861.6 599.7,860.9 601.2,854.6 602.6,853.2 604.1,849.0 605.5,842.9 607.0,836.7 608.4,832.7 609.9,830.2 611.3,832.4 612.8,849.4 614.2,864.0 615.7,861.1 617.1,856.1 618.6,853.7 620.0,851.3 621.5,852.2 622.9,854.5 624.4,858.1 625.8,856.7 627.3,856.9 628.7,856.3 630.2,860.0 631.6,861.3 633.1,862.5 634.5,864.2 636.0,868.6 637.4,871.0 638.9,874.7 640.3,874.9 641.8,873.5 643.2,877.9 644.7,875.4 646.1,873.1 647.6,873.5 649.0,866.8 650.5,857.8 651.9,853.9 653.4,843.3 654.8,842.8 656.3,834.7 657.7,831.1 659.2,846.9 660.6,860.1 662.1,881.3 663.5,905.8 665.0,897.1 666.4,891.7 667.9,879.9 669.3,866.3 670.8,858.4 672.2,842.7 673.7,844.8 675.1,839.7 676.6,843.9 678.0,846.7 679.5,867.9 680.9,877.3 682.4,875.7 683.8,877.6 685.3,873.4 686.7,868.5 688.2,861.5 689.6,859.6 691.1,854.8 692.5,847.9 694.0,835.5 695.4,822.6 696.9,825.4 698.3,826.9 699.8,833.2 701.2,834.1 702.7,824.4 704.1,823.5 705.6,849.5 707.0,866.5 708.5,890.0 709.9,882.9 711.4,884.7 712.8,878.9 714.3,876.9 715.7,867.7 717.2,869.5 718.6,862.6 720.1,853.5 721.5,839.5 723.0,831.0 724.4,836.3 725.9,850.1 727.3,868.0 728.8,861.3 730.2,854.3 731.7,857.3 733.1,857.4 734.6,860.2 736.0,869.5 737.5,875.0 738.9,876.8 740.4,881.7 741.8,875.6 743.3,875.3 744.7,870.1 746.2,861.6 747.6,860.9 749.1,850.3 750.5,843.2 752.0,849.0 753.4,840.3 754.9,851.9 756.3,854.4 757.8,849.7 759.2,843.0 760.7,831.6 762.1,834.0 763.6,839.0 765.0,860.6 766.5,857.9 767.9,860.5 769.4,848.5 770.8,853.6 772.3,861.2 773.7,851.9 775.2,843.7 776.6,834.1 778.1,818.1 779.5,826.6 781.0,898.5 782.4,859.7 783.9,822.7 785.3,837.6 786.8,867.4 788.2,871.5 789.7,875.8 791.1,878.4 792.6,872.0 794.0,866.8 795.5,845.9 796.9,839.5 798.4,830.4 799.8,825.8 801.3,823.5 802.7,825.7 804.2,819.9 805.6,819.2 807.1,825.1 808.5,829.9 810.0,836.7 811.4,842.0 812.9,845.4 814.3,853.4 815.8,860.8 817.2,865.4 818.7,878.8 820.1,885.4 821.6,877.9 823.0,864.1 824.5,855.1 825.9,854.2 827.4,871.9 828.8,888.0 830.3,901.0 831.7,888.3 833.2,874.2 834.6,877.3 836.1,873.5 837.5,877.4 839.0,877.4 840.4,868.3 841.9,869.4 843.3,864.9 844.8,873.7 846.2,871.2 847.7,873.1 849.1,882.9 850.6,869.4 852.0,850.7 853.5,842.3 854.9,824.4 856.4,818.8 857.8,805.0 859.3,811.3 860.7,810.1 862.2,822.3 863.6,841.1 865.1,842.8 866.5,844.6 868.0,858.6 869.4,867.7 870.9,878.7 872.3,892.9 873.8,884.2 875.2,872.5 876.7,862.7 878.1,843.9 879.6,828.0 881.0,834.9 882.5,837.3 883.9,837.2 885.4,837.0 886.8,841.1 888.3,842.5 889.7,842.2 891.2,847.0 892.6,849.3 894.1,852.1 895.5,848.7 897.0,833.6 898.4,831.2 899.9,829.3 901.3,834.9 902.8,847.4 904.2,850.8 905.7,856.2 907.1,857.6 908.6,861.1 910.0,866.8 911.5,879.7 912.9,881.3 914.4,878.8 915.8,882.8 917.3,870.8 918.7,870.8 920.2,865.4 921.6,858.6 923.1,857.9 924.5,858.0 926.0,857.3 927.4,861.1 928.9,872.1 930.3,878.9 931.8,891.1 933.2,878.0 934.7,849.6 936.1,836.0 937.6,845.0 939.0,863.1 940.5,874.0 941.9,886.5 943.4,888.7 944.8,883.5 946.3,880.0 947.7,864.3 949.2,854.3 950.6,834.9 952.1,829.6 953.5,816.0 955.0,817.0 956.4,825.1 957.9,826.9 959.3,834.8 960.8,842.7 962.2,844.0 963.7,830.6 965.1,838.5 966.6,841.9 968.0,831.2 969.5,820.1 970.9,823.8 972.4,839.0 973.8,857.2 975.3,877.7 976.7,889.2 978.2,888.1 979.6,878.5 981.1,870.2 982.5,865.5 984.0,854.2 985.4,855.8 986.9,845.6 988.3,839.7 989.8,834.2 991.2,841.6 992.7,847.6 994.1,854.2 995.6,856.0 997.0,851.3 998.5,849.1 999.9,856.4 1001.4,867.5 1002.8,873.0 1004.3,867.0 1005.7,864.9 1007.2,873.6 1008.6,883.1 1010.1,897.0 1011.5,893.5 1013.0,880.4 1014.4,877.8 1015.9,863.7 1017.3,863.3 1018.8,872.8 1020.2,875.8 1021.7,876.0 1023.1,865.6 1024.6,845.8 1026.0,826.8 1027.5,805.1 1028.9,809.7 1030.4,823.1 1031.8,836.9 1033.3,858.4 1034.7,860.8 1036.2,874.6 1037.6,884.3 1039.1,878.3 1040.5,870.6 1042.0,855.0 1043.4,851.3 1044.9,839.8 1046.3,832.5 1047.8,830.3 1049.2,820.9 1050.7,821.5 1052.1,829.5 1053.6,838.7 1055.0,841.2 1056.5,846.3 1057.9,842.3 1059.4,844.5 1060.8,849.0 1062.3,850.3 1063.7,846.0 1065.2,838.8 1066.6,835.5 1068.1,841.8 1069.5,857.6 1071.0,858.9 1072.4,866.8 1073.9,875.8 1075.3,881.3 1076.8,881.6 1078.2,887.5 1079.7,875.9 1081.1,867.7 1082.6,865.8 1084.0,866.9 1085.5,874.9 1086.9,877.6 1088.4,865.3 1089.8,852.6 1091.3,846.7 1092.7,843.2 1094.2,849.8 1095.6,855.8 1097.1,863.7 1098.5,879.0 1100.0,892.9 1101.4,899.1 1102.9,905.6 1104.3,882.0 1105.8,867.2 1107.2,854.3 1108.7,843.3 1110.1,847.1 1111.6,834.7 1113.0,843.6 1114.5,851.5 1115.9,863.5 1117.4,859.1 1118.8,860.3 1120.3,859.7 1121.7,853.8 1123.2,840.4 1124.6,851.3 1126.1,859.4 1127.5,871.3 1129.0,870.0 1130.4,869.1 1131.9,861.9 1133.3,869.9 1134.8,881.9 1136.2,885.3 1137.7,895.6 1139.1,895.2 1140.6,888.4 1142.0,880.8 1143.5,882.8 1144.9,883.1 1146.4,885.0 1147.8,874.7 1149.3,876.6"/>
<polyline fill="none" stroke="#0000b4" stroke-width="1.45" stroke-linejoin="miter" stroke-miterlimit="4" points="127.0,880.5 128.5,877.4 129.9,861.8 131.4,859.2 132.8,859.6 134.3,872.0 135.7,871.1 137.2,832.0 138.6,830.3 140.1,884.9 141.5,917.9 143.0,901.8 144.4,890.8 145.9,872.5 147.3,853.5 148.8,833.1 150.2,847.6 151.7,872.6 153.1,870.7 154.6,865.9 156.0,858.0 157.5,846.5 158.9,836.6 160.4,848.8 161.8,872.5 163.3,892.8 164.7,899.3 166.2,897.2 167.6,900.5 169.1,885.0 170.5,875.0 172.0,855.4 173.4,848.3 174.9,867.4 176.3,865.5 177.8,882.7 179.2,891.4 180.7,896.3 182.1,905.2 183.6,891.8 185.0,879.9 186.5,861.0 187.9,852.3 189.4,851.9 190.8,850.7 192.3,866.8 193.7,880.3 195.2,902.7 196.6,908.1 198.1,923.1 199.5,903.5 201.0,878.6 202.4,895.4 203.9,886.1 205.3,894.1 206.8,898.9 208.2,913.5 209.7,906.7 211.1,920.2 212.6,904.7 214.0,894.7 215.5,886.1 216.9,896.0 218.4,895.3 219.8,892.5 221.3,879.5 222.7,871.0 224.2,841.5 225.6,868.2 227.1,885.1 228.5,877.5 230.0,876.4 231.4,871.2 232.9,876.6 234.3,871.4 235.8,869.9 237.2,870.3 238.7,875.4 240.1,887.0 241.6,888.7 243.0,889.6 244.5,866.4 245.9,844.4 247.4,861.5 248.8,874.2 250.3,886.7 251.7,894.6 253.2,902.8 254.6,890.2 256.1,879.1 257.5,859.8 259.0,858.7 260.4,878.9 261.9,887.0 263.3,883.6 264.8,897.2 266.2,897.0 267.7,888.4 269.1,874.4 270.6,869.6 272.0,857.2 273.5,852.1 274.9,847.9 276.4,848.1 277.8,853.3 279.3,848.1 280.7,851.2 282.2,866.8 283.6,875.4 285.1,877.5 286.5,873.4 288.0,872.2 289.4,882.2 290.9,883.6 292.3,870.2 293.8,867.5 295.2,875.0 296.7,878.3 298.1,881.9 299.6,877.1 301.0,870.4 302.5,865.4 303.9,864.8 305.4,863.4 306.8,864.6 308.3,859.0 309.7,848.9 311.2,833.3 312.6,824.6 314.1,842.1 315.5,873.3 317.0,890.3 318.4,883.2 319.9,880.5 321.3,877.9 322.8,877.6 324.2,862.9 325.7,859.3 327.1,846.3 328.6,850.6 330.0,849.0 331.5,850.8 332.9,860.8 334.4,878.0 335.8,886.4 337.3,884.5 338.7,877.8 340.2,874.5 341.6,881.8 343.1,889.4 344.5,885.1 346.0,865.3 347.4,847.2 348.9,854.1 350.3,879.3 351.8,898.0 353.2,898.9 354.7,882.6 356.1,866.7 357.6,862.5 359.0,857.6 360.5,845.7 361.9,841.1 363.4,838.4 364.8,836.8 366.3,840.0 367.7,846.0 369.2,839.3 370.6,849.0 372.1,856.8 373.5,861.2 375.0,861.4 376.4,877.1 377.9,871.9 379.3,865.7 380.8,856.5 382.2,848.1 383.7,859.1 385.1,872.3 386.6,871.6 388.0,859.7 389.5,861.6 390.9,871.0 392.4,876.2 393.8,880.6 395.3,857.0 396.7,846.2 398.2,838.5 399.6,846.8 401.1,872.6 402.5,883.1 404.0,874.8 405.4,869.6 406.9,856.6 408.3,851.6 409.8,842.8 411.2,839.9 412.7,853.6 414.1,860.1 415.6,864.3 417.0,855.3 418.5,850.1 419.9,847.4 421.4,841.8 422.8,844.0 424.3,833.1 425.7,838.3 427.2,831.3 428.6,840.4 430.1,838.3 431.5,860.3 433.0,870.7 434.4,884.5 435.9,884.7 437.3,865.8 438.8,869.3 440.2,885.7 441.7,856.9 443.1,852.2 444.6,865.7 446.0,882.3 447.5,889.2 448.9,873.9 450.4,875.0 451.8,870.8 453.3,883.2 454.7,886.2 456.2,856.6 457.6,822.1 459.1,848.5 460.5,864.2 462.0,851.0 463.4,847.8 464.9,848.8 466.3,849.1 467.8,846.2 469.2,846.5 470.7,839.2 472.1,830.1 473.6,847.5 475.0,852.2 476.5,868.2 477.9,870.6 479.4,866.6 480.8,865.2 482.3,861.7 483.7,863.3 485.2,864.8 486.6,871.3 488.1,859.9 489.5,858.7 491.0,860.8 492.4,864.1 493.9,875.0 495.3,875.0 496.8,876.8 498.2,866.2 499.7,860.8 501.1,864.8 502.6,871.4 504.0,876.3 505.5,880.1 506.9,872.8 508.4,860.1 509.8,856.8 511.3,852.8 512.7,844.2 514.2,846.8 515.6,841.7 517.1,832.5 518.5,832.4 520.0,827.0 521.4,830.6 522.9,839.8 524.3,837.3 525.8,845.9 527.2,846.2 528.7,858.0 530.1,859.0 531.6,866.1 533.0,863.2 534.5,868.3 535.9,877.1 537.4,879.7 538.8,870.0 540.3,875.4 541.7,875.2 543.2,868.0 544.6,870.1 546.1,856.0 547.5,851.4 549.0,861.7 550.4,877.4 551.9,891.3 553.3,875.5 554.8,858.4 556.2,855.1 557.7,854.7 559.1,863.1 560.6,868.2 562.0,876.0 563.5,875.5 564.9,873.5 566.4,870.9 567.8,868.8 569.3,872.6 570.7,879.7 572.2,886.1 573.6,889.8 575.1,885.3 576.5,884.4 578.0,879.8 579.4,880.6 580.9,881.3 582.3,879.0 583.8,877.5 585.2,880.9 586.7,881.4 588.1,883.1 589.6,882.5 591.0,878.1 592.5,872.2 593.9,871.1 595.4,869.0 596.8,867.6 598.3,863.1 599.7,866.7 601.2,867.8 602.6,866.0 604.1,867.1 605.5,868.8 607.0,870.6 608.4,866.9 609.9,864.4 611.3,859.2 612.8,856.3 614.2,859.2 615.7,864.1 617.1,866.1 618.6,869.7 620.0,869.7 621.5,866.2 622.9,863.5 624.4,859.0 625.8,855.6 627.3,857.1 628.7,860.0 630.2,861.9 631.6,864.3 633.1,863.4 634.5,862.3 636.0,863.6 637.4,864.0 638.9,862.8 640.3,866.5 641.8,864.2 643.2,862.9 644.7,859.1 646.1,855.9 647.6,865.3 649.0,868.6 650.5,872.5 651.9,873.7 653.4,879.7 654.8,880.2 656.3,888.2 657.7,882.1 659.2,866.8 660.6,864.6 662.1,863.8 663.5,841.8 665.0,837.5 666.4,826.0 667.9,833.4 669.3,840.1 670.8,834.1 672.2,822.4 673.7,821.8 675.1,825.7 676.6,829.6 678.0,833.9 679.5,856.1 680.9,866.8 682.4,871.6 683.8,858.2 685.3,861.3 686.7,859.0 688.2,871.4 689.6,880.2 691.1,882.5 692.5,888.1 694.0,903.7 695.4,898.1 696.9,873.6 698.3,854.4 699.8,837.5 701.2,847.7 702.7,858.6 704.1,852.2 705.6,845.0 707.0,822.0 708.5,818.8 709.9,840.8 711.4,842.3 712.8,846.9 714.3,851.3 715.7,853.3 717.2,860.6 718.6,865.9 720.1,857.9 721.5,858.1 723.0,865.3 724.4,856.2 725.9,860.7 727.3,861.6 728.8,863.1 730.2,873.3 731.7,862.1 733.1,845.2 734.6,844.5 736.0,849.3 737.5,861.9 738.9,876.8 740.4,879.8 741.8,879.1 743.3,878.1 744.7,871.0 746.2,867.3 747.6,861.2 749.1,853.4 750.5,848.1 752.0,845.9 753.4,843.0 754.9,851.3 756.3,859.2 757.8,864.2 759.2,865.1 760.7,866.9 762.1,876.1 763.6,871.8 765.0,858.8 766.5,837.1 767.9,825.7 769.4,823.8 770.8,823.4 772.3,825.9 773.7,836.8 775.2,847.4 776.6,849.0 778.1,841.4 779.5,865.2 781.0,893.8 782.4,889.4 783.9,887.2 785.3,881.7 786.8,871.4 788.2,868.2 789.7,865.1 791.1,862.5 792.6,862.2 794.0,871.5 795.5,901.9 796.9,913.3 798.4,869.4 799.8,831.3 801.3,834.8 802.7,851.5 804.2,879.3 805.6,884.1 807.1,878.7 808.5,874.5 810.0,869.5 811.4,877.3 812.9,888.5 814.3,900.6 815.8,894.8 817.2,871.3 818.7,844.5 820.1,827.0 821.6,829.0 823.0,837.4 824.5,846.5 825.9,840.2 827.4,833.0 828.8,825.1 830.3,848.0 831.7,878.7 833.2,880.3 834.6,874.9 836.1,875.0 837.5,860.8 839.0,857.6 840.4,849.9 841.9,855.2 843.3,849.4 844.8,840.8 846.2,832.0 847.7,823.2 849.1,828.4 850.6,833.4 852.0,851.5 853.5,869.6 854.9,877.4 856.4,896.0 857.8,882.2 859.3,859.7 860.7,879.5 862.2,899.0 863.6,890.5 865.1,885.5 866.5,871.1 868.0,862.7 869.4,852.6 870.9,842.9 872.3,829.0 873.8,822.8 875.2,821.7 876.7,809.3 878.1,820.4 879.6,820.5 881.0,819.9 882.5,826.6 883.9,826.3 885.4,828.5 886.8,839.7 888.3,845.0 889.7,856.3 891.2,852.3 892.6,848.4 894.1,848.1 895.5,862.1 897.0,867.6 898.4,872.6 899.9,875.5 901.3,877.8 902.8,884.9 904.2,891.0 905.7,888.6 907.1,883.5 908.6,873.7 910.0,862.8 911.5,854.8 912.9,842.3 914.4,851.2 915.8,865.2 917.3,869.5 918.7,867.6 920.2,856.7 921.6,859.3 923.1,857.6 924.5,855.9 926.0,856.5 927.4,848.6 928.9,864.2 930.3,876.3 931.8,879.8 933.2,847.3 934.7,835.3 936.1,856.2 937.6,866.0 939.0,890.3 940.5,892.4 941.9,881.0 943.4,865.7 944.8,858.8 946.3,834.5 947.7,829.0 949.2,817.7 950.6,823.4 952.1,822.4 953.5,830.0 955.0,835.1 956.4,841.3 957.9,845.0 959.3,849.5 960.8,851.4 962.2,846.3 963.7,841.2 965.1,848.2 966.6,868.4 968.0,879.4 969.5,895.1 970.9,896.7 972.4,895.5 973.8,895.3 975.3,885.5 976.7,862.6 978.2,852.5 979.6,850.4 981.1,856.6 982.5,851.1 984.0,846.1 985.4,846.1 986.9,840.5 988.3,837.9 989.8,841.9 991.2,847.3 992.7,856.9 994.1,864.6 995.6,868.5 997.0,866.4 998.5,870.4 999.9,873.7 1001.4,874.7 1002.8,878.5 1004.3,875.3 1005.7,865.2 1007.2,856.2 1008.6,852.9 1010.1,875.0 1011.5,888.8 1013.0,891.5 1014.4,892.7 1015.9,901.5 1017.3,910.1 1018.8,899.1 1020.2,890.8 1021.7,895.9 1023.1,896.6 1024.6,886.0 1026.0,859.4 1027.5,845.9 1028.9,872.5 1030.4,892.2 1031.8,886.9 1033.3,879.3 1034.7,872.9 1036.2,851.0 1037.6,839.8 1039.1,819.9 1040.5,826.4 1042.0,836.9 1043.4,844.1 1044.9,835.1 1046.3,827.4 1047.8,821.1 1049.2,824.0 1050.7,830.5 1052.1,851.5 1053.6,858.9 1055.0,866.5 1056.5,870.7 1057.9,871.7 1059.4,869.8 1060.8,872.4 1062.3,868.7 1063.7,872.9 1065.2,873.4 1066.6,883.0 1068.1,871.4 1069.5,858.9 1071.0,832.8 1072.4,826.8 1073.9,829.8 1075.3,830.8 1076.8,840.0 1078.2,847.0 1079.7,854.7 1081.1,862.5 1082.6,876.2 1084.0,863.7 1085.5,851.7 1086.9,834.4 1088.4,837.6 1089.8,835.0 1091.3,829.4 1092.7,827.0 1094.2,818.5 1095.6,823.8 1097.1,817.1 1098.5,820.6 1100.0,811.2 1101.4,803.2 1102.9,800.4 1104.3,794.8 1105.8,792.7 1107.2,812.6 1108.7,829.4 1110.1,831.5 1111.6,830.4 1113.0,837.5 1114.5,840.5 1115.9,849.1 1117.4,859.7 1118.8,868.1 1120.3,875.2 1121.7,874.1 1123.2,885.4 1124.6,889.4 1126.1,890.2 1127.5,894.0 1129.0,903.9 1130.4,897.6 1131.9,897.4 1133.3,895.0 1134.8,876.1 1136.2,868.5 1137.7,867.3 1139.1,872.8 1140.6,881.0 1142.0,876.8 1143.5,869.3 1144.9,862.5 1146.4,858.1 1147.8,855.3 1149.3,855.0"/>
<polyline fill="none" stroke="#000" stroke-width="1.45" stroke-linejoin="miter" stroke-miterlimit="4" points="127.0,792.2 128.5,802.7 129.9,808.2 131.4,819.2 132.8,831.1 134.3,835.2 135.7,827.2 137.2,806.1 138.6,794.6 140.1,779.3 141.5,773.9 143.0,788.5 144.4,794.8 145.9,776.1 147.3,787.0 148.8,808.3 150.2,815.5 151.7,789.6 153.1,796.6 154.6,804.1 156.0,813.4 157.5,830.6 158.9,825.4 160.4,808.1 161.8,805.9 163.3,798.9 164.7,799.5 166.2,803.6 167.6,803.2 169.1,795.5 170.5,791.8 172.0,806.7 173.4,827.8 174.9,821.5 176.3,811.8 177.8,806.4 179.2,805.8 180.7,795.5 182.1,800.4 183.6,789.2 185.0,785.0 186.5,786.2 187.9,781.9 189.4,788.1 190.8,799.7 192.3,809.4 193.7,806.5 195.2,792.7 196.6,787.1 198.1,773.7 199.5,783.3 201.0,801.2 202.4,803.3 203.9,801.9 205.3,801.2 206.8,796.0 208.2,789.5 209.7,787.5 211.1,780.2 212.6,787.3 214.0,793.4 215.5,810.6 216.9,814.3 218.4,824.8 219.8,814.2 221.3,801.7 222.7,795.2 224.2,802.9 225.6,816.6 227.1,816.3 228.5,822.5 230.0,829.7 231.4,832.1 232.9,831.1 234.3,826.0 235.8,814.5 237.2,822.1 238.7,814.8 240.1,821.1 241.6,817.2 243.0,833.4 244.5,834.8 245.9,827.8 247.4,807.6 248.8,784.4 250.3,783.7 251.7,788.1 253.2,797.4 254.6,809.5 256.1,816.2 257.5,815.0 259.0,818.7 260.4,814.2 261.9,836.2 263.3,840.0 264.8,829.5 266.2,821.2 267.7,814.8 269.1,817.4 270.6,815.5 272.0,820.2 273.5,826.0 274.9,834.8 276.4,838.4 277.8,845.3 279.3,844.8 280.7,842.2 282.2,837.2 283.6,831.1 285.1,825.6 286.5,828.4 288.0,823.7 289.4,818.7 290.9,832.7 292.3,830.0 293.8,831.2 295.2,830.9 296.7,826.0 298.1,830.6 299.6,825.5 301.0,822.8 302.5,829.7 303.9,834.5 305.4,835.2 306.8,833.5 308.3,837.7 309.7,830.2 311.2,818.4 312.6,822.0 314.1,826.3 315.5,830.8 317.0,838.4 318.4,829.6 319.9,826.9 321.3,811.9 322.8,808.1 324.2,820.0 325.7,822.6 327.1,827.4 328.6,820.1 330.0,819.9 331.5,811.5 332.9,813.4 334.4,804.9 335.8,806.2 337.3,811.4 338.7,818.0 340.2,828.8 341.6,821.6 343.1,799.5 344.5,792.8 346.0,812.2 347.4,823.1 348.9,816.1 350.3,809.5 351.8,792.9 353.2,794.6 354.7,800.9 356.1,812.7 357.6,832.6 359.0,829.5 360.5,820.8 361.9,825.2 363.4,810.8 364.8,803.5 366.3,806.0 367.7,815.5 369.2,820.2 370.6,831.4 372.1,824.6 373.5,824.7 375.0,822.2 376.4,809.1 377.9,808.4 379.3,821.0 380.8,822.1 382.2,824.5 383.7,819.9 385.1,815.0 386.6,825.1 388.0,837.4 389.5,822.5 390.9,813.1 392.4,797.5 393.8,815.7 395.3,821.4 396.7,827.9 398.2,818.6 399.6,811.2 401.1,803.1 402.5,819.0 404.0,819.3 405.4,820.0 406.9,817.7 408.3,815.1 409.8,822.1 411.2,825.0 412.7,832.1 414.1,839.6 415.6,832.6 417.0,836.2 418.5,836.3 419.9,830.3 421.4,819.7 422.8,826.2 424.3,818.6 425.7,815.9 427.2,811.4 428.6,806.3 430.1,810.3 431.5,816.9 433.0,817.4 434.4,823.5 435.9,829.5 437.3,829.1 438.8,814.9 440.2,797.0 441.7,800.7 443.1,803.8 444.6,796.7 446.0,784.2 447.5,790.0 448.9,795.1 450.4,798.5 451.8,806.7 453.3,792.4 454.7,775.7 456.2,795.6 457.6,803.6 459.1,812.9 460.5,811.3 462.0,810.9 463.4,801.4 464.9,803.5 466.3,806.3 467.8,817.1 469.2,817.1 470.7,821.8 472.1,826.4 473.6,828.5 475.0,825.1 476.5,827.6 477.9,814.3 479.4,818.0 480.8,817.5 482.3,819.3 483.7,823.0 485.2,838.1 486.6,835.3 488.1,848.9 489.5,848.1 491.0,838.9 492.4,831.2 493.9,823.5 495.3,820.2 496.8,831.0 498.2,816.2 499.7,821.0 501.1,817.0 502.6,835.6 504.0,841.2 505.5,837.9 506.9,830.7 508.4,826.1 509.8,819.1 511.3,819.2 512.7,828.1 514.2,835.1 515.6,833.8 517.1,829.0 518.5,823.7 520.0,817.5 521.4,820.9 522.9,815.6 524.3,812.4 525.8,816.1 527.2,819.7 528.7,821.0 530.1,811.8 531.6,820.6 533.0,819.0 534.5,819.7 535.9,811.2 537.4,816.7 538.8,819.2 540.3,821.9 541.7,832.7 543.2,828.3 544.6,833.5 546.1,827.5 547.5,834.1 549.0,825.0 550.4,812.8 551.9,813.8 553.3,817.4 554.8,829.4 556.2,832.5 557.7,815.3 559.1,819.9 560.6,815.4 562.0,813.3 563.5,811.6 564.9,810.9 566.4,810.7 567.8,811.1 569.3,814.8 570.7,811.8 572.2,812.9 573.6,815.3 575.1,817.8 576.5,821.4 578.0,821.8 579.4,819.8 580.9,821.1 582.3,822.2 583.8,819.3 585.2,816.9 586.7,817.3 588.1,816.7 589.6,817.8 591.0,820.8 592.5,823.9 593.9,827.2 595.4,829.7 596.8,829.3 598.3,829.0 599.7,829.3 601.2,834.6 602.6,833.6 604.1,831.7 605.5,833.7 607.0,831.7 608.4,831.5 609.9,827.5 611.3,828.3 612.8,831.6 614.2,836.6 615.7,834.7 617.1,832.7 618.6,833.1 620.0,834.1 621.5,835.0 622.9,839.8 624.4,844.4 625.8,846.9 627.3,846.7 628.7,841.4 630.2,837.6 631.6,833.7 633.1,830.7 634.5,831.0 636.0,829.0 637.4,826.9 638.9,825.8 640.3,827.0 641.8,833.3 643.2,838.0 644.7,841.6 646.1,847.6 647.6,839.1 649.0,830.7 650.5,840.7 651.9,835.0 653.4,821.6 654.8,812.8 656.3,802.4 657.7,813.6 659.2,814.2 660.6,811.2 662.1,805.2 663.5,799.2 665.0,800.6 666.4,808.4 667.9,817.6 669.3,821.8 670.8,816.0 672.2,820.0 673.7,819.9 675.1,820.9 676.6,818.9 678.0,816.8 679.5,826.3 680.9,828.1 682.4,823.0 683.8,820.6 685.3,825.9 686.7,833.2 688.2,828.1 689.6,827.8 691.1,813.2 692.5,803.1 694.0,795.0 695.4,802.3 696.9,803.9 698.3,819.0 699.8,826.0 701.2,805.6 702.7,799.3 704.1,807.2 705.6,822.7 707.0,825.0 708.5,814.8 709.9,825.3 711.4,823.6 712.8,828.0 714.3,832.0 715.7,823.5 717.2,806.9 718.6,813.1 720.1,818.9 721.5,823.1 723.0,816.9 724.4,806.8 725.9,804.8 727.3,817.0 728.8,826.3 730.2,826.4 731.7,824.9 733.1,822.3 734.6,803.6 736.0,794.6 737.5,810.8 738.9,808.7 740.4,810.4 741.8,817.5 743.3,808.5 744.7,820.4 746.2,818.1 747.6,825.2 749.1,831.0 750.5,837.0 752.0,836.5 753.4,842.3 754.9,839.0 756.3,842.9 757.8,838.8 759.2,824.3 760.7,825.1 762.1,829.0 763.6,834.9 765.0,835.1 766.5,829.7 767.9,823.4 769.4,807.0 770.8,812.5 772.3,813.7 773.7,824.5 775.2,808.5 776.6,792.3 778.1,776.8 779.5,776.5 781.0,776.0 782.4,791.4 783.9,802.4 785.3,810.4 786.8,816.9 788.2,813.0 789.7,809.3 791.1,806.1 792.6,822.5 794.0,825.1 795.5,794.6 796.9,778.2 798.4,801.7 799.8,816.1 801.3,813.8 802.7,797.3 804.2,802.6 805.6,806.4 807.1,802.5 808.5,811.0 810.0,823.7 811.4,824.6 812.9,818.3 814.3,812.0 815.8,806.0 817.2,805.6 818.7,803.3 820.1,805.9 821.6,801.6 823.0,795.7 824.5,785.3 825.9,789.8 827.4,797.1 828.8,808.5 830.3,813.6 831.7,803.5 833.2,809.3 834.6,814.9 836.1,818.0 837.5,819.2 839.0,831.0 840.4,832.1 841.9,834.2 843.3,840.8 844.8,831.9 846.2,819.0 847.7,810.9 849.1,804.4 850.6,809.7 852.0,810.0 853.5,809.6 854.9,799.0 856.4,788.5 857.8,792.4 859.3,807.1 860.7,811.5 862.2,803.3 863.6,801.7 865.1,819.7 866.5,833.2 868.0,843.6 869.4,829.8 870.9,825.5 872.3,809.1 873.8,800.6 875.2,811.0 876.7,812.0 878.1,817.2 879.6,825.9 881.0,831.0 882.5,827.6 883.9,827.6 885.4,830.1 886.8,833.1 888.3,832.5 889.7,826.9 891.2,842.1 892.6,834.6 894.1,833.2 895.5,827.2 897.0,815.8 898.4,810.4 899.9,818.5 901.3,816.9 902.8,808.0 904.2,808.8 905.7,813.1 907.1,824.0 908.6,822.4 910.0,825.4 911.5,816.6 912.9,819.6 914.4,817.0 915.8,814.4 917.3,821.9 918.7,821.8 920.2,830.5 921.6,833.2 923.1,843.5 924.5,846.5 926.0,838.7 927.4,840.6 928.9,823.9 930.3,807.3 931.8,806.2 933.2,811.2 934.7,814.4 936.1,808.1 937.6,802.9 939.0,796.5 940.5,807.9 941.9,811.4 943.4,811.0 944.8,804.7 946.3,817.6 947.7,811.9 949.2,810.0 950.6,811.6 952.1,816.6 953.5,809.9 955.0,804.3 956.4,817.7 957.9,829.3 959.3,835.3 960.8,843.9 962.2,839.2 963.7,841.0 965.1,836.9 966.6,830.4 968.0,814.5 969.5,807.8 970.9,797.0 972.4,788.4 973.8,793.1 975.3,801.1 976.7,809.0 978.2,806.2 979.6,813.0 981.1,827.3 982.5,836.3 984.0,831.2 985.4,834.1 986.9,827.3 988.3,827.5 989.8,835.6 991.2,831.6 992.7,834.5 994.1,836.4 995.6,833.7 997.0,824.8 998.5,829.6 999.9,827.6 1001.4,825.7 1002.8,824.0 1004.3,824.4 1005.7,823.8 1007.2,831.8 1008.6,834.9 1010.1,830.5 1011.5,820.8 1013.0,821.1 1014.4,800.8 1015.9,796.7 1017.3,797.3 1018.8,789.2 1020.2,785.1 1021.7,797.5 1023.1,797.4 1024.6,793.9 1026.0,792.9 1027.5,786.0 1028.9,791.1 1030.4,801.5 1031.8,814.3 1033.3,807.9 1034.7,809.6 1036.2,806.3 1037.6,802.6 1039.1,801.4 1040.5,819.3 1042.0,825.0 1043.4,827.5 1044.9,817.8 1046.3,818.2 1047.8,804.5 1049.2,802.4 1050.7,806.9 1052.1,814.8 1053.6,821.3 1055.0,813.9 1056.5,821.9 1057.9,825.5 1059.4,830.6 1060.8,824.2 1062.3,828.3 1063.7,830.7 1065.2,819.6 1066.6,821.1 1068.1,829.1 1069.5,835.1 1071.0,828.0 1072.4,823.4 1073.9,805.2 1075.3,813.2 1076.8,816.9 1078.2,822.4 1079.7,824.7 1081.1,828.6 1082.6,827.5 1084.0,837.1 1085.5,825.8 1086.9,823.1 1088.4,813.2 1089.8,815.3 1091.3,807.8 1092.7,815.1 1094.2,820.4 1095.6,824.9 1097.1,814.0 1098.5,800.1 1100.0,792.5 1101.4,788.2 1102.9,778.1 1104.3,774.7 1105.8,776.6 1107.2,787.8 1108.7,807.6 1110.1,816.3 1111.6,818.8 1113.0,820.9 1114.5,826.8 1115.9,836.9 1117.4,841.9 1118.8,831.3 1120.3,817.5 1121.7,803.3 1123.2,808.3 1124.6,808.9 1126.1,808.5 1127.5,813.3 1129.0,808.5 1130.4,805.1 1131.9,804.9 1133.3,798.6 1134.8,803.3 1136.2,808.1 1137.7,811.9 1139.1,809.1 1140.6,801.9 1142.0,802.9 1143.5,808.2 1144.9,810.8 1146.4,813.6 1147.8,812.4 1149.3,820.7"/>
<path d="M126.3 922.4h12.5M1150.0 922.4h-12.5M126.3 887.6h12.5M1150.0 887.6h-12.5M126.3 852.8h12.5M1150.0 852.8h-12.5M126.3 818.0h12.5M1150.0 818.0h-12.5M126.3 783.2h12.5M1150.0 783.2h-12.5M126.3 948.5h5.0M1150.0 948.5h-5.0M126.3 939.8h5.0M1150.0 939.8h-5.0M126.3 931.1h5.0M1150.0 931.1h-5.0M126.3 913.7h5.0M1150.0 913.7h-5.0M126.3 905.0h5.0M1150.0 905.0h-5.0M126.3 896.3h5.0M1150.0 896.3h-5.0M126.3 878.9h5.0M1150.0 878.9h-5.0M126.3 870.2h5.0M1150.0 870.2h-5.0M126.3 861.5h5.0M1150.0 861.5h-5.0M126.3 844.1h5.0M1150.0 844.1h-5.0M126.3 835.4h5.0M1150.0 835.4h-5.0M126.3 826.7h5.0M1150.0 826.7h-5.0M126.3 809.3h5.0M1150.0 809.3h-5.0M126.3 800.6h5.0M1150.0 800.6h-5.0M126.3 791.9h5.0M1150.0 791.9h-5.0M126.3 774.5h5.0M1150.0 774.5h-5.0M126.3 765.8h5.0M1150.0 765.8h-5.0M126.3 757.1h5.0M1150.0 757.1h-5.0" stroke="#000" stroke-width="1.5" fill="none"/>
<path d="M228.7 748.4v8.0M228.7 957.2v-8.0M331.0 748.4v8.0M331.0 957.2v-8.0M433.4 748.4v8.0M433.4 957.2v-8.0M535.8 748.4v8.0M535.8 957.2v-8.0M638.1 748.4v26.0M638.1 957.2v-26.0M740.5 748.4v8.0M740.5 957.2v-8.0M842.9 748.4v8.0M842.9 957.2v-8.0M945.3 748.4v8.0M945.3 957.2v-8.0M1047.6 748.4v8.0M1047.6 957.2v-8.0" stroke="#000" stroke-width="1.7" fill="none"/>
<rect x="126.3" y="748.4" width="1023.7" height="208.8" fill="none" stroke="#000" stroke-width="1.7"/>
<text transform="translate(118.6,760.8) scale(0.975,1)" font-family='"DejaVu Sans","Liberation Sans",sans-serif' font-size="34" text-anchor="end" fill="#000" font-weight="normal">60</text>
<text transform="translate(118.6,795.6) scale(0.975,1)" font-family='"DejaVu Sans","Liberation Sans",sans-serif' font-size="34" text-anchor="end" fill="#000" font-weight="normal">40</text>
<text transform="translate(118.6,830.4) scale(0.975,1)" font-family='"DejaVu Sans","Liberation Sans",sans-serif' font-size="34" text-anchor="end" fill="#000" font-weight="normal">20</text>
<text transform="translate(118.6,865.2) scale(0.975,1)" font-family='"DejaVu Sans","Liberation Sans",sans-serif' font-size="34" text-anchor="end" fill="#000" font-weight="normal">0</text>
<text transform="translate(118.6,900.0) scale(0.975,1)" font-family='"DejaVu Sans","Liberation Sans",sans-serif' font-size="34" text-anchor="end" fill="#000" font-weight="normal">–20</text>
<text transform="translate(118.6,934.8) scale(0.975,1)" font-family='"DejaVu Sans","Liberation Sans",sans-serif' font-size="34" text-anchor="end" fill="#000" font-weight="normal">–40</text>
<text transform="translate(118.6,969.6) scale(0.975,1)" font-family='"DejaVu Sans","Liberation Sans",sans-serif' font-size="34" text-anchor="end" fill="#000" font-weight="normal">–60</text>
<line x1="126.3" y1="1343.6" x2="1150.0" y2="1343.6" stroke="#000" stroke-width="1.5" stroke-dasharray="9 5"/>
<polyline fill="none" stroke="#ff0000" stroke-width="2.5" stroke-linejoin="miter" stroke-miterlimit="4" points="126.3,1368.1 132.0,1365.7 138.0,1362.1 145.0,1356.5 153.0,1357.1 161.0,1357.5 168.6,1366.5 176.0,1363.5 184.1,1370.7 191.7,1370.5 199.5,1372.7 207.1,1370.1 214.7,1372.1 222.5,1365.1 230.1,1368.7 237.7,1372.5 245.5,1374.7 252.7,1375.1 260.7,1369.7 268.1,1370.5 276.1,1375.7 283.7,1379.7 291.1,1381.1 298.7,1375.1 306.5,1380.5 313.8,1385.1 321.6,1375.1 329.6,1375.5 337.2,1382.1 344.8,1384.5 352.2,1385.7 360.2,1383.1 367.8,1379.5 375.2,1376.5 383.6,1375.1 391.0,1373.5 399.0,1370.1 406.6,1371.1 414.0,1373.5 421.6,1372.1 429.4,1371.5 437.1,1371.7 444.7,1377.5 452.5,1379.1 460.1,1376.1 467.7,1376.5 475.5,1377.1 483.1,1377.7 490.7,1378.1 498.5,1378.1 506.1,1375.1 513.7,1376.7 521.5,1384.1 529.1,1383.5 536.7,1383.1 544.5,1387.1 552.1,1396.1 559.8,1401.7 567.6,1402.7 575.2,1399.1 582.8,1397.1 590.6,1401.7 598.2,1392.7 605.8,1394.1 613.6,1391.7 621.2,1387.1 629.0,1383.7 637.0,1382.1 644.4,1385.1 652.0,1381.7 660.0,1376.5 667.4,1374.5 675.4,1375.7 683.1,1377.1 690.5,1380.1 698.1,1380.7 706.1,1385.5 713.7,1388.1 721.5,1397.1 729.1,1406.7 736.7,1410.8 744.5,1415.2 752.1,1419.8 759.7,1424.2 767.5,1429.6 775.1,1426.2 782.7,1418.8 790.5,1409.8 798.1,1399.5 805.7,1387.7 813.6,1385.5 821.2,1381.5 828.8,1377.5 836.6,1376.7 844.2,1376.1 851.8,1379.1 859.6,1380.7 867.2,1380.1 875.0,1374.7 882.4,1368.5 890.0,1370.1 898.0,1374.5 905.6,1380.7 913.0,1382.1 921.0,1384.7 928.6,1388.1 936.5,1390.1 944.1,1389.5 951.7,1388.7 959.5,1388.5 967.1,1386.1 974.7,1386.5 982.5,1386.1 990.1,1387.5 997.7,1385.1 1005.5,1384.5 1013.1,1386.7 1020.7,1386.5 1028.5,1383.5 1036.1,1381.7 1043.7,1383.1 1051.5,1382.7 1059.2,1384.5 1066.8,1380.7 1074.6,1379.1 1082.2,1380.1 1089.8,1381.5 1097.6,1380.7 1105.2,1379.7 1112.8,1378.7 1120.6,1378.5 1128.2,1377.1 1135.7,1373.5 1143.3,1370.5 1149.7,1371.1"/>
<polyline fill="none" stroke="#00aa00" stroke-width="2.5" stroke-linejoin="miter" stroke-miterlimit="4" points="126.3,1357.7 132.0,1362.1 138.0,1365.1 145.0,1370.5 153.0,1375.7 161.0,1376.5 168.6,1371.7 176.4,1378.1 184.1,1376.7 191.7,1377.7 199.5,1378.5 207.1,1380.1 214.7,1377.7 222.5,1380.1 230.1,1379.7 237.7,1379.1 245.5,1378.1 252.7,1381.5 260.7,1376.7 268.1,1377.7 276.1,1385.1 283.7,1388.1 291.1,1388.7 299.1,1390.1 306.5,1388.1 313.8,1386.1 321.6,1387.1 329.6,1382.1 337.2,1381.5 344.8,1381.1 352.2,1382.7 360.2,1381.7 367.8,1378.5 375.2,1375.7 383.6,1372.5 391.0,1374.1 399.0,1372.5 406.6,1371.7 414.0,1372.5 421.6,1375.5 429.4,1374.1 437.1,1372.7 444.7,1374.7 452.5,1375.5 460.1,1380.1 467.7,1382.5 475.5,1379.1 483.1,1378.1 490.7,1379.5 498.5,1380.5 506.1,1383.1 513.7,1385.5 521.5,1377.1 529.1,1373.5 536.7,1386.1 544.5,1379.5 552.1,1374.7 559.8,1370.1 567.6,1370.5 575.2,1369.7 582.8,1370.1 590.6,1366.7 598.2,1372.7 605.8,1369.1 613.6,1368.5 621.2,1372.1 629.0,1374.5 637.0,1375.7 644.4,1375.5 652.0,1378.1 660.0,1382.1 667.4,1381.1 675.4,1374.5 683.1,1373.5 690.5,1371.1 698.1,1377.1 706.1,1378.1 713.7,1384.7 721.5,1385.7 729.1,1380.1 736.7,1383.7 744.5,1378.5 752.1,1374.5 759.7,1371.1 767.5,1372.7 775.1,1370.5 782.7,1365.7 790.5,1375.1 798.1,1374.5 805.7,1372.5 813.6,1373.5 821.2,1375.7 828.8,1377.1 836.6,1375.7 844.2,1374.7 851.8,1375.1 859.6,1376.1 867.2,1377.1 875.0,1376.7 882.4,1379.1 890.0,1381.5 898.0,1378.7 905.6,1371.5 913.0,1369.5 921.0,1369.5 928.6,1370.1 936.5,1370.7 944.1,1371.5 951.7,1370.5 959.5,1371.1 967.1,1371.7 974.7,1367.7 982.5,1366.1 990.1,1370.1 997.7,1373.7 1005.5,1373.5 1013.1,1372.7 1020.7,1374.5 1028.5,1376.7 1036.1,1376.5 1043.7,1377.1 1051.5,1379.5 1059.2,1377.1 1066.8,1380.1 1074.6,1382.7 1082.2,1382.7 1089.8,1382.5 1097.6,1381.5 1105.2,1380.7 1112.8,1381.7 1120.6,1381.1 1128.2,1383.1 1135.7,1381.9 1143.3,1381.5 1149.7,1383.1"/>
<polyline fill="none" stroke="#0000b4" stroke-width="2.5" stroke-linejoin="miter" stroke-miterlimit="4" points="126.3,1340.5 130.0,1340.5 138.0,1345.7 145.0,1349.1 153.0,1350.7 161.0,1352.1 168.6,1349.7 176.4,1348.1 184.1,1344.7 190.1,1341.7 199.5,1335.1 207.1,1334.1 214.7,1335.5 222.5,1338.1 230.1,1335.5 237.7,1336.7 245.5,1338.5 252.7,1337.7 260.7,1337.1 268.1,1337.7 276.1,1339.1 283.7,1336.1 291.1,1339.1 299.1,1341.1 306.5,1337.1 313.8,1338.7 321.6,1340.7 329.6,1343.1 337.2,1342.5 344.8,1342.5 352.2,1346.5 360.2,1347.7 367.8,1353.1 375.2,1355.5 383.6,1356.7 391.0,1355.1 399.0,1351.5 406.6,1350.7 414.0,1353.1 421.6,1349.7 429.4,1346.5 437.1,1342.1 444.7,1342.7 452.5,1344.5 460.1,1349.5 467.7,1353.5 475.5,1353.1 483.1,1350.1 490.7,1346.1 498.5,1343.7 506.1,1342.1 513.7,1344.1 521.5,1348.1 529.1,1348.5 536.7,1346.1 544.5,1354.7 552.1,1353.1 559.8,1349.7 567.6,1349.5 575.2,1352.7 582.8,1350.7 590.6,1346.7 598.2,1340.1 605.8,1336.1 613.6,1331.7 621.2,1327.1 629.0,1332.5 637.0,1337.1 644.4,1342.1 652.0,1342.1 660.0,1347.7 667.4,1350.1 675.4,1352.5 683.1,1348.1 690.5,1341.1 698.1,1335.5 706.1,1341.7 713.7,1344.7 721.5,1347.1 729.1,1346.7 736.7,1345.7 744.5,1346.5 752.1,1342.7 759.7,1339.7 767.5,1342.7 775.1,1347.7 782.7,1349.5 790.5,1352.5 798.1,1348.1 805.7,1346.7 813.6,1344.5 821.2,1343.5 828.8,1344.1 836.6,1343.7 844.2,1344.1 851.8,1344.7 859.6,1346.5 867.2,1346.1 875.0,1344.5 882.4,1342.7 890.0,1344.7 898.0,1343.1 905.6,1340.7 913.0,1339.1 921.0,1335.7 928.6,1339.1 936.5,1342.1 944.1,1341.5 951.7,1342.5 959.5,1341.5 967.1,1339.7 974.7,1342.1 982.5,1339.1 990.1,1336.1 997.7,1335.5 1005.5,1336.7 1013.1,1338.7 1020.7,1341.1 1028.5,1343.5 1036.1,1345.1 1043.7,1343.5 1051.5,1341.5 1059.2,1354.1 1066.8,1352.1 1074.6,1350.7 1082.2,1349.1 1089.8,1348.5 1097.6,1350.1 1105.2,1350.7 1112.8,1351.7 1120.6,1351.1 1128.2,1350.1 1135.7,1350.0 1143.3,1351.6 1149.7,1352.2"/>
<polyline fill="none" stroke="#000" stroke-width="2.5" stroke-linejoin="miter" stroke-miterlimit="4" points="126.3,1313.7 132.0,1313.1 138.0,1314.7 145.0,1312.5 153.0,1307.1 161.0,1306.1 168.6,1305.7 176.4,1302.1 184.1,1299.1 191.7,1298.5 199.5,1296.5 207.1,1296.7 214.7,1297.7 222.5,1300.1 230.1,1297.7 237.7,1296.1 245.5,1295.7 252.7,1293.1 260.7,1300.1 268.1,1298.7 276.1,1290.1 283.7,1285.1 291.1,1284.0 299.1,1286.5 306.5,1284.0 313.8,1282.4 321.6,1289.1 329.6,1292.7 337.2,1289.1 344.8,1287.1 352.2,1285.1 360.2,1287.1 367.8,1291.1 375.2,1295.1 383.6,1297.5 391.0,1298.1 399.0,1302.1 406.6,1302.1 414.0,1299.7 421.6,1299.1 429.4,1301.5 437.1,1302.1 444.7,1296.7 452.5,1295.1 460.1,1293.5 467.7,1290.7 475.5,1292.5 483.1,1293.1 490.7,1292.5 498.5,1291.5 506.1,1292.1 513.7,1289.1 521.5,1289.5 529.1,1292.1 536.7,1284.7 544.5,1285.1 552.1,1280.6 559.8,1278.4 567.6,1277.0 575.2,1280.4 582.8,1282.6 590.6,1280.0 598.2,1285.5 605.8,1285.7 613.6,1287.1 621.2,1288.5 629.0,1290.7 637.0,1292.1 644.4,1290.1 652.0,1290.7 660.0,1291.7 667.4,1293.7 675.4,1297.5 683.1,1297.5 690.5,1296.7 698.1,1292.5 706.1,1288.7 713.7,1282.0 721.5,1275.0 729.1,1269.6 736.7,1264.4 744.5,1263.4 752.1,1261.4 759.7,1258.4 767.5,1252.0 775.1,1256.0 782.7,1264.4 790.5,1269.4 798.1,1279.0 805.7,1290.1 813.6,1291.5 821.2,1293.7 828.8,1295.7 836.6,1297.5 844.2,1298.5 851.8,1295.1 859.6,1293.5 867.2,1293.5 875.0,1297.1 882.4,1299.1 890.0,1297.1 898.0,1296.7 913.0,1296.7 921.0,1293.1 928.6,1290.1 936.5,1288.5 944.1,1289.1 951.7,1290.1 959.5,1289.5 967.1,1291.7 974.7,1293.7 982.1,1294.5 990.1,1291.1 997.7,1290.7 1005.5,1291.5 1013.1,1290.5 1020.7,1290.1 1028.5,1291.1 1036.1,1292.1 1043.7,1290.1 1051.5,1289.1 1059.2,1288.5 1066.8,1289.7 1074.6,1288.7 1082.2,1288.1 1089.8,1287.5 1097.6,1289.1 1105.2,1290.7 1112.8,1290.1 1120.6,1290.1 1128.2,1291.1 1135.7,1292.8 1143.3,1294.8 1149.7,1293.4"/>
<path d="M126.3 1389.9h12.5M1150.0 1389.9h-12.5M126.3 1343.6h12.5M1150.0 1343.6h-12.5M126.3 1297.3h12.5M1150.0 1297.3h-12.5M126.3 1251.0h12.5M1150.0 1251.0h-12.5M126.3 1424.6h5.0M1150.0 1424.6h-5.0M126.3 1413.0h5.0M1150.0 1413.0h-5.0M126.3 1401.5h5.0M1150.0 1401.5h-5.0M126.3 1378.3h5.0M1150.0 1378.3h-5.0M126.3 1366.7h5.0M1150.0 1366.7h-5.0M126.3 1355.2h5.0M1150.0 1355.2h-5.0M126.3 1332.0h5.0M1150.0 1332.0h-5.0M126.3 1320.4h5.0M1150.0 1320.4h-5.0M126.3 1308.8h5.0M1150.0 1308.8h-5.0M126.3 1285.7h5.0M1150.0 1285.7h-5.0M126.3 1274.1h5.0M1150.0 1274.1h-5.0M126.3 1262.5h5.0M1150.0 1262.5h-5.0M126.3 1239.4h5.0M1150.0 1239.4h-5.0" stroke="#000" stroke-width="1.5" fill="none"/>
<path d="M228.7 1227.8v8.0M228.7 1436.2v-8.0M331.0 1227.8v8.0M331.0 1436.2v-8.0M433.4 1227.8v8.0M433.4 1436.2v-8.0M535.8 1227.8v8.0M535.8 1436.2v-8.0M638.1 1227.8v26.0M638.1 1436.2v-26.0M740.5 1227.8v8.0M740.5 1436.2v-8.0M842.9 1227.8v8.0M842.9 1436.2v-8.0M945.3 1227.8v8.0M945.3 1436.2v-8.0M1047.6 1227.8v8.0M1047.6 1436.2v-8.0" stroke="#000" stroke-width="1.7" fill="none"/>
<rect x="126.3" y="1227.8" width="1023.7" height="208.4" fill="none" stroke="#000" stroke-width="1.7"/>
<text transform="translate(118.6,1263.4) scale(0.975,1)" font-family='"DejaVu Sans","Liberation Sans",sans-serif' font-size="34" text-anchor="end" fill="#000" font-weight="normal">400</text>
<text transform="translate(118.6,1309.7) scale(0.975,1)" font-family='"DejaVu Sans","Liberation Sans",sans-serif' font-size="34" text-anchor="end" fill="#000" font-weight="normal">200</text>
<text transform="translate(118.6,1356.0) scale(0.975,1)" font-family='"DejaVu Sans","Liberation Sans",sans-serif' font-size="34" text-anchor="end" fill="#000" font-weight="normal">0</text>
<text transform="translate(118.6,1402.3) scale(0.975,1)" font-family='"DejaVu Sans","Liberation Sans",sans-serif' font-size="34" text-anchor="end" fill="#000" font-weight="normal">–200</text>
<text transform="translate(118.6,1448.6) scale(0.975,1)" font-family='"DejaVu Sans","Liberation Sans",sans-serif' font-size="34" text-anchor="end" fill="#000" font-weight="normal">–400</text>
<line x1="126.3" y1="1651.2" x2="1150.0" y2="1651.2" stroke="#000" stroke-width="1.6" stroke-dasharray="2 3.2"/>
<polyline fill="none" stroke="#000" stroke-width="2.5" stroke-linejoin="miter" stroke-miterlimit="4" points="126.3,1677.0 136.0,1680.2 144.8,1683.0 160.0,1681.8 168.0,1675.4 176.0,1678.6 184.1,1671.0 198.9,1671.4 207.3,1675.0 214.9,1672.6 222.5,1678.6 230.1,1673.0 238.1,1670.6 245.3,1667.0 252.9,1667.4 260.9,1676.6 268.5,1677.0 276.1,1672.2 284.1,1664.2 291.3,1661.8 299.3,1663.8 306.9,1658.1 314.6,1645.7 322.2,1664.2 329.8,1663.8 337.8,1655.7 345.4,1651.3 353.0,1646.9 360.6,1650.5 368.2,1649.7 376.2,1658.5 383.8,1660.2 391.4,1662.2 399.4,1669.4 407.0,1668.6 414.6,1664.6 422.2,1665.8 429.8,1668.6 437.5,1673.0 445.5,1661.0 453.1,1659.8 460.7,1663.0 468.3,1660.2 475.9,1660.6 483.5,1659.3 491.1,1660.2 498.7,1666.2 506.3,1670.2 514.3,1665.4 522.3,1651.7 529.9,1650.5 537.5,1654.1 545.1,1646.5 552.7,1616.9 560.4,1595.3 567.6,1589.3 575.2,1609.3 583.2,1622.5 590.8,1621.3 598.4,1647.3 606.0,1644.5 613.6,1653.3 621.6,1663.0 629.2,1667.0 636.8,1667.0 644.4,1663.4 652.0,1663.0 659.6,1666.6 667.2,1667.8 675.2,1665.8 682.8,1665.0 690.4,1665.0 698.1,1665.8 705.7,1658.1 713.3,1650.5 721.3,1625.3 728.9,1572.1 736.5,1564.1 744.1,1568.1 752.1,1556.9 759.7,1544.1 767.3,1500.8 774.9,1508.0 782.5,1544.1 790.1,1584.1 797.7,1638.1 805.3,1656.1 813.3,1660.2 821.0,1663.4 828.6,1667.4 836.2,1668.6 843.8,1670.2 851.8,1667.4 859.4,1665.0 867.0,1664.6 874.6,1671.4 882.2,1675.0 890.2,1674.2 897.8,1671.8 905.4,1663.4 913.0,1664.2 920.6,1655.3 928.6,1650.1 936.2,1646.1 943.9,1648.9 951.5,1646.9 959.1,1645.3 967.1,1656.5 974.7,1655.3 982.3,1655.7 989.9,1653.3 997.5,1656.5 1005.5,1656.5 1013.1,1654.1 1020.7,1654.5 1028.3,1659.8 1035.9,1661.8 1043.9,1658.9 1051.5,1661.4 1059.1,1648.1 1066.7,1658.5 1074.4,1664.2 1082.4,1663.4 1090.0,1658.9 1097.6,1660.2 1105.2,1662.6 1112.8,1663.8 1120.8,1662.2 1128.4,1663.4 1136.0,1669.4 1143.6,1672.2 1150.0,1671.0"/>
<line x1="712.9" y1="1486.1" x2="712.9" y2="1686.0" stroke="#000" stroke-width="2.6" stroke-dasharray="17.5 13"/>
<line x1="796.9" y1="1486.1" x2="796.9" y2="1686.0" stroke="#000" stroke-width="2.6" stroke-dasharray="17.5 13"/>
<path d="M126.3 1616.5h12.5M1150.0 1616.5h-12.5M126.3 1547.0h12.5M1150.0 1547.0h-12.5M126.3 1668.6h5.0M1150.0 1668.6h-5.0M126.3 1651.2h5.0M1150.0 1651.2h-5.0M126.3 1633.9h5.0M1150.0 1633.9h-5.0M126.3 1599.1h5.0M1150.0 1599.1h-5.0M126.3 1581.8h5.0M1150.0 1581.8h-5.0M126.3 1564.4h5.0M1150.0 1564.4h-5.0M126.3 1529.6h5.0M1150.0 1529.6h-5.0M126.3 1512.2h5.0M1150.0 1512.2h-5.0M126.3 1494.9h5.0M1150.0 1494.9h-5.0" stroke="#000" stroke-width="1.5" fill="none"/>
<path d="M228.7 1477.5v8.0M228.7 1686.0v-8.0M331.0 1477.5v8.0M331.0 1686.0v-8.0M433.4 1477.5v8.0M433.4 1686.0v-8.0M535.8 1477.5v8.0M535.8 1686.0v-8.0M638.1 1477.5v26.0M638.1 1686.0v-26.0M740.5 1477.5v8.0M740.5 1686.0v-8.0M842.9 1477.5v8.0M842.9 1686.0v-8.0M945.3 1477.5v8.0M945.3 1686.0v-8.0M1047.6 1477.5v8.0M1047.6 1686.0v-8.0" stroke="#000" stroke-width="1.7" fill="none"/>
<rect x="126.3" y="1477.5" width="1023.7" height="208.5" fill="none" stroke="#000" stroke-width="1.7"/>
<text transform="translate(118.6,1489.9) scale(0.975,1)" font-family='"DejaVu Sans","Liberation Sans",sans-serif' font-size="34" text-anchor="end" fill="#000" font-weight="normal">6</text>
<text transform="translate(118.6,1559.4) scale(0.975,1)" font-family='"DejaVu Sans","Liberation Sans",sans-serif' font-size="34" text-anchor="end" fill="#000" font-weight="normal">4</text>
<text transform="translate(118.6,1628.9) scale(0.975,1)" font-family='"DejaVu Sans","Liberation Sans",sans-serif' font-size="34" text-anchor="end" fill="#000" font-weight="normal">2</text>
<text transform="translate(118.6,1698.4) scale(0.975,1)" font-family='"DejaVu Sans","Liberation Sans",sans-serif' font-size="34" text-anchor="end" fill="#000" font-weight="normal">0</text>
<polyline fill="none" stroke="#ff0000" stroke-width="1.4" stroke-linejoin="miter" stroke-miterlimit="4" points="126.3,1822.6 127.4,1818.9 128.7,1821.4 130.1,1811.3 131.4,1812.9 132.8,1805.1 134.1,1811.1 135.5,1810.7 136.8,1813.9 138.2,1809.0 139.5,1810.1 140.9,1808.2 142.2,1806.1 143.6,1807.9 144.9,1805.3 146.3,1808.7 147.6,1814.0 149.0,1814.9 150.3,1814.9 151.7,1823.9 153.0,1819.4 154.4,1815.2 155.7,1815.5 157.1,1812.8 158.4,1811.7 159.8,1810.8 161.1,1816.9 162.5,1812.0 163.8,1810.3 165.2,1810.6 166.5,1814.0 167.9,1807.6 169.2,1805.2 170.6,1814.3 171.9,1805.7 173.3,1806.9 174.6,1810.8 176.0,1817.3 177.3,1810.1 178.7,1803.9 180.0,1811.8 181.4,1810.9 182.7,1811.3 184.1,1814.3 185.4,1814.8 186.8,1815.5 188.1,1813.8 189.5,1818.8 190.8,1821.3 192.2,1817.9 193.5,1816.0 194.9,1819.4 196.2,1820.2 197.6,1816.3 198.9,1817.4 200.3,1822.9 201.6,1822.7 203.0,1823.3 204.3,1826.4 205.7,1827.9 207.0,1829.8 208.4,1825.9 209.7,1837.1 211.1,1835.2 212.4,1830.6 213.8,1834.2 215.1,1832.7 216.5,1830.8 217.8,1832.8 219.2,1836.4 220.5,1831.8 221.9,1832.6 223.2,1833.9 224.6,1823.9 225.9,1821.7 227.3,1824.2 228.6,1816.7 230.0,1818.0 231.3,1823.6 232.7,1824.8 234.0,1824.0 235.4,1816.6 236.7,1827.4 238.1,1825.4 239.4,1824.4 240.8,1822.4 242.1,1814.5 243.5,1812.2 244.8,1811.4 246.2,1819.8 247.5,1813.3 248.9,1814.0 250.2,1815.9 251.6,1820.3 252.9,1822.7 254.3,1824.1 255.6,1821.2 257.0,1822.2 258.3,1827.2 259.7,1829.7 261.0,1832.5 262.4,1833.0 263.7,1833.6 265.1,1835.9 266.4,1835.5 267.8,1837.0 269.1,1836.7 270.5,1837.2 271.8,1838.6 273.2,1836.9 274.5,1836.2 275.9,1834.4 277.2,1833.2 278.6,1831.5 279.9,1830.6 281.3,1827.6 282.6,1827.4 284.0,1826.6 285.3,1828.1 286.7,1827.8 288.0,1827.6 289.4,1827.2 290.7,1823.9 292.1,1826.2 293.4,1828.9 294.8,1823.1 296.1,1824.8 297.5,1817.4 298.8,1807.2 300.2,1808.1 301.5,1802.3 302.9,1804.7 304.2,1805.8 305.6,1810.7 306.9,1804.6 308.3,1820.2 309.6,1823.9 311.0,1817.8 312.3,1812.2 313.7,1812.8 315.0,1814.3 316.4,1812.6 317.7,1810.8 319.1,1801.1 320.4,1801.3 321.8,1810.3 323.1,1808.7 324.5,1801.4 325.8,1801.4 327.2,1801.2 328.5,1804.9 329.9,1816.1 331.2,1816.1 332.6,1821.4 333.9,1815.7 335.3,1805.3 336.6,1803.0 338.0,1811.1 339.3,1799.6 340.7,1794.1 342.0,1802.4 343.4,1801.0 344.7,1800.7 346.1,1806.7 347.4,1796.7 348.8,1801.6 350.1,1796.2 351.5,1792.2 352.8,1792.4 354.2,1799.0 355.5,1795.1 356.9,1785.9 358.2,1783.9 359.6,1791.5 360.9,1790.1 362.3,1786.8 363.6,1806.4 365.0,1807.5 366.3,1809.9 367.7,1812.6 369.0,1817.7 370.4,1820.8 371.7,1820.1 373.1,1815.6 374.4,1814.1 375.8,1811.0 377.1,1814.8 378.5,1814.9 379.8,1817.9 381.2,1814.7 382.5,1816.5 383.9,1816.4 385.2,1815.3 386.6,1815.0 387.9,1815.5 389.3,1815.1 390.6,1820.3 392.0,1820.5 393.3,1816.2 394.7,1819.8 396.0,1818.4 397.4,1820.2 398.7,1814.2 400.1,1810.9 401.4,1807.1 402.8,1807.9 404.1,1809.9 405.5,1809.7 406.8,1808.5 408.2,1810.9 409.5,1810.3 410.9,1810.8 412.2,1807.5 413.6,1810.6 414.9,1808.3 416.3,1808.6 417.6,1812.2 419.0,1819.7 420.3,1819.0 421.7,1815.3 423.0,1813.4 424.4,1816.3 425.7,1818.1 427.1,1818.0 428.4,1813.5 429.8,1813.1 431.1,1812.2 432.5,1813.2 433.8,1812.7 435.2,1815.3 436.5,1811.2 437.9,1813.9 439.2,1820.6 440.6,1819.5 441.9,1825.1 443.3,1822.4 444.6,1825.6 446.0,1830.2 447.3,1824.6 448.7,1821.4 450.0,1828.0 451.4,1818.1 452.7,1813.9 454.1,1813.7 455.4,1815.5 456.8,1815.8 458.1,1819.0 459.5,1819.4 460.8,1815.8 462.2,1814.9 463.5,1811.4 464.9,1810.4 466.2,1813.0 467.6,1818.8 468.9,1819.1 470.3,1821.7 471.6,1823.4 473.0,1820.4 474.3,1825.7 475.7,1818.8 477.0,1815.9 478.4,1815.2 479.7,1819.3 481.1,1816.6 482.4,1814.0 483.8,1816.8 485.1,1819.8 486.5,1816.9 487.8,1815.5 489.2,1819.5 490.5,1820.6 491.9,1821.1 493.2,1816.2 494.6,1818.2 495.9,1819.3 497.3,1815.2 498.6,1825.6 500.0,1827.6 501.3,1829.0 502.7,1838.5 504.0,1832.9 505.4,1827.6 506.7,1827.1 508.1,1827.9 509.4,1828.0 510.8,1824.4 512.1,1819.9 513.5,1818.1 514.8,1816.2 516.2,1814.0 517.5,1815.6 518.9,1813.7 520.2,1813.8 521.6,1812.4 522.9,1812.6 524.3,1815.4 525.6,1816.5 527.0,1822.1 528.3,1818.2 529.7,1819.8 531.0,1819.3 532.4,1815.0 533.7,1819.8 535.1,1819.2 536.4,1811.9 537.8,1817.7 539.1,1820.3 540.5,1815.5 541.8,1821.4 543.2,1818.3 544.5,1813.2 545.9,1817.7 547.2,1816.7 548.6,1813.8 549.9,1811.0 551.3,1817.9 552.6,1817.6 554.0,1822.9 555.3,1824.6 556.7,1823.3 558.0,1823.8 559.4,1831.9 560.7,1834.3 562.1,1830.3 563.4,1824.5 564.8,1819.7 566.1,1818.8 567.5,1823.7 568.8,1821.1 570.2,1818.9 571.5,1815.9 572.9,1819.7 574.2,1818.1 575.6,1820.9 576.9,1824.0 578.3,1825.5 579.6,1822.9 581.0,1820.4 582.3,1821.1 583.7,1825.9 585.0,1822.2 586.4,1814.3 587.7,1819.8 589.1,1816.4 590.4,1824.1 591.8,1813.2 593.1,1809.9 594.5,1807.4 595.8,1811.8 597.2,1812.1 598.5,1811.4 599.9,1811.7 601.2,1819.2 602.6,1822.1 603.9,1824.7 605.3,1832.7 606.6,1829.5 608.0,1828.2 609.3,1821.8 610.7,1821.1 612.0,1818.2 613.4,1817.2 614.7,1819.7 616.1,1819.8 617.4,1818.8 618.8,1817.8 620.1,1812.4 621.5,1812.8 622.8,1816.0 624.2,1814.0 625.5,1811.5 626.9,1813.7 628.2,1809.9 629.6,1808.9 630.9,1812.8 632.3,1809.6 633.6,1814.0 635.0,1812.3 636.3,1812.4 637.7,1813.1 639.0,1803.1 640.4,1806.1 641.7,1802.8 643.1,1803.8 644.4,1804.7 645.8,1808.7 647.1,1805.4 648.5,1809.7 649.8,1805.4 651.2,1806.3 652.5,1807.7 653.9,1811.4 655.2,1810.2 656.6,1808.7 657.9,1809.5 659.3,1807.0 660.6,1814.8 662.0,1816.1 663.3,1815.9 664.7,1815.8 666.0,1813.5 667.4,1813.8 668.7,1817.9 670.1,1814.7 671.4,1814.1 672.8,1821.5 674.1,1824.0 675.5,1820.8 676.8,1820.5 678.2,1819.4 679.5,1822.8 680.9,1818.2 682.2,1818.4 683.6,1819.6 684.9,1823.6 686.3,1820.6 687.6,1821.9 689.0,1820.8 690.3,1820.8 691.7,1821.5 693.0,1824.7 694.4,1828.7 695.7,1825.1 697.1,1824.5 698.4,1825.1 699.8,1827.7 701.1,1829.8 702.5,1824.7 703.8,1828.2 705.2,1822.4 706.5,1823.3 707.9,1816.1 709.2,1811.2 710.6,1808.5 711.9,1807.3 713.3,1806.5 714.6,1811.5 716.0,1814.3 717.3,1816.3 718.7,1818.9 720.0,1822.9 721.4,1818.3 722.7,1818.6 724.1,1818.3 725.4,1811.7 726.8,1816.7 728.1,1814.3 729.5,1813.4 730.8,1814.0 732.2,1816.1 733.5,1817.7 734.9,1818.8 736.2,1815.7 737.6,1819.2 738.9,1819.6 740.3,1817.5 741.6,1818.1 743.0,1821.0 744.3,1820.9 745.7,1821.9 747.0,1820.6 748.4,1823.5 749.7,1827.8 751.1,1823.8 752.4,1816.4 753.8,1824.2 755.1,1819.6 756.5,1815.8 757.8,1811.7 759.2,1818.8 760.5,1823.0 761.9,1824.0 763.2,1820.3 764.6,1824.9 765.9,1821.8 767.3,1819.5 768.6,1820.9 770.0,1822.0 771.3,1821.9 772.7,1823.2 774.0,1815.9 775.4,1825.4 776.7,1822.1 778.1,1825.1 779.4,1822.0 780.8,1824.2 782.1,1824.2 783.5,1820.3 784.8,1825.3 786.2,1827.9 787.5,1822.6 788.9,1817.6 790.2,1820.0 791.6,1819.6 792.9,1821.9 794.3,1822.2 795.6,1832.0 797.0,1835.4 798.3,1837.1 799.7,1842.2 801.0,1837.5 802.4,1838.5 803.7,1837.2 805.1,1837.6 806.4,1837.5 807.8,1835.5 809.1,1835.7 810.5,1829.5 811.8,1829.2 813.2,1826.4 814.5,1824.5 815.9,1823.5 817.2,1820.8 818.6,1821.0 819.9,1819.6 821.3,1821.8 822.6,1818.2 824.0,1817.4 825.3,1823.1 826.7,1817.9 828.0,1815.1 829.4,1815.0 830.7,1808.0 832.1,1810.6 833.4,1810.9 834.8,1809.5 836.1,1810.1 837.5,1808.8 838.8,1807.9 840.2,1800.7 841.5,1800.3 842.9,1795.8 844.2,1798.4 845.6,1794.4 846.9,1789.3 848.3,1793.4 849.6,1792.3 851.0,1798.8 852.3,1797.8 853.7,1792.9 855.0,1796.5 856.4,1801.1 857.7,1799.9 859.1,1796.2 860.4,1798.5 861.8,1798.5 863.1,1802.0 864.5,1802.6 865.8,1802.1 867.2,1799.4 868.5,1802.8 869.9,1804.8 871.2,1805.6 872.6,1808.3 873.9,1805.4 875.3,1810.9 876.6,1812.0 878.0,1814.5 879.3,1815.1 880.7,1815.3 882.0,1817.0 883.4,1819.4 884.7,1817.0 886.1,1818.5 887.4,1815.9 888.8,1818.5 890.1,1817.4 891.5,1812.7 892.8,1818.1 894.2,1813.2 895.5,1814.1 896.9,1809.7 898.2,1806.5 899.6,1812.1 900.9,1807.1 902.3,1803.0 903.6,1806.8 905.0,1803.4 906.3,1805.8 907.7,1812.3 909.0,1807.2 910.4,1807.6 911.7,1807.9 913.1,1806.7 914.4,1804.9 915.8,1808.8 917.1,1806.8 918.5,1809.5 919.8,1811.3 921.2,1809.4 922.5,1815.3 923.9,1817.9 925.2,1822.2 926.6,1825.3 927.9,1830.3 929.3,1823.1 930.6,1826.5 932.0,1829.4 933.3,1827.5 934.7,1829.3 936.0,1827.2 937.4,1826.1 938.7,1819.3 940.1,1818.1 941.4,1820.4 942.8,1819.8 944.1,1819.0 945.5,1820.0 946.8,1819.6 948.2,1817.0 949.5,1824.1 950.9,1819.1 952.2,1821.4 953.6,1821.7 954.9,1822.7 956.3,1818.3 957.6,1815.5 959.0,1818.7 960.3,1819.0 961.7,1811.6 963.0,1808.9 964.4,1814.4 965.7,1816.7 967.1,1817.9 968.4,1820.5 969.8,1817.3 971.1,1826.2 972.5,1822.4 973.8,1821.4 975.2,1816.9 976.5,1807.6 977.9,1810.5 979.2,1808.2 980.6,1811.5 981.9,1811.2 983.3,1813.8 984.6,1810.5 986.0,1811.4 987.3,1813.2 988.7,1812.1 990.0,1813.7 991.4,1818.4 992.7,1824.6 994.1,1821.0 995.4,1824.0 996.8,1819.7 998.1,1820.4 999.5,1823.2 1000.8,1825.0 1002.2,1821.1 1003.5,1824.9 1004.9,1823.4 1006.2,1823.1 1007.6,1819.4 1008.9,1814.6 1010.3,1807.9 1011.6,1808.0 1013.0,1804.2 1014.3,1802.5 1015.7,1798.5 1017.0,1798.3 1018.4,1797.8 1019.7,1800.5 1021.1,1801.2 1022.4,1796.3 1023.8,1797.8 1025.1,1799.0 1026.5,1800.1 1027.8,1796.7 1029.2,1795.8 1030.5,1793.1 1031.9,1795.4 1033.2,1788.0 1034.6,1790.4 1035.9,1782.9 1037.3,1791.8 1038.6,1792.8 1040.0,1789.4 1041.3,1796.9 1042.7,1800.3 1044.0,1804.0 1045.4,1812.9 1046.7,1817.0 1048.1,1824.4 1049.4,1823.3 1050.8,1822.5 1052.1,1826.6 1053.5,1830.6 1054.8,1834.3 1056.2,1833.0 1057.5,1825.3 1058.9,1823.7 1060.2,1824.2 1061.6,1822.5 1062.9,1822.4 1064.3,1820.0 1065.6,1819.4 1067.0,1818.6 1068.3,1818.4 1069.7,1816.4 1071.0,1819.1 1072.4,1816.8 1073.7,1815.6 1075.1,1814.0 1076.4,1815.4 1077.8,1814.4 1079.1,1815.9 1080.5,1817.3 1081.8,1817.1 1083.2,1815.9 1084.5,1817.4 1085.9,1816.9 1087.2,1817.2 1088.6,1817.8 1089.9,1817.8 1091.3,1819.1 1092.6,1818.2 1094.0,1817.7 1095.3,1820.5 1096.7,1819.0 1098.0,1818.8 1099.4,1819.3 1100.7,1818.4 1102.1,1817.2 1103.4,1817.7 1104.8,1816.8 1106.1,1817.9 1107.5,1817.1 1108.8,1816.8 1110.2,1817.6 1111.5,1815.3 1112.9,1814.4 1114.2,1816.3 1115.6,1817.5 1116.9,1816.8 1118.3,1815.9 1119.6,1817.7 1121.0,1817.6 1122.3,1818.2 1123.7,1815.5 1125.0,1816.6 1126.4,1816.0 1127.7,1815.9 1129.1,1817.6 1130.4,1818.3 1131.8,1817.4 1133.1,1817.4 1134.5,1819.1 1135.8,1819.0 1137.2,1818.2 1138.5,1818.6 1139.9,1818.3 1141.2,1816.7 1142.6,1816.9 1143.9,1817.7 1145.3,1818.2 1146.6,1816.5 1148.0,1816.3 1149.3,1816.4"/>
<polyline fill="none" stroke="#00aa00" stroke-width="1.4" stroke-linejoin="miter" stroke-miterlimit="4" points="126.3,1809.6 127.4,1803.7 128.7,1805.4 130.1,1808.8 131.4,1814.4 132.8,1812.0 134.1,1806.7 135.5,1811.4 136.8,1808.2 138.2,1814.2 139.5,1811.4 140.9,1816.5 142.2,1812.1 143.6,1807.9 144.9,1805.1 146.3,1807.3 147.6,1809.7 149.0,1812.1 150.3,1809.4 151.7,1805.1 153.0,1806.9 154.4,1801.1 155.7,1804.6 157.1,1802.4 158.4,1809.1 159.8,1810.1 161.1,1809.0 162.5,1804.9 163.8,1808.9 165.2,1810.0 166.5,1808.1 167.9,1807.8 169.2,1810.5 170.6,1804.0 171.9,1802.3 173.3,1802.5 174.6,1794.9 176.0,1806.9 177.3,1811.3 178.7,1810.8 180.0,1812.9 181.4,1810.9 182.7,1816.2 184.1,1806.8 185.4,1814.0 186.8,1813.4 188.1,1810.2 189.5,1809.3 190.8,1809.0 192.2,1808.9 193.5,1812.4 194.9,1808.3 196.2,1812.8 197.6,1813.9 198.9,1810.5 200.3,1812.0 201.6,1809.0 203.0,1809.9 204.3,1811.6 205.7,1816.9 207.0,1812.8 208.4,1811.6 209.7,1812.1 211.1,1811.9 212.4,1809.5 213.8,1817.9 215.1,1813.3 216.5,1812.3 217.8,1812.1 219.2,1816.6 220.5,1825.1 221.9,1828.3 223.2,1823.5 224.6,1820.5 225.9,1818.9 227.3,1813.9 228.6,1816.5 230.0,1813.6 231.3,1818.2 232.7,1811.3 234.0,1805.9 235.4,1800.6 236.7,1798.9 238.1,1806.1 239.4,1807.6 240.8,1803.7 242.1,1801.5 243.5,1806.5 244.8,1806.2 246.2,1808.1 247.5,1808.0 248.9,1806.2 250.2,1803.5 251.6,1809.0 252.9,1811.2 254.3,1812.7 255.6,1816.1 257.0,1815.9 258.3,1814.9 259.7,1816.4 261.0,1813.4 262.4,1814.7 263.7,1813.7 265.1,1813.9 266.4,1813.3 267.8,1810.4 269.1,1809.8 270.5,1810.3 271.8,1808.0 273.2,1807.3 274.5,1805.7 275.9,1805.7 277.2,1804.7 278.6,1802.5 279.9,1800.5 281.3,1799.7 282.6,1803.1 284.0,1803.1 285.3,1803.3 286.7,1803.9 288.0,1804.0 289.4,1806.1 290.7,1807.7 292.1,1798.5 293.4,1801.7 294.8,1802.4 296.1,1800.3 297.5,1800.6 298.8,1808.4 300.2,1809.2 301.5,1815.7 302.9,1819.7 304.2,1814.0 305.6,1824.0 306.9,1821.3 308.3,1818.8 309.6,1822.6 311.0,1829.2 312.3,1819.8 313.7,1816.4 315.0,1818.6 316.4,1810.4 317.7,1809.8 319.1,1813.3 320.4,1816.6 321.8,1817.7 323.1,1819.6 324.5,1821.6 325.8,1816.9 327.2,1816.3 328.5,1815.8 329.9,1813.0 331.2,1815.8 332.6,1813.8 333.9,1800.1 335.3,1803.8 336.6,1797.2 338.0,1793.1 339.3,1800.5 340.7,1802.3 342.0,1801.5 343.4,1798.7 344.7,1801.5 346.1,1790.3 347.4,1797.2 348.8,1795.5 350.1,1797.1 351.5,1795.5 352.8,1809.1 354.2,1816.0 355.5,1813.2 356.9,1806.3 358.2,1806.7 359.6,1801.6 360.9,1802.6 362.3,1809.7 363.6,1822.4 365.0,1829.7 366.3,1838.6 367.7,1833.9 369.0,1833.6 370.4,1830.8 371.7,1831.2 373.1,1827.2 374.4,1830.2 375.8,1826.6 377.1,1827.3 378.5,1827.1 379.8,1832.6 381.2,1832.8 382.5,1828.1 383.9,1826.7 385.2,1830.6 386.6,1830.0 387.9,1828.4 389.3,1829.0 390.6,1833.2 392.0,1828.9 393.3,1831.9 394.7,1826.6 396.0,1825.5 397.4,1826.1 398.7,1824.3 400.1,1821.8 401.4,1818.6 402.8,1819.1 404.1,1818.4 405.5,1820.0 406.8,1824.1 408.2,1824.0 409.5,1826.2 410.9,1824.3 412.2,1824.8 413.6,1825.8 414.9,1826.7 416.3,1828.2 417.6,1823.0 419.0,1824.0 420.3,1823.1 421.7,1825.5 423.0,1824.6 424.4,1819.5 425.7,1820.6 427.1,1821.3 428.4,1819.1 429.8,1822.6 431.1,1820.8 432.5,1815.8 433.8,1819.3 435.2,1822.0 436.5,1818.1 437.9,1821.7 439.2,1815.1 440.6,1830.9 441.9,1828.0 443.3,1827.8 444.6,1825.8 446.0,1820.0 447.3,1821.6 448.7,1816.5 450.0,1811.7 451.4,1807.2 452.7,1814.7 454.1,1818.1 455.4,1814.3 456.8,1814.3 458.1,1818.1 459.5,1815.2 460.8,1816.7 462.2,1817.2 463.5,1816.8 464.9,1816.4 466.2,1818.6 467.6,1816.6 468.9,1816.1 470.3,1813.7 471.6,1809.1 473.0,1811.3 474.3,1813.4 475.7,1818.1 477.0,1815.1 478.4,1809.1 479.7,1815.2 481.1,1818.6 482.4,1816.7 483.8,1815.9 485.1,1815.4 486.5,1814.0 487.8,1817.9 489.2,1812.0 490.5,1810.3 491.9,1807.5 493.2,1809.3 494.6,1808.9 495.9,1807.7 497.3,1809.0 498.6,1811.0 500.0,1803.4 501.3,1806.1 502.7,1804.9 504.0,1805.0 505.4,1806.1 506.7,1809.3 508.1,1804.6 509.4,1813.0 510.8,1811.3 512.1,1809.7 513.5,1807.3 514.8,1815.4 516.2,1817.5 517.5,1819.5 518.9,1818.6 520.2,1823.9 521.6,1823.1 522.9,1823.3 524.3,1816.6 525.6,1815.2 527.0,1808.1 528.3,1803.7 529.7,1797.7 531.0,1800.9 532.4,1810.6 533.7,1820.0 535.1,1829.3 536.4,1838.5 537.8,1832.4 539.1,1826.6 540.5,1822.4 541.8,1821.4 543.2,1815.1 544.5,1807.2 545.9,1802.3 547.2,1792.6 548.6,1800.0 549.9,1798.8 551.3,1803.9 552.6,1806.8 554.0,1808.6 555.3,1812.5 556.7,1813.9 558.0,1810.2 559.4,1810.5 560.7,1809.3 562.1,1806.0 563.4,1815.5 564.8,1813.0 566.1,1814.0 567.5,1816.3 568.8,1814.9 570.2,1816.2 571.5,1821.5 572.9,1818.6 574.2,1819.4 575.6,1815.5 576.9,1813.1 578.3,1818.6 579.6,1820.0 581.0,1817.4 582.3,1822.4 583.7,1815.1 585.0,1817.5 586.4,1814.7 587.7,1816.2 589.1,1818.5 590.4,1813.7 591.8,1820.8 593.1,1818.6 594.5,1818.5 595.8,1815.9 597.2,1815.5 598.5,1809.2 599.9,1806.2 601.2,1811.8 602.6,1814.5 603.9,1817.0 605.3,1822.1 606.6,1828.8 608.0,1820.4 609.3,1812.2 610.7,1814.8 612.0,1810.1 613.4,1811.8 614.7,1808.9 616.1,1809.7 617.4,1816.6 618.8,1813.9 620.1,1809.2 621.5,1810.5 622.8,1811.9 624.2,1812.1 625.5,1818.9 626.9,1820.3 628.2,1822.1 629.6,1821.3 630.9,1817.5 632.3,1814.2 633.6,1812.8 635.0,1813.3 636.3,1811.2 637.7,1807.5 639.0,1818.0 640.4,1818.4 641.7,1814.4 643.1,1813.3 644.4,1814.0 645.8,1817.4 647.1,1816.8 648.5,1811.1 649.8,1816.0 651.2,1817.9 652.5,1812.2 653.9,1809.8 655.2,1812.6 656.6,1810.5 657.9,1817.1 659.3,1819.0 660.6,1812.2 662.0,1817.3 663.3,1813.4 664.7,1814.9 666.0,1822.0 667.4,1819.6 668.7,1822.1 670.1,1819.9 671.4,1827.1 672.8,1823.4 674.1,1832.0 675.5,1826.6 676.8,1821.9 678.2,1821.7 679.5,1820.4 680.9,1825.3 682.2,1818.7 683.6,1822.5 684.9,1822.2 686.3,1817.0 687.6,1804.6 689.0,1805.4 690.3,1803.5 691.7,1814.0 693.0,1817.2 694.4,1826.2 695.7,1829.8 697.1,1827.7 698.4,1827.3 699.8,1825.3 701.1,1825.4 702.5,1826.0 703.8,1834.0 705.2,1827.1 706.5,1822.8 707.9,1819.0 709.2,1821.3 710.6,1820.4 711.9,1817.0 713.3,1812.9 714.6,1823.0 716.0,1819.9 717.3,1817.5 718.7,1820.1 720.0,1817.5 721.4,1817.3 722.7,1811.0 724.1,1812.5 725.4,1805.6 726.8,1813.1 728.1,1811.8 729.5,1809.7 730.8,1810.3 732.2,1807.2 733.5,1811.3 734.9,1813.3 736.2,1817.3 737.6,1814.4 738.9,1814.8 740.3,1817.0 741.6,1817.9 743.0,1817.7 744.3,1817.9 745.7,1819.7 747.0,1818.1 748.4,1817.7 749.7,1815.9 751.1,1811.2 752.4,1815.8 753.8,1814.1 755.1,1814.3 756.5,1810.8 757.8,1818.7 759.2,1819.0 760.5,1814.5 761.9,1815.7 763.2,1817.0 764.6,1820.5 765.9,1815.5 767.3,1816.1 768.6,1810.3 770.0,1810.2 771.3,1809.9 772.7,1809.2 774.0,1806.1 775.4,1811.0 776.7,1808.1 778.1,1807.7 779.4,1810.2 780.8,1816.1 782.1,1817.3 783.5,1814.0 784.8,1810.3 786.2,1808.6 787.5,1812.8 788.9,1816.6 790.2,1818.2 791.6,1815.9 792.9,1813.3 794.3,1816.6 795.6,1819.3 797.0,1815.7 798.3,1815.7 799.7,1812.8 801.0,1811.7 802.4,1815.9 803.7,1809.9 805.1,1813.0 806.4,1807.8 807.8,1806.4 809.1,1807.6 810.5,1807.4 811.8,1805.9 813.2,1808.4 814.5,1811.1 815.9,1813.7 817.2,1814.2 818.6,1817.4 819.9,1813.0 821.3,1817.7 822.6,1818.7 824.0,1810.2 825.3,1809.6 826.7,1805.5 828.0,1800.2 829.4,1801.9 830.7,1803.2 832.1,1800.5 833.4,1801.8 834.8,1801.0 836.1,1794.4 837.5,1798.7 838.8,1806.0 840.2,1811.3 841.5,1806.7 842.9,1806.3 844.2,1813.8 845.6,1815.9 846.9,1818.4 848.3,1816.9 849.6,1820.4 851.0,1821.5 852.3,1818.8 853.7,1819.3 855.0,1819.3 856.4,1821.5 857.7,1821.4 859.1,1821.4 860.4,1822.2 861.8,1820.6 863.1,1818.1 864.5,1821.5 865.8,1818.1 867.2,1814.5 868.5,1814.5 869.9,1817.2 871.2,1816.3 872.6,1816.3 873.9,1818.2 875.3,1819.4 876.6,1817.7 878.0,1816.5 879.3,1818.1 880.7,1820.4 882.0,1813.1 883.4,1812.3 884.7,1809.4 886.1,1808.8 887.4,1812.2 888.8,1816.8 890.1,1812.3 891.5,1808.4 892.8,1807.3 894.2,1812.8 895.5,1815.4 896.9,1815.7 898.2,1814.4 899.6,1809.5 900.9,1806.8 902.3,1807.7 903.6,1809.9 905.0,1805.9 906.3,1802.7 907.7,1807.3 909.0,1799.6 910.4,1805.5 911.7,1798.3 913.1,1800.7 914.4,1797.0 915.8,1800.0 917.1,1796.6 918.5,1798.4 919.8,1801.1 921.2,1800.3 922.5,1798.1 923.9,1800.4 925.2,1801.4 926.6,1805.4 927.9,1794.0 929.3,1804.8 930.6,1810.5 932.0,1806.1 933.3,1801.3 934.7,1800.0 936.0,1798.6 937.4,1797.1 938.7,1803.3 940.1,1793.4 941.4,1794.3 942.8,1796.5 944.1,1792.6 945.5,1800.1 946.8,1796.1 948.2,1796.6 949.5,1795.5 950.9,1795.9 952.2,1794.4 953.6,1800.3 954.9,1795.8 956.3,1795.1 957.6,1799.4 959.0,1795.3 960.3,1803.3 961.7,1799.5 963.0,1799.0 964.4,1804.8 965.7,1796.9 967.1,1804.9 968.4,1799.8 969.8,1798.6 971.1,1803.3 972.5,1807.6 973.8,1804.0 975.2,1805.3 976.5,1806.8 977.9,1808.1 979.2,1810.7 980.6,1810.2 981.9,1807.2 983.3,1805.5 984.6,1800.8 986.0,1806.9 987.3,1805.8 988.7,1807.9 990.0,1810.3 991.4,1810.0 992.7,1812.4 994.1,1812.3 995.4,1815.1 996.8,1812.9 998.1,1811.4 999.5,1815.4 1000.8,1811.4 1002.2,1817.8 1003.5,1815.0 1004.9,1813.5 1006.2,1815.6 1007.6,1818.4 1008.9,1809.9 1010.3,1808.3 1011.6,1810.5 1013.0,1815.3 1014.3,1801.2 1015.7,1801.2 1017.0,1799.3 1018.4,1795.8 1019.7,1804.0 1021.1,1800.6 1022.4,1799.6 1023.8,1797.6 1025.1,1801.8 1026.5,1801.4 1027.8,1798.1 1029.2,1796.4 1030.5,1798.8 1031.9,1797.1 1033.2,1792.8 1034.6,1792.5 1035.9,1791.0 1037.3,1795.9 1038.6,1789.1 1040.0,1798.1 1041.3,1802.0 1042.7,1805.8 1044.0,1808.7 1045.4,1817.7 1046.7,1818.4 1048.1,1825.0 1049.4,1826.2 1050.8,1827.1 1052.1,1826.8 1053.5,1830.4 1054.8,1834.1 1056.2,1836.0 1057.5,1828.3 1058.9,1826.0 1060.2,1825.5 1061.6,1824.4 1062.9,1821.6 1064.3,1822.4 1065.6,1821.5 1067.0,1816.5 1068.3,1816.6 1069.7,1813.0 1071.0,1812.6 1072.4,1814.1 1073.7,1812.9 1075.1,1813.7 1076.4,1813.0 1077.8,1813.3 1079.1,1812.7 1080.5,1813.6 1081.8,1813.9 1083.2,1815.1 1084.5,1814.6 1085.9,1813.6 1087.2,1814.7 1088.6,1817.8 1089.9,1817.0 1091.3,1818.6 1092.6,1818.4 1094.0,1820.1 1095.3,1821.0 1096.7,1821.0 1098.0,1816.8 1099.4,1815.1 1100.7,1813.8 1102.1,1812.8 1103.4,1812.4 1104.8,1811.9 1106.1,1813.6 1107.5,1813.6 1108.8,1813.1 1110.2,1813.3 1111.5,1813.7 1112.9,1814.7 1114.2,1816.3 1115.6,1814.6 1116.9,1815.6 1118.3,1815.3 1119.6,1814.8 1121.0,1815.6 1122.3,1814.7 1123.7,1818.5 1125.0,1817.4 1126.4,1816.1 1127.7,1816.4 1129.1,1816.0 1130.4,1816.3 1131.8,1816.5 1133.1,1816.2 1134.5,1816.0 1135.8,1818.6 1137.2,1818.1 1138.5,1818.8 1139.9,1818.0 1141.2,1817.7 1142.6,1817.7 1143.9,1821.0 1145.3,1820.6 1146.6,1820.2 1148.0,1819.4 1149.3,1818.8"/>
<polyline fill="none" stroke="#0000b4" stroke-width="1.4" stroke-linejoin="miter" stroke-miterlimit="4" points="126.3,1829.3 127.4,1828.7 128.7,1824.4 130.1,1821.0 131.4,1816.2 132.8,1815.0 134.1,1817.1 135.5,1818.8 136.8,1822.9 138.2,1823.4 139.5,1825.7 140.9,1827.5 142.2,1824.2 143.6,1832.4 144.9,1834.4 146.3,1835.3 147.6,1829.4 149.0,1828.0 150.3,1830.6 151.7,1833.1 153.0,1836.7 154.4,1837.2 155.7,1839.5 157.1,1834.6 158.4,1833.8 159.8,1832.0 161.1,1826.4 162.5,1832.0 163.8,1834.5 165.2,1840.0 166.5,1839.0 167.9,1841.2 169.2,1839.6 170.6,1837.4 171.9,1836.7 173.3,1833.2 174.6,1829.4 176.0,1827.7 177.3,1828.9 178.7,1834.9 180.0,1830.9 181.4,1833.3 182.7,1834.9 184.1,1830.0 185.4,1832.7 186.8,1837.0 188.1,1828.1 189.5,1830.3 190.8,1831.4 192.2,1829.3 193.5,1832.4 194.9,1831.4 196.2,1826.7 197.6,1831.9 198.9,1832.8 200.3,1834.5 201.6,1842.2 203.0,1845.3 204.3,1849.6 205.7,1850.8 207.0,1855.7 208.4,1851.7 209.7,1849.7 211.1,1845.5 212.4,1844.0 213.8,1843.7 215.1,1850.7 216.5,1844.5 217.8,1845.8 219.2,1852.7 220.5,1859.8 221.9,1860.7 223.2,1849.9 224.6,1841.7 225.9,1845.0 227.3,1839.9 228.6,1834.4 230.0,1836.2 231.3,1840.0 232.7,1840.2 234.0,1842.2 235.4,1845.0 236.7,1851.0 238.1,1851.5 239.4,1847.2 240.8,1843.4 242.1,1833.4 243.5,1836.5 244.8,1835.6 246.2,1834.3 247.5,1826.1 248.9,1827.5 250.2,1832.1 251.6,1825.3 252.9,1830.9 254.3,1840.1 255.6,1839.1 257.0,1847.8 258.3,1852.6 259.7,1856.6 261.0,1860.5 262.4,1864.0 263.7,1866.6 265.1,1870.6 266.4,1872.0 267.8,1874.8 269.1,1877.9 270.5,1878.3 271.8,1878.3 273.2,1880.9 274.5,1882.2 275.9,1878.7 277.2,1875.4 278.6,1874.4 279.9,1872.8 281.3,1870.9 282.6,1869.7 284.0,1862.8 285.3,1859.6 286.7,1852.5 288.0,1847.5 289.4,1849.1 290.7,1852.9 292.1,1853.7 293.4,1852.9 294.8,1852.5 296.1,1853.0 297.5,1843.0 298.8,1828.9 300.2,1818.1 301.5,1814.7 302.9,1818.0 304.2,1825.4 305.6,1830.4 306.9,1840.9 308.3,1841.3 309.6,1842.1 311.0,1846.1 312.3,1851.7 313.7,1856.7 315.0,1854.2 316.4,1857.0 317.7,1864.0 319.1,1850.4 320.4,1852.6 321.8,1859.1 323.1,1862.4 324.5,1862.9 325.8,1858.4 327.2,1859.7 328.5,1857.3 329.9,1852.1 331.2,1860.2 332.6,1854.4 333.9,1851.0 335.3,1852.6 336.6,1853.5 338.0,1855.4 339.3,1840.5 340.7,1839.6 342.0,1840.5 343.4,1828.3 344.7,1828.8 346.1,1838.8 347.4,1845.2 348.8,1853.2 350.1,1847.5 351.5,1848.6 352.8,1848.3 354.2,1851.2 355.5,1853.2 356.9,1840.3 358.2,1852.3 359.6,1847.6 360.9,1855.5 362.3,1850.7 363.6,1851.4 365.0,1853.0 366.3,1845.9 367.7,1842.5 369.0,1843.2 370.4,1841.0 371.7,1839.4 373.1,1843.5 374.4,1843.1 375.8,1838.7 377.1,1846.0 378.5,1836.1 379.8,1838.8 381.2,1835.6 382.5,1835.3 383.9,1836.5 385.2,1835.9 386.6,1837.6 387.9,1832.1 389.3,1830.9 390.6,1837.4 392.0,1835.1 393.3,1834.7 394.7,1833.7 396.0,1842.1 397.4,1843.6 398.7,1846.6 400.1,1840.8 401.4,1841.5 402.8,1837.9 404.1,1842.4 405.5,1845.9 406.8,1839.3 408.2,1844.5 409.5,1843.7 410.9,1839.5 412.2,1832.4 413.6,1840.0 414.9,1837.2 416.3,1834.4 417.6,1835.1 419.0,1834.1 420.3,1835.9 421.7,1827.8 423.0,1830.6 424.4,1831.4 425.7,1831.2 427.1,1825.8 428.4,1821.9 429.8,1825.5 431.1,1823.4 432.5,1826.5 433.8,1835.1 435.2,1836.1 436.5,1833.8 437.9,1842.2 439.2,1843.8 440.6,1854.7 441.9,1855.8 443.3,1853.6 444.6,1855.1 446.0,1858.4 447.3,1854.2 448.7,1853.8 450.0,1846.9 451.4,1845.6 452.7,1843.9 454.1,1841.2 455.4,1837.4 456.8,1844.2 458.1,1840.8 459.5,1845.0 460.8,1842.7 462.2,1845.6 463.5,1835.8 464.9,1835.3 466.2,1836.2 467.6,1837.4 468.9,1836.5 470.3,1839.2 471.6,1845.2 473.0,1841.2 474.3,1840.2 475.7,1840.4 477.0,1835.9 478.4,1830.4 479.7,1829.9 481.1,1835.3 482.4,1830.0 483.8,1832.5 485.1,1839.0 486.5,1841.3 487.8,1840.5 489.2,1843.9 490.5,1844.2 491.9,1841.4 493.2,1840.6 494.6,1844.3 495.9,1851.3 497.3,1846.1 498.6,1840.1 500.0,1835.9 501.3,1834.8 502.7,1841.4 504.0,1842.3 505.4,1849.3 506.7,1845.4 508.1,1854.4 509.4,1847.7 510.8,1835.8 512.1,1834.8 513.5,1826.2 514.8,1816.4 516.2,1822.0 517.5,1829.5 518.9,1831.9 520.2,1838.7 521.6,1843.0 522.9,1844.4 524.3,1842.0 525.6,1843.4 527.0,1840.8 528.3,1838.5 529.7,1829.2 531.0,1836.3 532.4,1841.9 533.7,1840.4 535.1,1841.1 536.4,1850.2 537.8,1843.5 539.1,1849.2 540.5,1857.6 541.8,1851.0 543.2,1854.8 544.5,1860.5 545.9,1857.1 547.2,1856.1 548.6,1853.9 549.9,1845.5 551.3,1843.1 552.6,1841.1 554.0,1839.8 555.3,1838.0 556.7,1838.6 558.0,1837.5 559.4,1840.3 560.7,1846.1 562.1,1846.7 563.4,1842.8 564.8,1840.5 566.1,1849.4 567.5,1846.5 568.8,1843.2 570.2,1831.6 571.5,1838.8 572.9,1841.4 574.2,1846.5 575.6,1844.9 576.9,1843.7 578.3,1845.8 579.6,1837.9 581.0,1843.7 582.3,1842.6 583.7,1838.5 585.0,1842.6 586.4,1844.6 587.7,1837.8 589.1,1839.5 590.4,1844.2 591.8,1846.8 593.1,1847.2 594.5,1846.4 595.8,1846.0 597.2,1836.3 598.5,1820.5 599.9,1816.2 601.2,1830.2 602.6,1836.2 603.9,1844.5 605.3,1847.8 606.6,1846.5 608.0,1846.0 609.3,1837.1 610.7,1837.1 612.0,1837.7 613.4,1838.1 614.7,1833.0 616.1,1831.7 617.4,1834.4 618.8,1836.4 620.1,1838.9 621.5,1839.5 622.8,1839.2 624.2,1843.6 625.5,1843.8 626.9,1841.8 628.2,1841.1 629.6,1842.6 630.9,1842.4 632.3,1843.0 633.6,1842.4 635.0,1841.1 636.3,1836.5 637.7,1829.0 639.0,1829.1 640.4,1829.9 641.7,1831.3 643.1,1831.5 644.4,1835.2 645.8,1833.7 647.1,1832.1 648.5,1837.7 649.8,1834.1 651.2,1836.6 652.5,1830.5 653.9,1822.6 655.2,1823.6 656.6,1831.5 657.9,1829.3 659.3,1826.3 660.6,1828.0 662.0,1833.1 663.3,1835.2 664.7,1835.8 666.0,1840.8 667.4,1841.0 668.7,1839.8 670.1,1842.2 671.4,1847.1 672.8,1847.4 674.1,1848.5 675.5,1841.6 676.8,1842.0 678.2,1844.3 679.5,1841.6 680.9,1844.5 682.2,1843.6 683.6,1843.8 684.9,1842.3 686.3,1852.3 687.6,1853.3 689.0,1851.1 690.3,1853.3 691.7,1863.3 693.0,1859.4 694.4,1863.4 695.7,1865.3 697.1,1863.7 698.4,1860.5 699.8,1864.3 701.1,1866.7 702.5,1870.5 703.8,1871.4 705.2,1864.5 706.5,1860.4 707.9,1854.2 709.2,1847.2 710.6,1842.4 711.9,1840.5 713.3,1842.1 714.6,1836.8 716.0,1835.9 717.3,1837.0 718.7,1832.3 720.0,1833.5 721.4,1829.0 722.7,1831.5 724.1,1835.8 725.4,1836.9 726.8,1835.2 728.1,1833.9 729.5,1829.8 730.8,1837.7 732.2,1835.2 733.5,1835.5 734.9,1828.9 736.2,1828.2 737.6,1822.4 738.9,1827.7 740.3,1829.1 741.6,1821.0 743.0,1823.9 744.3,1826.7 745.7,1820.1 747.0,1817.8 748.4,1819.2 749.7,1820.7 751.1,1818.5 752.4,1821.8 753.8,1823.2 755.1,1824.4 756.5,1824.7 757.8,1826.8 759.2,1826.2 760.5,1818.2 761.9,1817.9 763.2,1816.8 764.6,1816.9 765.9,1820.4 767.3,1822.2 768.6,1824.7 770.0,1819.7 771.3,1819.7 772.7,1823.8 774.0,1825.0 775.4,1825.3 776.7,1826.4 778.1,1825.0 779.4,1829.2 780.8,1829.8 782.1,1828.9 783.5,1827.2 784.8,1828.6 786.2,1821.6 787.5,1823.2 788.9,1825.8 790.2,1821.0 791.6,1823.8 792.9,1823.5 794.3,1818.2 795.6,1822.0 797.0,1824.1 798.3,1828.2 799.7,1831.1 801.0,1831.2 802.4,1830.0 803.7,1832.8 805.1,1835.0 806.4,1839.1 807.8,1840.2 809.1,1838.5 810.5,1837.2 811.8,1840.9 813.2,1842.0 814.5,1841.7 815.9,1843.6 817.2,1842.6 818.6,1843.6 819.9,1844.7 821.3,1841.8 822.6,1848.2 824.0,1840.5 825.3,1841.0 826.7,1836.8 828.0,1837.1 829.4,1825.3 830.7,1825.2 832.1,1826.8 833.4,1826.9 834.8,1830.7 836.1,1824.4 837.5,1824.0 838.8,1822.6 840.2,1824.4 841.5,1824.8 842.9,1824.1 844.2,1827.0 845.6,1824.2 846.9,1831.3 848.3,1827.9 849.6,1830.9 851.0,1837.9 852.3,1833.4 853.7,1833.3 855.0,1837.1 856.4,1835.4 857.7,1832.8 859.1,1835.7 860.4,1837.9 861.8,1838.5 863.1,1834.0 864.5,1840.1 865.8,1841.4 867.2,1836.7 868.5,1835.8 869.9,1833.3 871.2,1838.9 872.6,1835.1 873.9,1838.8 875.3,1837.2 876.6,1836.9 878.0,1841.8 879.3,1845.8 880.7,1842.7 882.0,1837.8 883.4,1839.3 884.7,1835.8 886.1,1834.4 887.4,1836.2 888.8,1835.8 890.1,1832.8 891.5,1841.8 892.8,1839.1 894.2,1842.0 895.5,1840.0 896.9,1842.3 898.2,1838.7 899.6,1849.2 900.9,1852.0 902.3,1846.1 903.6,1844.4 905.0,1844.4 906.3,1853.8 907.7,1852.1 909.0,1853.3 910.4,1853.5 911.7,1854.7 913.1,1852.8 914.4,1856.1 915.8,1853.2 917.1,1855.0 918.5,1854.6 919.8,1853.2 921.2,1849.0 922.5,1844.0 923.9,1844.0 925.2,1840.4 926.6,1844.6 927.9,1845.0 929.3,1843.3 930.6,1842.4 932.0,1842.2 933.3,1842.2 934.7,1844.7 936.0,1848.2 937.4,1849.3 938.7,1849.3 940.1,1853.5 941.4,1846.0 942.8,1845.5 944.1,1853.4 945.5,1841.3 946.8,1841.2 948.2,1842.4 949.5,1841.9 950.9,1841.8 952.2,1839.0 953.6,1839.3 954.9,1837.7 956.3,1838.6 957.6,1830.4 959.0,1830.4 960.3,1832.4 961.7,1829.4 963.0,1827.9 964.4,1831.9 965.7,1828.7 967.1,1832.6 968.4,1835.7 969.8,1836.7 971.1,1838.9 972.5,1839.0 973.8,1834.2 975.2,1829.8 976.5,1824.8 977.9,1815.3 979.2,1809.7 980.6,1815.3 981.9,1814.2 983.3,1820.5 984.6,1828.1 986.0,1825.2 987.3,1828.4 988.7,1830.3 990.0,1837.2 991.4,1837.0 992.7,1840.1 994.1,1837.7 995.4,1840.4 996.8,1840.7 998.1,1831.8 999.5,1836.1 1000.8,1833.2 1002.2,1821.8 1003.5,1823.3 1004.9,1819.1 1006.2,1818.2 1007.6,1816.2 1008.9,1808.4 1010.3,1808.3 1011.6,1814.3 1013.0,1810.1 1014.3,1807.7 1015.7,1806.1 1017.0,1806.2 1018.4,1811.1 1019.7,1816.9 1021.1,1814.4 1022.4,1812.4 1023.8,1817.2 1025.1,1809.8 1026.5,1806.6 1027.8,1808.6 1029.2,1808.7 1030.5,1803.6 1031.9,1801.5 1033.2,1805.0 1034.6,1805.6 1035.9,1801.0 1037.3,1802.6 1038.6,1802.7 1040.0,1809.3 1041.3,1812.1 1042.7,1815.7 1044.0,1818.5 1045.4,1826.2 1046.7,1832.1 1048.1,1831.2 1049.4,1837.1 1050.8,1836.7 1052.1,1841.6 1053.5,1847.7 1054.8,1854.4 1056.2,1849.2 1057.5,1846.9 1058.9,1845.8 1060.2,1842.1 1061.6,1841.3 1062.9,1839.2 1064.3,1838.4 1065.6,1836.0 1067.0,1833.6 1068.3,1834.3 1069.7,1833.9 1071.0,1832.2 1072.4,1832.5 1073.7,1830.6 1075.1,1829.3 1076.4,1830.0 1077.8,1827.9 1079.1,1828.0 1080.5,1828.5 1081.8,1829.4 1083.2,1828.4 1084.5,1828.5 1085.9,1828.4 1087.2,1829.9 1088.6,1832.4 1089.9,1831.2 1091.3,1834.7 1092.6,1833.1 1094.0,1833.9 1095.3,1834.1 1096.7,1834.8 1098.0,1832.4 1099.4,1830.6 1100.7,1832.7 1102.1,1833.4 1103.4,1833.2 1104.8,1835.1 1106.1,1833.2 1107.5,1832.7 1108.8,1833.3 1110.2,1832.8 1111.5,1834.1 1112.9,1831.4 1114.2,1831.5 1115.6,1827.9 1116.9,1831.0 1118.3,1830.3 1119.6,1831.2 1121.0,1832.4 1122.3,1830.2 1123.7,1829.0 1125.0,1828.0 1126.4,1827.1 1127.7,1827.6 1129.1,1829.4 1130.4,1829.6 1131.8,1830.0 1133.1,1830.2 1134.5,1831.7 1135.8,1832.0 1137.2,1831.8 1138.5,1832.8 1139.9,1832.4 1141.2,1831.4 1142.6,1834.0 1143.9,1833.9 1145.3,1832.5 1146.6,1834.4 1148.0,1834.4 1149.3,1832.5"/>
<polyline fill="none" stroke="#000" stroke-width="1.4" stroke-linejoin="miter" stroke-miterlimit="4" points="126.3,1785.2 127.4,1795.7 128.7,1797.2 130.1,1800.2 131.4,1802.4 132.8,1804.8 134.1,1808.6 135.5,1804.3 136.8,1799.2 138.2,1795.5 139.5,1791.9 140.9,1793.5 142.2,1793.3 143.6,1794.8 144.9,1791.1 146.3,1788.8 147.6,1788.7 149.0,1786.0 150.3,1778.8 151.7,1785.0 153.0,1781.6 154.4,1782.1 155.7,1780.1 157.1,1788.9 158.4,1785.9 159.8,1782.4 161.1,1776.3 162.5,1780.4 163.8,1775.8 165.2,1780.4 166.5,1773.2 167.9,1775.2 169.2,1780.9 170.6,1778.8 171.9,1782.8 173.3,1785.7 174.6,1789.1 176.0,1784.1 177.3,1785.3 178.7,1789.0 180.0,1778.1 181.4,1778.2 182.7,1783.1 184.1,1781.9 185.4,1780.1 186.8,1789.0 188.1,1790.9 189.5,1792.7 190.8,1793.4 192.2,1792.3 193.5,1787.2 194.9,1780.8 196.2,1787.9 197.6,1785.0 198.9,1787.7 200.3,1788.8 201.6,1778.3 203.0,1774.0 204.3,1775.1 205.7,1768.3 207.0,1759.7 208.4,1763.1 209.7,1765.7 211.1,1769.3 212.4,1771.8 213.8,1771.0 215.1,1768.5 216.5,1769.6 217.8,1761.3 219.2,1765.5 220.5,1762.8 221.9,1757.9 223.2,1760.7 224.6,1767.9 225.9,1768.3 227.3,1769.3 228.6,1781.6 230.0,1792.2 231.3,1787.2 232.7,1784.4 234.0,1781.7 235.4,1776.3 236.7,1777.3 238.1,1777.2 239.4,1772.7 240.8,1772.2 242.1,1764.2 243.5,1772.4 244.8,1775.8 246.2,1781.7 247.5,1790.0 248.9,1792.0 250.2,1792.6 251.6,1790.9 252.9,1783.5 254.3,1787.8 255.6,1779.0 257.0,1777.1 258.3,1772.2 259.7,1766.1 261.0,1760.6 262.4,1754.2 263.7,1746.9 265.1,1745.6 266.4,1743.7 267.8,1741.1 269.1,1740.3 270.5,1739.0 271.8,1737.9 273.2,1737.8 274.5,1739.9 275.9,1741.2 277.2,1744.5 278.6,1744.4 279.9,1747.2 281.3,1749.8 282.6,1754.8 284.0,1760.4 285.3,1762.0 286.7,1765.9 288.0,1768.8 289.4,1768.4 290.7,1766.7 292.1,1767.8 293.4,1770.2 294.8,1770.3 296.1,1765.3 297.5,1776.8 298.8,1781.6 300.2,1798.4 301.5,1801.2 302.9,1792.3 304.2,1787.2 305.6,1787.0 306.9,1781.4 308.3,1778.1 309.6,1769.3 311.0,1768.6 312.3,1767.8 313.7,1762.9 315.0,1766.8 316.4,1768.4 317.7,1766.9 319.1,1770.1 320.4,1773.6 321.8,1769.7 323.1,1761.1 324.5,1752.8 325.8,1756.7 327.2,1757.6 328.5,1762.3 329.9,1769.0 331.2,1767.7 332.6,1762.7 333.9,1770.5 335.3,1767.3 336.6,1770.7 338.0,1762.5 339.3,1778.0 340.7,1772.8 342.0,1780.6 343.4,1789.6 344.7,1779.1 346.1,1776.9 347.4,1769.4 348.8,1776.0 350.1,1770.3 351.5,1764.0 352.8,1759.5 354.2,1758.5 355.5,1765.8 356.9,1763.3 358.2,1765.0 359.6,1760.5 360.9,1753.1 362.3,1763.0 363.6,1765.6 365.0,1764.7 366.3,1768.6 367.7,1778.9 369.0,1780.1 370.4,1772.5 371.7,1778.0 373.1,1772.9 374.4,1774.5 375.8,1769.1 377.1,1769.9 378.5,1775.8 379.8,1772.4 381.2,1776.3 382.5,1779.4 383.9,1778.0 385.2,1783.0 386.6,1780.9 387.9,1776.9 389.3,1778.3 390.6,1778.8 392.0,1777.7 393.3,1774.1 394.7,1776.7 396.0,1776.9 397.4,1773.2 398.7,1775.0 400.1,1783.6 401.4,1776.4 402.8,1777.4 404.1,1780.7 405.5,1774.7 406.8,1773.2 408.2,1769.9 409.5,1773.6 410.9,1769.9 412.2,1774.4 413.6,1772.3 414.9,1775.7 416.3,1770.9 417.6,1773.2 419.0,1781.5 420.3,1784.4 421.7,1775.6 423.0,1788.2 424.4,1786.3 425.7,1792.6 427.1,1796.5 428.4,1795.6 429.8,1796.3 431.1,1793.3 432.5,1794.0 433.8,1792.4 435.2,1777.2 436.5,1774.6 437.9,1767.4 439.2,1765.5 440.6,1759.2 441.9,1759.8 443.3,1760.8 444.6,1766.9 446.0,1766.0 447.3,1771.0 448.7,1775.8 450.0,1786.2 451.4,1785.9 452.7,1790.1 454.1,1781.1 455.4,1777.0 456.8,1774.7 458.1,1765.6 459.5,1770.1 460.8,1770.2 462.2,1773.3 463.5,1775.9 464.9,1775.0 466.2,1777.9 467.6,1779.3 468.9,1775.1 470.3,1778.1 471.6,1777.0 473.0,1775.8 474.3,1778.7 475.7,1782.8 477.0,1784.9 478.4,1789.0 479.7,1787.7 481.1,1787.6 482.4,1782.4 483.8,1784.0 485.1,1788.1 486.5,1784.4 487.8,1784.1 489.2,1792.2 490.5,1788.5 491.9,1784.1 493.2,1779.4 494.6,1781.6 495.9,1791.6 497.3,1782.8 498.6,1776.8 500.0,1770.4 501.3,1764.8 502.7,1765.7 504.0,1764.5 505.4,1762.6 506.7,1765.6 508.1,1760.4 509.4,1765.4 510.8,1773.0 512.1,1786.3 513.5,1790.5 514.8,1799.9 516.2,1788.5 517.5,1783.5 518.9,1774.4 520.2,1774.3 521.6,1774.7 522.9,1776.1 524.3,1772.9 525.6,1774.1 527.0,1781.0 528.3,1778.0 529.7,1779.6 531.0,1780.6 532.4,1773.6 533.7,1776.2 535.1,1770.8 536.4,1770.3 537.8,1765.0 539.1,1765.5 540.5,1770.0 541.8,1769.2 543.2,1763.8 544.5,1767.8 545.9,1769.6 547.2,1771.5 548.6,1773.8 549.9,1769.8 551.3,1779.5 552.6,1775.2 554.0,1781.1 555.3,1776.7 556.7,1774.0 558.0,1772.7 559.4,1770.4 560.7,1771.3 562.1,1772.4 563.4,1776.0 564.8,1778.6 566.1,1771.2 567.5,1775.9 568.8,1778.0 570.2,1778.0 571.5,1778.1 572.9,1776.5 574.2,1771.7 575.6,1770.5 576.9,1774.9 578.3,1772.4 579.6,1777.2 581.0,1773.8 582.3,1773.1 583.7,1775.7 585.0,1777.2 586.4,1780.9 587.7,1775.6 589.1,1776.9 590.4,1774.7 591.8,1769.1 593.1,1768.4 594.5,1767.7 595.8,1783.2 597.2,1796.8 598.5,1807.5 599.9,1804.0 601.2,1795.7 602.6,1783.9 603.9,1770.4 605.3,1772.0 606.6,1771.8 608.0,1775.5 609.3,1776.7 610.7,1778.4 612.0,1786.5 613.4,1781.9 614.7,1781.8 616.1,1781.4 617.4,1782.7 618.8,1778.6 620.1,1780.3 621.5,1775.1 622.8,1773.2 624.2,1773.3 625.5,1774.7 626.9,1774.8 628.2,1773.2 629.6,1775.0 630.9,1775.7 632.3,1782.0 633.6,1779.3 635.0,1784.2 636.3,1783.4 637.7,1790.0 639.0,1790.5 640.4,1789.4 641.7,1790.7 643.1,1789.7 644.4,1787.2 645.8,1782.3 647.1,1775.8 648.5,1771.3 649.8,1773.6 651.2,1776.0 652.5,1781.8 653.9,1782.6 655.2,1786.7 656.6,1789.1 657.9,1789.3 659.3,1788.4 660.6,1787.6 662.0,1798.9 663.3,1795.0 664.7,1788.4 666.0,1785.0 667.4,1783.9 668.7,1789.1 670.1,1783.7 671.4,1777.0 672.8,1781.1 674.1,1769.7 675.5,1776.4 676.8,1783.6 678.2,1777.6 679.5,1778.9 680.9,1778.6 682.2,1767.9 683.6,1774.6 684.9,1771.8 686.3,1761.8 687.6,1767.4 689.0,1762.5 690.3,1761.5 691.7,1759.3 693.0,1753.1 694.4,1744.4 695.7,1748.0 697.1,1748.0 698.4,1746.5 699.8,1747.0 701.1,1749.4 702.5,1754.6 703.8,1751.6 705.2,1755.2 706.5,1762.5 707.9,1766.4 709.2,1768.9 710.6,1770.5 711.9,1769.6 713.3,1776.7 714.6,1776.7 716.0,1781.6 717.3,1778.0 718.7,1778.4 720.0,1782.5 721.4,1786.4 722.7,1782.3 724.1,1779.7 725.4,1782.1 726.8,1776.9 728.1,1782.8 729.5,1777.0 730.8,1774.9 732.2,1780.2 733.5,1780.6 734.9,1787.2 736.2,1788.4 737.6,1788.4 738.9,1781.6 740.3,1786.2 741.6,1785.2 743.0,1781.7 744.3,1792.3 745.7,1784.3 747.0,1784.9 748.4,1785.6 749.7,1786.7 751.1,1789.7 752.4,1791.5 753.8,1787.2 755.1,1791.2 756.5,1793.3 757.8,1793.1 759.2,1797.0 760.5,1791.8 761.9,1790.2 763.2,1789.0 764.6,1786.2 765.9,1788.2 767.3,1792.0 768.6,1791.2 770.0,1788.8 771.3,1788.4 772.7,1791.8 774.0,1792.3 775.4,1782.9 776.7,1781.6 778.1,1788.2 779.4,1789.1 780.8,1789.1 782.1,1789.7 783.5,1784.3 784.8,1782.9 786.2,1788.1 787.5,1785.0 788.9,1788.6 790.2,1796.0 791.6,1787.1 792.9,1791.9 794.3,1796.6 795.6,1793.0 797.0,1783.8 798.3,1776.7 799.7,1774.6 801.0,1767.3 802.4,1767.2 803.7,1766.9 805.1,1767.2 806.4,1770.8 807.8,1769.6 809.1,1767.5 810.5,1768.3 811.8,1768.5 813.2,1768.7 814.5,1768.1 815.9,1771.6 817.2,1768.5 818.6,1771.9 819.9,1771.4 821.3,1772.0 822.6,1771.5 824.0,1769.2 825.3,1782.1 826.7,1779.8 828.0,1779.5 829.4,1785.6 830.7,1789.4 832.1,1785.4 833.4,1787.7 834.8,1793.2 836.1,1796.4 837.5,1795.2 838.8,1792.6 840.2,1793.1 841.5,1788.5 842.9,1789.8 844.2,1788.1 845.6,1783.6 846.9,1788.4 848.3,1789.3 849.6,1780.1 851.0,1781.3 852.3,1785.9 853.7,1780.3 855.0,1774.0 856.4,1775.5 857.7,1776.4 859.1,1776.8 860.4,1780.1 861.8,1782.2 863.1,1783.0 864.5,1775.6 865.8,1777.4 867.2,1783.3 868.5,1780.5 869.9,1777.9 871.2,1779.2 872.6,1786.5 873.9,1777.1 875.3,1776.7 876.6,1776.3 878.0,1773.8 879.3,1774.9 880.7,1774.8 882.0,1775.7 883.4,1781.2 884.7,1784.8 886.1,1788.1 887.4,1793.9 888.8,1795.6 890.1,1792.1 891.5,1788.2 892.8,1779.0 894.2,1777.6 895.5,1773.1 896.9,1768.4 898.2,1770.3 899.6,1769.7 900.9,1769.0 902.3,1770.5 903.6,1765.5 905.0,1767.1 906.3,1764.7 907.7,1764.6 909.0,1763.8 910.4,1766.8 911.7,1766.7 913.1,1765.7 914.4,1759.8 915.8,1761.7 917.1,1767.4 918.5,1769.0 919.8,1768.6 921.2,1768.1 922.5,1766.1 923.9,1769.9 925.2,1766.5 926.6,1770.1 927.9,1766.8 929.3,1767.0 930.6,1765.4 932.0,1770.0 933.3,1769.0 934.7,1770.7 936.0,1771.9 937.4,1771.2 938.7,1767.7 940.1,1769.6 941.4,1765.0 942.8,1765.9 944.1,1769.1 945.5,1767.6 946.8,1768.7 948.2,1770.3 949.5,1778.6 950.9,1770.0 952.2,1770.6 953.6,1779.5 954.9,1775.4 956.3,1779.0 957.6,1785.6 959.0,1778.4 960.3,1782.1 961.7,1786.9 963.0,1790.7 964.4,1787.3 965.7,1791.0 967.1,1787.5 968.4,1786.1 969.8,1781.1 971.1,1780.5 972.5,1778.6 973.8,1779.3 975.2,1783.4 976.5,1789.0 977.9,1799.3 979.2,1808.8 980.6,1805.5 981.9,1798.6 983.3,1797.4 984.6,1794.8 986.0,1789.9 987.3,1795.7 988.7,1788.3 990.0,1784.1 991.4,1781.8 992.7,1776.2 994.1,1775.2 995.4,1772.9 996.8,1771.8 998.1,1776.0 999.5,1771.2 1000.8,1781.8 1002.2,1786.8 1003.5,1788.6 1004.9,1790.8 1006.2,1788.6 1007.6,1794.0 1008.9,1799.4 1010.3,1802.0 1011.6,1801.0 1013.0,1799.1 1014.3,1802.8 1015.7,1804.0 1017.0,1795.6 1018.4,1801.3 1019.7,1799.0 1021.1,1792.4 1022.4,1793.4 1023.8,1795.1 1025.1,1800.3 1026.5,1794.5 1027.8,1796.5 1029.2,1791.8 1030.5,1790.8 1031.9,1794.0 1033.2,1787.9 1034.6,1787.6 1035.9,1787.7 1037.3,1786.2 1038.6,1784.3 1040.0,1784.6 1041.3,1789.8 1042.7,1783.4 1044.0,1785.2 1045.4,1780.6 1046.7,1780.9 1048.1,1776.3 1049.4,1768.6 1050.8,1764.5 1052.1,1768.9 1053.5,1757.4 1054.8,1758.5 1056.2,1760.5 1057.5,1767.1 1058.9,1768.4 1060.2,1770.6 1061.6,1770.9 1062.9,1772.2 1064.3,1774.1 1065.6,1776.9 1067.0,1779.5 1068.3,1782.0 1069.7,1781.9 1071.0,1785.5 1072.4,1786.4 1073.7,1787.2 1075.1,1786.6 1076.4,1788.9 1077.8,1790.1 1079.1,1789.9 1080.5,1788.9 1081.8,1789.0 1083.2,1793.3 1084.5,1791.8 1085.9,1793.2 1087.2,1791.7 1088.6,1790.8 1089.9,1790.7 1091.3,1788.5 1092.6,1787.4 1094.0,1784.2 1095.3,1784.5 1096.7,1784.7 1098.0,1786.2 1099.4,1785.0 1100.7,1787.5 1102.1,1786.0 1103.4,1786.9 1104.8,1786.5 1106.1,1787.2 1107.5,1787.1 1108.8,1789.2 1110.2,1788.9 1111.5,1788.1 1112.9,1786.4 1114.2,1790.5 1115.6,1789.9 1116.9,1789.6 1118.3,1788.7 1119.6,1790.6 1121.0,1788.9 1122.3,1790.7 1123.7,1791.3 1125.0,1791.4 1126.4,1790.7 1127.7,1788.7 1129.1,1790.9 1130.4,1789.4 1131.8,1789.5 1133.1,1787.5 1134.5,1787.0 1135.8,1786.0 1137.2,1786.5 1138.5,1785.7 1139.9,1784.1 1141.2,1783.7 1142.6,1784.3 1143.9,1783.8 1145.3,1785.5 1146.6,1786.8 1148.0,1786.9 1149.3,1785.3"/>
<path d="M126.3 1880.6h12.5M1150.0 1880.6h-12.5M126.3 1845.9h12.5M1150.0 1845.9h-12.5M126.3 1811.1h12.5M1150.0 1811.1h-12.5M126.3 1776.3h12.5M1150.0 1776.3h-12.5M126.3 1741.6h12.5M1150.0 1741.6h-12.5M126.3 1906.7h5.0M1150.0 1906.7h-5.0M126.3 1898.0h5.0M1150.0 1898.0h-5.0M126.3 1889.3h5.0M1150.0 1889.3h-5.0M126.3 1871.9h5.0M1150.0 1871.9h-5.0M126.3 1863.2h5.0M1150.0 1863.2h-5.0M126.3 1854.6h5.0M1150.0 1854.6h-5.0M126.3 1837.2h5.0M1150.0 1837.2h-5.0M126.3 1828.5h5.0M1150.0 1828.5h-5.0M126.3 1819.8h5.0M1150.0 1819.8h-5.0M126.3 1802.4h5.0M1150.0 1802.4h-5.0M126.3 1793.7h5.0M1150.0 1793.7h-5.0M126.3 1785.0h5.0M1150.0 1785.0h-5.0M126.3 1767.6h5.0M1150.0 1767.6h-5.0M126.3 1759.0h5.0M1150.0 1759.0h-5.0M126.3 1750.3h5.0M1150.0 1750.3h-5.0M126.3 1732.9h5.0M1150.0 1732.9h-5.0M126.3 1724.2h5.0M1150.0 1724.2h-5.0M126.3 1715.5h5.0M1150.0 1715.5h-5.0" stroke="#000" stroke-width="1.5" fill="none"/>
<path d="M228.7 1706.8v8.0M228.7 1915.4v-8.0M331.0 1706.8v8.0M331.0 1915.4v-8.0M433.4 1706.8v8.0M433.4 1915.4v-8.0M535.8 1706.8v8.0M535.8 1915.4v-8.0M638.1 1706.8v26.0M638.1 1915.4v-26.0M740.5 1706.8v8.0M740.5 1915.4v-8.0M842.9 1706.8v8.0M842.9 1915.4v-8.0M945.3 1706.8v8.0M945.3 1915.4v-8.0M1047.6 1706.8v8.0M1047.6 1915.4v-8.0" stroke="#000" stroke-width="1.7" fill="none"/>
<rect x="126.3" y="1706.8" width="1023.7" height="208.6" fill="none" stroke="#000" stroke-width="1.7"/>
<text transform="translate(118.6,1719.2) scale(0.975,1)" font-family='"DejaVu Sans","Liberation Sans",sans-serif' font-size="34" text-anchor="end" fill="#000" font-weight="normal">60</text>
<text transform="translate(118.6,1754.0) scale(0.975,1)" font-family='"DejaVu Sans","Liberation Sans",sans-serif' font-size="34" text-anchor="end" fill="#000" font-weight="normal">40</text>
<text transform="translate(118.6,1788.7) scale(0.975,1)" font-family='"DejaVu Sans","Liberation Sans",sans-serif' font-size="34" text-anchor="end" fill="#000" font-weight="normal">20</text>
<text transform="translate(118.6,1823.5) scale(0.975,1)" font-family='"DejaVu Sans","Liberation Sans",sans-serif' font-size="34" text-anchor="end" fill="#000" font-weight="normal">0</text>
<text transform="translate(118.6,1858.3) scale(0.975,1)" font-family='"DejaVu Sans","Liberation Sans",sans-serif' font-size="34" text-anchor="end" fill="#000" font-weight="normal">–20</text>
<text transform="translate(118.6,1893.0) scale(0.975,1)" font-family='"DejaVu Sans","Liberation Sans",sans-serif' font-size="34" text-anchor="end" fill="#000" font-weight="normal">–40</text>
<text transform="translate(118.6,1927.8) scale(0.975,1)" font-family='"DejaVu Sans","Liberation Sans",sans-serif' font-size="34" text-anchor="end" fill="#000" font-weight="normal">–60</text>
<text transform="translate(30.2,150.0) rotate(-90)" font-family='"DejaVu Sans","Liberation Sans",sans-serif' font-size="33" text-anchor="middle" textLength="101.0" lengthAdjust="spacingAndGlyphs">Ei (eV)</text>
<text transform="translate(29.7,378.8) rotate(-90)" font-family='"DejaVu Sans","Liberation Sans",sans-serif' font-size="33" text-anchor="middle" textLength="142.5" lengthAdjust="spacingAndGlyphs">V (km/s)</text>
<text transform="translate(73.8,629.8) rotate(-90)" font-family='"DejaVu Sans","Liberation Sans",sans-serif' font-size="33" text-anchor="middle" textLength="149.0" lengthAdjust="spacingAndGlyphs">Pvx (nPa)</text>
<text transform="translate(37.0,859.5) rotate(-90)" font-family='"DejaVu Sans","Liberation Sans",sans-serif' font-size="33" text-anchor="middle" textLength="95.0" lengthAdjust="spacingAndGlyphs">B (nT)</text>
<text transform="translate(30.2,1109.3) rotate(-90)" font-family='"DejaVu Sans","Liberation Sans",sans-serif' font-size="33" text-anchor="middle" textLength="101.0" lengthAdjust="spacingAndGlyphs">Ei (eV)</text>
<text transform="translate(29.7,1338.2) rotate(-90)" font-family='"DejaVu Sans","Liberation Sans",sans-serif' font-size="33" text-anchor="middle" textLength="142.5" lengthAdjust="spacingAndGlyphs">V (km/s)</text>
<text transform="translate(73.8,1588.9) rotate(-90)" font-family='"DejaVu Sans","Liberation Sans",sans-serif' font-size="33" text-anchor="middle" textLength="149.0" lengthAdjust="spacingAndGlyphs">Pvx (nPa)</text>
<text transform="translate(37.0,1817.9) rotate(-90)" font-family='"DejaVu Sans","Liberation Sans",sans-serif' font-size="33" text-anchor="middle" textLength="95.0" lengthAdjust="spacingAndGlyphs">B (nT)</text>
<text transform="translate(148.0,77.0) scale(0.950,1)" font-family='"Liberation Sans","DejaVu Sans",sans-serif' font-size="49" font-weight="bold" text-anchor="start" stroke="#000" stroke-width="0.7">a</text>
<text transform="translate(147.0,400.6) scale(1.050,1)" font-family='"Liberation Sans","DejaVu Sans",sans-serif' font-size="51.5" font-weight="bold" text-anchor="start" stroke="#000" stroke-width="0.7">b</text>
<text transform="translate(144.0,557.0) scale(0.900,1)" font-family='"Liberation Sans","DejaVu Sans",sans-serif' font-size="50" font-weight="bold" text-anchor="start" stroke="#000" stroke-width="0.7">c</text>
<text transform="translate(147.6,788.0) scale(1.000,1)" font-family='"Liberation Sans","DejaVu Sans",sans-serif' font-size="51.5" font-weight="bold" text-anchor="start" stroke="#000" stroke-width="0.7">d</text>
<text transform="translate(141.6,1029.6) scale(1.080,1)" font-family='"Liberation Sans","DejaVu Sans",sans-serif' font-size="49" font-weight="bold" text-anchor="start" stroke="#000" stroke-width="0.7">e</text>
<text transform="translate(146.0,1273.6) scale(1.120,1)" font-family='"Liberation Sans","DejaVu Sans",sans-serif' font-size="51.5" font-weight="bold" text-anchor="start" stroke="#000" stroke-width="0.7">f</text>
<text transform="translate(146.0,1520.0) scale(1.060,1)" font-family='"Liberation Sans","DejaVu Sans",sans-serif' font-size="52" font-weight="bold" text-anchor="start" stroke="#000" stroke-width="0.7">g</text>
<text transform="translate(144.5,1753.0) scale(1.050,1)" font-family='"Liberation Sans","DejaVu Sans",sans-serif' font-size="51.5" font-weight="bold" text-anchor="start" stroke="#000" stroke-width="0.7">h</text>
<text transform="translate(1127.1,83.6) scale(0.840,1)" font-family='"Liberation Sans","DejaVu Sans",sans-serif' font-size="52" font-weight="bold" text-anchor="end" stroke="#000" stroke-width="0.7">C1</text>
<text transform="translate(1128.5,466.0) scale(0.840,1)" font-family='"Liberation Sans","DejaVu Sans",sans-serif' font-size="52" font-weight="bold" text-anchor="end" stroke="#000" stroke-width="0.7">C1</text>
<text transform="translate(1126.5,566.0) scale(0.840,1)" font-family='"Liberation Sans","DejaVu Sans",sans-serif' font-size="52" font-weight="bold" text-anchor="end" stroke="#000" stroke-width="0.7">C1</text>
<text transform="translate(1123.9,950.0) scale(0.840,1)" font-family='"Liberation Sans","DejaVu Sans",sans-serif' font-size="52" font-weight="bold" text-anchor="end" stroke="#000" stroke-width="0.7">C1</text>
<text transform="translate(1126.7,1041.0) scale(0.977,1)" font-family='"Liberation Sans","DejaVu Sans",sans-serif' font-size="52" font-weight="bold" text-anchor="end" stroke="#000" stroke-width="0.7">MMS1</text>
<text transform="translate(1123.5,1279.0) scale(0.977,1)" font-family='"Liberation Sans","DejaVu Sans",sans-serif' font-size="52" font-weight="bold" text-anchor="end" stroke="#000" stroke-width="0.7">MMS1</text>
<text transform="translate(1123.9,1532.0) scale(0.977,1)" font-family='"Liberation Sans","DejaVu Sans",sans-serif' font-size="52" font-weight="bold" text-anchor="end" stroke="#000" stroke-width="0.7">MMS1</text>
<text transform="translate(1120.5,1755.0) scale(0.977,1)" font-family='"Liberation Sans","DejaVu Sans",sans-serif' font-size="52" font-weight="bold" text-anchor="end" stroke="#000" stroke-width="0.7">MMS1</text>
<line x1="1162.5" y1="319.9" x2="1203.0" y2="319.9" stroke="#ff0000" stroke-width="2.8"/>
<text transform="translate(1204.5,331.5) scale(1.060,1)" font-family='"DejaVu Sans","Liberation Sans",sans-serif' font-size="31.5" text-anchor="start" fill="#ff0000" font-weight="normal">Vx</text>
<line x1="1162.5" y1="358.9" x2="1203.0" y2="358.9" stroke="#00ff00" stroke-width="2.8"/>
<text transform="translate(1204.5,370.5) scale(1.060,1)" font-family='"DejaVu Sans","Liberation Sans",sans-serif' font-size="31.5" text-anchor="start" fill="#00ff00" font-weight="normal">Vy</text>
<line x1="1162.5" y1="398.5" x2="1203.0" y2="398.5" stroke="#0000ff" stroke-width="2.8"/>
<text transform="translate(1204.5,410.1) scale(1.060,1)" font-family='"DejaVu Sans","Liberation Sans",sans-serif' font-size="31.5" text-anchor="start" fill="#0000ff" font-weight="normal">Vz</text>
<line x1="1162.5" y1="437.5" x2="1203.0" y2="437.5" stroke="#000" stroke-width="2.8"/>
<text transform="translate(1204.5,449.1) scale(1.060,1)" font-family='"DejaVu Sans","Liberation Sans",sans-serif' font-size="31.5" text-anchor="start" fill="#000" font-weight="normal">Vt</text>
<line x1="1162.5" y1="799.4" x2="1203.0" y2="799.4" stroke="#ff0000" stroke-width="1.4"/>
<text transform="translate(1204.5,811.4) scale(1.060,1)" font-family='"DejaVu Sans","Liberation Sans",sans-serif' font-size="31.5" text-anchor="start" fill="#ff0000" font-weight="normal">Bx</text>
<line x1="1162.5" y1="838.7" x2="1203.0" y2="838.7" stroke="#00aa00" stroke-width="1.4"/>
<text transform="translate(1204.5,850.7) scale(1.060,1)" font-family='"DejaVu Sans","Liberation Sans",sans-serif' font-size="31.5" text-anchor="start" fill="#00aa00" font-weight="normal">By</text>
<line x1="1162.5" y1="878.0" x2="1203.0" y2="878.0" stroke="#0000b4" stroke-width="1.4"/>
<text transform="translate(1204.5,890.0) scale(1.060,1)" font-family='"DejaVu Sans","Liberation Sans",sans-serif' font-size="31.5" text-anchor="start" fill="#0000b4" font-weight="normal">Bz</text>
<line x1="1162.5" y1="917.0" x2="1203.0" y2="917.0" stroke="#000" stroke-width="1.4"/>
<text transform="translate(1204.5,929.0) scale(1.060,1)" font-family='"DejaVu Sans","Liberation Sans",sans-serif' font-size="31.5" text-anchor="start" fill="#000" font-weight="normal">Bt</text>
<line x1="1162.5" y1="1279.2" x2="1203.0" y2="1279.2" stroke="#ff0000" stroke-width="2.6"/>
<text transform="translate(1214.0,1290.8) scale(1.060,1)" font-family='"DejaVu Sans","Liberation Sans",sans-serif' font-size="31.5" text-anchor="start" fill="#ff0000" font-weight="normal">Vx</text>
<line x1="1162.5" y1="1318.3" x2="1203.0" y2="1318.3" stroke="#00aa00" stroke-width="2.6"/>
<text transform="translate(1214.0,1329.9) scale(1.060,1)" font-family='"DejaVu Sans","Liberation Sans",sans-serif' font-size="31.5" text-anchor="start" fill="#00aa00" font-weight="normal">Vy</text>
<line x1="1162.5" y1="1357.6" x2="1203.0" y2="1357.6" stroke="#0000b4" stroke-width="2.6"/>
<text transform="translate(1214.0,1369.2) scale(1.060,1)" font-family='"DejaVu Sans","Liberation Sans",sans-serif' font-size="31.5" text-anchor="start" fill="#0000b4" font-weight="normal">Vz</text>
<line x1="1162.5" y1="1396.5" x2="1203.0" y2="1396.5" stroke="#000" stroke-width="2.6"/>
<text transform="translate(1214.0,1408.1) scale(1.060,1)" font-family='"DejaVu Sans","Liberation Sans",sans-serif' font-size="31.5" text-anchor="start" fill="#000" font-weight="normal">Vt</text>
<line x1="1162.5" y1="1759.0" x2="1203.0" y2="1759.0" stroke="#ff0000" stroke-width="1.4"/>
<text transform="translate(1204.5,1771.0) scale(1.060,1)" font-family='"DejaVu Sans","Liberation Sans",sans-serif' font-size="31.5" text-anchor="start" fill="#ff0000" font-weight="normal">Bx</text>
<line x1="1162.5" y1="1798.0" x2="1203.0" y2="1798.0" stroke="#00aa00" stroke-width="1.4"/>
<text transform="translate(1204.5,1810.0) scale(1.060,1)" font-family='"DejaVu Sans","Liberation Sans",sans-serif' font-size="31.5" text-anchor="start" fill="#00aa00" font-weight="normal">By</text>
<line x1="1162.5" y1="1837.5" x2="1203.0" y2="1837.5" stroke="#0000b4" stroke-width="1.4"/>
<text transform="translate(1204.5,1849.5) scale(1.060,1)" font-family='"DejaVu Sans","Liberation Sans",sans-serif' font-size="31.5" text-anchor="start" fill="#0000b4" font-weight="normal">Bz</text>
<line x1="1162.5" y1="1876.5" x2="1203.0" y2="1876.5" stroke="#000" stroke-width="1.4"/>
<text transform="translate(1204.5,1888.5) scale(1.060,1)" font-family='"DejaVu Sans","Liberation Sans",sans-serif' font-size="31.5" text-anchor="start" fill="#000" font-weight="normal">Bt</text>
<defs><linearGradient id="cb38" x1="0" y1="1" x2="0" y2="0">
<stop offset="0.000" stop-color="#ffffff"/>
<stop offset="0.037" stop-color="#cdcdff"/>
<stop offset="0.067" stop-color="#7d7dff"/>
<stop offset="0.110" stop-color="#281eff"/>
<stop offset="0.140" stop-color="#0000ff"/>
<stop offset="0.180" stop-color="#002dff"/>
<stop offset="0.215" stop-color="#0078ff"/>
<stop offset="0.250" stop-color="#00beff"/>
<stop offset="0.290" stop-color="#00ffff"/>
<stop offset="0.325" stop-color="#00ffc8"/>
<stop offset="0.360" stop-color="#00ff96"/>
<stop offset="0.417" stop-color="#00ff3c"/>
<stop offset="0.466" stop-color="#00ff00"/>
<stop offset="0.510" stop-color="#3cff00"/>
<stop offset="0.570" stop-color="#82ff00"/>
<stop offset="0.632" stop-color="#d2ff00"/>
<stop offset="0.675" stop-color="#ffff00"/>
<stop offset="0.710" stop-color="#ffc800"/>
<stop offset="0.742" stop-color="#ffa000"/>
<stop offset="0.780" stop-color="#ff6400"/>
<stop offset="0.804" stop-color="#ff4600"/>
<stop offset="0.853" stop-color="#ff0000"/>
<stop offset="0.890" stop-color="#f01432"/>
<stop offset="0.914" stop-color="#c80a28"/>
<stop offset="0.940" stop-color="#960014"/>
<stop offset="0.970" stop-color="#5a0a14"/>
<stop offset="1.000" stop-color="#1e0f0f"/>
</linearGradient></defs>
<rect x="1193.4" y="38.3" width="36.7" height="208.4" fill="url(#cb38)" stroke="#000" stroke-width="1.7"/>
<path d="M1193.4 234.0h3.5M1230.1 234.0h-3.5M1193.4 226.6h3.5M1230.1 226.6h-3.5M1193.4 221.3h3.5M1230.1 221.3h-3.5M1193.4 217.2h3.5M1230.1 217.2h-3.5M1193.4 213.9h3.5M1230.1 213.9h-3.5M1193.4 211.0h3.5M1230.1 211.0h-3.5M1193.4 208.6h3.5M1230.1 208.6h-3.5M1193.4 206.4h3.5M1230.1 206.4h-3.5M1193.4 204.5h12.5M1230.1 204.5h-12.5M1193.4 191.8h3.5M1230.1 191.8h-3.5M1193.4 184.4h3.5M1230.1 184.4h-3.5M1193.4 179.1h3.5M1230.1 179.1h-3.5M1193.4 175.0h3.5M1230.1 175.0h-3.5M1193.4 171.7h3.5M1230.1 171.7h-3.5M1193.4 168.8h3.5M1230.1 168.8h-3.5M1193.4 166.4h3.5M1230.1 166.4h-3.5M1193.4 164.2h3.5M1230.1 164.2h-3.5M1193.4 162.3h12.5M1230.1 162.3h-12.5M1193.4 149.6h3.5M1230.1 149.6h-3.5M1193.4 142.2h3.5M1230.1 142.2h-3.5M1193.4 136.9h3.5M1230.1 136.9h-3.5M1193.4 132.8h3.5M1230.1 132.8h-3.5M1193.4 129.5h3.5M1230.1 129.5h-3.5M1193.4 126.6h3.5M1230.1 126.6h-3.5M1193.4 124.2h3.5M1230.1 124.2h-3.5M1193.4 122.0h3.5M1230.1 122.0h-3.5M1193.4 120.1h12.5M1230.1 120.1h-12.5M1193.4 107.4h3.5M1230.1 107.4h-3.5M1193.4 100.0h3.5M1230.1 100.0h-3.5M1193.4 94.7h3.5M1230.1 94.7h-3.5M1193.4 90.6h3.5M1230.1 90.6h-3.5M1193.4 87.3h3.5M1230.1 87.3h-3.5M1193.4 84.4h3.5M1230.1 84.4h-3.5M1193.4 82.0h3.5M1230.1 82.0h-3.5M1193.4 79.8h3.5M1230.1 79.8h-3.5M1193.4 77.9h12.5M1230.1 77.9h-12.5M1193.4 65.2h3.5M1230.1 65.2h-3.5M1193.4 57.8h3.5M1230.1 57.8h-3.5M1193.4 52.5h3.5M1230.1 52.5h-3.5M1193.4 48.4h3.5M1230.1 48.4h-3.5M1193.4 45.1h3.5M1230.1 45.1h-3.5M1193.4 42.2h3.5M1230.1 42.2h-3.5M1193.4 39.8h3.5M1230.1 39.8h-3.5" stroke="#000" stroke-width="1.3" fill="none"/>
<text x="1237.2" y="258.9" font-family='"DejaVu Sans","Liberation Sans",sans-serif' font-size="32" text-anchor="start">10<tspan dy="-14" font-size="26" dx="0.5">5</tspan></text>
<text x="1237.2" y="216.7" font-family='"DejaVu Sans","Liberation Sans",sans-serif' font-size="32" text-anchor="start">10<tspan dy="-14" font-size="26" dx="0.5">6</tspan></text>
<text x="1237.2" y="174.5" font-family='"DejaVu Sans","Liberation Sans",sans-serif' font-size="32" text-anchor="start">10<tspan dy="-14" font-size="26" dx="0.5">7</tspan></text>
<text x="1237.2" y="132.3" font-family='"DejaVu Sans","Liberation Sans",sans-serif' font-size="32" text-anchor="start">10<tspan dy="-14" font-size="26" dx="0.5">8</tspan></text>
<text x="1237.2" y="90.1" font-family='"DejaVu Sans","Liberation Sans",sans-serif' font-size="32" text-anchor="start">10<tspan dy="-14" font-size="26" dx="0.5">9</tspan></text>
<defs><linearGradient id="cb997" x1="0" y1="1" x2="0" y2="0">
<stop offset="0.000" stop-color="#ffffff"/>
<stop offset="0.037" stop-color="#cdcdff"/>
<stop offset="0.067" stop-color="#7d7dff"/>
<stop offset="0.110" stop-color="#281eff"/>
<stop offset="0.140" stop-color="#0000ff"/>
<stop offset="0.180" stop-color="#002dff"/>
<stop offset="0.215" stop-color="#0078ff"/>
<stop offset="0.250" stop-color="#00beff"/>
<stop offset="0.290" stop-color="#00ffff"/>
<stop offset="0.325" stop-color="#00ffc8"/>
<stop offset="0.360" stop-color="#00ff96"/>
<stop offset="0.417" stop-color="#00ff3c"/>
<stop offset="0.466" stop-color="#00ff00"/>
<stop offset="0.510" stop-color="#3cff00"/>
<stop offset="0.570" stop-color="#82ff00"/>
<stop offset="0.632" stop-color="#d2ff00"/>
<stop offset="0.675" stop-color="#ffff00"/>
<stop offset="0.710" stop-color="#ffc800"/>
<stop offset="0.742" stop-color="#ffa000"/>
<stop offset="0.780" stop-color="#ff6400"/>
<stop offset="0.804" stop-color="#ff4600"/>
<stop offset="0.853" stop-color="#ff0000"/>
<stop offset="0.890" stop-color="#f01432"/>
<stop offset="0.914" stop-color="#c80a28"/>
<stop offset="0.940" stop-color="#960014"/>
<stop offset="0.970" stop-color="#5a0a14"/>
<stop offset="1.000" stop-color="#1e0f0f"/>
</linearGradient></defs>
<rect x="1193.4" y="997.8" width="36.7" height="208.6" fill="url(#cb997)" stroke="#000" stroke-width="1.7"/>
<path d="M1193.4 1187.6h12.5M1230.1 1187.6h-12.5M1193.4 1178.1h3.5M1230.1 1178.1h-3.5M1193.4 1172.6h3.5M1230.1 1172.6h-3.5M1193.4 1168.7h3.5M1230.1 1168.7h-3.5M1193.4 1165.7h3.5M1230.1 1165.7h-3.5M1193.4 1163.2h3.5M1230.1 1163.2h-3.5M1193.4 1161.1h3.5M1230.1 1161.1h-3.5M1193.4 1159.2h3.5M1230.1 1159.2h-3.5M1193.4 1157.6h3.5M1230.1 1157.6h-3.5M1193.4 1156.2h12.5M1230.1 1156.2h-12.5M1193.4 1146.7h3.5M1230.1 1146.7h-3.5M1193.4 1141.2h3.5M1230.1 1141.2h-3.5M1193.4 1137.3h3.5M1230.1 1137.3h-3.5M1193.4 1134.3h3.5M1230.1 1134.3h-3.5M1193.4 1131.8h3.5M1230.1 1131.8h-3.5M1193.4 1129.7h3.5M1230.1 1129.7h-3.5M1193.4 1127.8h3.5M1230.1 1127.8h-3.5M1193.4 1126.2h3.5M1230.1 1126.2h-3.5M1193.4 1124.8h12.5M1230.1 1124.8h-12.5M1193.4 1115.3h3.5M1230.1 1115.3h-3.5M1193.4 1109.8h3.5M1230.1 1109.8h-3.5M1193.4 1105.9h3.5M1230.1 1105.9h-3.5M1193.4 1102.9h3.5M1230.1 1102.9h-3.5M1193.4 1100.4h3.5M1230.1 1100.4h-3.5M1193.4 1098.3h3.5M1230.1 1098.3h-3.5M1193.4 1096.4h3.5M1230.1 1096.4h-3.5M1193.4 1094.8h3.5M1230.1 1094.8h-3.5M1193.4 1093.4h12.5M1230.1 1093.4h-12.5M1193.4 1083.9h3.5M1230.1 1083.9h-3.5M1193.4 1078.4h3.5M1230.1 1078.4h-3.5M1193.4 1074.5h3.5M1230.1 1074.5h-3.5M1193.4 1071.5h3.5M1230.1 1071.5h-3.5M1193.4 1069.0h3.5M1230.1 1069.0h-3.5M1193.4 1066.9h3.5M1230.1 1066.9h-3.5M1193.4 1065.0h3.5M1230.1 1065.0h-3.5M1193.4 1063.4h3.5M1230.1 1063.4h-3.5M1193.4 1062.0h12.5M1230.1 1062.0h-12.5M1193.4 1052.5h3.5M1230.1 1052.5h-3.5M1193.4 1047.0h3.5M1230.1 1047.0h-3.5M1193.4 1043.1h3.5M1230.1 1043.1h-3.5M1193.4 1040.1h3.5M1230.1 1040.1h-3.5M1193.4 1037.6h3.5M1230.1 1037.6h-3.5M1193.4 1035.5h3.5M1230.1 1035.5h-3.5M1193.4 1033.6h3.5M1230.1 1033.6h-3.5M1193.4 1032.0h3.5M1230.1 1032.0h-3.5M1193.4 1030.6h12.5M1230.1 1030.6h-12.5M1193.4 1021.1h3.5M1230.1 1021.1h-3.5M1193.4 1015.6h3.5M1230.1 1015.6h-3.5M1193.4 1011.7h3.5M1230.1 1011.7h-3.5M1193.4 1008.7h3.5M1230.1 1008.7h-3.5M1193.4 1006.2h3.5M1230.1 1006.2h-3.5M1193.4 1004.1h3.5M1230.1 1004.1h-3.5M1193.4 1002.2h3.5M1230.1 1002.2h-3.5M1193.4 1000.6h3.5M1230.1 1000.6h-3.5M1193.4 999.2h12.5M1230.1 999.2h-12.5" stroke="#000" stroke-width="1.3" fill="none"/>
<text x="1239" y="1198.2" font-family='"DejaVu Sans","Liberation Sans",sans-serif' font-size="29.5" text-anchor="start">10<tspan dy="-13.2" font-size="24.5" dx="1.5">2</tspan></text>
<text x="1239" y="1166.8" font-family='"DejaVu Sans","Liberation Sans",sans-serif' font-size="29.5" text-anchor="start">10<tspan dy="-13.2" font-size="24.5" dx="1.5">3</tspan></text>
<text x="1239" y="1135.4" font-family='"DejaVu Sans","Liberation Sans",sans-serif' font-size="29.5" text-anchor="start">10<tspan dy="-13.2" font-size="24.5" dx="1.5">4</tspan></text>
<text x="1239" y="1104.0" font-family='"DejaVu Sans","Liberation Sans",sans-serif' font-size="29.5" text-anchor="start">10<tspan dy="-13.2" font-size="24.5" dx="1.5">5</tspan></text>
<text x="1239" y="1072.6" font-family='"DejaVu Sans","Liberation Sans",sans-serif' font-size="29.5" text-anchor="start">10<tspan dy="-13.2" font-size="24.5" dx="1.5">6</tspan></text>
<text x="1239" y="1041.2" font-family='"DejaVu Sans","Liberation Sans",sans-serif' font-size="29.5" text-anchor="start">10<tspan dy="-13.2" font-size="24.5" dx="1.5">7</tspan></text>
<text x="1239" y="1009.8" font-family='"DejaVu Sans","Liberation Sans",sans-serif' font-size="29.5" text-anchor="start">10<tspan dy="-13.2" font-size="24.5" dx="1.5">8</tspan></text>
<text transform="translate(1184.4,293.2) rotate(-90)" font-family='"DejaVu Sans","Liberation Sans",sans-serif' font-size="32.5" text-anchor="start" textLength="287.5" lengthAdjust="spacingAndGlyphs">keV/s.cm2.sr.keV</text>
<text transform="translate(1185,1247.8) rotate(-90)" font-family='"DejaVu Sans","Liberation Sans",sans-serif' font-size="32.5" text-anchor="start" textLength="283.5" lengthAdjust="spacingAndGlyphs">keV/cm2.s.sr.keV</text>
<text y="1974" font-family='"DejaVu Sans","Liberation Sans",sans-serif' font-size="34"><tspan x="63.5" textLength="40.3" lengthAdjust="spacingAndGlyphs">25</tspan><tspan x="105.5" dy="-14.9" font-size="26">m</tspan><tspan x="129.8" dy="14.9" textLength="42.2" lengthAdjust="spacingAndGlyphs">00</tspan><tspan x="173.6" dy="-14.9" font-size="26">s</tspan></text>
<text y="1974" font-family='"DejaVu Sans","Liberation Sans",sans-serif' font-size="34"><tspan x="575.5" textLength="40.3" lengthAdjust="spacingAndGlyphs">30</tspan><tspan x="617.5" dy="-14.9" font-size="26">m</tspan><tspan x="641.8" dy="14.9" textLength="42.2" lengthAdjust="spacingAndGlyphs">00</tspan><tspan x="685.6" dy="-14.9" font-size="26">s</tspan></text>
<text y="1974" font-family='"DejaVu Sans","Liberation Sans",sans-serif' font-size="34"><tspan x="1087.0" textLength="40.3" lengthAdjust="spacingAndGlyphs">35</tspan><tspan x="1129.0" dy="-14.9" font-size="26">m</tspan><tspan x="1153.3" dy="14.9" textLength="42.2" lengthAdjust="spacingAndGlyphs">00</tspan><tspan x="1197.1" dy="-14.9" font-size="26">s</tspan></text>
<text y="2022.8" font-family='"DejaVu Sans","Liberation Sans",sans-serif' font-size="34"><tspan x="41.6" textLength="258.5" lengthAdjust="spacingAndGlyphs">2017/02/07 00</tspan><tspan x="300.6" dy="-14.2" font-size="26">h</tspan></text>
<text transform="translate(637.8,2022.6) scale(0.975,1)" font-family='"DejaVu Sans","Liberation Sans",sans-serif' font-size="33.5" text-anchor="middle" fill="#000" font-weight="normal">Time</text>
</svg></body></html>
